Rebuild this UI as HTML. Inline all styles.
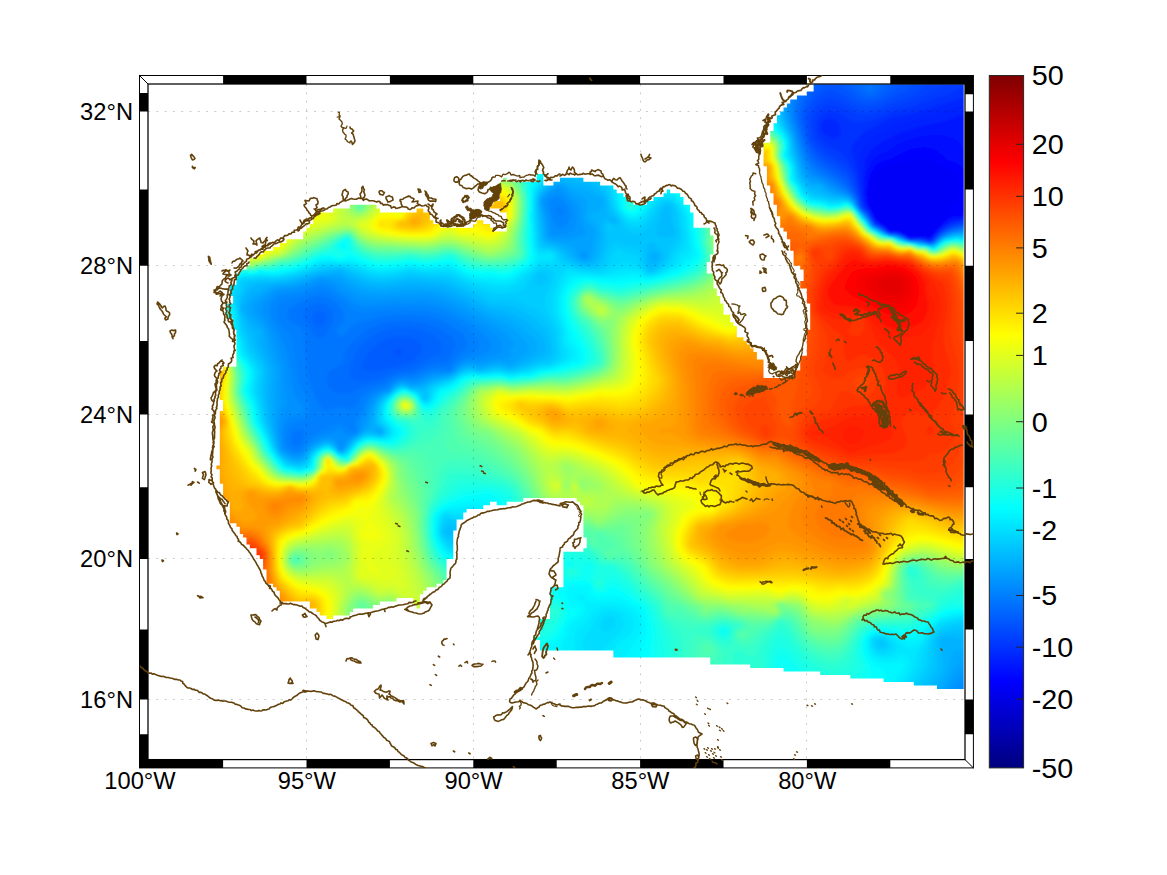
<!DOCTYPE html>
<html><head><meta charset="utf-8"><title>map</title><style>
html,body{margin:0;padding:0;background:#fff;}
body{width:1167px;height:875px;overflow:hidden;font-family:"Liberation Sans",sans-serif;}
svg{display:block;}
text{font-family:"Liberation Sans",sans-serif;fill:#000;}
</style></head><body>
<svg width="1167" height="875" viewBox="0 0 1167 875">
<rect width="1167" height="875" fill="#fff"/>

<defs><clipPath id="dm"><path d="M313.2 216.3L313.2 224.0L309.8 224.0L309.8 227.8L306.5 227.8L306.5 231.6L303.2 231.6L303.2 239.3L286.5 239.3L286.5 243.1L279.8 243.1L279.8 246.9L273.1 246.9L273.1 250.7L263.1 250.7L263.1 254.5L256.5 254.5L256.5 258.3L249.8 258.3L249.8 265.8L246.5 265.8L246.5 269.6L239.8 269.6L239.8 273.4L236.4 273.4L236.4 284.7L229.8 284.7L229.8 296.0L233.1 296.0L233.1 303.5L226.4 303.5L226.4 318.5L233.1 318.5L233.1 329.7L236.4 329.7L236.4 366.8L223.1 366.8L223.1 370.5L219.8 370.5L219.8 400.0L223.1 400.0L223.1 411.0L219.8 411.0L219.8 465.6L216.4 465.6L216.4 469.2L219.8 469.2L219.8 483.7L223.1 483.7L223.1 498.1L226.4 498.1L226.4 501.7L229.8 501.7L229.8 523.2L236.4 523.2L236.4 526.8L239.8 526.8L239.8 533.9L243.1 533.9L243.1 537.5L246.5 537.5L246.5 544.6L249.8 544.6L249.8 548.2L256.5 548.2L256.5 555.3L259.8 555.3L259.8 558.9L263.1 558.9L263.1 569.5L266.5 569.5L266.5 583.7L273.1 583.7L273.1 587.3L276.5 587.3L276.5 590.8L279.8 590.8L279.8 601.4L309.8 601.4L309.8 608.5L316.5 608.5L316.5 612.0L319.8 612.0L319.8 615.5L326.5 615.5L326.5 619.0L333.2 619.0L333.2 615.5L349.9 615.5L349.9 612.0L353.2 612.0L353.2 608.5L373.2 608.5L373.2 604.9L379.9 604.9L379.9 601.4L396.6 601.4L396.6 597.9L413.3 597.9L413.3 604.9L416.6 604.9L416.6 608.5L419.9 608.5L419.9 594.3L423.3 594.3L423.3 590.8L426.6 590.8L426.6 587.3L436.6 587.3L436.6 583.7L443.3 583.7L443.3 580.2L446.6 580.2L446.6 558.9L453.3 558.9L453.3 530.4L456.6 530.4L456.6 519.6L463.3 519.6L463.3 512.4L466.6 512.4L466.6 508.9L483.3 508.9L483.3 505.3L490.0 505.3L490.0 501.7L496.7 501.7L496.7 505.3L506.7 505.3L506.7 501.7L523.3 501.7L523.3 498.1L576.7 498.1L576.7 501.7L580.1 501.7L580.1 505.3L583.4 505.3L583.4 537.5L586.7 537.5L586.7 548.2L583.4 548.2L583.4 551.8L563.4 551.8L563.4 587.3L550.0 587.3L550.0 619.0L540.0 619.0L540.0 636.6L533.3 636.6L533.3 640.1L540.0 640.1L540.0 650.6L613.4 650.6L613.4 657.6L710.2 657.6L710.2 664.6L750.2 664.6L750.2 668.1L783.5 668.1L783.5 671.6L820.2 671.6L820.2 675.1L850.3 675.1L850.3 678.6L883.6 678.6L883.6 682.1L913.7 682.1L913.7 685.6L937.0 685.6L937.0 689.1L963.7 689.1L963.7 95.6L796.9 95.6L796.9 99.6L790.2 99.6L790.2 103.5L786.9 103.5L786.9 107.5L783.5 107.5L783.5 111.4L780.2 111.4L780.2 115.3L776.9 115.3L776.9 123.2L773.5 123.2L773.5 131.1L770.2 131.1L770.2 142.8L763.5 142.8L763.5 166.2L766.9 166.2L766.9 185.5L770.2 185.5L770.2 193.3L773.5 193.3L773.5 204.8L776.9 204.8L776.9 216.3L780.2 216.3L780.2 227.8L783.5 227.8L783.5 231.6L786.9 231.6L786.9 239.3L790.2 239.3L790.2 250.7L793.6 250.7L793.6 265.8L800.2 265.8L800.2 269.6L803.6 269.6L803.6 281.0L800.2 281.0L800.2 288.5L806.9 288.5L806.9 303.5L810.2 303.5L810.2 329.7L806.9 329.7L806.9 355.7L800.2 355.7L800.2 370.5L793.6 370.5L793.6 377.9L763.5 377.9L763.5 359.4L756.9 359.4L756.9 352.0L753.5 352.0L753.5 348.3L750.2 348.3L750.2 344.6L746.9 344.6L746.9 340.9L743.5 340.9L743.5 337.2L736.8 337.2L736.8 326.0L733.5 326.0L733.5 322.2L730.2 322.2L730.2 314.8L723.5 314.8L723.5 303.5L720.2 303.5L720.2 296.0L716.8 296.0L716.8 288.5L713.5 288.5L713.5 273.4L706.8 273.4L706.8 262.1L710.2 262.1L710.2 254.5L713.5 254.5L713.5 235.4L710.2 235.4L710.2 227.8L693.5 227.8L693.5 212.5L690.1 212.5L690.1 204.8L683.5 204.8L683.5 197.1L680.1 197.1L680.1 193.3L670.1 193.3L670.1 189.4L666.8 189.4L666.8 193.3L663.5 193.3L663.5 197.1L653.4 197.1L653.4 201.0L646.8 201.0L646.8 204.8L633.4 204.8L633.4 201.0L626.8 201.0L626.8 197.1L623.4 197.1L623.4 193.3L616.7 193.3L616.7 189.4L613.4 189.4L613.4 185.5L600.1 185.5L600.1 181.7L583.4 181.7L583.4 177.8L560.0 177.8L560.0 181.7L553.4 181.7L553.4 185.5L543.4 185.5L543.4 173.9L536.7 173.9L536.7 181.7L506.7 181.7L506.7 177.8L503.3 177.8L503.3 181.7L500.0 181.7L500.0 201.0L493.3 201.0L493.3 204.8L490.0 204.8L490.0 208.6L500.0 208.6L500.0 212.5L506.7 212.5L506.7 231.6L493.3 231.6L493.3 227.8L490.0 227.8L490.0 224.0L483.3 224.0L483.3 220.2L476.6 220.2L476.6 224.0L473.3 224.0L473.3 227.8L439.9 227.8L439.9 224.0L433.3 224.0L433.3 220.2L429.9 220.2L429.9 212.5L423.3 212.5L423.3 208.6L416.6 208.6L416.6 212.5L379.9 212.5L379.9 208.6L376.6 208.6L376.6 204.8L349.9 204.8L349.9 208.6L333.2 208.6L333.2 212.5L316.5 212.5L316.5 216.3ZM963.7 84.3L813.6 84.3L813.6 91.6L806.9 91.6L806.9 95.6L963.7 95.6Z"/></clipPath><filter id="bl" x="-2%" y="-2%" width="104%" height="104%"><feGaussianBlur stdDeviation="1.5"/></filter></defs>
<g clip-path="url(#dm)"><g filter="url(#bl)">
<rect x="204" y="71" width="773" height="631" fill="#0000f8"/>
<path fill="#0006ff" d="M211.6 464.1l-.1 6.1 3.3 3.7 0 10.3 3.3 4.2 .4 11.6 6.3 6.4 .4 18.7 2.2 2.5 4.3 .6 3.1 3.3 .4 4.3 6.3 6.4 .8 5.2 4.7 5 4.5 .8 .8 4.9 5.8 5.5 .2 7.4 3.2 3.3 .8 12.2 6.1 2.2 6.4 6.8 .2 7.4 2.5 2.9 27.3 .6 1.9 5.9 5 1.2 5 5.9 5 1.1 3.4 3.3 9.5 0 3.4-3.3 13.3-.2 6.7-6.8 16.2-.1 3.8-3.5 4.7-.8 2-2.7 12.8-.1 3.9-3.4 6.9 0 .8 4.8 5.6 5.4 8.4-.8 1.8-3.3 0-9.9 3.2-3.5 3.3-3.3 6.7-.2 3.3-3.4 4.2-.6 5.4-5.6 .6-18.6 4.5-.9 2.1-3.1 .1-24.8 3.1-3.3 .2-7.2 5.2-1.5 1.5-5.9 3.1-3.3 12.9-.1 3.8-3.5 5.2-1.3 2.9 1.2 11.4 0 3.9-3.5 13.3-.2 3.3-3.4 43.8 0 6.5 6.9 0 28 3.3 5.5-3.1 3.3-16.2 .1-3.6 2.9-.4 32.5-9.3 .1-3.5 2.5-.6 29.1-6 .1-2.8 1.8-1.2 15.7-4.4 .9-2.2 3.1 .5 6.9 2.5 2.2 3.6 .4 .2 7 2.5 3 70.7 .5 .9 4.8 4.1 2.2 91.8 0 .8 4.8 3.7 2.2 35.7 0 3.8 3.4 29.6 .1 4.3 3.5 32.4 0 3.8 3.4 26.2 .1 4.3 3.5 29.1 0 4.2 3.5 25.8 0 3.3 3.3 20 .2 4.3 3.4 29.5-.5 2.7-4.4-.6-607.2-4.4-2.6-151.1 .1-3.4 2.5-.6 4.7-4.5 .9-2.1 3.1-7 .4-3 3.6-5 1.1-14.3 16.9-.8 5.9-3.1 3.3-.3 4.5-3.1 3.3-.2 8.2-4 .6-2.5 2.9-.1 25.8 3.3 3.8 .1 15.6 3.2 3.7 .6 5.4 2.7 2.4 .1 7.8 3.3 3.7 .4 8.7 2.9 2.8 .2 8.3 6.5 7 .4 4.9 2.9 2.8 .2 8.1 3.2 3.3 .3 12.4 2.3 2.4 4.2 .6 3.2 3.5-3.3 5.7 0 9.5 2.2 3.1 4.4 .9 .1 11 3.2 3.7 0 16.8-3.3 4.2 0 21.5-5.8 2.2-.9 12.6-5.5 1.9-1.1 5.5-20.1 0-.8-16.3-5.8-2.2-.9-5.2-13.9-15.6-5.3-1.4-.3-8.1-6.3-6.6-.6-5.1-2.5-2.3-3.6-.3-.4-8.2-2.9-2.8-.3-4.2-3.1-3.3-.6-5.2-2.7-2.3-.4-12.3-2.3-2.5-4-.6 3-4.4 .4-4.8 3.3-4.2 0-20.1-3.3-4.2-.6-5.3-3.5-2.5-12.6-.1-.1-11.3-3.3-3.7-.8-5.8-5.8-2.2-.6-5-4.6-5.4-8.3-1.1-3.4-3.7-6.7 .2-6.3 7.3-7.1 .4-2.9 3.5-5 1.1-1.7 2.7-3.6 0-2.5-3.3-4.2-.5-5.4-6.9-4.6-.8-5.8-7.2-10.9-.6-3.9-3.7-12.7-.1-3.9-3.8-25.3 0-3.9 3.8-4.6 .8-2.1 3-.5-8.5-3.7-3-10.4 .8-2 2.7-.2 4.2-20.2 0-2.9-3.5-6.3-.3-7.1 7.3-.2 15.8-4.9 1.1-5.1 7.7 .1 4.8 1.7 2.9 8.3 1.1 2.5 3.3 4.1 .6 0 9.1-3.5 0-5-6.5-5-1.1-4.4-3.8-9.5 .5-5.9 7.1-23.6 0-1.7-2.7-5-1.1-3.2-3.6-1.4-6.5-5.4-1.4-4.3-3.8-8.7 .2-3.4 3.6-27 0-7.2-7.6-27.6-.1-3.2 1.1-1.7 2.7-12.3 .1-4.4 3.8-14.1 .6-5.4 5.9-.6 5.3-9.2 9.5-.8 5.5-13.6 .3-3 3.5-5 1.1-1.6 2.7-4.6 .8-2.1 3-7.1 .3-2.9 3.5-5 1.1-1.7 2.7-4.6 .8-2 2.7-.2 4.3-3.2 3.5-5 1.2-4.3 4.8-.9 9.1-4 .6-2.2 2.5 .3 15.8-4 3.9 0 16.5 2.2 3.7 4.4 .8 .2 7.7 3.1 3.2 0 27.4-10.2 .4-6.3 7.3-.1 31 3.3 5.8-3.3 4.2 0 50.4zM910 159.3l6-.8 6 0 6 .9 6 2.1 12.4 6.5 6.5 4 4 4 1.3 2 1.3 4 .6 4-.1 6-2 8.9-2 3-6 .9-.7 1.2 .7 1.6 .8 .4 1.6 2-.6 2-11.8 12.7-8 9.7-2 1.9-2 .7-10-.5-8 .5-2-.9-4-2.9-6-2.2-8-.7-12.7-10.3-5.3-10.4-3.1-7.6-.4-8 1.5-9.2 2.5-6.8 3.8-6 3.7-3.3 4-2.2z"/>
<path fill="#000eff" d="M211.6 464.1l-.1 6.1 3.3 3.7 0 10.3 3.3 4.2 .4 11.6 6.3 6.4 .4 18.7 2.2 2.5 4.3 .6 3.1 3.3 .4 4.3 6.3 6.4 .8 5.2 4.7 5 4.5 .8 .8 4.9 5.8 5.5 .2 7.4 3.2 3.3 .8 12.2 6.1 2.2 6.4 6.8 .2 7.4 2.5 2.9 27.3 .6 1.9 5.9 5 1.2 5 5.9 5 1.1 3.4 3.3 9.5 0 3.4-3.3 13.3-.2 6.7-6.8 16.2-.1 3.8-3.5 4.7-.8 2-2.7 12.8-.1 3.9-3.4 6.9 0 .8 4.8 5.6 5.4 8.4-.8 1.8-3.3 0-9.9 3.2-3.5 3.3-3.3 6.7-.2 3.3-3.4 4.2-.6 5.4-5.6 .6-18.6 4.5-.9 2.1-3.1 .1-24.8 3.1-3.3 .2-7.2 5.2-1.5 1.5-5.9 3.1-3.3 12.9-.1 3.8-3.5 5.2-1.3 2.9 1.2 11.4 0 3.9-3.5 13.3-.2 3.3-3.4 43.8 0 6.5 6.9 0 28 3.3 5.5-3.1 3.3-16.2 .1-3.6 2.9-.4 32.5-9.3 .1-3.5 2.5-.6 29.1-6 .1-2.8 1.8-1.2 15.7-4.4 .9-2.2 3.1 .5 6.9 2.5 2.2 3.6 .4 .2 7 2.5 3 70.7 .5 .9 4.8 4.1 2.2 91.8 0 .8 4.8 3.7 2.2 35.7 0 3.8 3.4 29.6 .1 4.3 3.5 32.4 0 3.8 3.4 26.2 .1 4.3 3.5 29.1 0 4.2 3.5 25.8 0 3.3 3.3 20 .2 4.3 3.4 29.5-.5 2.7-4.4-.6-607.2-4.4-2.6-151.1 .1-3.4 2.5-.6 4.7-4.5 .9-2.1 3.1-7 .4-3 3.6-5 1.1-14.3 16.9-.8 5.9-3.1 3.3-.3 4.5-3.1 3.3-.2 8.2-4 .6-2.5 2.9-.1 25.8 3.3 3.8 .1 15.6 3.2 3.7 .6 5.4 2.7 2.4 .1 7.8 3.3 3.7 .4 8.7 2.9 2.8 .2 8.3 6.5 7 .4 4.9 2.9 2.8 .2 8.1 3.2 3.3 .3 12.4 2.3 2.4 4.2 .6 3.2 3.5-3.3 5.7 0 9.5 2.2 3.1 4.4 .9 .1 11 3.2 3.7 0 16.8-3.3 4.2 0 21.5-5.8 2.2-.9 12.6-5.5 1.9-1.1 5.5-20.1 0-.8-16.3-5.8-2.2-.9-5.2-13.9-15.6-5.3-1.4-.3-8.1-6.3-6.6-.6-5.1-2.5-2.3-3.6-.3-.4-8.2-2.9-2.8-.3-4.2-3.1-3.3-.6-5.2-2.7-2.3-.4-12.3-2.3-2.5-4-.6 3-4.4 .4-4.8 3.3-4.2 0-20.1-3.3-4.2-.6-5.3-3.5-2.5-12.6-.1-.1-11.3-3.3-3.7-.8-5.8-5.8-2.2-.6-5-4.6-5.4-8.3-1.1-3.4-3.7-6.7 .2-6.3 7.3-7.1 .4-2.9 3.5-5 1.1-1.7 2.7-3.6 0-2.5-3.3-4.2-.5-5.4-6.9-4.6-.8-5.8-7.2-10.9-.6-3.9-3.7-12.7-.1-3.9-3.8-25.3 0-3.9 3.8-4.6 .8-2.1 3-.5-8.5-3.7-3-10.4 .8-2 2.7-.2 4.2-20.2 0-2.9-3.5-6.3-.3-7.1 7.3-.2 15.8-4.9 1.1-5.1 7.7 .1 4.8 1.7 2.9 8.3 1.1 2.5 3.3 4.1 .6 0 9.1-3.5 0-5-6.5-5-1.1-4.4-3.8-9.5 .5-5.9 7.1-23.6 0-1.7-2.7-5-1.1-3.2-3.6-1.4-6.5-5.4-1.4-4.3-3.8-8.7 .2-3.4 3.6-27 0-7.2-7.6-27.6-.1-3.2 1.1-1.7 2.7-12.3 .1-4.4 3.8-14.1 .6-5.4 5.9-.6 5.3-9.2 9.5-.8 5.5-13.6 .3-3 3.5-5 1.1-1.6 2.7-4.6 .8-2.1 3-7.1 .3-2.9 3.5-5 1.1-1.7 2.7-4.6 .8-2 2.7-.2 4.3-3.2 3.5-5 1.2-4.3 4.8-.9 9.1-4 .6-2.2 2.5 .3 15.8-4 3.9 0 16.5 2.2 3.7 4.4 .8 .2 7.7 3.1 3.2 0 27.4-10.2 .4-6.3 7.3-.1 31 3.3 5.8-3.3 4.2 0 50.4zM918 147.4l6-.3 6 .7 4 1.2 4 2.2 10 8.5 8 3.1 5.1 3.2 2.9 3.4 1.4 2.6 1.6 6 .3 6-.5 6-2.9 20-1.4 6-.5 .4-8-.3-4 1.6-4 2.9-4 3.7-10.3 11.7-1.7 1.5-2 .5-10-1-8 1-8-4.9-6-1.6-6-.5-6-4.9-5.9-4.1-1.8-2-8.2-16-1-4-.1-10 1.6-10 1.4-4.8 2-4.6 4-5.5 2-1.7 4-2.3 10-2.8 8-4.8 6-3 6-2z"/>
<path fill="#0017ff" d="M968.2 205l-2.1 7-2.1 4.1-2 1.5-8 .8-6 2.6-8 6.7-10 11-12-1.2-8 1.1-6-4-4-1.7-4-.8-6-.3-6-5.1-7.1-4.7-1.5-2-8.8-16-.9-4-.5-10 .7-10 1.4-8 2.7-7.8 2.6-4.2 5.4-4.8 10-4.5 10-6.8 10-4.5 10-2.7 12-1.7 10 .1 8 1.3 4.8 1.6 5.2 3.6 6 6.7 4.2 6-.1-72.4-4.4-2.6-151.1 .1-3.4 2.5-.6 4.7-4.5 .9-2.1 3.1-7 .4-3 3.6-5 1.1-14.3 16.9-.8 5.9-3.1 3.3-.3 4.5-3.1 3.3-.2 8.2-4 .6-2.5 2.9-.1 25.8 3.3 3.8 .1 15.6 3.2 3.7 .6 5.4 2.7 2.4 .1 7.8 3.3 3.7 .4 8.7 2.9 2.8 .2 8.3 6.5 7 .4 4.9 2.9 2.8 .2 8.1 3.2 3.3 .3 12.4 2.3 2.4 4.2 .6 3.2 3.5-3.3 5.7 0 9.5 2.2 3.1 4.4 .9 .1 11 3.2 3.7 0 16.8-3.3 4.2 0 21.5-5.8 2.2-.9 12.6-5.5 1.9-1.1 5.5-20.1 0-.8-16.3-5.8-2.2-.9-5.2-13.9-15.6-5.3-1.4-.3-8.1-6.3-6.6-.6-5.1-2.5-2.3-3.6-.3-.4-8.2-2.9-2.8-.3-4.2-3.1-3.3-.6-5.2-2.7-2.3-.4-12.3-2.3-2.5-4-.6 3-4.4 .4-4.8 3.3-4.2 0-20.1-3.3-4.2-.6-5.3-3.5-2.5-12.6-.1-.1-11.3-3.3-3.7-.8-5.8-5.8-2.2-.6-5-4.6-5.4-8.3-1.1-3.4-3.7-6.7 .2-6.3 7.3-7.1 .4-2.9 3.5-5 1.1-1.7 2.7-3.6 0-2.5-3.3-4.2-.5-5.4-6.9-4.6-.8-5.8-7.2-10.9-.6-3.9-3.7-12.7-.1-3.9-3.8-25.3 0-3.9 3.8-4.6 .8-2.1 3-.5-8.5-3.7-3-10.4 .8-2 2.7-.2 4.2-20.2 0-2.9-3.5-6.3-.3-7.1 7.3-.2 15.8-4.9 1.1-5.1 7.7 .1 4.8 1.7 2.9 8.3 1.1 2.5 3.3 4.1 .6 0 9.1-3.5 0-5-6.5-5-1.1-4.4-3.8-9.5 .5-5.9 7.1-23.6 0-1.7-2.7-5-1.1-3.2-3.6-1.4-6.5-5.4-1.4-4.3-3.8-8.7 .2-3.4 3.6-27 0-7.2-7.6-27.6-.1-3.2 1.1-1.7 2.7-12.3 .1-4.4 3.8-14.1 .6-5.4 5.9-.6 5.3-9.2 9.5-.8 5.5-13.6 .3-3 3.5-5 1.1-1.6 2.7-4.6 .8-2.1 3-7.1 .3-2.9 3.5-5 1.1-1.7 2.7-4.6 .8-2 2.7-.2 4.3-3.2 3.5-5 1.2-4.3 4.8-.9 9.1-4 .6-2.2 2.5 .3 15.8-4 3.9 0 16.5 2.2 3.7 4.4 .8 .2 7.7 3.1 3.2 0 27.4-10.2 .4-6.3 7.3-.1 31 3.3 5.8-3.3 4.2 0 50.4-3.2 3.2-.1 6.1 3.3 3.7 0 10.3 3.3 4.2 .4 11.6 6.3 6.4 .4 18.7 2.2 2.5 4.3 .6 3.1 3.3 .4 4.3 6.3 6.4 .8 5.2 4.7 5 4.5 .8 .8 4.9 5.8 5.5 .2 7.4 3.2 3.3 .8 12.2 6.1 2.2 6.4 6.8 .2 7.4 2.5 2.9 27.3 .6 1.9 5.9 5 1.2 5 5.9 5 1.1 3.4 3.3 9.5 0 3.4-3.3 13.3-.2 6.7-6.8 16.2-.1 3.8-3.5 4.7-.8 2-2.7 12.8-.1 3.9-3.4 6.9 0 .8 4.8 5.6 5.4 8.4-.8 1.8-3.3 0-9.9 3.2-3.5 3.3-3.3 6.7-.2 3.3-3.4 4.2-.6 5.4-5.6 .6-18.6 4.5-.9 2.1-3.1 .1-24.8 3.1-3.3 .2-7.2 5.2-1.5 1.5-5.9 3.1-3.3 12.9-.1 3.8-3.5 5.2-1.3 2.9 1.2 11.4 0 3.9-3.5 13.3-.2 3.3-3.4 43.8 0 6.5 6.9 0 28 3.3 5.5-3.1 3.3-16.2 .1-3.6 2.9-.4 32.5-9.3 .1-3.5 2.5-.6 29.1-6 .1-2.8 1.8-1.2 15.7-4.4 .9-2.2 3.1 .5 6.9 2.5 2.2 3.6 .4 .2 7 2.5 3 70.7 .5 .9 4.8 4.1 2.2 91.8 0 .8 4.8 3.7 2.2 35.7 0 3.8 3.4 29.6 .1 4.3 3.5 32.4 0 3.8 3.4 26.2 .1 4.3 3.5 29.1 0 4.2 3.5 25.8 0 3.3 3.3 20 .2 4.3 3.4 29.5-.5 2.7-4.4z"/>
<path fill="#0020ff" d="M968.2 212l-2.4 4-2.3 2-1.5 .7-10 2-4 1.9-4 2.8-6 5.5-8 8.9-10-1.7-6 .2-4 .9-6-4.1-4-1.7-4-.9-6-.1-6-5.1-8.1-5.3-4.4-8-6.2-10-1.3-8-.6-12 1.1-18 1.2-6 1.5-4 2.5-4 2.3-2.6 4-3.4 6-4.1 10-6 8.7-3.9 29.3-7.9 16-3.4 6-2.1 8-3.6 2-.5 2 .6 4.1 2.8 0-36-4.4-2.6-151.1 .1-3.4 2.5-.6 4.7-4.5 .9-2.1 3.1-7 .4-3 3.6-5 1.1-14.3 16.9-.8 5.9-3.1 3.3-.3 4.5-3.1 3.3-.2 8.2-4 .6-2.5 2.9-.1 25.8 3.3 3.8 .1 15.6 3.2 3.7 .6 5.4 2.7 2.4 .1 7.8 3.3 3.7 .4 8.7 2.9 2.8 .2 8.3 6.5 7 .4 4.9 2.9 2.8 .2 8.1 3.2 3.3 .3 12.4 2.3 2.4 4.2 .6 3.2 3.5-3.3 5.7 0 9.5 2.2 3.1 4.4 .9 .1 11 3.2 3.7 0 16.8-3.3 4.2 0 21.5-5.8 2.2-.9 12.6-5.5 1.9-1.1 5.5-20.1 0-.8-16.3-5.8-2.2-.9-5.2-13.9-15.6-5.3-1.4-.3-8.1-6.3-6.6-.6-5.1-2.5-2.3-3.6-.3-.4-8.2-2.9-2.8-.3-4.2-3.1-3.3-.6-5.2-2.7-2.3-.4-12.3-2.3-2.5-4-.6 3-4.4 .4-4.8 3.3-4.2 0-20.1-3.3-4.2-.6-5.3-3.5-2.5-12.6-.1-.1-11.3-3.3-3.7-.8-5.8-5.8-2.2-.6-5-4.6-5.4-8.3-1.1-3.4-3.7-6.7 .2-6.3 7.3-7.1 .4-2.9 3.5-5 1.1-1.7 2.7-3.6 0-2.5-3.3-4.2-.5-5.4-6.9-4.6-.8-5.8-7.2-10.9-.6-3.9-3.7-12.7-.1-3.9-3.8-25.3 0-3.9 3.8-4.6 .8-2.1 3-.5-8.5-3.7-3-10.4 .8-2 2.7-.2 4.2-20.2 0-2.9-3.5-6.3-.3-7.1 7.3-.2 15.8-4.9 1.1-5.1 7.7 .1 4.8 1.7 2.9 8.3 1.1 2.5 3.3 4.1 .6 0 9.1-3.5 0-5-6.5-5-1.1-4.4-3.8-9.5 .5-5.9 7.1-23.6 0-1.7-2.7-5-1.1-3.2-3.6-1.4-6.5-5.4-1.4-4.3-3.8-8.7 .2-3.4 3.6-27 0-7.2-7.6-27.6-.1-3.2 1.1-1.7 2.7-12.3 .1-4.4 3.8-14.1 .6-5.4 5.9-.6 5.3-9.2 9.5-.8 5.5-13.6 .3-3 3.5-5 1.1-1.6 2.7-4.6 .8-2.1 3-7.1 .3-2.9 3.5-5 1.1-1.7 2.7-4.6 .8-2 2.7-.2 4.3-3.2 3.5-5 1.2-4.3 4.8-.9 9.1-4 .6-2.2 2.5 .3 15.8-4 3.9 0 16.5 2.2 3.7 4.4 .8 .2 7.7 3.1 3.2 0 27.4-10.2 .4-6.3 7.3-.1 31 3.3 5.8-3.3 4.2 0 50.4-3.2 3.2-.1 6.1 3.3 3.7 0 10.3 3.3 4.2 .4 11.6 6.3 6.4 .4 18.7 2.2 2.5 4.3 .6 3.1 3.3 .4 4.3 6.3 6.4 .8 5.2 4.7 5 4.5 .8 .8 4.9 5.8 5.5 .2 7.4 3.2 3.3 .8 12.2 6.1 2.2 6.4 6.8 .2 7.4 2.5 2.9 27.3 .6 1.9 5.9 5 1.2 5 5.9 5 1.1 3.4 3.3 9.5 0 3.4-3.3 13.3-.2 6.7-6.8 16.2-.1 3.8-3.5 4.7-.8 2-2.7 12.8-.1 3.9-3.4 6.9 0 .8 4.8 5.6 5.4 8.4-.8 1.8-3.3 0-9.9 3.2-3.5 3.3-3.3 6.7-.2 3.3-3.4 4.2-.6 5.4-5.6 .6-18.6 4.5-.9 2.1-3.1 .1-24.8 3.1-3.3 .2-7.2 5.2-1.5 1.5-5.9 3.1-3.3 12.9-.1 3.8-3.5 5.2-1.3 2.9 1.2 11.4 0 3.9-3.5 13.3-.2 3.3-3.4 43.8 0 6.5 6.9 0 28 3.3 5.5-3.1 3.3-16.2 .1-3.6 2.9-.4 32.5-9.3 .1-3.5 2.5-.6 29.1-6 .1-2.8 1.8-1.2 15.7-4.4 .9-2.2 3.1 .5 6.9 2.5 2.2 3.6 .4 .2 7 2.5 3 70.7 .5 .9 4.8 4.1 2.2 91.8 0 .8 4.8 3.7 2.2 35.7 0 3.8 3.4 29.6 .1 4.3 3.5 32.4 0 3.8 3.4 26.2 .1 4.3 3.5 29.1 0 4.2 3.5 25.8 0 3.3 3.3 20 .2 4.3 3.4 29.5-.5 2.7-4.4z"/>
<path fill="#0028ff" d="M968.2 215.1l-4.2 3.9-2 .9-10 2.3-6 3-6 4.9-10 10.8-6-1.9-4-.5-6 .2-4 1.1-4-3.1-6-2.9-4-1-6 .3-6-5.2-8.9-5.9-4.3-8-5.9-8-.9-2-2.4-18-1.8-28 .4-4 1.1-4 2.3-4 3.4-4 7.5-6 17-10 5.7-2 26.8-6.4 34-10.5 6-.9 4.1 .2 0-24.5-4.4-2.6-151.1 .1-3.4 2.5-.6 4.7-4.5 .9-2.1 3.1-7 .4-3 3.6-5 1.1-14.3 16.9-.8 5.9-3.1 3.3-.3 4.5-3.1 3.3-.2 8.2-4 .6-2.5 2.9-.1 25.8 3.3 3.8 .1 15.6 3.2 3.7 .6 5.4 2.7 2.4 .1 7.8 3.3 3.7 .4 8.7 2.9 2.8 .2 8.3 6.5 7 .4 4.9 2.9 2.8 .2 8.1 3.2 3.3 .3 12.4 2.3 2.4 4.2 .6 3.2 3.5-3.3 5.7 0 9.5 2.2 3.1 4.4 .9 .1 11 3.2 3.7 0 16.8-3.3 4.2 0 21.5-5.8 2.2-.9 12.6-5.5 1.9-1.1 5.5-20.1 0-.8-16.3-5.8-2.2-.9-5.2-13.9-15.6-5.3-1.4-.3-8.1-6.3-6.6-.6-5.1-2.5-2.3-3.6-.3-.4-8.2-2.9-2.8-.3-4.2-3.1-3.3-.6-5.2-2.7-2.3-.4-12.3-2.3-2.5-4-.6 3-4.4 .4-4.8 3.3-4.2 0-20.1-3.3-4.2-.6-5.3-3.5-2.5-12.6-.1-.1-11.3-3.3-3.7-.8-5.8-5.8-2.2-.6-5-4.6-5.4-8.3-1.1-3.4-3.7-6.7 .2-6.3 7.3-7.1 .4-2.9 3.5-5 1.1-1.7 2.7-3.6 0-2.5-3.3-4.2-.5-5.4-6.9-4.6-.8-5.8-7.2-10.9-.6-3.9-3.7-12.7-.1-3.9-3.8-25.3 0-3.9 3.8-4.6 .8-2.1 3-.5-8.5-3.7-3-10.4 .8-2 2.7-.2 4.2-20.2 0-2.9-3.5-6.3-.3-7.1 7.3-.2 15.8-4.9 1.1-5.1 7.7 .1 4.8 1.7 2.9 8.3 1.1 2.5 3.3 4.1 .6 0 9.1-3.5 0-5-6.5-5-1.1-4.4-3.8-9.5 .5-5.9 7.1-23.6 0-1.7-2.7-5-1.1-3.2-3.6-1.4-6.5-5.4-1.4-4.3-3.8-8.7 .2-3.4 3.6-27 0-7.2-7.6-27.6-.1-3.2 1.1-1.7 2.7-12.3 .1-4.4 3.8-14.1 .6-5.4 5.9-.6 5.3-9.2 9.5-.8 5.5-13.6 .3-3 3.5-5 1.1-1.6 2.7-4.6 .8-2.1 3-7.1 .3-2.9 3.5-5 1.1-1.7 2.7-4.6 .8-2 2.7-.2 4.3-3.2 3.5-5 1.2-4.3 4.8-.9 9.1-4 .6-2.2 2.5 .3 15.8-4 3.9 0 16.5 2.2 3.7 4.4 .8 .2 7.7 3.1 3.2 0 27.4-10.2 .4-6.3 7.3-.1 31 3.3 5.8-3.3 4.2 0 50.4-3.2 3.2-.1 6.1 3.3 3.7 0 10.3 3.3 4.2 .4 11.6 6.3 6.4 .4 18.7 2.2 2.5 4.3 .6 3.1 3.3 .4 4.3 6.3 6.4 .8 5.2 4.7 5 4.5 .8 .8 4.9 5.8 5.5 .2 7.4 3.2 3.3 .8 12.2 6.1 2.2 6.4 6.8 .2 7.4 2.5 2.9 27.3 .6 1.9 5.9 5 1.2 5 5.9 5 1.1 3.4 3.3 9.5 0 3.4-3.3 13.3-.2 6.7-6.8 16.2-.1 3.8-3.5 4.7-.8 2-2.7 12.8-.1 3.9-3.4 6.9 0 .8 4.8 5.6 5.4 8.4-.8 1.8-3.3 0-9.9 3.2-3.5 3.3-3.3 6.7-.2 3.3-3.4 4.2-.6 5.4-5.6 .6-18.6 4.5-.9 2.1-3.1 .1-24.8 3.1-3.3 .2-7.2 5.2-1.5 1.5-5.9 3.1-3.3 12.9-.1 3.8-3.5 5.2-1.3 2.9 1.2 11.4 0 3.9-3.5 13.3-.2 3.3-3.4 43.8 0 6.5 6.9 0 28 3.3 5.5-3.1 3.3-16.2 .1-3.6 2.9-.4 32.5-9.3 .1-3.5 2.5-.6 29.1-6 .1-2.8 1.8-1.2 15.7-4.4 .9-2.2 3.1 .5 6.9 2.5 2.2 3.6 .4 .2 7 2.5 3 70.7 .5 .9 4.8 4.1 2.2 91.8 0 .8 4.8 3.7 2.2 35.7 0 3.8 3.4 29.6 .1 4.3 3.5 32.4 0 3.8 3.4 26.2 .1 4.3 3.5 29.1 0 4.2 3.5 25.8 0 3.3 3.3 20 .2 4.3 3.4 29.5-.5 2.7-4.4z"/>
<path fill="#0031ff" d="M968.2 217.1l-4.2 3.1-12 3.3-6 2.9-6 4.6-10 11-4-2-6-1.1-6 .1-4 1.1-4-3-6-2.9-6-1.1-4 .6-6-5.3-7.6-4.4-2.1-2-4.3-8-6.3-8-.7-2-2.9-16-2.3-16-5.6-18-.8-4 .5-4 1.1-2 8.8-10 6.2-4 14-7.2 8-5.2 14-2 10-2.3 46-14.8 8.1-2.1 0-14.5-4.4-2.6-151.1 .1-3.4 2.5-.6 4.7-4.5 .9-2.1 3.1-7 .4-3 3.6-5 1.1-14.3 16.9-.8 5.9-3.1 3.3-.3 4.5-3.1 3.3-.2 8.2-4 .6-2.5 2.9-.1 25.8 3.3 3.8 .1 15.6 3.2 3.7 .6 5.4 2.7 2.4 .1 7.8 3.3 3.7 .4 8.7 2.9 2.8 .2 8.3 6.5 7 .4 4.9 2.9 2.8 .2 8.1 3.2 3.3 .3 12.4 2.3 2.4 4.2 .6 3.2 3.5-3.3 5.7 0 9.5 2.2 3.1 4.4 .9 .1 11 3.2 3.7 0 16.8-3.3 4.2 0 21.5-5.8 2.2-.9 12.6-5.5 1.9-1.1 5.5-20.1 0-.8-16.3-5.8-2.2-.9-5.2-13.9-15.6-5.3-1.4-.3-8.1-6.3-6.6-.6-5.1-2.5-2.3-3.6-.3-.4-8.2-2.9-2.8-.3-4.2-3.1-3.3-.6-5.2-2.7-2.3-.4-12.3-2.3-2.5-4-.6 3-4.4 .4-4.8 3.3-4.2 0-20.1-3.3-4.2-.6-5.3-3.5-2.5-12.6-.1-.1-11.3-3.3-3.7-.8-5.8-5.8-2.2-.6-5-4.6-5.4-8.3-1.1-3.4-3.7-6.7 .2-6.3 7.3-7.1 .4-2.9 3.5-5 1.1-1.7 2.7-3.6 0-2.5-3.3-4.2-.5-5.4-6.9-4.6-.8-5.8-7.2-10.9-.6-3.9-3.7-12.7-.1-3.9-3.8-25.3 0-3.9 3.8-4.6 .8-2.1 3-.5-8.5-3.7-3-10.4 .8-2 2.7-.2 4.2-20.2 0-2.9-3.5-6.3-.3-7.1 7.3-.2 15.8-4.9 1.1-5.1 7.7 .1 4.8 1.7 2.9 8.3 1.1 2.5 3.3 4.1 .6 0 9.1-3.5 0-5-6.5-5-1.1-4.4-3.8-9.5 .5-5.9 7.1-23.6 0-1.7-2.7-5-1.1-3.2-3.6-1.4-6.5-5.4-1.4-4.3-3.8-8.7 .2-3.4 3.6-27 0-7.2-7.6-27.6-.1-3.2 1.1-1.7 2.7-12.3 .1-4.4 3.8-14.1 .6-5.4 5.9-.6 5.3-9.2 9.5-.8 5.5-13.6 .3-3 3.5-5 1.1-1.6 2.7-4.6 .8-2.1 3-7.1 .3-2.9 3.5-5 1.1-1.7 2.7-4.6 .8-2 2.7-.2 4.3-3.2 3.5-5 1.2-4.3 4.8-.9 9.1-4 .6-2.2 2.5 .3 15.8-4 3.9 0 16.5 2.2 3.7 4.4 .8 .2 7.7 3.1 3.2 0 27.4-10.2 .4-6.3 7.3-.1 31 3.3 5.8-3.3 4.2 0 50.4-3.2 3.2-.1 6.1 3.3 3.7 0 10.3 3.3 4.2 .4 11.6 6.3 6.4 .4 18.7 2.2 2.5 4.3 .6 3.1 3.3 .4 4.3 6.3 6.4 .8 5.2 4.7 5 4.5 .8 .8 4.9 5.8 5.5 .2 7.4 3.2 3.3 .8 12.2 6.1 2.2 6.4 6.8 .2 7.4 2.5 2.9 27.3 .6 1.9 5.9 5 1.2 5 5.9 5 1.1 3.4 3.3 9.5 0 3.4-3.3 13.3-.2 6.7-6.8 16.2-.1 3.8-3.5 4.7-.8 2-2.7 12.8-.1 3.9-3.4 6.9 0 .8 4.8 5.6 5.4 8.4-.8 1.8-3.3 0-9.9 3.2-3.5 3.3-3.3 6.7-.2 3.3-3.4 4.2-.6 5.4-5.6 .6-18.6 4.5-.9 2.1-3.1 .1-24.8 3.1-3.3 .2-7.2 5.2-1.5 1.5-5.9 3.1-3.3 12.9-.1 3.8-3.5 5.2-1.3 2.9 1.2 11.4 0 3.9-3.5 13.3-.2 3.3-3.4 43.8 0 6.5 6.9 0 28 3.3 5.5-3.1 3.3-16.2 .1-3.6 2.9-.4 32.5-9.3 .1-3.5 2.5-.6 29.1-6 .1-2.8 1.8-1.2 15.7-4.4 .9-2.2 3.1 .5 6.9 2.5 2.2 3.6 .4 .2 7 2.5 3 70.7 .5 .9 4.8 4.1 2.2 91.8 0 .8 4.8 3.7 2.2 35.7 0 3.8 3.4 29.6 .1 4.3 3.5 32.4 0 3.8 3.4 26.2 .1 4.3 3.5 29.1 0 4.2 3.5 25.8 0 3.3 3.3 20 .2 4.3 3.4 29.5-.5 2.7-4.4zM828 118.6l4 .3 2.5 1.1 2.7 2 2.7 4 .8 4-.7 4-2 3-1.9 1-4.1 .2-4-1.4-4-3-2-3.1-.8-4.7 .8-3 2-2.6 2-1.2z"/>
<path fill="#003aff" d="M968 218.9l-4 2.4-12 3.3-6 2.9-6 4.5-7.4 8-2.6 2.2-4-1.8-6-1.1-6 0-4 1-4-2.8-6-2.9-6-1.2-4.2 .6-5.8-5.1-4-2.6-4.8-2.3-1.2-1.2-4.7-8.8-6.8-8-6.9-32-3.6-8-4-5.9-6-6.5-4-3-10-5.8-6-4.9-2-2.5-1.8-3.4-1.1-4-.2-4 .5-4 1.8-4 2.8-3.3 4-2.3 4-.9 6 1 4 1.7 10 6.5 4 1.9 6 .5 6-.9 10-3.1 14-6.7 22-4.9 26-10 12-3.2 12-7 6.1-2.9 0-2.5-4.4-2.6-151.1 .1-3.4 2.5-.6 4.7-4.5 .9-2.1 3.1-7 .4-3 3.6-5 1.1-14.3 16.9-.8 5.9-3.1 3.3-.3 4.5-3.1 3.3-.2 8.2-4 .6-2.5 2.9-.1 25.8 3.3 3.8 .1 15.6 3.2 3.7 .6 5.4 2.7 2.4 .1 7.8 3.3 3.7 .4 8.7 2.9 2.8 .2 8.3 6.5 7 .4 4.9 2.9 2.8 .2 8.1 3.2 3.3 .3 12.4 2.3 2.4 4.2 .6 3.2 3.5-3.3 5.7 0 9.5 2.2 3.1 4.4 .9 .1 11 3.2 3.7 0 16.8-3.3 4.2 0 21.5-5.8 2.2-.9 12.6-5.5 1.9-1.1 5.5-20.1 0-.8-16.3-5.8-2.2-.9-5.2-13.9-15.6-5.3-1.4-.3-8.1-6.3-6.6-.6-5.1-2.5-2.3-3.6-.3-.4-8.2-2.9-2.8-.3-4.2-3.1-3.3-.6-5.2-2.7-2.3-.4-12.3-2.3-2.5-4-.6 3-4.4 .4-4.8 3.3-4.2 0-20.1-3.3-4.2-.6-5.3-3.5-2.5-12.6-.1-.1-11.3-3.3-3.7-.8-5.8-5.8-2.2-.6-5-4.6-5.4-8.3-1.1-3.4-3.7-6.7 .2-6.3 7.3-7.1 .4-2.9 3.5-5 1.1-1.7 2.7-3.6 0-2.5-3.3-4.2-.5-5.4-6.9-4.6-.8-5.8-7.2-10.9-.6-3.9-3.7-12.7-.1-3.9-3.8-25.3 0-3.9 3.8-4.6 .8-2.1 3-.5-8.5-3.7-3-10.4 .8-2 2.7-.2 4.2-20.2 0-2.9-3.5-6.3-.3-7.1 7.3-.2 15.8-4.9 1.1-5.1 7.7 .1 4.8 1.7 2.9 8.3 1.1 2.5 3.3 4.1 .6 0 9.1-3.5 0-5-6.5-5-1.1-4.4-3.8-9.5 .5-5.9 7.1-23.6 0-1.7-2.7-5-1.1-3.2-3.6-1.4-6.5-5.4-1.4-4.3-3.8-8.7 .2-3.4 3.6-27 0-7.2-7.6-27.6-.1-3.2 1.1-1.7 2.7-12.3 .1-4.4 3.8-14.1 .6-5.4 5.9-.6 5.3-9.2 9.5-.8 5.5-13.6 .3-3 3.5-5 1.1-1.6 2.7-4.6 .8-2.1 3-7.1 .3-2.9 3.5-5 1.1-1.7 2.7-4.6 .8-2 2.7-.2 4.3-3.2 3.5-5 1.2-4.3 4.8-.9 9.1-4 .6-2.2 2.5 .3 15.8-4 3.9 0 16.5 2.2 3.7 4.4 .8 .2 7.7 3.1 3.2 0 27.4-10.2 .4-6.3 7.3-.1 31 3.3 5.8-3.3 4.2 0 50.4-3.2 3.2-.1 6.1 3.3 3.7 0 10.3 3.3 4.2 .4 11.6 6.3 6.4 .4 18.7 2.2 2.5 4.3 .6 3.1 3.3 .4 4.3 6.3 6.4 .8 5.2 4.7 5 4.5 .8 .8 4.9 5.8 5.5 .2 7.4 3.2 3.3 .8 12.2 6.1 2.2 6.4 6.8 .2 7.4 2.5 2.9 27.3 .6 1.9 5.9 5 1.2 5 5.9 5 1.1 3.4 3.3 9.5 0 3.4-3.3 13.3-.2 6.7-6.8 16.2-.1 3.8-3.5 4.7-.8 2-2.7 12.8-.1 3.9-3.4 6.9 0 .8 4.8 5.6 5.4 8.4-.8 1.8-3.3 0-9.9 3.2-3.5 3.3-3.3 6.7-.2 3.3-3.4 4.2-.6 5.4-5.6 .6-18.6 4.5-.9 2.1-3.1 .1-24.8 3.1-3.3 .2-7.2 5.2-1.5 1.5-5.9 3.1-3.3 12.9-.1 3.8-3.5 5.2-1.3 2.9 1.2 11.4 0 3.9-3.5 13.3-.2 3.3-3.4 43.8 0 6.5 6.9 0 28 3.3 5.5-3.1 3.3-16.2 .1-3.6 2.9-.4 32.5-9.3 .1-3.5 2.5-.6 29.1-6 .1-2.8 1.8-1.2 15.7-4.4 .9-2.2 3.1 .5 6.9 2.5 2.2 3.6 .4 .2 7 2.5 3 70.7 .5 .9 4.8 4.1 2.2 91.8 0 .8 4.8 3.7 2.2 35.7 0 3.8 3.4 29.6 .1 4.3 3.5 32.4 0 3.8 3.4 26.2 .1 4.3 3.5 29.1 0 4.2 3.5 25.8 0 3.3 3.3 20 .2 4.3 3.4 29.5-.5 2.7-4.4z"/>
<path fill="#0042ff" d="M968 220.3l-4 2.1-12 3.3-6 2.8-6 4.3-6.7 7.2-2.1 2-1.2 .5-4-1.7-6-1.1-4-.2-6 .9-6-3.6-4-1.8-4-1.1-6.5 .1-7.5-5.9-8-4.1-2.9-6-2.5-4-2.6-3.2-3.1-2.8-1.3-2-2.2-10-5.7-20-1.7-3.9-4-5.3-6-5.8-16-11.3-6-5.5-4.5-6.2-1.3-4-.7-4-.1-8 .8-4 1.8-4 4-4.8 2-1.5 4-2.1 4-.9 6 .7 6 2.4 10 5.2 6 2.1 6 .6 6-.6 8-2.2 12-4.9 18-5.2 7.5-2.8 28.5-15 8.1-5.7-139.5 .1-3.4 2.5-.6 4.7-4.5 .9-2.1 3.1-7 .4-3 3.6-5 1.1-14.3 16.9-.8 5.9-3.1 3.3-.3 4.5-3.1 3.3-.2 8.2-4 .6-2.5 2.9-.1 25.8 3.3 3.8 .1 15.6 3.2 3.7 .6 5.4 2.7 2.4 .1 7.8 3.3 3.7 .4 8.7 2.9 2.8 .2 8.3 6.5 7 .4 4.9 2.9 2.8 .2 8.1 3.2 3.3 .3 12.4 2.3 2.4 4.2 .6 3.2 3.5-3.3 5.7 0 9.5 2.2 3.1 4.4 .9 .1 11 3.2 3.7 0 16.8-3.3 4.2 0 21.5-5.8 2.2-.9 12.6-5.5 1.9-1.1 5.5-20.1 0-.8-16.3-5.8-2.2-.9-5.2-13.9-15.6-5.3-1.4-.3-8.1-6.3-6.6-.6-5.1-2.5-2.3-3.6-.3-.4-8.2-2.9-2.8-.3-4.2-3.1-3.3-.6-5.2-2.7-2.3-.4-12.3-2.3-2.5-4-.6 3-4.4 .4-4.8 3.3-4.2 0-20.1-3.3-4.2-.6-5.3-3.5-2.5-12.6-.1-.1-11.3-3.3-3.7-.8-5.8-5.8-2.2-.6-5-4.6-5.4-8.3-1.1-3.4-3.7-6.7 .2-6.3 7.3-7.1 .4-2.9 3.5-5 1.1-1.7 2.7-3.6 0-2.5-3.3-4.2-.5-5.4-6.9-4.6-.8-5.8-7.2-10.9-.6-3.9-3.7-12.7-.1-3.9-3.8-25.3 0-3.9 3.8-4.6 .8-2.1 3-.5-8.5-3.7-3-10.4 .8-2 2.7-.2 4.2-20.2 0-2.9-3.5-6.3-.3-7.1 7.3-.2 15.8-4.9 1.1-5.1 7.7 .1 4.8 1.7 2.9 8.3 1.1 2.5 3.3 4.1 .6 0 9.1-3.5 0-5-6.5-5-1.1-4.4-3.8-9.5 .5-5.9 7.1-23.6 0-1.7-2.7-5-1.1-3.2-3.6-1.4-6.5-5.4-1.4-4.3-3.8-8.7 .2-3.4 3.6-27 0-7.2-7.6-27.6-.1-3.2 1.1-1.7 2.7-12.3 .1-4.4 3.8-14.1 .6-5.4 5.9-.6 5.3-9.2 9.5-.8 5.5-13.6 .3-3 3.5-5 1.1-1.6 2.7-4.6 .8-2.1 3-7.1 .3-2.9 3.5-5 1.1-1.7 2.7-4.6 .8-2 2.7-.2 4.3-3.2 3.5-5 1.2-4.3 4.8-.9 9.1-4 .6-2.2 2.5 .3 15.8-4 3.9 0 16.5 2.2 3.7 4.4 .8 .2 7.7 3.1 3.2 0 27.4-10.2 .4-6.3 7.3-.1 31 3.3 5.8-3.3 4.2 0 50.4-3.2 3.2-.1 6.1 3.3 3.7 0 10.3 3.3 4.2 .4 11.6 6.3 6.4 .4 18.7 2.2 2.5 4.3 .6 3.1 3.3 .4 4.3 6.3 6.4 .8 5.2 4.7 5 4.5 .8 .8 4.9 5.8 5.5 .2 7.4 3.2 3.3 .8 12.2 6.1 2.2 6.4 6.8 .2 7.4 2.5 2.9 27.3 .6 1.9 5.9 5 1.2 5 5.9 5 1.1 3.4 3.3 9.5 0 3.4-3.3 13.3-.2 6.7-6.8 16.2-.1 3.8-3.5 4.7-.8 2-2.7 12.8-.1 3.9-3.4 6.9 0 .8 4.8 5.6 5.4 8.4-.8 1.8-3.3 0-9.9 3.2-3.5 3.3-3.3 6.7-.2 3.3-3.4 4.2-.6 5.4-5.6 .6-18.6 4.5-.9 2.1-3.1 .1-24.8 3.1-3.3 .2-7.2 5.2-1.5 1.5-5.9 3.1-3.3 12.9-.1 3.8-3.5 5.2-1.3 2.9 1.2 11.4 0 3.9-3.5 13.3-.2 3.3-3.4 43.8 0 6.5 6.9 0 28 3.3 5.5-3.1 3.3-16.2 .1-3.6 2.9-.4 32.5-9.3 .1-3.5 2.5-.6 29.1-6 .1-2.8 1.8-1.2 15.7-4.4 .9-2.2 3.1 .5 6.9 2.5 2.2 3.6 .4 .2 7 2.5 3 70.7 .5 .9 4.8 4.1 2.2 91.8 0 .8 4.8 3.7 2.2 35.7 0 3.8 3.4 29.6 .1 4.3 3.5 32.4 0 3.8 3.4 26.2 .1 4.3 3.5 29.1 0 4.2 3.5 25.8 0 3.3 3.3 20 .2 4.3 3.4 29.5-.5 2.7-4.4z"/>
<path fill="#004bff" d="M968 221.6l-5.6 2.4-10.4 2.7-6 2.7-6 4.3-8.2 8.3-1.8 .7-6-2-4-.6-4-.2-6 .7-6-3.5-6-2.4-4-.6-4 .3-.9-.4-7.1-5.5-8-4.1-6-10.2-4-4.4-2.3-1.8-.9-2-2.8-11.1-4.2-10.9-2.4-8-1.4-2.3-8-7.4-14.6-10.3-5.4-4.4-6-6.6-3.4-5-.8-2-1.9-14 0-4 .7-4 1.5-4 3.9-5.9 4-3.9 4-2.6 6-2 4 .4 6 2.1 12 6.4 6 2.5 6 1.2 8-.4 8-2.3 32-12.3 4.8-3.2 15.1-12.7-119.3 .1-3.4 2.5-.6 4.7-4.5 .9-2.1 3.1-7 .4-3 3.6-5 1.1-14.3 16.9-.8 5.9-3.1 3.3-.3 4.5-3.1 3.3-.2 8.2-4 .6-2.5 2.9-.1 25.8 3.3 3.8 .1 15.6 3.2 3.7 .6 5.4 2.7 2.4 .1 7.8 3.3 3.7 .4 8.7 2.9 2.8 .2 8.3 6.5 7 .4 4.9 2.9 2.8 .2 8.1 3.2 3.3 .3 12.4 2.3 2.4 4.2 .6 3.2 3.5-3.3 5.7 0 9.5 2.2 3.1 4.4 .9 .1 11 3.2 3.7 0 16.8-3.3 4.2 0 21.5-5.8 2.2-.9 12.6-5.5 1.9-1.1 5.5-20.1 0-.8-16.3-5.8-2.2-.9-5.2-13.9-15.6-5.3-1.4-.3-8.1-6.3-6.6-.6-5.1-2.5-2.3-3.6-.3-.4-8.2-2.9-2.8-.3-4.2-3.1-3.3-.6-5.2-2.7-2.3-.4-12.3-2.3-2.5-4-.6 3-4.4 .4-4.8 3.3-4.2 0-20.1-3.3-4.2-.6-5.3-3.5-2.5-12.6-.1-.1-11.3-3.3-3.7-.8-5.8-5.8-2.2-.6-5-4.6-5.4-8.3-1.1-3.4-3.7-6.7 .2-6.3 7.3-7.1 .4-2.9 3.5-5 1.1-1.7 2.7-3.6 0-2.5-3.3-4.2-.5-5.4-6.9-4.6-.8-5.8-7.2-10.9-.6-3.9-3.7-12.7-.1-3.9-3.8-25.3 0-3.9 3.8-4.6 .8-2.1 3-.5-8.5-3.7-3-10.4 .8-2 2.7-.2 4.2-20.2 0-2.9-3.5-6.3-.3-7.1 7.3-.2 15.8-4.9 1.1-5.1 7.7 .1 4.8 1.7 2.9 8.3 1.1 2.5 3.3 4.1 .6 0 9.1-3.5 0-5-6.5-5-1.1-4.4-3.8-9.5 .5-5.9 7.1-23.6 0-1.7-2.7-5-1.1-3.2-3.6-1.4-6.5-5.4-1.4-4.3-3.8-8.7 .2-3.4 3.6-27 0-7.2-7.6-27.6-.1-3.2 1.1-1.7 2.7-12.3 .1-4.4 3.8-14.1 .6-5.4 5.9-.6 5.3-9.2 9.5-.8 5.5-13.6 .3-3 3.5-5 1.1-1.6 2.7-4.6 .8-2.1 3-7.1 .3-2.9 3.5-5 1.1-1.7 2.7-4.6 .8-2 2.7-.2 4.3-3.2 3.5-5 1.2-4.3 4.8-.9 9.1-4 .6-2.2 2.5 .3 15.8-4 3.9 0 16.5 2.2 3.7 4.4 .8 .2 7.7 3.1 3.2 0 27.4-10.2 .4-6.3 7.3-.1 31 3.3 5.8-3.3 4.2 0 50.4-3.2 3.2-.1 6.1 3.3 3.7 0 10.3 3.3 4.2 .4 11.6 6.3 6.4 .4 18.7 2.2 2.5 4.3 .6 3.1 3.3 .4 4.3 6.3 6.4 .8 5.2 4.7 5 4.5 .8 .8 4.9 5.8 5.5 .2 7.4 3.2 3.3 .8 12.2 6.1 2.2 6.4 6.8 .2 7.4 2.5 2.9 27.3 .6 1.9 5.9 5 1.2 5 5.9 5 1.1 3.4 3.3 9.5 0 3.4-3.3 13.3-.2 6.7-6.8 16.2-.1 3.8-3.5 4.7-.8 2-2.7 12.8-.1 3.9-3.4 6.9 0 .8 4.8 5.6 5.4 8.4-.8 1.8-3.3 0-9.9 3.2-3.5 3.3-3.3 6.7-.2 3.3-3.4 4.2-.6 5.4-5.6 .6-18.6 4.5-.9 2.1-3.1 .1-24.8 3.1-3.3 .2-7.2 5.2-1.5 1.5-5.9 3.1-3.3 12.9-.1 3.8-3.5 5.2-1.3 2.9 1.2 11.4 0 3.9-3.5 13.3-.2 3.3-3.4 43.8 0 6.5 6.9 0 28 3.3 5.5-3.1 3.3-16.2 .1-3.6 2.9-.4 32.5-9.3 .1-3.5 2.5-.6 29.1-6 .1-2.8 1.8-1.2 15.7-4.4 .9-2.2 3.1 .5 6.9 2.5 2.2 3.6 .4 .2 7 2.5 3 70.7 .5 .9 4.8 4.1 2.2 91.8 0 .8 4.8 3.7 2.2 35.7 0 3.8 3.4 29.6 .1 4.3 3.5 32.4 0 3.8 3.4 26.2 .1 4.3 3.5 29.1 0 4.2 3.5 25.8 0 3.3 3.3 20 .2 4.3 3.4 29.5-.5 2.7-4.4z"/>
<path fill="#0053ff" d="M968 222.8l-4 1.7-12 3.2-6 2.6-6 4.1-7.6 7.6-2.4 1-6-1.9-4-.6-4-.3-6 .5-8-4.2-4-1.5-4-.7-4 .3-1.2-.6-6.8-5.1-8-4.1-6.8-10.8-3.2-3.5-3.5-2.5-1.2-6-1.9-6-9.1-20-6.3-5.3-15.4-10.7-4.6-3.7-6-6.5-6.5-9.8-2.8-20 .2-4 1-4 2.1-4.7 4-6.1 4-4.2 6-4.4 6-2.2 4 .5 6 2.4 12 7.3 6 3.1 6 1.8 4 .3 4-.3 4-.9 6-2.2 25.4-12.4 2.7-2 7.5-8.7-105 .1-3.4 2.5-.6 4.7-4.5 .9-2.1 3.1-7 .4-3 3.6-5 1.1-14.3 16.9-.8 5.9-3.1 3.3-.3 4.5-3.1 3.3-.2 8.2-4 .6-2.5 2.9-.1 25.8 3.3 3.8 .1 15.6 3.2 3.7 .6 5.4 2.7 2.4 .1 7.8 3.3 3.7 .4 8.7 2.9 2.8 .2 8.3 6.5 7 .4 4.9 2.9 2.8 .2 8.1 3.2 3.3 .3 12.4 2.3 2.4 4.2 .6 3.2 3.5-3.3 5.7 0 9.5 2.2 3.1 4.4 .9 .1 11 3.2 3.7 0 16.8-3.3 4.2 0 21.5-5.8 2.2-.9 12.6-5.5 1.9-1.1 5.5-20.1 0-.8-16.3-5.8-2.2-.9-5.2-13.9-15.6-5.3-1.4-.3-8.1-6.3-6.6-.6-5.1-2.5-2.3-3.6-.3-.4-8.2-2.9-2.8-.3-4.2-3.1-3.3-.6-5.2-2.7-2.3-.4-12.3-2.3-2.5-4-.6 3-4.4 .4-4.8 3.3-4.2 0-20.1-3.3-4.2-.6-5.3-3.5-2.5-12.6-.1-.1-11.3-3.3-3.7-.8-5.8-5.8-2.2-.6-5-4.6-5.4-8.3-1.1-3.4-3.7-6.7 .2-6.3 7.3-7.1 .4-2.9 3.5-5 1.1-1.7 2.7-3.6 0-2.5-3.3-4.2-.5-5.4-6.9-4.6-.8-5.8-7.2-10.9-.6-3.9-3.7-12.7-.1-3.9-3.8-25.3 0-3.9 3.8-4.6 .8-2.1 3-.5-8.5-3.7-3-10.4 .8-2 2.7-.2 4.2-20.2 0-2.9-3.5-6.3-.3-7.1 7.3-.2 15.8-4.9 1.1-5.1 7.7 .1 4.8 1.7 2.9 8.3 1.1 2.5 3.3 4.1 .6 0 9.1-3.5 0-5-6.5-5-1.1-4.4-3.8-9.5 .5-5.9 7.1-23.6 0-1.7-2.7-5-1.1-3.2-3.6-1.4-6.5-5.4-1.4-4.3-3.8-8.7 .2-3.4 3.6-27 0-7.2-7.6-27.6-.1-3.2 1.1-1.7 2.7-12.3 .1-4.4 3.8-14.1 .6-5.4 5.9-.6 5.3-9.2 9.5-.8 5.5-13.6 .3-3 3.5-5 1.1-1.6 2.7-4.6 .8-2.1 3-7.1 .3-2.9 3.5-5 1.1-1.7 2.7-4.6 .8-2 2.7-.2 4.3-3.2 3.5-5 1.2-4.3 4.8-.9 9.1-4 .6-2.2 2.5 .3 15.8-4 3.9 0 16.5 2.2 3.7 4.4 .8 .2 7.7 3.1 3.2 0 27.4-10.2 .4-6.3 7.3-.1 31 3.3 5.8-3.3 4.2 0 50.4-3.2 3.2-.1 6.1 3.3 3.7 0 10.3 3.3 4.2 .4 11.6 6.3 6.4 .4 18.7 2.2 2.5 4.3 .6 3.1 3.3 .4 4.3 6.3 6.4 .8 5.2 4.7 5 4.5 .8 .8 4.9 5.8 5.5 .2 7.4 3.2 3.3 .8 12.2 6.1 2.2 6.4 6.8 .2 7.4 2.5 2.9 27.3 .6 1.9 5.9 5 1.2 5 5.9 5 1.1 3.4 3.3 9.5 0 3.4-3.3 13.3-.2 6.7-6.8 16.2-.1 3.8-3.5 4.7-.8 2-2.7 12.8-.1 3.9-3.4 6.9 0 .8 4.8 5.6 5.4 8.4-.8 1.8-3.3 0-9.9 3.2-3.5 3.3-3.3 6.7-.2 3.3-3.4 4.2-.6 5.4-5.6 .6-18.6 4.5-.9 2.1-3.1 .1-24.8 3.1-3.3 .2-7.2 5.2-1.5 1.5-5.9 3.1-3.3 12.9-.1 3.8-3.5 5.2-1.3 2.9 1.2 11.4 0 3.9-3.5 13.3-.2 3.3-3.4 43.8 0 6.5 6.9 0 28 3.3 5.5-3.1 3.3-16.2 .1-3.6 2.9-.4 32.5-9.3 .1-3.5 2.5-.6 29.1-6 .1-2.8 1.8-1.2 15.7-4.4 .9-2.2 3.1 .5 6.9 2.5 2.2 3.6 .4 .2 7 2.5 3 70.7 .5 .9 4.8 4.1 2.2 91.8 0 .8 4.8 3.7 2.2 35.7 0 3.8 3.4 29.6 .1 4.3 3.5 32.4 0 3.8 3.4 26.2 .1 4.3 3.5 29.1 0 4.2 3.5 25.8 0 3.3 3.3 20 .2 4.3 3.4 29.5-.5 2.7-4.4z"/>
<path fill="#005cff" d="M968 224l-5.7 2-10.3 2.5-6 2.6-6 4-7 6.9-3 1.2-6-1.8-4-.6-4-.3-6 .4-12-5.6-4-.7-4 .1-1.6-.7-6.4-4.6-8-4.2-1.2-1.2-3.3-6-2.9-4-2.6-2.8-4.2-3.2-1.2-6-2.6-6.9-10-16.8-6-5.2-14-9.4-6-4.9-6-7.1-5.7-9.7-1.2-4-3.3-18-.3-4 .5-3 3.5-9 4.5-7.5 4-4.6 6-4.9 6-2.4 4-.4 4 .5 4 1.5 4 2.3 10 7.5 6 3.6 6 1.9 6 0 4-.9 4-1.7 8.1-4.9 10.5-8 6.3-6.7-92.3 .1-3.4 2.5-.6 4.7-4.5 .9-2.1 3.1-7 .4-3 3.6-5 1.1-14.3 16.9-.8 5.9-3.1 3.3-.3 4.5-3.1 3.3-.2 8.2-4 .6-2.5 2.9-.1 25.8 3.3 3.8 .1 15.6 3.2 3.7 .6 5.4 2.7 2.4 .1 7.8 3.3 3.7 .4 8.7 2.9 2.8 .2 8.3 6.5 7 .4 4.9 2.9 2.8 .2 8.1 3.2 3.3 .3 12.4 2.3 2.4 4.2 .6 3.2 3.5-3.3 5.7 0 9.5 2.2 3.1 4.4 .9 .1 11 3.2 3.7 0 16.8-3.3 4.2 0 21.5-5.8 2.2-.9 12.6-5.5 1.9-1.1 5.5-20.1 0-.8-16.3-5.8-2.2-.9-5.2-13.9-15.6-5.3-1.4-.3-8.1-6.3-6.6-.6-5.1-2.5-2.3-3.6-.3-.4-8.2-2.9-2.8-.3-4.2-3.1-3.3-.6-5.2-2.7-2.3-.4-12.3-2.3-2.5-4-.6 3-4.4 .4-4.8 3.3-4.2 0-20.1-3.3-4.2-.6-5.3-3.5-2.5-12.6-.1-.1-11.3-3.3-3.7-.8-5.8-5.8-2.2-.6-5-4.6-5.4-8.3-1.1-3.4-3.7-6.7 .2-6.3 7.3-7.1 .4-2.9 3.5-5 1.1-1.7 2.7-3.6 0-2.5-3.3-4.2-.5-5.4-6.9-4.6-.8-5.8-7.2-10.9-.6-3.9-3.7-12.7-.1-3.9-3.8-25.3 0-3.9 3.8-4.6 .8-2.1 3-.5-8.5-3.7-3-10.4 .8-2 2.7-.2 4.2-20.2 0-2.9-3.5-6.3-.3-7.1 7.3-.2 15.8-4.9 1.1-5.1 7.7 .1 4.8 1.7 2.9 8.3 1.1 2.5 3.3 4.1 .6 0 9.1-3.5 0-5-6.5-5-1.1-4.4-3.8-9.5 .5-5.9 7.1-23.6 0-1.7-2.7-5-1.1-3.2-3.6-1.4-6.5-5.4-1.4-4.3-3.8-8.7 .2-3.4 3.6-27 0-7.2-7.6-27.6-.1-3.2 1.1-1.7 2.7-12.3 .1-4.4 3.8-14.1 .6-5.4 5.9-.6 5.3-9.2 9.5-.8 5.5-13.6 .3-3 3.5-5 1.1-1.6 2.7-4.6 .8-2.1 3-7.1 .3-2.9 3.5-5 1.1-1.7 2.7-4.6 .8-2 2.7-.2 4.3-3.2 3.5-5 1.2-4.3 4.8-.9 9.1-4 .6-2.2 2.5 .3 15.8-4 3.9 0 16.5 2.2 3.7 4.4 .8 .2 7.7 3.1 3.2 0 27.4-10.2 .4-6.3 7.3-.1 31 3.3 5.8-3.3 4.2 0 50.4-3.2 3.2-.1 6.1 3.3 3.7 0 10.3 3.3 4.2 .4 11.6 6.3 6.4 .4 18.7 2.2 2.5 4.3 .6 3.1 3.3 .4 4.3 6.3 6.4 .8 5.2 4.7 5 4.5 .8 .8 4.9 5.8 5.5 .2 7.4 3.2 3.3 .8 12.2 6.1 2.2 6.4 6.8 .2 7.4 2.5 2.9 27.3 .6 1.9 5.9 5 1.2 5 5.9 5 1.1 3.4 3.3 9.5 0 3.4-3.3 13.3-.2 6.7-6.8 16.2-.1 3.8-3.5 4.7-.8 2-2.7 12.8-.1 3.9-3.4 6.9 0 .8 4.8 5.6 5.4 8.4-.8 1.8-3.3 0-9.9 3.2-3.5 3.3-3.3 6.7-.2 3.3-3.4 4.2-.6 5.4-5.6 .6-18.6 4.5-.9 2.1-3.1 .1-24.8 3.1-3.3 .2-7.2 5.2-1.5 1.5-5.9 3.1-3.3 12.9-.1 3.8-3.5 5.2-1.3 2.9 1.2 11.4 0 3.9-3.5 13.3-.2 3.3-3.4 43.8 0 6.5 6.9 0 28 3.3 5.5-3.1 3.3-16.2 .1-3.6 2.9-.4 32.5-9.3 .1-3.5 2.5-.6 29.1-6 .1-2.8 1.8-1.2 15.7-4.4 .9-2.2 3.1 .5 6.9 2.5 2.2 3.6 .4 .2 7 2.5 3 70.7 .5 .9 4.8 4.1 2.2 91.8 0 .8 4.8 3.7 2.2 35.7 0 3.8 3.4 29.6 .1 4.3 3.5 32.4 0 3.8 3.4 26.2 .1 4.3 3.5 29.1 0 4.2 3.5 25.8 0 3.3 3.3 20 .2 4.3 3.4 29.5-.5 2.7-4.4zM398 348.5l2-.1 2.8 1.6 .4 2-1.1 2-2.1 1.1-2 .4-2-.2-2-.8-.7-.5-.1-2 1.7-2z"/>
<path fill="#0065ff" d="M842.8 79.4l5.2 3.6 12 11.5 4 2.3 6 1.2 6-1.5 4.2-2.5 6.5-6 6.4-8.7zM968 225l-4 1.5-12 2.9-4 1.5-6 3.4-8.4 7.7-3.6 1.5-6-1.7-6-.9-8 .1-12-5.4-4-.8-4 .1-10-6.3-6-3-1.6-1.6-3.4-6-3-3.9-6.6-6.1-2.2-8-1.8-4-3.4-5.5-6-8-6-5.8-16-10.7-6-5-6-7.8-5.6-11.2-6-26 1.3-6 3.7-10 4.6-8.2 6-7.2 4-3.3 3.3-1.9-10.7 0-3.4 2.5-.6 4.7-4.5 .9-2.1 3.1-7 .4-3 3.6-5 1.1-14.3 16.9-.8 5.9-3.1 3.3-.3 4.5-3.1 3.3-.2 8.2-4 .6-2.5 2.9-.1 25.8 3.3 3.8 .1 15.6 3.2 3.7 .6 5.4 2.7 2.4 .1 7.8 3.3 3.7 .4 8.7 2.9 2.8 .2 8.3 6.5 7 .4 4.9 2.9 2.8 .2 8.1 3.2 3.3 .3 12.4 2.3 2.4 4.2 .6 3.2 3.5-3.3 5.7 0 9.5 2.2 3.1 4.4 .9 .1 11 3.2 3.7 0 16.8-3.3 4.2 0 21.5-5.8 2.2-.9 12.6-5.5 1.9-1.1 5.5-20.1 0-.8-16.3-5.8-2.2-.9-5.2-13.9-15.6-5.3-1.4-.3-8.1-6.3-6.6-.6-5.1-2.5-2.3-3.6-.3-.4-8.2-2.9-2.8-.3-4.2-3.1-3.3-.6-5.2-2.7-2.3-.4-12.3-2.3-2.5-4-.6 3-4.4 .4-4.8 3.3-4.2 0-20.1-3.3-4.2-.6-5.3-3.5-2.5-12.6-.1-.1-11.3-3.3-3.7-.8-5.8-5.8-2.2-.6-5-4.6-5.4-8.3-1.1-3.4-3.7-6.7 .2-6.3 7.3-7.1 .4-2.9 3.5-5 1.1-1.7 2.7-3.6 0-2.5-3.3-4.2-.5-5.4-6.9-4.6-.8-5.8-7.2-10.9-.6-3.9-3.7-12.7-.1-3.9-3.8-25.3 0-3.9 3.8-4.6 .8-2.1 3-.5-8.5-3.7-3-10.4 .8-2 2.7-.2 4.2-20.2 0-2.9-3.5-6.3-.3-7.1 7.3-.2 15.8-4.9 1.1-5.1 7.7 .1 4.8 1.7 2.9 8.3 1.1 2.5 3.3 4.1 .6 0 9.1-3.5 0-5-6.5-5-1.1-4.4-3.8-9.5 .5-5.9 7.1-23.6 0-1.7-2.7-5-1.1-3.2-3.6-1.4-6.5-5.4-1.4-4.3-3.8-8.7 .2-3.4 3.6-27 0-7.2-7.6-27.6-.1-3.2 1.1-1.7 2.7-12.3 .1-4.4 3.8-14.1 .6-5.4 5.9-.6 5.3-9.2 9.5-.8 5.5-13.6 .3-3 3.5-5 1.1-1.6 2.7-4.6 .8-2.1 3-7.1 .3-2.9 3.5-5 1.1-1.7 2.7-4.6 .8-2 2.7-.2 4.3-3.2 3.5-5 1.2-4.3 4.8-.9 9.1-4 .6-2.2 2.5 .3 15.8-4 3.9 0 16.5 2.2 3.7 4.4 .8 .2 7.7 3.1 3.2 0 27.4-10.2 .4-6.3 7.3-.1 31 3.3 5.8-3.3 4.2 0 50.4-3.2 3.2-.1 6.1 3.3 3.7 0 10.3 3.3 4.2 .4 11.6 6.3 6.4 .4 18.7 2.2 2.5 4.3 .6 3.1 3.3 .4 4.3 6.3 6.4 .8 5.2 4.7 5 4.5 .8 .8 4.9 5.8 5.5 .2 7.4 3.2 3.3 .8 12.2 6.1 2.2 6.4 6.8 .2 7.4 2.5 2.9 27.3 .6 1.9 5.9 5 1.2 5 5.9 5 1.1 3.4 3.3 9.5 0 3.4-3.3 13.3-.2 6.7-6.8 16.2-.1 3.8-3.5 4.7-.8 2-2.7 12.8-.1 3.9-3.4 6.9 0 .8 4.8 5.6 5.4 8.4-.8 1.8-3.3 0-9.9 3.2-3.5 3.3-3.3 6.7-.2 3.3-3.4 4.2-.6 5.4-5.6 .6-18.6 4.5-.9 2.1-3.1 .1-24.8 3.1-3.3 .2-7.2 5.2-1.5 1.5-5.9 3.1-3.3 12.9-.1 3.8-3.5 5.2-1.3 2.9 1.2 11.4 0 3.9-3.5 13.3-.2 3.3-3.4 43.8 0 6.5 6.9 0 28 3.3 5.5-3.1 3.3-16.2 .1-3.6 2.9-.4 32.5-9.3 .1-3.5 2.5-.6 29.1-6 .1-2.8 1.8-1.2 15.7-4.4 .9-2.2 3.1 .5 6.9 2.5 2.2 3.6 .4 .2 7 2.5 3 70.7 .5 .9 4.8 4.1 2.2 91.8 0 .8 4.8 3.7 2.2 35.7 0 3.8 3.4 29.6 .1 4.3 3.5 32.4 0 3.8 3.4 26.2 .1 4.3 3.5 29.1 0 4.2 3.5 25.8 0 3.3 3.3 20 .2 4.3 3.4 29.5-.5 2.7-4.4zM400 335.9l6 .3 6 1.4 5.1 2.4 2.9 2.5 1.7 3.5 0 4-1.6 4-3.3 4-4.8 4-4 2.1-14 2.6-14 4-6 .9-4-.1-7-1.5-1-2 .7-4 1.3-4.1 3.2-5.9 5.3-6 7.5-5.9 6-3.1 6-2z"/>
<path fill="#006dff" d="M855.7 79.4l4.9 8.6 3.4 4 3.5 2 2.5 .4 4-1.2 3.8-3.2 2.5-4 2.7-6.6zM968 226.1l-16 4.1-6 2.3-6 4-6 5.7-2 1.1-2 .4-6-1.6-6-.9-8 0-12-5.2-4-.9-4 0-2.4-1.1-7.6-5-6-3.1-2-1.9-6-9.2-6.9-6.8-3.1-9.1-2-3.6-4-5.2-6-6.5-4-3.5-22-15.2-2.8-2.9-3-4-4.2-7.7-4-10.3-5.8-24 1.2-8 2.3-8 2.4-6 3.9-7.3-3.9 .8-2.1 3.1-7 .4-3 3.6-5 1.1-14.3 16.9-.8 5.9-3.1 3.3-.3 4.5-3.1 3.3-.2 8.2-4 .6-2.5 2.9-.1 25.8 3.3 3.8 .1 15.6 3.2 3.7 .6 5.4 2.7 2.4 .1 7.8 3.3 3.7 .4 8.7 2.9 2.8 .2 8.3 6.5 7 .4 4.9 2.9 2.8 .2 8.1 3.2 3.3 .3 12.4 2.3 2.4 4.2 .6 3.2 3.5-3.3 5.7 0 9.5 2.2 3.1 4.4 .9 .1 11 3.2 3.7 0 16.8-3.3 4.2 0 21.5-5.8 2.2-.9 12.6-5.5 1.9-1.1 5.5-20.1 0-.8-16.3-5.8-2.2-.9-5.2-13.9-15.6-5.3-1.4-.3-8.1-6.3-6.6-.6-5.1-2.5-2.3-3.6-.3-.4-8.2-2.9-2.8-.3-4.2-3.1-3.3-.6-5.2-2.7-2.3-.4-12.3-2.3-2.5-4-.6 3-4.4 .4-4.8 3.3-4.2 0-20.1-3.3-4.2-.6-5.3-3.5-2.5-12.6-.1-.1-11.3-3.3-3.7-.8-5.8-5.8-2.2-.6-5-4.6-5.4-8.3-1.1-3.4-3.7-6.7 .2-6.3 7.3-7.1 .4-2.9 3.5-5 1.1-1.7 2.7-3.6 0-2.5-3.3-4.2-.5-5.4-6.9-4.6-.8-5.8-7.2-10.9-.6-3.9-3.7-12.7-.1-3.9-3.8-25.3 0-3.9 3.8-4.6 .8-2.1 3-.5-8.5-3.7-3-10.4 .8-2 2.7-.2 4.2-20.2 0-2.9-3.5-6.3-.3-7.1 7.3-.2 15.8-4.9 1.1-5.1 7.7 .1 4.8 1.7 2.9 8.3 1.1 2.5 3.3 4.1 .6 0 9.1-3.5 0-5-6.5-5-1.1-4.4-3.8-9.5 .5-5.9 7.1-23.6 0-1.7-2.7-5-1.1-3.2-3.6-1.4-6.5-5.4-1.4-4.3-3.8-8.7 .2-3.4 3.6-27 0-7.2-7.6-27.6-.1-3.2 1.1-1.7 2.7-12.3 .1-4.4 3.8-14.1 .6-5.4 5.9-.6 5.3-9.2 9.5-.8 5.5-13.6 .3-3 3.5-5 1.1-1.6 2.7-4.6 .8-2.1 3-7.1 .3-2.9 3.5-5 1.1-1.7 2.7-4.6 .8-2 2.7-.2 4.3-3.2 3.5-5 1.2-4.3 4.8-.9 9.1-4 .6-2.2 2.5 .3 15.8-4 3.9 0 16.5 2.2 3.7 4.4 .8 .2 7.7 3.1 3.2 0 27.4-10.2 .4-6.3 7.3-.1 31 3.3 5.8-3.3 4.2 0 50.4-3.2 3.2-.1 6.1 3.3 3.7 0 10.3 3.3 4.2 .4 11.6 6.3 6.4 .4 18.7 2.2 2.5 4.3 .6 3.1 3.3 .4 4.3 6.3 6.4 .8 5.2 4.7 5 4.5 .8 .8 4.9 5.8 5.5 .2 7.4 3.2 3.3 .8 12.2 6.1 2.2 6.4 6.8 .2 7.4 2.5 2.9 27.3 .6 1.9 5.9 5 1.2 5 5.9 5 1.1 3.4 3.3 9.5 0 3.4-3.3 13.3-.2 6.7-6.8 16.2-.1 3.8-3.5 4.7-.8 2-2.7 12.8-.1 3.9-3.4 6.9 0 .8 4.8 5.6 5.4 8.4-.8 1.8-3.3 0-9.9 3.2-3.5 3.3-3.3 6.7-.2 3.3-3.4 4.2-.6 5.4-5.6 .6-18.6 4.5-.9 2.1-3.1 .1-24.8 3.1-3.3 .2-7.2 5.2-1.5 1.5-5.9 3.1-3.3 12.9-.1 3.8-3.5 5.2-1.3 2.9 1.2 11.4 0 3.9-3.5 13.3-.2 3.3-3.4 43.8 0 6.5 6.9 0 28 3.3 5.5-3.1 3.3-16.2 .1-3.6 2.9-.4 32.5-9.3 .1-3.5 2.5-.6 29.1-6 .1-2.8 1.8-1.2 15.7-4.4 .9-2.2 3.1 .5 6.9 2.5 2.2 3.6 .4 .2 7 2.5 3 70.7 .5 .9 4.8 4.1 2.2 91.8 0 .8 4.8 3.7 2.2 35.7 0 3.8 3.4 29.6 .1 4.3 3.5 32.4 0 3.8 3.4 26.2 .1 4.3 3.5 29.1 0 4.2 3.5 25.8 0 3.3 3.3 20 .2 4.3 3.4 29.5-.5 2.7-4.4zM321.2 312l2.8 1.6 1.7 2.4 .5 4-.6 2-1.6 2.4-2 1.5-2 .6-2-.3-2-1-2.7-3.2-.9-4 .4-2 1.1-2 2.1-1.6 2-.7zM400 327.7l8.8 .3 9.2 1.3 6 1.7 6.9 3 5.8 4 3.8 4 1.8 4 .2 2-.5 2.3-1 1.7-2.2 2-10.8 5.2-18 10.4-8 .5-6 1-4 1.4-12 5.5-10 2.2-6 .6-6-.2-4-1.1-2.2-1.5-1.4-2-.6-2 0-4 .8-4 4.2-12 2.2-4 3-3.6 9.8-8.4 8.2-5 10-3.6 6-1.2zM808.7 85.7l3.3-4.6 1.4-1.7-.8 0-3.4 2.5z"/>
<path fill="#0076ff" d="M868 84.7l-.5 3.3 .8 2 1.7 1 1.7-1 .7-2-.1-2-1.3-2-1-.8zM968 227.1l-16 3.8-6 2.3-6 3.9-6 5.5-2 1.1-2 .3-6-1.6-6-.9-8-.1-12-5.1-4-1-4-.1-2.8-1.2-7.2-4.6-6.4-3.4-2-2-5.6-8.5-7.3-7.5-2.1-6-1.9-4-4.7-6-6-5.6-6-4.8-20.6-13.6-5.4-5.9-4-7.2-4-9.6-7.5-27.3-.2-6 .9-6 1.9-8 2.4-7.4-6.5 .4-3 3.6-5 1.1-14.3 16.9-.8 5.9-3.1 3.3-.3 4.5-3.1 3.3-.2 8.2-4 .6-2.5 2.9-.1 25.8 3.3 3.8 .1 15.6 3.2 3.7 .6 5.4 2.7 2.4 .1 7.8 3.3 3.7 .4 8.7 2.9 2.8 .2 8.3 6.5 7 .4 4.9 2.9 2.8 .2 8.1 3.2 3.3 .3 12.4 2.3 2.4 4.2 .6 3.2 3.5-3.3 5.7 0 9.5 2.2 3.1 4.4 .9 .1 11 3.2 3.7 0 16.8-3.3 4.2 0 21.5-5.8 2.2-.9 12.6-5.5 1.9-1.1 5.5-20.1 0-.8-16.3-5.8-2.2-.9-5.2-13.9-15.6-5.3-1.4-.3-8.1-6.3-6.6-.6-5.1-2.5-2.3-3.6-.3-.4-8.2-2.9-2.8-.3-4.2-3.1-3.3-.6-5.2-2.7-2.3-.4-12.3-2.3-2.5-4-.6 3-4.4 .4-4.8 3.3-4.2 0-20.1-3.3-4.2-.6-5.3-3.5-2.5-12.6-.1-.1-11.3-3.3-3.7-.8-5.8-5.8-2.2-.6-5-4.6-5.4-8.3-1.1-3.4-3.7-6.7 .2-6.3 7.3-7.1 .4-2.9 3.5-5 1.1-1.7 2.7-3.6 0-2.5-3.3-4.2-.5-5.4-6.9-4.6-.8-5.8-7.2-10.9-.6-3.9-3.7-12.7-.1-3.9-3.8-25.3 0-3.9 3.8-4.6 .8-2.1 3-.5-8.5-3.7-3-10.4 .8-2 2.7-.2 4.2-20.2 0-2.9-3.5-6.3-.3-7.1 7.3-.2 15.8-4.9 1.1-5.1 7.7 .1 4.8 1.7 2.9 8.3 1.1 2.5 3.3 4.1 .6 0 9.1-3.5 0-5-6.5-5-1.1-4.4-3.8-9.5 .5-5.9 7.1-23.6 0-1.7-2.7-5-1.1-3.2-3.6-1.4-6.5-5.4-1.4-4.3-3.8-8.7 .2-3.4 3.6-27 0-7.2-7.6-27.6-.1-3.2 1.1-1.7 2.7-12.3 .1-4.4 3.8-14.1 .6-5.4 5.9-.6 5.3-9.2 9.5-.8 5.5-13.6 .3-3 3.5-5 1.1-1.6 2.7-4.6 .8-2.1 3-7.1 .3-2.9 3.5-5 1.1-1.7 2.7-4.6 .8-2 2.7-.2 4.3-3.2 3.5-5 1.2-4.3 4.8-.9 9.1-4 .6-2.2 2.5 .3 15.8-4 3.9 0 16.5 2.2 3.7 4.4 .8 .2 7.7 3.1 3.2 0 27.4-10.2 .4-6.3 7.3-.1 31 3.3 5.8-3.3 4.2 0 50.4-3.2 3.2-.1 6.1 3.3 3.7 0 10.3 3.3 4.2 .4 11.6 6.3 6.4 .4 18.7 2.2 2.5 4.3 .6 3.1 3.3 .4 4.3 6.3 6.4 .8 5.2 4.7 5 4.5 .8 .8 4.9 5.8 5.5 .2 7.4 3.2 3.3 .8 12.2 6.1 2.2 6.4 6.8 .2 7.4 2.5 2.9 27.3 .6 1.9 5.9 5 1.2 5 5.9 5 1.1 3.4 3.3 9.5 0 3.4-3.3 13.3-.2 6.7-6.8 16.2-.1 3.8-3.5 4.7-.8 2-2.7 12.8-.1 3.9-3.4 6.9 0 .8 4.8 5.6 5.4 8.4-.8 1.8-3.3 0-9.9 3.2-3.5 3.3-3.3 6.7-.2 3.3-3.4 4.2-.6 5.4-5.6 .6-18.6 4.5-.9 2.1-3.1 .1-24.8 3.1-3.3 .2-7.2 5.2-1.5 1.5-5.9 3.1-3.3 12.9-.1 3.8-3.5 5.2-1.3 2.9 1.2 11.4 0 3.9-3.5 13.3-.2 3.3-3.4 43.8 0 6.5 6.9 0 28 3.3 5.5-3.1 3.3-16.2 .1-3.6 2.9-.4 32.5-9.3 .1-3.5 2.5-.6 29.1-6 .1-2.8 1.8-1.2 15.7-4.4 .9-2.2 3.1 .5 6.9 2.5 2.2 3.6 .4 .2 7 2.5 3 70.7 .5 .9 4.8 4.1 2.2 91.8 0 .8 4.8 3.7 2.2 35.7 0 3.8 3.4 29.6 .1 4.3 3.5 32.4 0 3.8 3.4 26.2 .1 4.3 3.5 29.1 0 4.2 3.5 25.8 0 3.3 3.3 20 .2 4.3 3.4 29.5-.5 2.7-4.4zM318 303l6 .8 4.1 2.2 3.9 4 1 2 .9 4-1 6-4.9 10.2-2 3-2 2-2 .9-2 .2-4-1.5-4-4-7.1-10.8-2-4-.4-2 .6-4 3.2-4 5.7-3.5zM394 321.3l12-.4 14 1.1 9.3 2 8.7 3.4 4.8 2.6 5.6 4 3.6 3.1 2 2.4 1.3 2.5 .5 2 0 2-1.3 4-5 8-1.7 2-3 2-10.8 1.4-4 1-6 2.4-12 5.7-2 .5-8 .3-6 1.2-4 1.7-10 5.9-22 6.3-10 5-4 .9-6-.4-6-1.8-3.3-2.1-3.1-4-1.2-4 0-4 1.2-4 1.3-2 2.3-2 6.8-3.3 4-3.2 1.4-3.5 1.1-8 2.1-4 3.4-4 8-7.3 12.1-8.7 9.9-4 8-1.9z"/>
<path fill="#007fff" d="M968 228.1l-14 3.1-6 1.8-6 3.2-8 6.8-2 1-2 .2-6-1.5-6-.9-8-.3-12-5-4-.9-4-.2-3.2-1.4-13.7-8-1.8-2-5.3-7.8-7.6-8.2-3.4-8-5-6.5-6-4.9-14-9.8-14-8.6-2.5-2.2-3-4-3.2-6-4.1-10-8.6-30-.4-6 .5-6 1.3-8 1.7-7.2-2.7 .2-3 3.6-5 1.1-14.3 16.9-.8 5.9-3.1 3.3-.3 4.5-3.1 3.3-.2 8.2-4 .6-2.5 2.9-.1 25.8 3.3 3.8 .1 15.6 3.2 3.7 .6 5.4 2.7 2.4 .1 7.8 3.3 3.7 .4 8.7 2.9 2.8 .2 8.3 6.5 7 .4 4.9 2.9 2.8 .2 8.1 3.2 3.3 .3 12.4 2.3 2.4 4.2 .6 3.2 3.5-3.3 5.7 0 9.5 2.2 3.1 4.4 .9 .1 11 3.2 3.7 0 16.8-3.3 4.2 0 21.5-5.8 2.2-.9 12.6-5.5 1.9-1.1 5.5-20.1 0-.8-16.3-5.8-2.2-.9-5.2-13.9-15.6-5.3-1.4-.3-8.1-6.3-6.6-.6-5.1-2.5-2.3-3.6-.3-.4-8.2-2.9-2.8-.3-4.2-3.1-3.3-.6-5.2-2.7-2.3-.4-12.3-2.3-2.5-4-.6 3-4.4 .4-4.8 3.3-4.2 0-20.1-3.3-4.2-.6-5.3-3.5-2.5-12.6-.1-.1-11.3-3.3-3.7-.8-5.8-5.8-2.2-.6-5-4.6-5.4-8.3-1.1-3.4-3.7-6.7 .2-6.3 7.3-7.1 .4-2.9 3.5-5 1.1-1.7 2.7-3.6 0-2.5-3.3-4.2-.5-5.4-6.9-4.6-.8-5.8-7.2-10.9-.6-3.9-3.7-12.7-.1-3.9-3.8-25.3 0-3.9 3.8-4.6 .8-2.1 3-.5-8.5-3.7-3-10.4 .8-2 2.7-.2 4.2-20.2 0-2.9-3.5-6.3-.3-7.1 7.3-.2 15.8-4.9 1.1-5.1 7.7 .1 4.8 1.7 2.9 8.3 1.1 2.5 3.3 4.1 .6 0 9.1-3.5 0-5-6.5-5-1.1-4.4-3.8-9.5 .5-5.9 7.1-23.6 0-1.7-2.7-5-1.1-3.2-3.6-1.4-6.5-5.4-1.4-4.3-3.8-8.7 .2-3.4 3.6-27 0-7.2-7.6-27.6-.1-3.2 1.1-1.7 2.7-12.3 .1-4.4 3.8-14.1 .6-5.4 5.9-.6 5.3-9.2 9.5-.8 5.5-13.6 .3-3 3.5-5 1.1-1.6 2.7-4.6 .8-2.1 3-7.1 .3-2.9 3.5-5 1.1-1.7 2.7-4.6 .8-2 2.7-.2 4.3-3.2 3.5-5 1.2-4.3 4.8-.9 9.1-4 .6-2.2 2.5 .3 15.8-4 3.9 0 16.5 2.2 3.7 4.4 .8 .2 7.7 3.1 3.2 0 27.4-10.2 .4-6.3 7.3-.1 31 3.3 5.8-3.3 4.2 0 50.4-3.2 3.2-.1 6.1 3.3 3.7 0 10.3 3.3 4.2 .4 11.6 6.3 6.4 .4 18.7 2.2 2.5 4.3 .6 3.1 3.3 .4 4.3 6.3 6.4 .8 5.2 4.7 5 4.5 .8 .8 4.9 5.8 5.5 .2 7.4 3.2 3.3 .8 12.2 6.1 2.2 6.4 6.8 .2 7.4 2.5 2.9 27.3 .6 1.9 5.9 5 1.2 5 5.9 5 1.1 3.4 3.3 9.5 0 3.4-3.3 13.3-.2 6.7-6.8 16.2-.1 3.8-3.5 4.7-.8 2-2.7 12.8-.1 3.9-3.4 6.9 0 .8 4.8 5.6 5.4 8.4-.8 1.8-3.3 0-9.9 3.2-3.5 3.3-3.3 6.7-.2 3.3-3.4 4.2-.6 5.4-5.6 .6-18.6 4.5-.9 2.1-3.1 .1-24.8 3.1-3.3 .2-7.2 5.2-1.5 1.5-5.9 3.1-3.3 12.9-.1 3.8-3.5 5.2-1.3 2.9 1.2 11.4 0 3.9-3.5 13.3-.2 3.3-3.4 43.8 0 6.5 6.9 0 28 3.3 5.5-3.1 3.3-16.2 .1-3.6 2.9-.4 32.5-9.3 .1-3.5 2.5-.6 29.1-6 .1-2.8 1.8-1.2 15.7-4.4 .9-2.2 3.1 .5 6.9 2.5 2.2 3.6 .4 .2 7 2.5 3 70.7 .5 .9 4.8 4.1 2.2 91.8 0 .8 4.8 3.7 2.2 35.7 0 3.8 3.4 29.6 .1 4.3 3.5 32.4 0 3.8 3.4 26.2 .1 4.3 3.5 29.1 0 4.2 3.5 25.8 0 3.3 3.3 20 .2 4.3 3.4 29.5-.5 2.7-4.4zM320 295.9l6 1.3 9 4.8 3 2.5 3.7 5.5 2.3 6 .3 4-.7 2-5.9 6-1 2-.2 2 1.5 3.2 2 1 2 0 3.7-2.2 4.3-6 2-2 2-1.2 7.5-2.8 12.5-3.6 10-2.1 10-1.1 10-.2 16 .6 10 1.5 8 2.5 8 3.6 8.1 4.8 7.9 5.9 3.5 4.1 1.7 4-.4 4-2.8 4-8 7.6-6 7.7-2 1.8-10-.2-4 .4-6 1.6-14 6-4 .7-8 .2-6 1.4-4 2.1-6 4.7-14 5.5-8 4.5-3.7 4-4.7 8-1.6 1.8-2 1.1-2 .4-2-.2-6-2.3-2-.3-4 .7-8 3.2-2 .1-2-.7-2-2-2-3.1-6.7-12.7-3.8-10-2.7-12-2.9-36-1.1-4-2.8-3-6-3.6-4.2-3.4-1.8-2.8-.7-3.2 1.3-4 1.7-2 2.8-2 18.9-8.5 4-1.2zM300 429.8l2 .5 1.7 1.7 .6 2-.1 2-1.3 4-2.9 5-2 1.6-2 .1-2.1-.7-2.1-2-1.1-4 .6-4 .8-2 1.9-2.3 2-1.2z"/>
<path fill="#0087ff" d="M968 229.1l-14 2.8-6 1.8-6 3-8 6.7-2 .9-2 .2-6-1.5-8-1.2-6-.1-12-4.9-4-1-4-.2-3.7-1.6-13.7-8-6.6-9.2-8-8.8-4-8.5-4-4.6-24-16.2-10-5.4-4-3.2-2-2.5-4-7.7-3.8-9.9-9-30-.9-6-.1-6 1.8-15.9-2 2.5-5 1.1-14.3 16.9-.8 5.9-3.1 3.3-.3 4.5-3.1 3.3-.2 8.2-4 .6-2.5 2.9-.1 25.8 3.3 3.8 .1 15.6 3.2 3.7 .6 5.4 2.7 2.4 .1 7.8 3.3 3.7 .4 8.7 2.9 2.8 .2 8.3 6.5 7 .4 4.9 2.9 2.8 .2 8.1 3.2 3.3 .3 12.4 2.3 2.4 4.2 .6 3.2 3.5-3.3 5.7 0 9.5 2.2 3.1 4.4 .9 .1 11 3.2 3.7 0 16.8-3.3 4.2 0 21.5-5.8 2.2-.9 12.6-5.5 1.9-1.1 5.5-20.1 0-.8-16.3-5.8-2.2-.9-5.2-13.9-15.6-5.3-1.4-.3-8.1-6.3-6.6-.6-5.1-2.5-2.3-3.6-.3-.4-8.2-2.9-2.8-.3-4.2-3.1-3.3-.6-5.2-2.7-2.3-.4-12.3-2.3-2.5-4-.6 3-4.4 .4-4.8 3.3-4.2 0-20.1-3.3-4.2-.6-5.3-3.5-2.5-12.6-.1-.1-11.3-3.3-3.7-.8-5.8-5.8-2.2-.6-5-4.6-5.4-8.3-1.1-3.4-3.7-6.7 .2-6.3 7.3-7.1 .4-2.9 3.5-5 1.1-1.7 2.7-3.6 0-2.5-3.3-4.2-.5-5.4-6.9-4.6-.8-5.8-7.2-10.9-.6-3.9-3.7-12.7-.1-3.9-3.8-25.3 0-3.9 3.8-4.6 .8-2.1 3-.5-8.5-3.7-3-10.4 .8-2 2.7-.2 4.2-20.2 0-2.9-3.5-6.3-.3-7.1 7.3-.2 15.8-4.9 1.1-5.1 7.7 .1 4.8 1.7 2.9 8.3 1.1 2.5 3.3 4.1 .6 0 9.1-3.5 0-5-6.5-5-1.1-4.4-3.8-9.5 .5-5.9 7.1-23.6 0-1.7-2.7-5-1.1-3.2-3.6-1.4-6.5-5.4-1.4-4.3-3.8-8.7 .2-3.4 3.6-27 0-7.2-7.6-27.6-.1-3.2 1.1-1.7 2.7-12.3 .1-4.4 3.8-14.1 .6-5.4 5.9-.6 5.3-9.2 9.5-.8 5.5-13.6 .3-3 3.5-5 1.1-1.6 2.7-4.6 .8-2.1 3-7.1 .3-2.9 3.5-5 1.1-1.7 2.7-4.6 .8-2 2.7-.2 4.3-3.2 3.5-5 1.2-4.3 4.8-.9 9.1-4 .6-2.2 2.5 .3 15.8-4 3.9 0 16.5 2.2 3.7 4.4 .8 .2 7.7 3.1 3.2 0 27.4-10.2 .4-6.3 7.3-.1 31 3.3 5.8-3.3 4.2 0 50.4-3.2 3.2-.1 6.1 3.3 3.7 0 10.3 3.3 4.2 .4 11.6 6.3 6.4 .4 18.7 2.2 2.5 4.3 .6 3.1 3.3 .4 4.3 6.3 6.4 .8 5.2 4.7 5 4.5 .8 .8 4.9 5.8 5.5 .2 7.4 3.2 3.3 .8 12.2 6.1 2.2 6.4 6.8 .2 7.4 2.5 2.9 27.3 .6 1.9 5.9 5 1.2 5 5.9 5 1.1 3.4 3.3 9.5 0 3.4-3.3 13.3-.2 6.7-6.8 16.2-.1 3.8-3.5 4.7-.8 2-2.7 12.8-.1 3.9-3.4 6.9 0 .8 4.8 5.6 5.4 8.4-.8 1.8-3.3 0-9.9 3.2-3.5 3.3-3.3 6.7-.2 3.3-3.4 4.2-.6 5.4-5.6 .6-18.6 4.5-.9 2.1-3.1 .1-24.8 3.1-3.3 .2-7.2 5.2-1.5 1.5-5.9 3.1-3.3 12.9-.1 3.8-3.5 5.2-1.3 2.9 1.2 11.4 0 3.9-3.5 13.3-.2 3.3-3.4 43.8 0 6.5 6.9 0 28 3.3 5.5-3.1 3.3-16.2 .1-3.6 2.9-.4 32.5-9.3 .1-3.5 2.5-.6 29.1-6 .1-2.8 1.8-1.2 15.7-4.4 .9-2.2 3.1 .5 6.9 2.5 2.2 3.6 .4 .2 7 2.5 3 70.7 .5 .9 4.8 4.1 2.2 91.8 0 .8 4.8 3.7 2.2 35.7 0 3.8 3.4 29.6 .1 4.3 3.5 32.4 0 3.8 3.4 26.2 .1 4.3 3.5 29.1 0 4.2 3.5 25.8 0 3.3 3.3 20 .2 4.3 3.4 29.5-.5 2.7-4.4zM322 289.9l6 1.9 8 4.8 4 1.8 2.3 1.6 9.7 9.4 2 1.3 4 1.5 4 .6 4-.1 18-2.4 10-.7 26 .3 10 1 10 2.9 8 3.4 8 4.1 7.8 4.7 5.4 4 4.4 4 3.3 4 2.1 4 .1 4-.9 2-2.2 2.3-2.6 1.7-9.4 4.2-6 4.1-4 4.3-4 5.9-10-.7-6 .4-6 1.7-10 4.4-4 1.2-4 .4-8-.1-4 .8-4 1.8-8 6.8-10 3.7-5.1 3.1-2.3 2-3.2 4-2 4-2.8 8-3.7 4-2.5 4-.4 4 2 6.1 0 2-4-.8-3.2-1.3-4-4-2.8-1.8-2-.6-4 .2-16 7-6 3.5-6 6.3-8 10.2-2 .4-4-.5-2-.7-2.8-2-1.6-2-.9-2-.7-3.9 0-3.2 1.4-6.9 2.3-4 2.3-2 4-1.8 6-1.6 4.7-2.6 2.8-4 .6-2 .1-4-1.8-6-6.3-12-2.8-8-2.1-10-3-22-2.7-12-2.3-4-9.2-10.3-2-3.2-1.2-4.5 .1-6 1.1-3.1 1.8-2.9 2-2 2.2-1.3 4-1.4 12-2.1 14-6 4-1.1zM560 206.4l2 1.1 2 2.3 .4 2.2-.4 2.1-1.5 1.9-2.5 .7-2-1.3-.9-1.4-1.2-4 .1-2 2-1.9z"/>
<path fill="#0090ff" d="M968.2 230l-14.2 2.6-6 1.7-6 3-8 6.6-2 .8-2 0-6-1.4-8-1.2-6-.3-14-5.3-6-.8-4.1-1.7-13.8-8-6.1-8.6-8-9-4-7.8-4-4.5-4-2.8-12-6.5-10-7-10-4.8-3.6-3-2.4-3.3-2-3.9-4-10.6-5.2-18.2-5.4-16-1.2-10 .5-15.1-3.7 .8-14.3 16.9-.8 5.9-3.1 3.3-.3 4.5-3.1 3.3-.2 8.2-4 .6-2.5 2.9-.1 25.8 3.3 3.8 .1 15.6 3.2 3.7 .6 5.4 2.7 2.4 .1 7.8 3.3 3.7 .4 8.7 2.9 2.8 .2 8.3 6.5 7 .4 4.9 2.9 2.8 .2 8.1 3.2 3.3 .3 12.4 2.3 2.4 4.2 .6 3.2 3.5-3.3 5.7 0 9.5 2.2 3.1 4.4 .9 .1 11 3.2 3.7 0 16.8-3.3 4.2 0 21.5-5.8 2.2-.9 12.6-5.5 1.9-1.1 5.5-20.1 0-.8-16.3-5.8-2.2-.9-5.2-13.9-15.6-5.3-1.4-.3-8.1-6.3-6.6-.6-5.1-2.5-2.3-3.6-.3-.4-8.2-2.9-2.8-.3-4.2-3.1-3.3-.6-5.2-2.7-2.3-.4-12.3-2.3-2.5-4-.6 3-4.4 .4-4.8 3.3-4.2 0-20.1-3.3-4.2-.6-5.3-3.5-2.5-12.6-.1-.1-11.3-3.3-3.7-.8-5.8-5.8-2.2-.6-5-4.6-5.4-8.3-1.1-3.4-3.7-6.7 .2-6.3 7.3-7.1 .4-2.9 3.5-5 1.1-1.7 2.7-3.6 0-2.5-3.3-4.2-.5-5.4-6.9-4.6-.8-5.8-7.2-10.9-.6-3.9-3.7-12.7-.1-3.9-3.8-25.3 0-3.9 3.8-4.6 .8-2.1 3-.5-8.5-3.7-3-10.4 .8-2 2.7-.2 4.2-20.2 0-2.9-3.5-6.3-.3-7.1 7.3-.2 15.8-4.9 1.1-5.1 7.7 .1 4.8 1.7 2.9 8.3 1.1 2.5 3.3 4.1 .6 0 9.1-3.5 0-5-6.5-5-1.1-4.4-3.8-9.5 .5-5.9 7.1-23.6 0-1.7-2.7-5-1.1-3.2-3.6-1.4-6.5-5.4-1.4-4.3-3.8-8.7 .2-3.4 3.6-27 0-7.2-7.6-27.6-.1-3.2 1.1-1.7 2.7-12.3 .1-4.4 3.8-14.1 .6-5.4 5.9-.6 5.3-9.2 9.5-.8 5.5-13.6 .3-3 3.5-5 1.1-1.6 2.7-4.6 .8-2.1 3-7.1 .3-2.9 3.5-5 1.1-1.7 2.7-4.6 .8-2 2.7-.2 4.3-3.2 3.5-5 1.2-4.3 4.8-.9 9.1-4 .6-2.2 2.5 .3 15.8-4 3.9 0 16.5 2.2 3.7 4.4 .8 .2 7.7 3.1 3.2 0 27.4-10.2 .4-6.3 7.3-.1 31 3.3 5.8-3.3 4.2 0 50.4-3.2 3.2-.1 6.1 3.3 3.7 0 10.3 3.3 4.2 .4 11.6 6.3 6.4 .4 18.7 2.2 2.5 4.3 .6 3.1 3.3 .4 4.3 6.3 6.4 .8 5.2 4.7 5 4.5 .8 .8 4.9 5.8 5.5 .2 7.4 3.2 3.3 .8 12.2 6.1 2.2 6.4 6.8 .2 7.4 2.5 2.9 27.3 .6 1.9 5.9 5 1.2 5 5.9 5 1.1 3.4 3.3 9.5 0 3.4-3.3 13.3-.2 6.7-6.8 16.2-.1 3.8-3.5 4.7-.8 2-2.7 12.8-.1 3.9-3.4 6.9 0 .8 4.8 5.6 5.4 8.4-.8 1.8-3.3 0-9.9 3.2-3.5 3.3-3.3 6.7-.2 3.3-3.4 4.2-.6 5.4-5.6 .6-18.6 4.5-.9 2.1-3.1 .1-24.8 3.1-3.3 .2-7.2 5.2-1.5 1.5-5.9 3.1-3.3 12.9-.1 3.8-3.5 5.2-1.3 2.9 1.2 11.4 0 3.9-3.5 13.3-.2 3.3-3.4 43.8 0 6.5 6.9 0 28 3.3 5.5-3.1 3.3-16.2 .1-3.6 2.9-.4 32.5-9.3 .1-3.5 2.5-.6 29.1-6 .1-2.8 1.8-1.2 15.7-4.4 .9-2.2 3.1 .5 6.9 2.5 2.2 3.6 .4 .2 7 2.5 3 70.7 .5 .9 4.8 4.1 2.2 91.8 0 .8 4.8 3.7 2.2 35.7 0 3.8 3.4 29.6 .1 4.3 3.5 32.4 0 3.8 3.4 26.2 .1 4.3 3.5 29.1 0 4.2 3.5 25.8 0 3.3 3.3 20 .2 4.3 3.4 28-.5-2.6-3.5-.6-2 .7-1.8 2.4-.2 3.6 2 .7 .8zM318 285.2l4-.6 6 1.7 4 2.2 6 4.8 8 3.9 10 7.1 4 1.6 6 .4 28-1.9 16 .7 12-.5 10 1.1 8 2.2 10 4.1 8.2 4 10.3 6 8.6 6 6.9 6 5.2 6 1.7 4-.3 4-1.1 2-2 2-5.5 3.2-4 1.2-10 1.9-6 2.4-4 2.8-5.6 6.5-2.4 2.2-10-.2-6 .6-6 1.8-12 5.1-4 .6-10-.6-6 1.7-3.8 2.8-4.2 4.8-10 3.7-4 2.7-3 2.8-3.7 6-4 10-5.3 8 .3 8-.8 2-1.5 1.4-10 2-2-1.4-.7-2-1.6-2-1.7-.9-2 .3-6 3.4-10 2.4-6 3.1-6 4.4-8 9.1-2 1.3-4 .8-4-1-4.9-2.9-2-2-1.1-2.2-.9-5.8-.3-6 1.1-8 2.1-4.9 2-2.4 4-2.3 8-1.1 2-1.1 1.7-2.2 .3-2.4-1.2-3.6-6.1-8-2.8-6-1.9-8-2.6-20-2.9-12-5-14-10.3-20-1.6-6 .3-4 1.6-4 2.5-3.5 2.4-2.5 3.6-2.6 4-1.2 16-1 5.3-3.2zM556 196.5l2 .1 2 1 4.7 4.4 3.4 4 1.1 2 1.2 4 0 6-1.1 4-2.8 4-4.5 2.3-4 0-2-1.2-.7-1.1-3.3-8.4-3.8-13.6 0-2 1.5-2 2.7-2z"/>
<path fill="#0098ff" d="M968 231l-14 2.3-6 1.6-6 3-8 6.4-2 .7-2 0-14-2.7-6-.3-14-5.3-6-.8-4.7-1.9-13.3-7.7-6-8.3-8-9.1-4-7.3-4-4.5-4-2.5-14-6.5-10-7.2-10-4.1-2-1.6-2.6-3.2-2.1-4-3.3-8.9-2.9-9.1-3.6-14-5.8-16-1.5-10-.3-14.5-.9 .2-14.3 16.9-.8 5.9-3.1 3.3-.3 4.5-3.1 3.3-.2 8.2-4 .6-2.5 2.9-.1 25.8 3.3 3.8 .1 15.6 3.2 3.7 .6 5.4 2.7 2.4 .1 7.8 3.3 3.7 .4 8.7 2.9 2.8 .2 8.3 6.5 7 .4 4.9 2.9 2.8 .2 8.1 3.2 3.3 .3 12.4 2.3 2.4 4.2 .6 3.2 3.5-3.3 5.7 0 9.5 2.2 3.1 4.4 .9 .1 11 3.2 3.7 0 16.8-3.3 4.2 0 21.5-5.8 2.2-.9 12.6-5.5 1.9-1.1 5.5-20.1 0-.8-16.3-5.8-2.2-.9-5.2-13.9-15.6-5.3-1.4-.3-8.1-6.3-6.6-.6-5.1-2.5-2.3-3.6-.3-.4-8.2-2.9-2.8-.3-4.2-3.1-3.3-.6-5.2-2.7-2.3-.4-12.3-2.3-2.5-4-.6 3-4.4 .4-4.8 3.3-4.2 0-20.1-3.3-4.2-.6-5.3-3.5-2.5-12.6-.1-.1-11.3-3.3-3.7-.8-5.8-5.8-2.2-.6-5-4.6-5.4-8.3-1.1-3.4-3.7-6.7 .2-6.3 7.3-7.1 .4-2.9 3.5-5 1.1-1.7 2.7-3.6 0-2.5-3.3-4.2-.5-5.4-6.9-4.6-.8-5.8-7.2-10.9-.6-3.9-3.7-12.7-.1-3.9-3.8-25.3 0-3.9 3.8-4.6 .8-2.1 3-.5-8.5-3.7-3-10.4 .8-2 2.7-.2 4.2-20.2 0-2.9-3.5-6.3-.3-7.1 7.3-.2 15.8-4.9 1.1-5.1 7.7 .1 4.8 1.7 2.9 8.3 1.1 2.5 3.3 4.1 .6 0 9.1-3.5 0-5-6.5-5-1.1-4.4-3.8-9.5 .5-5.9 7.1-23.6 0-1.7-2.7-5-1.1-3.2-3.6-1.4-6.5-5.4-1.4-4.3-3.8-8.7 .2-3.4 3.6-27 0-7.2-7.6-27.6-.1-3.2 1.1-1.7 2.7-12.3 .1-4.4 3.8-14.1 .6-5.4 5.9-.6 5.3-9.2 9.5-.8 5.5-13.6 .3-3 3.5-5 1.1-1.6 2.7-4.6 .8-2.1 3-7.1 .3-2.9 3.5-5 1.1-1.7 2.7-4.6 .8-2 2.7-.2 4.3-3.2 3.5-5 1.2-4.3 4.8-.9 9.1-4 .6-2.2 2.5 .3 15.8-4 3.9 0 16.5 2.2 3.7 4.4 .8 .2 7.7 3.1 3.2 0 27.4-10.2 .4-6.3 7.3-.1 31 3.3 5.8-3.3 4.2 0 50.4-3.2 3.2-.1 6.1 3.3 3.7 0 10.3 3.3 4.2 .4 11.6 6.3 6.4 .4 18.7 2.2 2.5 4.3 .6 3.1 3.3 .4 4.3 6.3 6.4 .8 5.2 4.7 5 4.5 .8 .8 4.9 5.8 5.5 .2 7.4 3.2 3.3 .8 12.2 6.1 2.2 6.4 6.8 .2 7.4 2.5 2.9 27.3 .6 1.9 5.9 5 1.2 5 5.9 5 1.1 3.4 3.3 9.5 0 3.4-3.3 13.3-.2 6.7-6.8 16.2-.1 3.8-3.5 4.7-.8 2-2.7 12.8-.1 3.9-3.4 6.9 0 .8 4.8 5.6 5.4 8.4-.8 1.8-3.3 0-9.9 3.2-3.5 3.3-3.3 6.7-.2 3.3-3.4 4.2-.6 5.4-5.6 .6-18.6 4.5-.9 2.1-3.1 .1-24.8 3.1-3.3 .2-7.2 5.2-1.5 1.5-5.9 3.1-3.3 12.9-.1 3.8-3.5 5.2-1.3 2.9 1.2 11.4 0 3.9-3.5 13.3-.2 3.3-3.4 43.8 0 6.5 6.9 0 28 3.3 5.5-3.1 3.3-16.2 .1-3.6 2.9-.4 32.5-9.3 .1-3.5 2.5-.6 29.1-6 .1-2.8 1.8-1.2 15.7-4.4 .9-2.2 3.1 .5 6.9 2.5 2.2 3.6 .4 .2 7 2.5 3 70.7 .5 .9 4.8 4.1 2.2 91.8 0 .8 4.8 3.7 2.2 35.7 0 3.8 3.4 29.6 .1 4.3 3.5 32.4 0 3.8 3.4 26.2 .1 4.3 3.5 29.1 0 4.2 3.5 25.8 0 3.3 3.3 20 .2 4.3 3.4 17.9-.3 .8-5.7 2.8-5.6 4-3.3 4-1.5 2.7-.3zM320 280.2l8.6 1.8 5.1 2 2.9 2 3.6 4 7.8 2.9 12 7.4 10 .3 28-1.1 12 1 8-1 6-.1 10 1.3 8 2.5 14 6 10 5.3 15.3 9.5 13.7 10 4.1 4 2.2 4 .5 4-.8 4-1.1 2-2.4 2-13.5 5.6-4 .9-10 .3-6 1.5-6 3.7-5.9 6-2.1 1.2-16 1.6-6 1.9-8 3.8-5.1 1.5-2.9 .2-6-1-4-.2-2 .3-4 1.5-3.7 3.2-2.7 4-9.6 3.5-3.6 2.5-2.4 2.4-3.6 5.6-4.4 11.6-2 3.8-2 2.7-.8 1.9-.3 4-1.9 4-3 2.6-6 2.6-2 1.5-2.7 3.3-2.8 6-1.6 2-1.3 0-.8-4-1.8-4-3-3.4-4-1.4-4 0-6 2-6 3.3-4 3.1-7.8 8.4-2.2 1.3-4 .8-4-.9-5.8-3.2-2.5-2-1.5-2-.9-4-1.3-12 .1-6 .9-6 1.3-4 4-8 1.1-4 0-4-1.7-12-.5-16-.5-4-3.5-12-8.2-24-9.5-18-.8-4 .2-2 1.7-4 5-6 4.5-4 5.9-3.8 8 .1 6-.7 6-2.2 10-2.6zM559.5 190l11.3 12 3 4 1.8 6 .5 6-.1 6.4-1 3.6-1 1.6-4 3.2-3.2 1.2-4.8 .9-10 .1-1.1-1-1.5-12-1.9-8-4.2-12 .6-2 2.1-1.9 12-9.1z"/>
<path fill="#00a1ff" d="M968 231.9l-14 2-6 1.6-6 2.9-8 6.3-2 .6-2 0-14-2.7-6.7-.6-13.3-5-8-1.6-16-8.7-6-8.2-8-9.1-4-6.8-4-4.5-4-2.3-10.6-3.8-4.2-2-9.2-7.1-10-3.1-4-3.2-2-2.6-2.7-6-5.1-16-4-16-6.2-16-1.7-10-1-12.3-12.6 14.9-.8 5.9-3.1 3.3-.3 4.5-3.1 3.3-.2 8.2-4 .6-2.5 2.9-.1 25.8 3.3 3.8 .1 15.6 3.2 3.7 .6 5.4 2.7 2.4 .1 7.8 3.3 3.7 .4 8.7 2.9 2.8 .2 8.3 6.5 7 .4 4.9 2.9 2.8 .2 8.1 3.2 3.3 .3 12.4 2.3 2.4 4.2 .6 3.2 3.5-3.3 5.7 0 9.5 2.2 3.1 4.4 .9 .1 11 3.2 3.7 0 16.8-3.3 4.2 0 21.5-5.8 2.2-.9 12.6-5.5 1.9-1.1 5.5-20.1 0-.8-16.3-5.8-2.2-.9-5.2-13.9-15.6-5.3-1.4-.3-8.1-6.3-6.6-.6-5.1-2.5-2.3-3.6-.3-.4-8.2-2.9-2.8-.3-4.2-3.1-3.3-.6-5.2-2.7-2.3-.4-12.3-2.3-2.5-4-.6 3-4.4 .4-4.8 3.3-4.2 0-20.1-3.3-4.2-.6-5.3-3.5-2.5-12.6-.1-.1-11.3-3.3-3.7-.8-5.8-5.8-2.2-.6-5-4.6-5.4-8.3-1.1-3.4-3.7-6.7 .2-6.3 7.3-7.1 .4-2.9 3.5-5 1.1-1.7 2.7-3.6 0-2.5-3.3-4.2-.5-5.4-6.9-4.6-.8-5.8-7.2-10.9-.6-3.9-3.7-12.7-.1-3.9-3.8-25.3 0-3.9 3.8-4.6 .8-2.1 3-.5-8.5-3.7-3-10.4 .8-2 2.7-.2 4.2-20.2 0-2.9-3.5-6.3-.3-7.1 7.3-.2 15.8-4.9 1.1-5.1 7.7 .1 4.8 1.7 2.9 8.3 1.1 2.5 3.3 4.1 .6 0 9.1-3.5 0-5-6.5-5-1.1-4.4-3.8-9.5 .5-5.9 7.1-23.6 0-1.7-2.7-5-1.1-3.2-3.6-1.4-6.5-5.4-1.4-4.3-3.8-8.7 .2-3.4 3.6-27 0-7.2-7.6-27.6-.1-3.2 1.1-1.7 2.7-12.3 .1-4.4 3.8-14.1 .6-5.4 5.9-.6 5.3-9.2 9.5-.8 5.5-13.6 .3-3 3.5-5 1.1-1.6 2.7-4.6 .8-2.1 3-7.1 .3-2.9 3.5-5 1.1-1.7 2.7-4.6 .8-2 2.7-.2 4.3-3.2 3.5-5 1.2-4.3 4.8-.9 9.1-4 .6-2.2 2.5 .3 15.8-4 3.9 0 16.5 2.2 3.7 4.4 .8 .2 7.7 3.1 3.2 0 27.4-10.2 .4-6.3 7.3-.1 31 3.3 5.8-3.3 4.2 0 50.4-3.2 3.2-.1 6.1 3.3 3.7 0 10.3 3.3 4.2 .4 11.6 6.3 6.4 .4 18.7 2.2 2.5 4.3 .6 3.1 3.3 .4 4.3 6.3 6.4 .8 5.2 4.7 5 4.5 .8 .8 4.9 5.8 5.5 .2 7.4 3.2 3.3 .8 12.2 6.1 2.2 6.4 6.8 .2 7.4 2.5 2.9 27.3 .6 1.9 5.9 5 1.2 5 5.9 5 1.1 3.4 3.3 9.5 0 3.4-3.3 13.3-.2 6.7-6.8 16.2-.1 3.8-3.5 4.7-.8 2-2.7 12.8-.1 3.9-3.4 6.9 0 .8 4.8 5.6 5.4 8.4-.8 1.8-3.3 0-9.9 3.2-3.5 3.3-3.3 6.7-.2 3.3-3.4 4.2-.6 5.4-5.6 .6-18.6 4.5-.9 2.1-3.1 .1-24.8 3.1-3.3 .2-7.2 5.2-1.5 1.5-5.9 3.1-3.3 12.9-.1 3.8-3.5 5.2-1.3 2.9 1.2 11.4 0 3.9-3.5 13.3-.2 3.3-3.4 43.8 0 6.5 6.9 0 28 3.3 5.5-3.1 3.3-16.2 .1-3.6 2.9-.4 32.5-9.3 .1-3.5 2.5-.6 29.1-6 .1-2.8 1.8-1.2 15.7-4.4 .9-2.2 3.1 .5 6.9 2.5 2.2 3.6 .4 .2 7 2.5 3 70.7 .5 .9 4.8 4.1 2.2 91.8 0 .8 4.8 3.7 2.2 35.7 0 3.8 3.4 29.6 .1 4.3 3.5 32.4 0 3.8 3.4 26.2 .1 4.3 3.5 29.1 0 4.2 3.5 25.8 0 3.3 3.3 20 .2 4.3 3.4 11.3-.2 3.4-9.8 4.8-7.6 6-5.4 4-1.8 2.7-.6zM308 282.7l12-4.6 4 0 12 1.9 4 2 6 4 12 6.5 4 1.6 4 .9 12 .7 46-1.3 10 1.3 10 3.1 20.1 9.2 35 20 6.9 4.9 4.8 5.1 2.1 4 .4 2 0 2-1 2-2.4 2-.2 2 .9 2-.1 2-1.5 2-1 .5-12 1.2-14 3.9-2 .2-8-.8-6 .8-6 2.7-6.3 5.5-3.7 2.3-16 2.4-16 6.7-6 .8-8-1.9-4 .3-2 .6-4 2.7-4 5.1-8 3.2-4 2.8-2.8 3-2.3 4-6 18-3.1 6-5.1 6-9.4 6-6.8 10-2.5 .8-1.1-.8-2.9-5.9-2-2.4-2-1.3-2-.7-4-.3-4 1.1-8 4.1-4 3.2-6 6.8-4 2.8-4 .6-4-.8-4-1.9-4-2.8-3.1-2.5-.7-2-2.5-16-.7-10 .8-8 2.7-12-.8-14 .6-18-8.2-24-4.3-16-2-4-8.9-12-1.3-4 0-2 .6-2 2.8-4 9.1-8 6.3-4 5.6-2 8-.4 6-1zM558 186.2l2 .4 2.7 1.4 4.2 4 3.1 4.4 6 3.6 3.2 4 1.1 4 1.1 12 1.2 4 3.4 8-.7 2-3.1 2-8.2 2.7-6 .8-16-1-2-.6-1.9-1.9-1.9-16-1.7-8-3.1-10 .2-2 2.4-3.1 4-3.6 6.5-5.3zM380.4 432l-.4 .3-.7-.3 .7-.6zM584 251.1l2 .6 1.2 2.3-.1 2-1.1 1.6-2 .9-2-1.1-1.1-1.4-.5-2 .9-2z"/>
<path fill="#00aaff" d="M581.1 246l-1.1-1.4-1.9 1.4 1.9 1zM941.3 693.9l6.4-13.9 8.3-13.8 2-2.3 4-3 4-1.2 2.7-.3-.5-426.6-14.2 1.7-6 1.6-6 2.8-8 6.1-2 .6-2-.1-14-2.7-7.4-.8-12.6-4.8-6.8-1.2-5-2-12.2-6.9-6-8-8-9.1-5-8-3-3.1-4-2.1-10.1-2.8-5.4-2-3.3-2-5.2-5-1.6-1-8.4-1.3-4-2.7-2-2.2-2-3.3-2-5.1-5.3-17.4-3.8-16-5.9-14-2.3-10-1.5-11.7-10.5 12.3-.8 5.9-3.1 3.3-.3 4.5-3.1 3.3-.2 8.2-4 .6-2.5 2.9-.1 25.8 3.3 3.8 .1 15.6 3.2 3.7 .6 5.4 2.7 2.4 .1 7.8 3.3 3.7 .4 8.7 2.9 2.8 .2 8.3 6.5 7 .4 4.9 2.9 2.8 .2 8.1 3.2 3.3 .3 12.4 2.3 2.4 4.2 .6 3.2 3.5-3.3 5.7 0 9.5 2.2 3.1 4.4 .9 .1 11 3.2 3.7 0 16.8-3.3 4.2 0 21.5-5.8 2.2-.9 12.6-5.5 1.9-1.1 5.5-20.1 0-.8-16.3-5.8-2.2-.9-5.2-13.9-15.6-5.3-1.4-.3-8.1-6.3-6.6-.6-5.1-2.5-2.3-3.6-.3-.4-8.2-2.9-2.8-.3-4.2-3.1-3.3-.6-5.2-2.7-2.3-.4-12.3-2.3-2.5-4-.6 3-4.4 .4-4.8 3.3-4.2 0-20.1-3.3-4.2-.6-5.3-3.5-2.5-12.6-.1-.1-11.3-3.3-3.7-.8-5.8-5.8-2.2-.6-5-4.6-5.4-8.3-1.1-3.4-3.7-6.7 .2-6.3 7.3-7.1 .4-2.9 3.5-5 1.1-1.7 2.7-3.6 0-2.5-3.3-4.2-.5-5.4-6.9-4.6-.8-5.8-7.2-10.9-.6-3.9-3.7-12.7-.1-3.9-3.8-25.3 0-3.9 3.8-4.6 .8-2.1 3-.5-8.5-3.7-3-10.4 .8-2 2.7-.2 4.2-20.2 0-2.9-3.5-6.3-.3-7.1 7.3-.2 15.8-4.9 1.1-5.1 7.7 .1 4.8 1.7 2.9 8.3 1.1 2.5 3.3 4.1 .6 0 9.1-3.5 0-5-6.5-5-1.1-4.4-3.8-9.5 .5-5.9 7.1-23.6 0-1.7-2.7-5-1.1-3.2-3.6-1.4-6.5-5.4-1.4-4.3-3.8-8.7 .2-3.4 3.6-27 0-7.2-7.6-27.6-.1-3.2 1.1-1.7 2.7-12.3 .1-4.4 3.8-14.1 .6-5.4 5.9-.6 5.3-9.2 9.5-.8 5.5-13.6 .3-3 3.5-5 1.1-1.6 2.7-4.6 .8-2.1 3-7.1 .3-2.9 3.5-5 1.1-1.7 2.7-4.6 .8-2 2.7-.2 4.3-3.2 3.5-5 1.2-4.3 4.8-.9 9.1-4 .6-2.2 2.5 .3 15.8-4 3.9 0 16.5 2.2 3.7 4.4 .8 .2 7.7 3.1 3.2 0 27.4-10.2 .4-6.3 7.3-.1 31 3.3 5.8-3.3 4.2 0 50.4-3.2 3.2-.1 6.1 3.3 3.7 0 10.3 3.3 4.2 .4 11.6 6.3 6.4 .4 18.7 2.2 2.5 4.3 .6 3.1 3.3 .4 4.3 6.3 6.4 .8 5.2 4.7 5 4.5 .8 .8 4.9 5.8 5.5 .2 7.4 3.2 3.3 .8 12.2 6.1 2.2 6.4 6.8 .2 7.4 2.5 2.9 27.3 .6 1.9 5.9 5 1.2 5 5.9 5 1.1 3.4 3.3 9.5 0 3.4-3.3 13.3-.2 6.7-6.8 16.2-.1 3.8-3.5 4.7-.8 2-2.7 12.8-.1 3.9-3.4 6.9 0 .8 4.8 5.6 5.4 8.4-.8 1.8-3.3 0-9.9 3.2-3.5 3.3-3.3 6.7-.2 3.3-3.4 4.2-.6 5.4-5.6 .6-18.6 4.5-.9 2.1-3.1 .1-24.8 3.1-3.3 .2-7.2 5.2-1.5 1.5-5.9 3.1-3.3 12.9-.1 3.8-3.5 5.2-1.3 2.9 1.2 11.4 0 3.9-3.5 13.3-.2 3.3-3.4 43.8 0 6.5 6.9 0 28 3.3 5.5-3.1 3.3-16.2 .1-3.6 2.9-.4 32.5-9.3 .1-3.5 2.5-.6 29.1-6 .1-2.8 1.8-1.2 15.7-4.4 .9-2.2 3.1 .5 6.9 2.5 2.2 3.6 .4 .2 7 2.5 3 70.7 .5 .9 4.8 4.1 2.2 91.8 0 .8 4.8 3.7 2.2 35.7 0 3.8 3.4 29.6 .1 4.3 3.5 32.4 0 3.8 3.4 26.2 .1 4.3 3.5 29.1 0 4.2 3.5 25.8 0 3.3 3.3 20 .2 4.3 3.4zM322 275.9l14 .1 4 .8 10 6.2 8 4.2 6 2.3 6 1.3 14 .7 24-1.7 12-.1 14 1.4 10 2.7 18 8.1 22 12.4 20 9 8 4.7 7.1 6 7 8 1.8 4-.4 4-1 2-3.7 4-7.8 6-5 2.9-8-2.1-4-.3-6 .7-12 3.4-8-1.6-4 .1-6 2-9.3 6.9-2.7 1.3-16 3.2-14 6.4-8 1.1-8-2.6-2 0-4 1-4 2.8-4 4.8-5 2-3 1.7-4.6 4.3-2.4 4-1.4 4-2.3 8-1.5 10-1.9 2-7.6 6-8.9 6-1.9 2-5.6 8-1.9 1.1-2 .3-1.8-1.4-4-6-2.2-1.7-2-.9-4-.3-4 1.2-8 4-4 3.4-6 7.1-2 1.5-4 1.4-6-.7-6-3.2-6.7-5.8-3.6-18-1.8-12 .9-18-.3-14 1.1-14-.7-6-7.9-22-2.9-16-2.1-3.3-7-6.7-3-3.9-2.3-4.1-.9-4 1.4-4 3.1-4 2.6-2 6.1-3.4 4-3.3 4-2.4 8-2.6 12-1.3 6-1.3 10-2.8 12-4.3zM558 184.2l2 0 4 1.3 8 5.5 10.1 5 2.8 2 1.9 2 .9 2-.3 4-2.4 8 .3 4 2.7 4.6 6 6 1.4 3.4-.6 4-2.5 8-.8 10-2 4-3 2-2.5 .4-2-.5-2.9-1.9-3-4-1.8-6-2.9-2-9.4-3.3-12-2.6-2-1.2-2-2.9-1.7-14-4.1-20 .2-2 1.6-3.3 6-6.1 6-4.8zM380.3 430l1.1 2-1.4 1.2-2.4-1.2 0-2z"/>
<path fill="#00b2ff" d="M968 233.7l-14 1.4-8 2.2-4 2-6 5-2 1.1-2 .5-24.1-3.9-11.9-4.5-8-1.7-4.3-1.8-11.7-6.5-6-7.9-8.3-9.6-5.7-8.4-4-3.1-4-1.3-12-2.5-4-1.6-4.5-3.1-3.5-4.5-6 .7-4-1.5-2-1.5-2.9-3.2-3.3-6-6.5-22-2.9-14-2.3-6-3.2-6-2.1-6-3.5-17.5-8.6 10.1-.8 5.9-3.1 3.3-.3 4.5-3.1 3.3-.2 8.2-4 .6-2.5 2.9-.1 25.8 3.3 3.8 .1 15.6 3.2 3.7 .6 5.4 2.7 2.4 .1 7.8 3.3 3.7 .4 8.7 2.9 2.8 .2 8.3 6.5 7 .4 4.9 2.9 2.8 .2 8.1 3.2 3.3 .3 12.4 2.3 2.4 4.2 .6 3.2 3.5-3.3 5.7 0 9.5 2.2 3.1 4.4 .9 .1 11 3.2 3.7 0 16.8-3.3 4.2 0 21.5-5.8 2.2-.9 12.6-5.5 1.9-1.1 5.5-20.1 0-.8-16.3-5.8-2.2-.9-5.2-13.9-15.6-5.3-1.4-.3-8.1-6.3-6.6-.6-5.1-2.5-2.3-3.6-.3-.4-8.2-2.9-2.8-.3-4.2-3.1-3.3-.6-5.2-2.7-2.3-.4-12.3-2.3-2.5-4-.6 3-4.4 .4-4.8 3.3-4.2 0-20.1-3.3-4.2-.6-5.3-3.5-2.5-12.6-.1-.1-11.3-3.3-3.7-.8-5.8-5.8-2.2-.6-5-4.6-5.4-8.3-1.1-3.4-3.7-6.7 .2-6.3 7.3-7.1 .4-2.9 3.5-5 1.1-1.7 2.7-3.6 0-2.5-3.3-4.2-.5-5.4-6.9-4.6-.8-5.8-7.2-10.9-.6-3.9-3.7-12.7-.1-3.9-3.8-25.3 0-3.9 3.8-4.6 .8-2.1 3-.5-8.5-3.7-3-10.4 .8-2 2.7-.2 4.2-20.2 0-2.9-3.5-6.3-.3-7.1 7.3-.2 15.8-4.9 1.1-5.1 7.7 .1 4.8 1.7 2.9 8.3 1.1 2.5 3.3 4.1 .6 0 9.1-3.5 0-5-6.5-5-1.1-4.4-3.8-9.5 .5-5.9 7.1-23.6 0-1.7-2.7-5-1.1-3.2-3.6-1.4-6.5-5.4-1.4-4.3-3.8-8.7 .2-3.4 3.6-27 0-7.2-7.6-27.6-.1-3.2 1.1-1.7 2.7-12.3 .1-4.4 3.8-14.1 .6-5.4 5.9-.6 5.3-9.2 9.5-.8 5.5-13.6 .3-3 3.5-5 1.1-1.6 2.7-4.6 .8-2.1 3-7.1 .3-2.9 3.5-5 1.1-1.7 2.7-4.6 .8-2 2.7-.2 4.3-3.2 3.5-5 1.2-4.3 4.8-.9 9.1-4 .6-2.2 2.5 .3 15.8-4 3.9 0 16.5 2.2 3.7 4.4 .8 .2 7.7 3.1 3.2 0 27.4-10.2 .4-6.3 7.3-.1 31 3.3 5.8-3.3 4.2 0 50.4-3.2 3.2-.1 6.1 3.3 3.7 0 10.3 3.3 4.2 .4 11.6 6.3 6.4 .4 18.7 2.2 2.5 4.3 .6 3.1 3.3 .4 4.3 6.3 6.4 .8 5.2 4.7 5 4.5 .8 .8 4.9 5.8 5.5 .2 7.4 3.2 3.3 .8 12.2 6.1 2.2 6.4 6.8 .2 7.4 2.5 2.9 27.3 .6 1.9 5.9 5 1.2 5 5.9 5 1.1 3.4 3.3 9.5 0 3.4-3.3 13.3-.2 6.7-6.8 16.2-.1 3.8-3.5 4.7-.8 2-2.7 12.8-.1 3.9-3.4 6.9 0 .8 4.8 5.6 5.4 8.4-.8 1.8-3.3 0-9.9 3.2-3.5 3.3-3.3 6.7-.2 3.3-3.4 4.2-.6 5.4-5.6 .6-18.6 4.5-.9 2.1-3.1 .1-24.8 3.1-3.3 .2-7.2 5.2-1.5 1.5-5.9 3.1-3.3 12.9-.1 3.8-3.5 5.2-1.3 2.9 1.2 11.4 0 3.9-3.5 13.3-.2 3.3-3.4 43.8 0 6.5 6.9 0 28 3.3 5.5-3.1 3.3-16.2 .1-3.6 2.9-.4 32.5-9.3 .1-3.5 2.5-.6 29.1-6 .1-2.8 1.8-1.2 15.7-4.4 .9-2.2 3.1 .5 6.9 2.5 2.2 3.6 .4 .2 7 2.5 3 70.7 .5 .9 4.8 4.1 2.2 91.8 0 .8 4.8 3.7 2.2 35.7 0 3.8 3.4 29.6 .1 4.3 3.5 32.4 0 3.8 3.4 26.2 .1 4.3 3.5 29.1 0 4.2 3.5 25.8 0 3.3 3.3 20 .2 2.9 2.3 3.4-6.9 8.1-14 2.2-6 3.1-12 1.2-2 2.9-1.7 2-.3 6-.1 4.7 .4zM318 274.7l22-2.1 10 6.2 8 4.1 6 2.4 8 1.9 6 .6 8 0 22-2.4 6-.2 20 1.8 6 1 6 1.8 18 8.3 22 12.5 21.1 7.4 8.9 4.5 6 4.5 13.7 13 2 4 .4 2-.6 4-3.1 4-5.7 4-14.6 8-4.1 1.5-8-2.3-4-.4-6 .6-12 3.6-6-2.1-6-.2-6 1.9-8 5.7-4 2.1-16 3.8-4.3 1.8-7.7 4.4-10 1-2-.3-4-2.2-2-.4-4 .3-2 .7-4 3-4 4.2-6 3.1-2.8 2.2-3.2 4-1.9 4-2.6 10-.4 6 1.7 4 1.2 .9 4 1.4 2.1 1.7 .4 2-2.4 2-2.1-.4-4-2.8-2-.6-4 .4-2 .9-12.9 8.5-3.1 3.2-4.9 6.8-3.1 1.9-2 0-2-1.4-4-5.3-2-1.5-4-1.3-4 .4-10.3 5.2-3.7 3.5-6 7.3-2 1.5-2 .8-4 .3-5.6-1.4-6.4-4.1-4-3.6-1.7-2.3-6.4-26-.9-6-1-26 1.4-16-.3-6-2.2-8-6.7-16-1.1-6 .2-8-1.3-2.7-5.2-3.3-3.7-4-7.4-12 0-2 3.7-8 4.6-5.4 4-1.9 4-.5 4-4.2 2-.8 10-2.4 16-2.2 12-3.2zM562 181.9l4 1.3 4 2.4 18 5.2 14 7.6 1.6 1.6 .4 2.7-2 4.3-2 2.3-2 1.4-8 2.8-1.3 2.5 1.3 2.2 4 2.6 2 2.6 2.3 6.6 .5 6-2.3 14-1.8 6-3.2 4-3.5 1.8-2 .4-3.5-.2-4.5-2-2.5-2-7.3-8-2.5-2-5.7-2.9-12-3.7-2-1.5-2-3.9-1.6-14-3-18-.1-4 .6-2 2.1-3.7 2-2.3 8-7.1 4-2.3 4-.8zM656 255l.6 1-.6 1.7-2 .7-.6-.4-.8-2 1.4-1.5z"/>
<path fill="#00bbff" d="M968 234.6l-12 .9-8 1.7-4 1.4-8 6.1-2 1.1-2 .4-24.8-4.2-11.2-4.3-10-2.5-14-7.3-14.7-17.9-5.3-7.7-4-3-4-1.1-8-.8-6-1.3-5.1-2.1-6.9-3.8-4-.7-4-1.6-4-3.7-3.1-4.2-2.1-4-6.9-24-2.6-14-2.5-6-3.4-6-1.5-4-4.4-17.5-6.8 8.1-.8 5.9-3.1 3.3-.3 4.5-3.1 3.3-.2 8.2-4 .6-2.5 2.9-.1 25.8 3.3 3.8 .1 15.6 3.2 3.7 .6 5.4 2.7 2.4 .1 7.8 3.3 3.7 .4 8.7 2.9 2.8 .2 8.3 6.5 7 .4 4.9 2.9 2.8 .2 8.1 3.2 3.3 .3 12.4 2.3 2.4 4.2 .6 3.2 3.5-3.3 5.7 0 9.5 2.2 3.1 4.4 .9 .1 11 3.2 3.7 0 16.8-3.3 4.2 0 21.5-5.8 2.2-.9 12.6-5.5 1.9-1.1 5.5-20.1 0-.8-16.3-5.8-2.2-.9-5.2-13.9-15.6-5.3-1.4-.3-8.1-6.3-6.6-.6-5.1-2.5-2.3-3.6-.3-.4-8.2-2.9-2.8-.3-4.2-3.1-3.3-.6-5.2-2.7-2.3-.4-12.3-2.3-2.5-4-.6 3-4.4 .4-4.8 3.3-4.2 0-20.1-3.3-4.2-.6-5.3-3.5-2.5-12.6-.1-.1-11.3-3.3-3.7-.8-5.8-5.8-2.2-.6-5-4.6-5.4-8.3-1.1-3.4-3.7-6.7 .2-6.3 7.3-7.1 .4-2.9 3.5-5 1.1-1.7 2.7-3.6 0-2.5-3.3-4.2-.5-5.4-6.9-4.6-.8-5.8-7.2-10.9-.6-3.9-3.7-12.7-.1-3.9-3.8-25.3 0-3.9 3.8-4.6 .8-2.1 3-.5-8.5-3.7-3-10.4 .8-2 2.7-.2 4.2-20.2 0-2.9-3.5-6.3-.3-7.1 7.3-.2 15.8-4.9 1.1-5.1 7.7 .1 4.8 1.7 2.9 8.3 1.1 2.5 3.3 4.1 .6 0 9.1-3.5 0-5-6.5-5-1.1-4.4-3.8-9.5 .5-5.9 7.1-23.6 0-1.7-2.7-5-1.1-3.2-3.6-1.4-6.5-5.4-1.4-4.3-3.8-8.7 .2-3.4 3.6-27 0-7.2-7.6-27.6-.1-3.2 1.1-1.7 2.7-12.3 .1-4.4 3.8-14.1 .6-5.4 5.9-.6 5.3-9.2 9.5-.8 5.5-13.6 .3-3 3.5-5 1.1-1.6 2.7-4.6 .8-2.1 3-7.1 .3-2.9 3.5-5 1.1-1.7 2.7-4.6 .8-2 2.7-.2 4.3-3.2 3.5-5 1.2-4.3 4.8-.9 9.1-4 .6-2.2 2.5 .3 15.8-4 3.9 0 16.5 2.2 3.7 4.4 .8 .2 7.7 3.1 3.2 0 27.4-10.2 .4-6.3 7.3-.1 31 3.3 5.8-3.3 4.2 0 50.4-3.2 3.2-.1 6.1 3.3 3.7 0 10.3 3.3 4.2 .4 11.6 6.3 6.4 .4 18.7 2.2 2.5 4.3 .6 3.1 3.3 .4 4.3 6.3 6.4 .8 5.2 4.7 5 4.5 .8 .8 4.9 5.8 5.5 .2 7.4 3.2 3.3 .8 12.2 6.1 2.2 6.4 6.8 .2 7.4 2.5 2.9 27.3 .6 1.9 5.9 5 1.2 5 5.9 5 1.1 3.4 3.3 9.5 0 3.4-3.3 13.3-.2 6.7-6.8 16.2-.1 3.8-3.5 4.7-.8 2-2.7 12.8-.1 3.9-3.4 6.9 0 .8 4.8 5.6 5.4 8.4-.8 1.8-3.3 0-9.9 3.2-3.5 3.3-3.3 6.7-.2 3.3-3.4 4.2-.6 5.4-5.6 .6-18.6 4.5-.9 2.1-3.1 .1-24.8 3.1-3.3 .2-7.2 5.2-1.5 1.5-5.9 3.1-3.3 12.9-.1 3.8-3.5 5.2-1.3 2.9 1.2 11.4 0 3.9-3.5 13.3-.2 3.3-3.4 43.8 0 6.5 6.9 0 28 3.3 5.5-3.1 3.3-16.2 .1-3.6 2.9-.4 32.5-9.3 .1-3.5 2.5-.6 29.1-6 .1-2.8 1.8-1.2 15.7-4.4 .9-2.2 3.1 .5 6.9 2.5 2.2 3.6 .4 .2 7 2.5 3 70.7 .5 .9 4.8 4.1 2.2 91.8 0 .8 4.8 3.7 2.2 35.7 0 3.8 3.4 29.6 .1 4.3 3.5 32.4 0 3.8 3.4 26.2 .1 4.3 3.5 29.1 0 4.2 3.5 25.8 0 3.3 3.3 17.3 .1 3.7-6.5 8.3-12 1.6-4 .2-6-.5-6-3.6-16 .8-2 4-.8 8 .2 4 .7 12.6 3.9zM340 269.6l10 5.7 10 4.7 8 2.8 6 1.2 6 .6 8-.2 20-2.9 6-.2 26 2.8 6 1.3 4 1.5 18.5 9.1 19.5 11.2 22 5.5 7.5 3.3 6.7 4 13.8 11.3 4 4.6 2.1 4.1 1.6 6 0 4-.7 2-1.4 2-1.6 1.2-4.9 2.8-13.2 6-11.9 4.7-2 .3-8-1.9-6-.5-6 .9-10 3.1-6-2.2-6-.2-6 1.9-8 5.3-4 2.1-12 3.1-6 2.1-4 2.2-4 3-2 .8-12-.4-2-1.5-4-1.4-2 0-4 1.1-2 1.3-6 5.6-7.1 4.6-3.3 4-1.9 4-2.3 10-.1 6 .9 2 1.8 1.8 4 2.3 1.4 1.9 .2 2-1.3 2-2.3 .8-2-.2-4-1.7-4-.7-4 .8-4 2.1-8 5.4-3.4 3.5-4.6 6.2-2 1.7-2 .7-2-.2-2-1.2-4-4.8-2-1.6-4-1.3-4 .5-10 5-3.1 3-4.9 6.8-2 2-2 1.3-2 .6-4 .1-6-1.5-4-2.3-6-5.3-2-2.5-1.5-3.2-7.2-26-.7-4-2.4-26 .1-4 1.5-12 .1-4-.6-4-2.2-6-6.9-14-3.6-14-5.6-8-5.9-12-3.1-3.7 0-.9 3.5-9.4 4.5-7.6 2-2.6 2-1.7 4.5-2.1 3.5-1.3 32-4 8-2 20-6.2 14-1.5zM560 179.3l6 .3 6 1.9 13.7 2.5 5.3 2 5 3.2 6 4.9 2 2.1 2 3.5 .5 2.3 .2 10 1.3 3.8 2 1.3 4 .7 2.1 2.2 0 2-2.1 1.2-2.3-1.2-3.7-3.9-2 .2-2 1.2-1.9 2.5-.8 4 1.4 12-1.1 8-2.3 8-1.8 4-1.5 2.1-4 2.8-4 1.1-4 .1-6-1.8-6.6-4.3-7.4-7.2-3.8-2.8-4.2-2-10-3.3-2-1.8-1.3-2.9-4.4-34 .4-6 1.3-3.2 2-2.9 6-6 6-4.5zM654 250.3l2 .6 1.8 1.1 1.7 2 .6 2-.3 2-1.8 3-2 1.6-2 1-2 0-2-1.8-1.3-3.8-.1-2 1.6-4 1.8-1.4z"/>
<path fill="#00c4ff" d="M968 235.4l-14 .9-8 2-4 2-6 4.8-2 1.1-2 .3-25.4-4.5-12.6-4.7-6.7-1.3-4.8-2-10.5-5.8-2-1.9-4-5.7-9-10.6-5-7-2-1.8-2-1.1-4-1-8-.2-6-.9-17.9-6-2.1-1.1-2-1.6-4-4.8-3-4.5-1.9-4-2.2-10-3.9-12-2.1-14-2.3-6-5.4-10-5.2-17.7-5.3 6.3-.8 5.9-3.1 3.3-.3 4.5-3.1 3.3-.2 8.2-4 .6-2.5 2.9-.1 25.8 3.3 3.8 .1 15.6 3.2 3.7 .6 5.4 2.7 2.4 .1 7.8 3.3 3.7 .4 8.7 2.9 2.8 .2 8.3 6.5 7 .4 4.9 2.9 2.8 .2 8.1 3.2 3.3 .3 12.4 2.3 2.4 4.2 .6 3.2 3.5-3.3 5.7 0 9.5 2.2 3.1 4.4 .9 .1 11 3.2 3.7 0 16.8-3.3 4.2 0 21.5-5.8 2.2-.9 12.6-5.5 1.9-1.1 5.5-20.1 0-.8-16.3-5.8-2.2-.9-5.2-13.9-15.6-5.3-1.4-.3-8.1-6.3-6.6-.6-5.1-2.5-2.3-3.6-.3-.4-8.2-2.9-2.8-.3-4.2-3.1-3.3-.6-5.2-2.7-2.3-.4-12.3-2.3-2.5-4-.6 3-4.4 .4-4.8 3.3-4.2 0-20.1-3.3-4.2-.6-5.3-3.5-2.5-12.6-.1-.1-11.3-3.3-3.7-.8-5.8-5.8-2.2-.6-5-4.6-5.4-8.3-1.1-3.4-3.7-6.7 .2-6.3 7.3-7.1 .4-2.9 3.5-5 1.1-1.7 2.7-3.6 0-2.5-3.3-4.2-.5-5.4-6.9-4.6-.8-5.8-7.2-10.9-.6-3.9-3.7-12.7-.1-3.9-3.8-25.3 0-3.9 3.8-4.6 .8-2.1 3-.5-8.5-3.7-3-10.4 .8-2 2.7-.2 4.2-20.2 0-2.9-3.5-6.3-.3-7.1 7.3-.2 15.8-4.9 1.1-5.1 7.7 .1 4.8 1.7 2.9 8.3 1.1 2.5 3.3 4.1 .6 0 9.1-3.5 0-5-6.5-5-1.1-4.4-3.8-9.5 .5-5.9 7.1-23.6 0-1.7-2.7-5-1.1-3.2-3.6-1.4-6.5-5.4-1.4-4.3-3.8-8.7 .2-3.4 3.6-27 0-7.2-7.6-27.6-.1-3.2 1.1-1.7 2.7-12.3 .1-4.4 3.8-14.1 .6-5.4 5.9-.6 5.3-9.2 9.5-.8 5.5-13.6 .3-3 3.5-5 1.1-1.6 2.7-4.6 .8-2.1 3-7.1 .3-2.9 3.5-5 1.1-1.7 2.7-4.6 .8-2 2.7-.2 4.3-3.2 3.5-5 1.2-4.3 4.8-.9 9.1-4 .6-2.2 2.5 .3 15.8-4 3.9 0 16.5 2.2 3.7 4.4 .8 .2 7.7 3.1 3.2 0 27.4-10.2 .4-6.3 7.3-.1 31 3.3 5.8-3.3 4.2 0 50.4-3.2 3.2-.1 6.1 3.3 3.7 0 10.3 3.3 4.2 .4 11.6 6.3 6.4 .4 18.7 2.2 2.5 4.3 .6 3.1 3.3 .4 4.3 6.3 6.4 .8 5.2 4.7 5 4.5 .8 .8 4.9 5.8 5.5 .2 7.4 3.2 3.3 .8 12.2 6.1 2.2 6.4 6.8 .2 7.4 2.5 2.9 27.3 .6 1.9 5.9 5 1.2 5 5.9 5 1.1 3.4 3.3 9.5 0 3.4-3.3 13.3-.2 6.7-6.8 16.2-.1 3.8-3.5 4.7-.8 2-2.7 12.8-.1 3.9-3.4 6.9 0 .8 4.8 5.6 5.4 8.4-.8 1.8-3.3 0-9.9 3.2-3.5 3.3-3.3 6.7-.2 3.3-3.4 4.2-.6 5.4-5.6 .6-18.6 4.5-.9 2.1-3.1 .1-24.8 3.1-3.3 .2-7.2 5.2-1.5 1.5-5.9 3.1-3.3 12.9-.1 3.8-3.5 5.2-1.3 2.9 1.2 11.4 0 3.9-3.5 13.3-.2 3.3-3.4 43.8 0 6.5 6.9 0 28 3.3 5.5-3.1 3.3-16.2 .1-3.6 2.9-.4 32.5-9.3 .1-3.5 2.5-.6 29.1-6 .1-2.8 1.8-1.2 15.7-4.4 .9-2.2 3.1 .5 6.9 2.5 2.2 3.6 .4 .2 7 2.5 3 70.7 .5 .9 4.8 4.1 2.2 91.8 0 .8 4.8 3.7 2.2 35.7 0 3.8 3.4 29.6 .1 4.3 3.5 32.4 0 3.8 3.4 26.2 .1 4.3 3.5 29.1 0 4.2 3.5 25.8 0 3.3 3.3 10.7 .1 3.1-6.1 9.2-12.4 2.3-4 .1-6-1.6-18 .4-4 1.6-3.2 2-1.8 4-1.8 4-.9 6-.7 6 .3 8.6 3.1zM318 271.2l22-2.8 4.5 1.6 19.5 8.4 6 1.8 6 1.1 6 .4 8-.4 18-3.4 4-.2 14 1.8 16 1.2 8 2.1 26 12.8 12 7.6 4 1.2 14 1.2 8 1.9 8 3.7 12 6.8 4 3.2 4 4 3.8 4.8 2.1 4 1.9 6 1.4 8-.1 4-.7 2-2.4 3.2-2 1.3-20.9 7.5-13.1 4.1-4 0-6-1.5-4-.4-6 .4-12 3.1-8-2.4-6 .6-6 2.5-6 4.2-4 2.1-12 3.4-6 2.3-4 2.6-4 4.9-8-2.4-6-.5-4-2.3-2-.5-4 .4-2 .8-2 1.3-4 3.8-7.6 5.5-3.3 4-1.9 4-2.1 10 0 6 1 2 3.9 2.6 2 2 .8 1.4 .1 2-1.1 2-1.8 1.2-2 .5-10-2.1-6 1.6-6 3.5-4 3-8 9.6-2 1.4-2 .5-2-.2-1.8-1-4.2-4.6-4-2.5-2-.4-4 .4-6.6 3.1-3.4 2.3-3.4 3.7-4.6 6.9-2 1.7-3.2 1.4-2.8 .3-4-.5-4-1.1-2-.9-4-2.9-6.6-6.9-2.6-6-6.9-22-1.5-6-1.6-14-2-12 .1-4 1.9-12-.1-6-2-6-8.8-16-3.2-10-4.7-9.5-3.4-10.5-3.5-8 .9-8.2 1.1-3.8 3.3-6 1.6-4.2 2-2.4 2.9-1.4 9.1-2 16-.7 14-1.9 10-2.5zM560 176.7l4-.6 4 0 14 1.7 8 2.4 6 3.5 6 5.5 4 5.3 2.3 5.5 2 10 1 2 4.7 4.8 2.1 3.2 .4 2-.4 2-2.1 1.6-2-.3-4-2.3-2-.1-2 1.1-1 2 .2 4 2.3 8-.4 4-5.5 16-2.5 4-3.1 2.3-4 1.3-6 .5-4-.4-4-1.2-5.1-2.5-4.9-3.2-6.7-6.8-3.3-2.6-4-2.1-10-2.9-2.2-2.4-1.4-6-3-30-.1-6 .7-3.4 2-4.3 1.7-2.3 6.3-6.4 6-4.5zM625.1 242l-1.1 .4-.5-.4 .5-1.6zM650 242.3l2-.3 2 1 4 4.8 4 2.9 1 1.3 .7 4-1.2 4-2.5 3.3-6 4.7-4 2.3-2-3.6-1.8-4.7-.6-6 .2-6 .9-4 1.3-2.2zM665.7 206l4.3-.4 .5 .4 .7 4 .5 12 1 4 2.7 6-1.4 2.7-2 1.5-2 .9-4 .7-4-.6-3.8-1.2-1.4-2-.2-2 1.4-7.2 5.5-16.8zM425.6 398l-1.6 .8-.4-.8 .4-1.9zM448 528.5l2-.3 3.3 1.8 1 2-.5 2-1.8 1.1-2 0-2-.6-4-2.2 0-.7 2-1.9zM540 275.8l0 .4-.1-.2z"/>
<path fill="#00ccff" d="M610 229.8l2-.8 .3-1-.6-2-1.7-1.2-1.9 1.2 .1 2zM917.1 690.4l2.9-7.6 7.5-8.8 3.3-6 1.2-6 .9-18 .9-4 2.2-4.3 4-3.7 4-2.1 10-2.8 6-.6 8.6 2.9-.3-393.2-4.3 .5-10 .1-8 1.9-4 2.1-6 4.7-2 1.1-2 .3-6-1.5-6-.6-14-2.8-10.5-4-7.5-1.6-4-1.5-12-6.3-2-1.9-4-5.6-9.4-11.1-4.6-6.3-4-3-4-.7-8 .4-4.6-.4-9.4-2.9-8-1.9-4-1.8-4-3.4-7.7-12-3.1-14-3.6-10-.9-10-1.5-6-1.7-4-5.8-10-5.1-16-3.9 4.6-.8 5.9-3.1 3.3-.3 4.5-3.1 3.3-.2 8.2-4 .6-2.5 2.9-.1 25.8 3.3 3.8 .1 15.6 3.2 3.7 .6 5.4 2.7 2.4 .1 7.8 3.3 3.7 .4 8.7 2.9 2.8 .2 8.3 6.5 7 .4 4.9 2.9 2.8 .2 8.1 3.2 3.3 .3 12.4 2.3 2.4 4.2 .6 3.2 3.5-3.3 5.7 0 9.5 2.2 3.1 4.4 .9 .1 11 3.2 3.7 0 16.8-3.3 4.2 0 21.5-5.8 2.2-.9 12.6-5.5 1.9-1.1 5.5-20.1 0-.8-16.3-5.8-2.2-.9-5.2-13.9-15.6-5.3-1.4-.3-8.1-6.3-6.6-.6-5.1-2.5-2.3-3.6-.3-.4-8.2-2.9-2.8-.3-4.2-3.1-3.3-.6-5.2-2.7-2.3-.4-12.3-2.3-2.5-4-.6 3-4.4 .4-4.8 3.3-4.2 0-20.1-3.3-4.2-.6-5.3-3.5-2.5-12.6-.1-.1-11.3-3.3-3.7-.8-5.8-5.8-2.2-.6-5-4.6-5.4-8.3-1.1-3.4-3.7-6.7 .2-6.3 7.3-7.1 .4-2.9 3.5-5 1.1-1.7 2.7-3.6 0-2.5-3.3-4.2-.5-5.4-6.9-4.6-.8-5.8-7.2-10.9-.6-3.9-3.7-7.4-.1 6.4 4.9 6 7.5 3.3 6.9 2.3 10 1.5 4 6 8 4.6 10 2.3 2.2 6 2.8 4 .7 4-.6 4-2 2-1.5 4.7-5.6 8.8-16 1.4-2 2.4-2 2.7-1 4 .3 2 1.3 1.1 1.4 2.1 6 1.9 14 1.6 6-.7 4.7-2 3.7-6.3 7.6-2.7 10-2.2 4-2.8 2.9-3.9 3.1-6.1 3.8-2 .5-3.1-2.3-3.1-6-1.1-4-.2-6-.8-2-1.7-2.5-4-2.3-10-.7-2-.8-4-2.8-2-.8-2-.1-2 .9-2 2.1-4 6.2-1.3 2.8-1.8 6-2.9 4.6-2 1.7-2 .8-6.4 .9-7.6-.1-4-.7-4-1.4-10-4.7-2-1.6-6.2-7.5-2.6-2-3.2-1.5-11.6-2.5-1.3-8-2.1-22-.7-12 .3-6 1.4-4.7 3.4-5.3 6.6-6.6 5.6-4.4-3 .5-2.1 3-.5-8.5-3.7-3-10.4 .8-2 2.7-.2 4.2-20.2 0-2.9-3.5-6.3-.3-7.1 7.3-.2 15.8-4.9 1.1-5.1 7.7 .1 4.8 1.7 2.9 8.3 1.1 2.5 3.3 4.1 .6 0 9.1-3.5 0-5-6.5-5-1.1-4.4-3.8-9.5 .5-5.9 7.1-23.6 0-1.7-2.7-5-1.1-3.2-3.6-1.4-6.5-5.4-1.4-4.3-3.8-8.7 .2-3.4 3.6-27 0-7.2-7.6-27.6-.1-3.2 1.1-1.7 2.7-12.3 .1-4.4 3.8-14.1 .6-5.4 5.9-.6 5.3-9.2 9.5-.8 5.5-13.6 .3-3 3.5-5 1.1-1.6 2.7-4.6 .8-2.1 3-7.1 .3-2.9 3.5-5 1.1-1.7 2.7-4.6 .8-2 2.7-.2 4.3-3.2 3.5-5 1.2-4.3 4.8-.9 9.1-4 .6-2.2 2.5 .3 15.8-4 3.9 0 16.5 2.2 3.7 4.4 .8 .2 7.7 3.1 3.2 0 27.4-10.2 .4-6.3 7.3-.1 31 3.3 5.8-3.3 4.2 0 50.4-3.2 3.2-.1 6.1 3.3 3.7 0 10.3 3.3 4.2 .4 11.6 6.3 6.4 .4 18.7 2.2 2.5 4.3 .6 3.1 3.3 .4 4.3 6.3 6.4 .8 5.2 4.7 5 4.5 .8 .8 4.9 5.8 5.5 .2 7.4 3.2 3.3 .8 12.2 6.1 2.2 6.4 6.8 .2 7.4 2.5 2.9 27.3 .6 1.9 5.9 5 1.2 5 5.9 5 1.1 3.4 3.3 9.5 0 3.4-3.3 13.3-.2 6.7-6.8 16.2-.1 3.8-3.5 4.7-.8 2-2.7 12.8-.1 3.9-3.4 6.9 0 .8 4.8 5.6 5.4 8.4-.8 1.8-3.3 0-9.9 3.2-3.5 3.3-3.3 6.7-.2 3.3-3.4 4.2-.6 5.4-5.6 .6-18.6 4.5-.9 2.1-3.1 .1-19.1-4.3 1.1-2-.3-2-1-6-5.4-1.6-3.2 1.6-4.8 2-2.8 2-1.5 2-.3 5.1 1.4 3.8 2 2.6 2.4 .1-3.8 5.2-1.5 1.5-5.9 3.1-3.3 12.9-.1 3.8-3.5 5.2-1.3 2.9 1.2 11.4 0 3.9-3.5 13.3-.2 3.3-3.4 43.8 0 6.5 6.9 0 28 3.3 5.5-3.1 3.3-16.2 .1-3.6 2.9-.4 32.5-9.3 .1-3.5 2.5-.6 29.1-6 .1-2.8 1.8-1.2 15.7-4.4 .9-2.2 3.1 .5 6.9 2.5 2.2 3.6 .4 .2 7 2.5 3 70.7 .5 .9 4.8 4.1 2.2 91.8 0 .8 4.8 3.7 2.2 35.7 0 3.8 3.4 29.6 .1 4.3 3.5 32.4 0 3.8 3.4 26.2 .1 4.3 3.5 29.1 0 4.2 3.5 25.8 0 3.3 3.3zM320 269l18-1.7 4 .3 26 9.3 10 1.9 6 .2 8-.6 18-3.9 16 2.3 20 1 6 2 14 7.1 12 5.4 6.9 3.7 5.1 3.5 20 .4 8 1.6 10 5.6 6 2.2 4 2.1 4 3.8 6 8.2 4 6.6 1.2 4 2.2 16-.4 4-.8 2-3.2 4-3 1.7-8 1.4-14 4.7-14 3.6-4-.1-8-1.6-4-.2-16 3-8-2-4 .1-4 1.1-4 1.9-6 4.1-4 2.1-13.2 4.2-6.8 3.3-1.9 2.7-.7 8-1.6 2-2.1 0-1.2-2-1-4-1.5-1.6-2-1.2-2-.7-6-.8-4-2.3-2-.4-4 .4-4 2.2-10.2 8.4-3.4 4-1.9 4-1.6 8-.2 8 1.2 2 4.1 2.6 2.2 3.4 0 2-.8 2-1.4 1.2-2 1-2 .2-10-1.6-2 .1-4 1.3-4 2.1-5.1 3.7-8.5 10-2.4 1.5-2 .3-2-.3-2-1-4-4.2-4-2.5-2-.5-4 .5-6 2.8-4 2.8-2.3 2.6-5 8-2.7 2.3-4 1.2-2 .1-8-1.6-4-2-2-1.6-4-3.9-3.6-4.5-2.7-6-8.2-24-1.4-6-1.6-12-2.6-12 .1-4.7 2.3-13.3-.2-4-2.5-6-8.6-14-4-12-3.9-8-2-10-2.8-10-.5-6 .2-6 .6-2 3-4 1.6-8 2.9-2 13.9-2.2 14 0 10-1 14-3zM884 641.7l.9 2.3-1.2 2-1.7 .6-2-.5-1.8-2.1 .1-2 1.7-1.1 2-.2zM542.5 272l3.5 2 1.1 2 .1 2-.4 2-2.5 4-2.3 1.8-2 .7-2-.2-2-1.3-.6-1-.7-2 .2-4 1.8-4 1.3-1.1 2-1zM584 172.9l.6 .2-.9-.2zM556.7 175.2l3.3-1.4 3-.9-3.9 0z"/>
<path fill="#00d5ff" d="M968 237.1l-4 .4-8-.3-10 2-4 2-6 4.7-2 1.1-2 .2-6-1.6-6-.5-6-1.6-8.8-1.5-5.2-1.7-5.2-2.3-6.8-1.5-4-1.3-12-6.3-2-1.7-4-5.6-14-17.2-2-1.9-2-1.2-4-.6-6 .8-6 .1-10-2.9-8-1.6-4-1.6-4-3.1-1.9-2.4-7.3-12-2.1-12-4.4-12-.6-10-.8-4-2.5-6-6.1-10-5-14.4-2.6 3-.8 5.9-3.1 3.3-.3 4.5-3.1 3.3-.2 8.2-4 .6-2.5 2.9-.1 25.8 3.3 3.8 .1 15.6 3.2 3.7 .6 5.4 2.7 2.4 .1 7.8 3.3 3.7 .4 8.7 2.9 2.8 .2 8.3 6.5 7 .4 4.9 2.9 2.8 .2 8.1 3.2 3.3 .3 12.4 2.3 2.4 4.2 .6 3.2 3.5-3.3 5.7 0 9.5 2.2 3.1 4.4 .9 .1 11 3.2 3.7 0 16.8-3.3 4.2 0 21.5-5.8 2.2-.9 12.6-5.5 1.9-1.1 5.5-20.1 0-.8-16.3-5.8-2.2-.9-5.2-13.9-15.6-5.3-1.4-.3-8.1-6.3-6.6-.6-5.1-2.5-2.3-3.6-.3-.4-8.2-2.9-2.8-.3-4.2-3.1-3.3-.6-5.2-2.7-2.3-.4-12.3-2.3-2.5-4-.6 3-4.4 .4-4.8 3.3-4.2 0-20.1-3.3-4.2-.6-5.3-3.5-2.5-12.6-.1-.1-11.3-3.3-3.7-.8-5.8-5.8-2.2-.6-5-4.6-5.4-8.3-1.1-3.4-3.7-6.7 .2-6.3 7.3-7.1 .4-2.9 3.5-5 1.1-1.7 2.7-3.6 0-2.5-3.3-4.2-.5-5.4-6.9-4.6-.8-5.8-7.2-10.9-.6-1.9-1.8 3.8 5.3 2.9 6 1.9 6 2.1 10 1.7 4 8.6 11.9 2 2.2 4 2.5 4 .9 4-.2 4-1.6 2-1.3 4-4.3 10-15 3.4-3.1 2.6-1.2 4-.3 4 1.5 2.3 2 2.4 4 2.5 8 .8 10 1.7 6-.2 6-1.2 4-6.3 8.7-4.2 9.3-3.1 4-8 6-4.7 2.5-4 1-3.5-1.5-6-8-1.9-4-.6-4.4-12-2.5-4-2.1-2-2-2 .3-6.2 4.7-1.5 2 0 2-1 4-2.9 4-5.5 4-2.9 .3-16-.8-4-.9-8-2.8-6-1.3-2-.9-1.3-1.6-4-8-2.7-2.6-4-1.7-8-.8-2-1-1.5-1.9-.6-4-2.2-26-.3-16 1.1-6 1.7-4 3-4 7.2-7.2-.4-6.8-3.7-3-10.4 .8-2 2.7-.2 4.2-20.2 0-2.9-3.5-6.3-.3-7.1 7.3-.2 15.8-4.9 1.1-5.1 7.7 .1 4.8 1.7 2.9 8.3 1.1 2.5 3.3 4.1 .6 0 9.1-3.5 0-5-6.5-5-1.1-4.4-3.8-9.5 .5-5.9 7.1-23.6 0-1.7-2.7-5-1.1-3.2-3.6-1.4-6.5-5.4-1.4-4.3-3.8-8.7 .2-3.4 3.6-27 0-7.2-7.6-27.6-.1-3.2 1.1-1.7 2.7-12.3 .1-4.4 3.8-14.1 .6-5.4 5.9-.6 5.3-9.2 9.5-.8 5.5-13.6 .3-3 3.5-5 1.1-1.6 2.7-4.6 .8-2.1 3-7.1 .3-2.9 3.5-5 1.1-1.7 2.7-4.6 .8-2 2.7-.2 4.3-3.2 3.5-5 1.2-4.3 4.8-.9 9.1-4 .6-2.2 2.5 .3 15.8-4 3.9 0 16.5 2.2 3.7 4.4 .8 .2 7.7 3.1 3.2 0 27.4-10.2 .4-6.3 7.3-.1 31 3.3 5.8-3.3 4.2 0 50.4-3.2 3.2-.1 6.1 3.3 3.7 0 10.3 3.3 4.2 .4 11.6 6.3 6.4 .4 18.7 2.2 2.5 4.3 .6 3.1 3.3 .4 4.3 6.3 6.4 .8 5.2 4.7 5 4.5 .8 .8 4.9 5.8 5.5 .2 7.4 3.2 3.3 .8 12.2 6.1 2.2 6.4 6.8 .2 7.4 2.5 2.9 27.3 .6 1.9 5.9 5 1.2 5 5.9 5 1.1 3.4 3.3 9.5 0 3.4-3.3 13.3-.2 6.7-6.8 16.2-.1 3.8-3.5 4.7-.8 2-2.7 12.8-.1 3.9-3.4 6.9 0 .8 4.8 5.6 5.4 8.4-.8 1.8-3.3 0-9.9 3.2-3.5 3.3-3.3 6.7-.2 3.3-3.4 4.2-.6 5.4-5.6 .6-18.6 4.5-.9 2.1-3.1 0-14-4.2 .2-4-.8-6-7-2.5-4.3-.3-4 .8-3.4 2-5 2-3.5 2-.3 13.7 4.2 3.3 1.7 1.8-.6 1.5-5.9 3.1-3.3 12.9-.1 3.8-3.5 5.2-1.3 2.9 1.2 11.4 0 3.9-3.5 13.3-.2 3.3-3.4 43.8 0 6.5 6.9 0 28 3.3 5.5-3.1 3.3-16.2 .1-3.6 2.9-.4 32.5-9.3 .1-3.5 2.5-.6 29.1-6 .1-2.8 1.8-1.2 15.7-4.4 .9-2.2 3.1 .5 6.9 2.5 2.2 3.6 .4 .2 7 2.5 3 70.7 .5 .9 4.8 4.1 2.2 91.8 0 .8 4.8 3.7 2.2 35.7 0 3.8 3.4 29.6 .1 4.3 3.5 32.4 0 3.8 3.4 26.2 .1 4.3 3.5 29.1 0 4.2 3.5 25.8 0 3 3 4.1-8.5 7.2-9.6 2.2-4 1.1-4 1.7-12 1.7-8 2.2-6 2.5-4 5.4-5.1 4-2.3 15.2-4.6 1.5 0 7.9 3zM320 267.3l8-1 14 0 7.6 1.7 20.4 6.9 10 1.6 6 0 8-.9 16-4 16 2.7 22 .5 4 1.5 14 7.3 8 3.2 16 6 4 1 4 .3 12-.6 6-.9 4-1.1 2-1.1 2-1.9 7.5-12.5 4.5-4.8 2-1.3 4-1.2 4 .2 4.4 1.1 3.7 2 .2 2-2.3 8.2-7 15.8-.4 4 .8 4 3.1 8 8.4 16 .5 2-.1 8 2 12-.9 4-3 4-5.4 4.2-10 .9-12 4-14 3.1-4 .5-10-1.8-4-.2-16 2.5-8-1.7-4 .3-4 1-4 1.9-6 4.2-4 2.2-12 3.9-5.8 3-2.1 2-1.1 8-1.3 2-1.7 1-2 .1-1.3-1.1-2.7-5.8-2.7-2.2-3.3-1.2-4-.5-4-2.2-2-.4-4 .5-4 2.2-9 7.6-3.3 4-1.9 4-1.5 8 .2 8 4.8 4 1.6 2 .8 2 .1 2-.7 2-2.1 2-3 1.1-2 .1-10-1.4-6 1.3-4 2.1-4 2.8-8.6 10-3.4 2.2-4-.1-2-1.1-4-4-4-2.5-2-.4-4 .4-6 2.9-3.4 2.6-3.2 4-3.4 6.5-2 2-2 1.2-4 1-2 0-10-2.3-2-1-4-3.5-6.6-7.9-2.8-6-8.9-24-1.4-6-1.5-10-3-12-.6-4 2.5-16-.1-4-4-8-6.9-10-3.7-12-4.6-10-1.1-10-3.2-16-1-10 4-4 .9-8 2.5-2 17.5-2 14 .4 10-1.1 12-2.5zM878 638.9l4-.2 2 .6 2 1.4 1.2 1.3 .8 2-.1 2-1.2 2-2.7 1.5-2 .2-2-.4-2.3-1.3-1.7-2-1.3-4 .3-2z"/>
<path fill="#00ddff" d="M968 237.9l-4 .4-8-.6-10 2-4 2-4 3.2-4 2.5-2 .1-8-2-4-.1-6-1.7-9.5-1.7-4.5-1.4-5.9-2.6-10.1-2.6-12-6.2-2-1.5-4.1-5.7-13.9-17-2-1.9-2-1.2-4-.4-6 1.1-8 0-8-2.5-10-1.9-2-1-4.4-3.2-1.6-1.7-8.5-14.3-1.8-12-4.7-12 0-8-1-6-2.6-6-5.5-8-5.8-15-1.4 1.6-.8 5.9-3.1 3.3-.3 4.5-3.1 3.3-.2 8.2-4 .6-2.5 2.9-.1 25.8 3.3 3.8 .1 15.6 3.2 3.7 .6 5.4 2.7 2.4 .1 7.8 3.3 3.7 .4 8.7 2.9 2.8 .2 8.3 6.5 7 .4 4.9 2.9 2.8 .2 8.1 3.2 3.3 .3 12.4 2.3 2.4 4.2 .6 3.2 3.5-3.3 5.7 0 9.5 2.2 3.1 4.4 .9 .1 11 3.2 3.7 0 16.8-3.3 4.2 0 21.5-5.8 2.2-.9 12.6-5.5 1.9-1.1 5.5-20.1 0-.8-16.3-5.8-2.2-.9-5.2-13.9-15.6-5.3-1.4-.3-8.1-6.3-6.6-.6-5.1-2.5-2.3-3.6-.3-.4-8.2-2.9-2.8-.3-4.2-3.1-3.3-.6-5.2-2.7-2.3-.4-12.3-2.3-2.5-4-.6 3-4.4 .4-4.8 3.3-4.2 0-20.1-3.3-4.2-.6-5.3-3.5-2.5-12.6-.1-.1-11.3-3.3-3.7-.8-5.8-5.8-2.2-.6-5-4.6-5.4-8.3-1.1-3.4-3.7-6.7 .2-6.3 7.3-7.1 .4-2.9 3.5-5 1.1-1.7 2.7-3.6 0-2.5-3.3-4.2-.5-5.4-6.9-4.6-.8-5.8-7.2-6.6-.3 2.8 7.2 3.1 16 2.3 6 6.6 8.6 2 1.9 4 2.4 2 .5 4 .2 4-1.2 2-1.2 4-3.8 10-14.3 3.5-3.1 2.5-1.3 4-.7 4 .7 4 2.2 2.9 3.1 3.2 6 2.1 6 2.4 16 .2 8-.7 4-.9 2-5.7 6-1.3 2-2.6 6-3 4-5.2 4-6.8 4-4.6 2.1-4 .6-4-1.2-6-5.9-4-2.8-4-2-4-.7-4-.1-4 .7-4 1.9-8.2 5.4-4.5 2-3.3 .7-20-1.6-10-2.9-4 .5-2.1 1.3-1.6 2-4.4 8-4.6 12-1.4 8-.1 6 .5 4 2.5 8 5.2 12 .3 12 2.9 10-.4 4-1.2 2-4.6 4-7 4-10 .8-12 4-16 2.9-4-.1-10-1.8-16 2-2 .1-8-1.4-6 .8-6 2.5-6 4.4-4 2.1-10 3.4-4.6 2.3-2.3 2-1 2-1.6 6-1.1 2-1.4 1.2-2 .9-2-.3-2-1.6-3.5-6.2-2.5-1.7-6-1.6-4-2-2-.4-4 .6-4 2.3-9.8 8.8-2.5 4-1.3 4-.7 6 .5 6 1 2 4 4 2.2 4 .1 2-.6 2-1.7 2-3.2 1.6-2 .3-12-1.2-6 1.3-4 2.1-4 2.9-8 9.3-2 1.8-2 .8-4-.3-2-1-4-3.9-4-2.5-2-.4-4 .4-5.7 2.8-4.3 3.7-1.6 2.3-4.4 8.5-2 1.5-4 1.5-4 .3-8.7-1.8-3.3-1.3-4-3.5-6-6.9-3.6-6.3-11-28-2.4-14-3.4-12-.7-4 .3-4 1.9-10 .1-4-.3-2-1.7-4-2.3-4-7.2-10-2.9-12-3.6-8-2.3-20-2.4-8-1.6-8-.1-2 3.2-6 2.9-8 1.1-1 4-1.1 10-.5 6-1 12 .6 8-.4 16-3.3 26-8.1 6-.6 12 .3 10 1.3 20 6.4 10 1.6 6 0 6-.5 18-4.1 12 2.1 6 .6 18-.6 4 .3 14 7.7 10 3.9 20 5 10 .4 6-1 6-2.3 4-2.8 6.9-6.9 9.1-7.8 6-2.9 8-.5 2-.6 2-1.3 1.5-2.9-.3-4-1.1-2-2.1-1.9-2-.8-8-.1-2-.9-2.2-2.3-1.2-4-2.1-28 .2-18 1.2-6 1.9-4 10.4-11.6-.2-4.4-3.7-3-10.4 .8-2 2.7-.2 4.2-20.2 0-2.9-3.5-6.3-.3-7.1 7.3-.2 15.8-4.9 1.1-5.1 7.7 .1 4.8 1.7 2.9 8.3 1.1 2.5 3.3 4.1 .6 0 9.1-3.5 0-5-6.5-5-1.1-4.4-3.8-9.5 .5-5.9 7.1-23.6 0-1.7-2.7-5-1.1-3.2-3.6-1.4-6.5-5.4-1.4-4.3-3.8-8.7 .2-3.4 3.6-27 0-7.2-7.6-27.6-.1-3.2 1.1-1.7 2.7-12.3 .1-4.4 3.8-14.1 .6-5.4 5.9-.6 5.3-9.2 9.5-.8 5.5-13.6 .3-3 3.5-5 1.1-1.6 2.7-4.6 .8-2.1 3-7.1 .3-2.9 3.5-5 1.1-1.7 2.7-4.6 .8-2 2.7-.2 4.3-3.2 3.5-5 1.2-4.3 4.8-.9 9.1-4 .6-2.2 2.5 .3 15.8-4 3.9 0 16.5 2.2 3.7 4.4 .8 .2 7.7 3.1 3.2 0 27.4-10.2 .4-6.3 7.3-.1 31 3.3 5.8-3.3 4.2 0 50.4-3.2 3.2-.1 6.1 3.3 3.7 0 10.3 3.3 4.2 .4 11.6 6.3 6.4 .4 18.7 2.2 2.5 4.3 .6 3.1 3.3 .4 4.3 6.3 6.4 .8 5.2 4.7 5 4.5 .8 .8 4.9 5.8 5.5 .2 7.4 3.2 3.3 .8 12.2 6.1 2.2 6.4 6.8 .2 7.4 2.5 2.9 27.3 .6 1.9 5.9 5 1.2 5 5.9 5 1.1 3.4 3.3 9.5 0 3.4-3.3 13.3-.2 6.7-6.8 16.2-.1 3.8-3.5 4.7-.8 2-2.7 12.8-.1 3.9-3.4 6.9 0 .8 4.8 5.6 5.4 8.4-.8 1.8-3.3 0-9.9 3.2-3.5 3.3-3.3 6.7-.2 3.3-3.4 4.2-.6 5.4-5.6 .6-18.6 4.5-.9 2.1-3.1 0-10.4-6.2-.7-2-.8-2-1.5-6-8.1-1.9-4.4-.1-6 2-7.8 2.1-4.2 1.9-1.3 2 .1 6 2.2 9.6 1 4.2 1.1 .5-1.9 3.1-3.3 12.9-.1 3.8-3.5 5.2-1.3 2.9 1.2 11.4 0 3.9-3.5 13.3-.2 3.3-3.4 43.8 0 6.5 6.9 0 28 3.3 5.5-3.1 3.3-16.2 .1-3.6 2.9-.4 32.5-9.3 .1-3.5 2.5-.6 29.1-6 .1-2.8 1.8-1.2 15.7-4.4 .9-2.2 3.1 .5 6.9 2.5 2.2 3.6 .4 .2 7 2.5 3 70.7 .5 .9 4.8 4.1 2.2 91.8 0 .8 4.8 3.7 2.2 35.7 0 3.8 3.4 29.6 .1 4.3 3.5 32.4 0 3.8 3.4 26.2 .1 4.3 3.5 29.1 0 4.2 3.5 25.2 0 5.2-9.1 7-10 .7-2 2.1-12 2-6 4.1-10 4.6-6.6 4-3.9 4-3 7.3-2.5 10.7-2.7 8.6 2.2zM876 637.3l4-.5 4 .6 4.7 2.6 1.8 2 1 2 .4 2-.4 2-1.4 2-3 2-3.1 .7-4-.4-4-2.3-2.7-4-.8-4 .1-2 1.2-2zM608 616.5l2 0 2.9 1.5 1.3 2 .3 2-.5 3.1-1.6 2.9-2.4 1.9-4 1.2-2-.4-2.1-2.7-.4-2 .4-4 .9-2 1.8-2z"/>
<path fill="#00e6ff" d="M968 238.6l-4 .4-8-.8-10 1.9-2 .7-10 7-2 .1-8-2.2-4 0-5.6-1.7-10.7-2-3.7-1.1-6-2.7-10-2.5-12-6.2-2-1.4-4.4-6.1-3.8-4-9.8-12.4-4-3.1-4-.3-6 1.5-8 .2-8-2.7-8.9-1.2-3.1-1.2-6.2-4.8-9.6-16-.6-8-.8-4-1.5-4-3.1-6-.5-2 .4-8-1-6-2.8-6-5.8-8-5.6-13.7-1 6.2-3.1 3.3-.3 4.5-3.1 3.3-.2 8.2-4 .6-2.5 2.9-.1 25.8 3.3 3.8 .1 15.6 3.2 3.7 .6 5.4 2.7 2.4 .1 7.8 3.3 3.7 .4 8.7 2.9 2.8 .2 8.3 6.5 7 .4 4.9 2.9 2.8 .2 8.1 3.2 3.3 .3 12.4 2.3 2.4 4.2 .6 3.2 3.5-3.3 5.7 0 9.5 2.2 3.1 4.4 .9 .1 11 3.2 3.7 0 16.8-3.3 4.2 0 21.5-5.8 2.2-.9 12.6-5.5 1.9-1.1 5.5-20.1 0-.8-16.3-5.8-2.2-.9-5.2-13.9-15.6-5.3-1.4-.3-8.1-6.3-6.6-.6-5.1-2.5-2.3-3.6-.3-.4-8.2-2.9-2.8-.3-4.2-3.1-3.3-.6-5.2-2.7-2.3-.4-12.3-2.3-2.5-4-.6 3-4.4 .4-4.8 3.3-4.2 0-20.1-3.3-4.2-.6-5.3-3.5-2.5-12.6-.1-.1-11.3-3.3-3.7-.8-5.8-5.8-2.2-.6-5-4.6-5.4-8.3-1.1-3.4-3.7-6.7 .2-6.3 7.3-7.1 .4-2.9 3.5-5 1.1-1.7 2.7-3.6 0-2.5-3.3-4.2-.5-5.4-6.9-4.6-.8-5.8-7.2-2.3-.1 1.6 7 1.5 14 1.7 6 2.3 4 3.4 4 4 3.1 2 .9 2 .5 4 0 4-1.5 2-1.4 4.9-5.6 7.1-10.8 3.2-3.2 2.8-1.6 4-1 6 .8 4 2.1 4 3.9 4.6 7.8 2.8 8 2.3 18 .4 10-.6 2-1.5 2.5-2 1.5-4.1 2-2.2 6-2.7 4-5.5 4-7.4 4-8.1 3.4-4 .6-4-.8-2-1-4-3.8-2-.8-8-1.3-8 .8-14 4.3-6 1.2-22-1.4-4-.7-6-1.9-2 .9-2.2 2.5-2.5 4-4.7 10-2.1 8-.6 10 1.1 8 5.6 16 .3 12 4.7 10 0 4-1 2-1.9 2-6.9 4-5.8 2.6-12 1.7-10.5 3.7-9.5 1.2-8 1.6-2 .2-12-2.2-16 1.7-10-1.1-8 1.6-4 1.9-8 5.7-14 5.5-2.4 1.9-1.4 2-3.2 8-2 2-3 1.1-2-.4-2-1.5-2.9-5.2-3.1-2.9-6-2-4-1.9-2-.3-4 .7-4 2.3-7 6.1-3.1 4-2.4 6-.6 6 .5 4 .8 2 4.8 6 2.2 4 .3 2-.5 2-1.5 2-3.3 2-2.2 .6-4 .2-10-1.3-6 1.3-4 2-4 3.1-8 9.4-2 1.7-2 .6-4-.5-2-.9-4-3.8-4-2.5-2-.5-4 .5-4.5 2.1-4.8 4-2.6 4-2.3 6-1.6 2-4.2 1.9-4 1.1-14-3.1-4-3.4-4-4.4-4-5.4-2.6-4.7-4.6-12-7-16-2.4-14-3.9-12-.8-4 2.2-14-.4-6-2.7-6-2.7-4-5-6-.8-2-1.8-10-4.3-12-1.5-12 .2-6-3.1-8-1.4-6-.2-4 .8-2.7 4.3-9.3 1.2-2 2.1-2 4.4-1.6 8 0 8-1.5 10 .8 10-.4 16-3.4 24-8 4-.7 6-.2 20 1.3 6 1.5 14 4.6 10 1.7 6 0 6-.5 18-3.6 18 2.3 20-1.1 3.3 .8 12.7 7 10 3.8 22 3.8 8 .3 6-1.2 4-1.7 4-2.7 4-3.5 6-4.2 12-9.6 2-1.2 8-.4 2-1.5 .8-2.9-1-2-1.8-1.1-2 .2-4 1.6-2 0-2-1.1-2-2.1-1.9-3.5-1-4-1.8-28 .7-20.6 1.2-5.4 2.2-4 10.7-12.3-.1-1.7-3.7-3-10.4 .8-2 2.7-.2 4.2-20.2 0-2.9-3.5-6.3-.3-7.1 7.3-.2 15.8-4.9 1.1-5.1 7.7 .1 4.8 1.7 2.9 8.3 1.1 2.5 3.3 4.1 .6 0 9.1-3.5 0-5-6.5-5-1.1-4.4-3.8-9.5 .5-5.9 7.1-23.6 0-1.7-2.7-5-1.1-3.2-3.6-1.4-6.5-5.4-1.4-4.3-3.8-8.7 .2-3.4 3.6-27 0-7.2-7.6-27.6-.1-3.2 1.1-1.7 2.7-12.3 .1-4.4 3.8-14.1 .6-5.4 5.9-.6 5.3-9.2 9.5-.8 5.5-13.6 .3-3 3.5-5 1.1-1.6 2.7-4.6 .8-2.1 3-7.1 .3-2.9 3.5-5 1.1-1.7 2.7-4.6 .8-2 2.7-.2 4.3-3.2 3.5-5 1.2-4.3 4.8-.9 9.1-4 .6-2.2 2.5 .3 15.8-4 3.9 0 16.5 2.2 3.7 4.4 .8 .2 7.7 3.1 3.2 0 27.4-10.2 .4-6.3 7.3-.1 31 3.3 5.8-3.3 4.2 0 50.4-3.2 3.2-.1 6.1 3.3 3.7 0 10.3 3.3 4.2 .4 11.6 6.3 6.4 .4 18.7 2.2 2.5 4.3 .6 3.1 3.3 .4 4.3 6.3 6.4 .8 5.2 4.7 5 4.5 .8 .8 4.9 5.8 5.5 .2 7.4 3.2 3.3 .8 12.2 6.1 2.2 6.4 6.8 .2 7.4 2.5 2.9 27.3 .6 1.9 5.9 5 1.2 5 5.9 5 1.1 3.4 3.3 9.5 0 3.4-3.3 13.3-.2 6.7-6.8 16.2-.1 3.8-3.5 4.7-.8 2-2.7 12.8-.1 3.9-3.4 6.9 0 .8 4.8 5.6 5.4 8.4-.8 1.8-3.3 0-9.9 3.2-3.5 3.3-3.3 6.7-.2 3.3-3.4 4.2-.6 5.4-5.6 .6-18.6 4.5-.9 2.1-3.1 0-7.4-6.2-1.2-4-2.1-4-4.6-4.7-8.6-.9-6 1.2-8 1.1-4 1.1-2 2.2-2.2 2-.9 2-.2 2 .3 4 1.7 8-.9 8.8 .7 .6-.6 12.9-.1 3.8-3.5 5.2-1.3 2.9 1.2 11.4 0 3.9-3.5 13.3-.2 3.3-3.4 43.8 0 6.5 6.9 0 28 3.3 5.5-3.1 3.3-16.2 .1-3.6 2.9-.4 32.5-9.3 .1-3.5 2.5-.6 29.1-6 .1-2.8 1.8-1.2 15.7-4.4 .9-2.2 3.1 .5 6.9 2.5 2.2 3.6 .4 .2 7 2.5 3 70.7 .5 .9 4.8 4.1 2.2 91.8 0 .8 4.8 3.7 2.2 35.7 0 3.8 3.4 29.6 .1 4.3 3.5 32.4 0 3.8 3.4 26.2 .1 4.3 3.5 29.1 0 4.2 3.5 19.7 0 11.5-19.1 1.4-4 1.3-8 1.5-4 5.5-8.8 3.8-7.2 4.6-6 7.6-7.3 2-1 16-4.2 4-.1 6.6 1zM878 635.4l4 0 4 .8 3.8 1.8 4.8 4 2.5 4 0 2-.7 2-1.7 2-4.7 2.9-6 1-4-.6-2-.8-3.5-2.5-2.5-3.5-.9-2.5-.4-4 .3-2 1-2 2-1.6zM608 611.1l4 0 4 .9 3.3 2 2 2 1.4 2 1.4 4 .1 2-1.1 4-1.1 2.1-3.3 3.9-8.8 8-5.9 6.6-3.6 3.4-4.4 2.3-4 .4-2-.5-2-.9-2-1.6-2.2-3.7-.8-4 1.1-6 2.2-4 5.7-7 3.2-7 2.8-4 4-3.1z"/>
<path fill="#00efff" d="M550 256.2l0-.5-.4 .3zM896.7 687.1l9-13.1 2.9-6 .6-6-1.2-4.5-2-2.4-2-.4-4 .8-8 3-4 .9-6-.4-6-2.3-2-1.5-2.7-3.2-1.3-2.5-1-3.5 0-4 .4-2 .9-2 1.7-1.8 4-1.9 4-.5 4 .3 4 1 4 1.7 5.4 3.2 5.4 4 3.2 3.3 2 1.2 2 .2 4-1.4 6-3.9 7.8-11.4 5.7-6 6.5-5.8 8-2.7 8-1.8 6-.4 6.6 .4-.3-376.4-4.3 .5-8-1.1-10 1.8-2 .7-10 7.1-2-.1-6-1.9-6-.3-6-1.9-11.2-2.1-2.8-.8-6-2.8-12-3.2-12-6.6-4.8-6.6-3.8-4-2.7-4-6.7-7.9-4-3.1-4-.1-6 1.7-8 .4-8-2.7-10-1.3-2-.8-7.8-6.2-4-8-4.4-6-.7-2-.4-8-.8-4-1.5-4-3.6-6-.3-2 .8-8-1-6-3-6-5.3-6.5-5.6-12.7-.5 3.7-3.1 3.3-.3 4.5-3.1 3.3-.2 8.2-4 .6-2.5 2.9-.1 25.8 3.3 3.8 .1 15.6 3.2 3.7 .6 5.4 2.7 2.4 .1 7.8 3.3 3.7 .4 8.7 2.9 2.8 .2 8.3 6.5 7 .4 4.9 2.9 2.8 .2 8.1 3.2 3.3 .3 12.4 2.3 2.4 4.2 .6 3.2 3.5-3.3 5.7 0 9.5 2.2 3.1 4.4 .9 .1 11 3.2 3.7 0 16.8-3.3 4.2 0 21.5-5.8 2.2-.9 12.6-5.5 1.9-1.1 5.5-20.1 0-.8-16.3-5.8-2.2-.9-5.2-13.9-15.6-5.3-1.4-.3-8.1-6.3-6.6-.6-5.1-2.5-2.3-3.6-.3-.4-8.2-2.9-2.8-.3-4.2-3.1-3.3-.6-5.2-2.7-2.3-.4-12.3-2.3-2.5-4-.6 3-4.4 .4-4.8 3.3-4.2 0-20.1-3.3-4.2-.6-5.3-3.5-2.5-12.6-.1-.1-11.3-3.3-3.7-.8-5.8-5.8-2.2-.6-5-4.6-5.4-8.3-1.1-3.4-3.7-6.7 .2-6.3 7.3-7.1 .4-2.9 3.5-5 1.1-1.7 2.7-3.6 0-2.5-3.3-4.2-.5-5.4-6.9-4.6-.8-3.6-4.5 .2 16.2 1 6 1.8 4 3 3.8 2 1.8 4 2 4 .5 2-.3 4-1.9 2.2-1.9 3.2-4 7.3-12 3.3-3.1 4-1.9 4-.5 6 1.2 6 3.6 4.3 4.7 4.6 8 3.1 8 3.5 28 0 4-.3 2-1.2 2.3-6 5-6 6.5-3.6 2.2-12.9 6-5.5 2.1-4 1-6-.3-2.5-.8-5.5-2.9-4-.5-6 .3-17.4 3.1-6.6 .7-18-1.4-14-.1-2 .8-2 1.9-2.9 4.1-3.8 8-1.6 6-.8 10 1.1 8 5.2 16 .4 4-.6 6 .4 2 5.1 6 2.1 4 .5 2-.2 2-1 2-2.1 2-3.8 2.4-14 5.6-12 1.7-10 3.6-2 .4-8 .5-10 1.9-8-1.9-4-.4-16 1.5-10-1-8 1.7-3.9 2-4.1 3.4-4 2.6-12 4.6-2 1.3-1.8 2.1-3.6 8-2.6 2.8-2 1.1-2 .3-2-.5-2-1.6-4-6.3-4-2.9-8-3.1-2-.3-4 .8-4 2.3-7.8 7.4-2.4 4-1.3 4-.3 6 .8 4 1 2 4.9 6 2.5 4 .3 2-.4 2-1.3 2-2 1.7-2 1-4 .8-4 0-10-1.2-6 1.3-6 3.4-3.2 3-6.8 8.2-2 1.6-2 .5-4-.7-2-.9-4-3.8-4-2.4-2-.5-4 .4-4 2-4.4 3.6-2.7 4-2.9 8-3.5 2-4.5 1.5-2 .5-2-.3-12-2.7-4-3.2-6-7-5.6-8.8-3.9-10-8.2-18-2.4-14-5.1-14-.3-2 2.5-14-.5-6-1.6-4-2.4-4-6.8-8-1.3-10-4.1-12-.9-4-1.2-10-.1-6-3-8-1.1-4.6-.4-3.4 .5-4 1.9-4.7 4-7.3 1.8-2 2.2-1.4 4-1.5 10 0 6-1.5 10 1 10-.5 16-3.6 12-3.8 12-4.5 8-.8 12 1.2 8-.3 4 .4 20 6.2 10 1.3 10-.5 18-3.3 18 2 20-1.4 4 1 14 7.5 10 3.2 13.7 1.3 10.3 1.6 6-.3 4-1.1 4-1.8 6-4.9 6-3.3 4-2.8 5.3-5.4 2.1-4-.6-4-2.3-6-.9-6-.5-16-1-10 1-22 .7-4 1.8-4 7-8 4.6-6.6-2.9-2.4-10.4 .8-2 2.7-.2 4.2-20.2 0-2.9-3.5-6.3-.3-7.1 7.3-.2 15.8-4.9 1.1-5.1 7.7 .1 4.8 1.7 2.9 8.3 1.1 2.5 3.3 4.1 .6 0 9.1-3.5 0-5-6.5-5-1.1-4.4-3.8-9.5 .5-5.9 7.1-23.6 0-1.7-2.7-5-1.1-3.2-3.6-1.4-6.5-5.4-1.4-4.3-3.8-8.7 .2-3.4 3.6-27 0-7.2-7.6-27.6-.1-3.2 1.1-1.7 2.7-12.3 .1-4.4 3.8-14.1 .6-5.4 5.9-.6 5.3-9.2 9.5-.8 5.5-13.6 .3-3 3.5-5 1.1-1.6 2.7-4.6 .8-2.1 3-7.1 .3-2.9 3.5-5 1.1-1.7 2.7-4.6 .8-2 2.7-.2 4.3-3.2 3.5-5 1.2-4.3 4.8-.9 9.1-4 .6-2.2 2.5 .3 15.8-4 3.9 0 16.5 2.2 3.7 4.4 .8 .2 7.7 3.1 3.2 0 27.4-10.2 .4-6.3 7.3-.1 31 3.3 5.8-3.3 4.2 0 50.4-3.2 3.2-.1 6.1 3.3 3.7 0 10.3 3.3 4.2 .4 11.6 6.3 6.4 .4 18.7 2.2 2.5 4.3 .6 3.1 3.3 .4 4.3 6.3 6.4 .8 5.2 4.7 5 4.5 .8 .8 4.9 5.8 5.5 .2 7.4 3.2 3.3 .8 12.2 6.1 2.2 6.4 6.8 .2 7.4 2.5 2.9 27.3 .6 1.9 5.9 5 1.2 5 5.9 5 1.1 3.4 3.3 9.5 0 3.4-3.3 13.3-.2 6.7-6.8 16.2-.1 3.8-3.5 4.7-.8 2-2.7 12.8-.1 3.9-3.4 6.9 0 .8 4.8 5.6 5.4 8.4-.8 1.8-3.3 0-9.9 3.2-3.5 3.3-3.3 6.7-.2 3.3-3.4 4.2-.6 5.4-5.6 .6-18.6 4.5-.9 2.1-3.1 0-4.5-4.2-1-4-1.6-4-2.9-4-5.4-4-8.2-.8-6.3 .8-8.1 1.7-5.9 2.3-2.8 2-1.4 4-1.2 6 .5 10-1.4 6-.3 8 1 4 1.5 2.5 1.7 3.6-3.3 5.2-1.3 2.9 1.2 11.4 0 3.9-3.5 13.3-.2 3.3-3.4 43.8 0 6.5 6.9 0 28 3.3 5.5-3.1 3.3-16.2 .1-3.6 2.9-.4 32.5-9.3 .1-3.5 2.5-.6 29.1-6 .1-2.8 1.8-1.2 15.7-4.4 .9-2.2 3.1 .5 6.9 2.5 2.2 3.6 .4 .2 7 2.5 3 37 .3-.5-3.4 .1-14 .6-4 1.5-4 1.7-2 7.9-6.6 6-8.8 2.7-2.6 3.3-1.7 4-1.2 6-.9 6-.2 6 1.4 8 4.8 2.1 1.8 2.7 4 1.6 6-.6 4-1.8 3.7-2 2.9-3.3 3.4-8.6 6-1.7 2-4.4 10.8-2.2 3.9 3.6 1.9 91.8 0 .8 4.8 3.7 2.2 35.7 0 3.8 3.4 29.6 .1 4.3 3.5 32.4 0 3.8 3.4 26.2 .1 4.3 3.5 29.1 0 4.2 3.5z"/>
<path fill="#00f7ff" d="M968 240.1l-4 .4-4-.9-4-.4-10 1.7-2 .7-10 7.3-8-2.4-6-.3-6-1.9-12.1-2.3-7.9-3.4-12-3.1-12-6.5-5.2-7-3.9-4-4.2-6-4.7-5.4-4-3.1-4 .1-4 1.6-10 .9-8-2.9-4-.7-6-.3-2-.7-8-6.3-4.7-9.2-4.8-6-.5-2-.1-8-.8-4-1.6-4-4-6-.2-2 1.2-8-1-6-3.2-6-5.3-6-4.9-10.8-.2 1.3-3.1 3.3-.3 4.5-3.1 3.3-.2 8.2-4 .6-2.5 2.9-.1 25.8 3.3 3.8 .1 15.6 3.2 3.7 .6 5.4 2.7 2.4 .1 7.8 3.3 3.7 .4 8.7 2.9 2.8 .2 8.3 6.5 7 .4 4.9 2.9 2.8 .2 8.1 3.2 3.3 .3 12.4 2.3 2.4 4.2 .6 3.2 3.5-3.3 5.7 0 9.5 2.2 3.1 4.4 .9 .1 11 3.2 3.7 0 16.8-3.3 4.2 0 21.5-5.8 2.2-.9 12.6-5.5 1.9-1.1 5.5-20.1 0-.8-16.3-5.8-2.2-.9-5.2-13.9-15.6-5.3-1.4-.3-8.1-6.3-6.6-.6-5.1-2.5-2.3-3.6-.3-.4-8.2-2.9-2.8-.3-4.2-3.1-3.3-.6-5.2-2.7-2.3-.4-12.3-2.3-2.5-4-.6 3-4.4 .4-4.8 3.3-4.2 0-20.1-3.3-4.2-.6-5.3-3.5-2.5-12.6-.1-.1-11.3-3.3-3.7-.8-5.8-5.8-2.2-.6-5-4.6-5.4-8.3-1.1-3.4-3.7-6.7 .2-3.9 4.5 5 .3 4 1.3 4 2.2 4 3.3 5.8 7.6 6.1 12 3.3 26 2.3 12-.8 2-14.7 12.1-19.7 7.9-6.3 2-4 .5-4-.2-8-1.9-4-.3-16 2.2-10 .5-6-.1-12-1.6-6-.1-6 .6-4 .9-4 2.5-4 5.4-3.3 7.6-1 6-.1 8 1 6 5.3 16 1.6 10 4.8 6 3.2 6 .7 4-.2 2-1.4 2-9 4-11.3 4-6.3 1.5-10 1.4-10 3.8-10 .5-10 1.9-8-2.1-4-.4-8 1-8 .4-8-.9-8 1.4-4.3 1.5-5.7 4.8-4 2.6-4 1.9-8 2.8-1.8 1.9-2.9 6-2.6 4-2.7 2.3-2 .9-2 .1-2-.6-2-1.5-4.7-7.2-3.3-2.5-8-3.2-2-.2-4 .8-4 2.3-7 6.8-2.3 4-1.2 4-.1 6 1.1 4 2.7 4 5.4 6 1.9 4-.5 2-1.3 2-2.2 2-2.5 1.4-4 1-4 0-12-1.4-6 1.3-6.2 3.7-9.8 11.1-2 1.5-4 0-4-1.4-4-3.7-4-2.5-2-.5-4 .5-5.4 3-3.8 4-1.9 4-1.7 6-1.2 1.5-10 3.4-14.3-2.9-1.7-.9-6-6.6-4-5.1-3.5-5.4-5-12-8.7-18-2.3-14-2.1-6-3.6-8-.3-2 2.6-12 .2-4-.6-4-1.6-4-2.4-4-6.7-8-.6-8-5-16-1.4-8-.9-10-3.6-12-.3-6 .9-4 2.8-6 2.5-4 3.6-3.4 6-2.7 10 .3 6-1.9 10 1.2 10-.6 16-3.6 12-3.9 12-4.9 6-.8 4 .1 10 1.7 8-1.1 4 .3 18 5.9 6 1.2 6 .5 10-.5 16-2.8 4 0 16 1.8 6-.3 14-1.6 4.3 1.1 13.7 7.3 4 1.6 6 1.5 6 .6 8-.1 8 1.7 4 .3 4-.4 4-1.1 4-1.9 6-4.7 4-1.7 4-2.5 4.5-4.6 1.9-4 0-4-2-10-.5-20-.9-8 .8-8 .4-16 .7-4 1.1-2.3 2-2.9 6.2-6.8 3.3-6-1.2-1-10.4 .8-2 2.7-.2 4.2-20.2 0-2.9-3.5-6.3-.3-7.1 7.3-.2 15.8-4.9 1.1-5.1 7.7 .1 4.8 1.7 2.9 8.3 1.1 2.5 3.3 4.1 .6 0 9.1-3.5 0-5-6.5-5-1.1-4.4-3.8-9.5 .5-5.9 7.1-23.6 0-1.7-2.7-5-1.1-3.2-3.6-1.4-6.5-5.4-1.4-4.3-3.8-8.7 .2-3.4 3.6-27 0-7.2-7.6-27.6-.1-3.2 1.1-1.7 2.7-12.3 .1-4.4 3.8-14.1 .6-5.4 5.9-.6 5.3-9.2 9.5-.8 5.5-13.6 .3-3 3.5-5 1.1-1.6 2.7-4.6 .8-2.1 3-7.1 .3-2.9 3.5-5 1.1-1.7 2.7-4.6 .8-2 2.7-.2 4.3-3.2 3.5-5 1.2-4.3 4.8-.9 9.1-4 .6-2.2 2.5 .3 15.8-4 3.9 0 16.5 2.2 3.7 4.4 .8 .2 7.7 3.1 3.2 0 27.4-10.2 .4-6.3 7.3-.1 31 3.3 5.8-3.3 4.2 0 50.4-3.2 3.2-.1 6.1 3.3 3.7 0 10.3 3.3 4.2 .4 11.6 6.3 6.4 .4 18.7 2.2 2.5 4.3 .6 3.1 3.3 .4 4.3 6.3 6.4 .8 5.2 4.7 5 4.5 .8 .8 4.9 5.8 5.5 .2 7.4 3.2 3.3 .8 12.2 6.1 2.2 6.4 6.8 .2 7.4 2.5 2.9 27.3 .6 1.9 5.9 5 1.2 5 5.9 5 1.1 3.4 3.3 9.5 0 3.4-3.3 13.3-.2 6.7-6.8 16.2-.1 3.8-3.5 4.7-.8 2-2.7 12.8-.1 3.9-3.4 6.9 0 .8 4.8 5.6 5.4 8.4-.8 1.8-3.3 0-9.9 3.2-3.5 3.3-3.3 6.7-.2 3.3-3.4 4.2-.6 5.4-5.6 .6-18.6 4.5-.9 2.1-3.1 0-1.8-8.2-2.9-4.5-3.2-3.1-4-2.4-4-3.4-8-.6-6.4 1.1-11.6 .6-2 1.4-2 2.9-2.9 2-1.3 4-1.4 24-3.9 6 .1 6 1 4 1.9 2.6 2.1 2.7-.6 2.9 1.2 11.4 0 3.9-3.5 13.3-.2 3.3-3.4 43.8 0 6.5 6.9 0 28 3.3 5.5-3.1 3.3-16.2 .1-3.6 2.9-.4 32.5-9.3 .1-3.5 2.5-.6 29.1-6 .1-2.8 1.8-1.2 15.7-4.4 .9-2.2 3.1 .5 6.9 2.5 2.2 3.6 .4 .2 7 2.5 3 23 .1-.4-3.2 .6-4 2.2-6 3.6-6 1.2-4 1-6 1-2 10.1-5.7 2.2-2.3 2.2-4 .9-4-.5-4-.8-1-5.8-3-1.4-2 .1-2 1.1-1.5 2-.8 2 .2 2 1.3 3.3 4.8 2.7 1.4 8 .8 16-1.1 4 .4 6 2.1 8.2 4.4 3.2 2 1.8 2 2.6 6 1.7 6 .1 2-.8 4-2.1 6-2.7 5-8.2 11-3.4 10.6 80.8 0 .8 4.8 3.7 2.2 35.7 0 3.8 3.4 29.6 .1 4.3 3.5 32.4 0 3.8 3.4 26.2 .1 4.3 3.5 29.1 0 4.2 3.5 5.7 0 5.2-5.1 8-12 1.6-4-.3-2-1.3-1.7-2-.8-2 .1-6 2.1-6 .2-8-2.6-4-2.3-4.4-5-2.3-6 0-6 1.4-4 1.5-2 2.9-2 2.9-1.1 4-.5 4 .2 6.4 1.4 17.6 7 6 .1 4-1.5 10.6-11.6 8.8-8 2.6-1.7 6-2.4 6-1.6 6-.8 10.6-.4zM621.4 188l-1.3 12 .3 4 1.2 4 2.4 3.7 2 1.9 2 1.2 4 1.1 4-.5 2.7-1.4 2.3-2 3-4 6-12 3.1-3.6-1.6 .1-2.9 3.5-5 1.1-1.7 2.7-3.6 0-2.5-3.3-4.2-.5-5.4-6.9z"/>
<path fill="#01fffe" d="M968 240.8l-4 .4-4-1.1-4-.4-10 1.7-2.1 .6-9.9 7.4-8-2.7-6-.3-6-1.9-13.2-2.5-6.8-3.2-12-3-12-6.4-5.5-7.4-4-4-4.1-6-4.4-4.9-4-3.2-4 .3-4 1.9-6 .3-4 .7-6-2.4-4-1.1-10-.8-4-3.7-4.7-3.1-4.9-10-5.1-6 .1-8-1.1-6-2.3-5-3.9-5 1.6-8 0-4-1-4-2.7-5.1-5-4.9-1-1.6-4.5-9.5-2.7 2.9-.3 4.5-3.1 3.3-.2 8.2-4 .6-2.5 2.9-.1 25.8 3.3 3.8 .1 15.6 3.2 3.7 .6 5.4 2.7 2.4 .1 7.8 3.3 3.7 .4 8.7 2.9 2.8 .2 8.3 6.5 7 .4 4.9 2.9 2.8 .2 8.1 3.2 3.3 .3 12.4 2.3 2.4 4.2 .6 3.2 3.5-3.3 5.7 0 9.5 2.2 3.1 4.4 .9 .1 11 3.2 3.7 0 16.8-3.3 4.2 0 21.5-5.8 2.2-.9 12.6-5.5 1.9-1.1 5.5-20.1 0-.8-16.3-5.8-2.2-.9-5.2-13.9-15.6-5.3-1.4-.3-8.1-6.3-6.6-.6-5.1-2.5-2.3-3.6-.3-.4-8.2-2.9-2.8-.3-4.2-3.1-3.3-.6-5.2-2.7-2.3-.4-12.3-2.3-2.5-4-.6 3-4.4 .4-4.8 3.3-4.2 0-20.1-3.3-4.2-.6-5.3-3.5-2.5-12.6-.1-.1-11.3-3.3-3.7-.8-5.8-5.8-2.2-.6-5-4.6-5.4-8.3-1.1-3.4-3.7-6.7 .2-1 1.1 4.1 1.2 4 2 4 2.7 4 3.8 5.9 8.4 6.1 11.5 3.5 28.5 1.6 6 1.9 4-.2 2-4.8 4.8-14 10.1-26 8.3-6 .7-14-.9-14 2.3-4 .2-12-.6-12-2.1-6-.2-8.3 1.4-3.7 1.7-2 1.5-4 4.8-2.9 6-1.3 6 0 8 1.7 8 7.2 20 6.2 10 2.6 6 .7 4-.2 2-2 4.5-8 2-16 4.9-16 2.6-4 1.3-6 2.8-8-.2-12 2.2-6-1.8-6-.8-8 .9-8 .3-8-.9-8 1.7-4 1.5-6 5.3-4 2.6-11.6 5.1-5.9 10-2.5 2.6-4 1.9-2 0-2-.6-2-1.6-4-6.4-2-2.4-2-1.3-8-3.4-2-.2-4 .9-4 2.4-6.1 6.1-2.3 4-1.4 6 .3 4 1.5 4.1 3 3.9 6.2 6 3 4-2.6 4-2.1 2-3.5 2.3-4 1.1-6-.2-12-1.5-6 1.3-6 3.5-10 11.5-2 1.4-4-.3-4-1.3-4-3.8-4-2.5-2-.4-4 .4-4.5 2.5-4 4-1.9 4-2.1 8-11.5 3.8-16-3.5-4-4.3-6.5-8-3.9-6-5.2-12-9-18-.8-8-1.4-6-2.2-6-4.1-8-.3-2 2.9-12 .2-4-.6-4-2.8-6-2.8-4-3.5-3.7-.9-2.3-1.1-8-5-16-2.9-18-3.2-12-.2-6 .9-4 2.6-6 2.7-4 4.3-4 6.8-3.2 4 .7 6-.1 6-2.3 10 1.4 10-1 16-3.5 12-4 12-5.2 8-.8 4 .4 8 1.9 2.5-.3 5.5-1.8 4 .2 18 6.4 6 1.2 6 .6 10-.5 16-2.6 4 0 12 1.5 6 .1 18-2.3 4 1 16 8.3 8 2.3 6 .4 8-.8 6 1.7 6 .8 4-.4 4-1.1 16-9 4.1-4 2.1-4 .4-4-1.3-8-.4-22-.9-8 1-8 .1-18 .9-3.8 1.1-2.2 2.9-3.7 4.4-4.3 2.9-6.9-9.4 .7-2 2.7-.2 4.2-20.2 0-2.9-3.5-6.3-.3-7.1 7.3-.2 15.8-4.9 1.1-5.1 7.7 .1 4.8 1.7 2.9 8.3 1.1 2.5 3.3 4.1 .6 0 9.1-3.5 0-5-6.5-5-1.1-4.4-3.8-9.5 .5-5.9 7.1-23.6 0-1.7-2.7-5-1.1-3.2-3.6-1.4-6.5-5.4-1.4-4.3-3.8-8.7 .2-3.4 3.6-27 0-7.2-7.6-27.6-.1-3.2 1.1-1.7 2.7-12.3 .1-4.4 3.8-14.1 .6-5.4 5.9-.6 5.3-9.2 9.5-.8 5.5-13.6 .3-3 3.5-5 1.1-1.6 2.7-4.6 .8-2.1 3-7.1 .3-2.9 3.5-5 1.1-1.7 2.7-4.6 .8-2 2.7-.2 4.3-3.2 3.5-5 1.2-4.3 4.8-.9 9.1-4 .6-2.2 2.5 .3 15.8-4 3.9 0 16.5 2.2 3.7 4.4 .8 .2 7.7 3.1 3.2 0 27.4-10.2 .4-6.3 7.3-.1 31 3.3 5.8-3.3 4.2 0 50.4-3.2 3.2-.1 6.1 3.3 3.7 0 10.3 3.3 4.2 .4 11.6 6.3 6.4 .4 18.7 2.2 2.5 4.3 .6 3.1 3.3 .4 4.3 6.3 6.4 .8 5.2 4.7 5 4.5 .8 .8 4.9 5.8 5.5 .2 7.4 3.2 3.3 .8 12.2 6.1 2.2 6.4 6.8 .2 7.4 2.5 2.9 27.3 .6 1.9 5.9 5 1.2 5 5.9 5 1.1 3.4 3.3 9.5 0 3.4-3.3 13.3-.2 6.7-6.8 16.2-.1 3.8-3.5 4.7-.8 2-2.7 12.8-.1 3.9-3.4 6.9 0 .8 4.8 5.6 5.4 8.4-.8 1.8-3.3 0-9.9 3.2-3.5 3.3-3.3 6.7-.2 3.3-3.4 4.2-.6 5.4-5.6 .6-18.6 4.5-.9 1.6-2.5-9.7-4.2-4-3.2-4.5-7.1-4.2-10-.4-8 1-12 4.1-5.4 4-2.9 4-1.7 16-4.5 6-1.3 8-.8 8 .2 4 1.1 4.5 3.3 1.8 2 2.5 4.2 8.8 0 3.9-3.5 13.3-.2 3.3-3.4 43.8 0 6.5 6.9 0 28 3.3 5.5-3.1 3.3-16.2 .1-3.6 2.9-.4 32.5-9.3 .1-3.5 2.5-.6 29.1-6 .1-2.8 1.8-1.2 15.7-4.4 .9-2.2 3.1 .5 6.9 2.5 2.2 3.6 .4 .2 7 2.5 3 12.2 .1-.7-7.2 .8-1.6 6-4.4 4-4.6 2.2-3.4 4.1-10 1.7-2.5 4-4 5.2-3.5 1.7-2 .4-2-1.3-2.7-2-1.1-4 .4-2-.1-.2-.5-.5-4-2.7-8-.2-2 1.3-4 2.3-2.4 6 .7 10-.7 4 .4-.5 2 1.1 4 1.4 2 4 2.7 6 .8 12-1.9 4 .4 6 2.5 9.5 5.5 4.6 2 2.6 2 3.1 8 1.7 6 .7 8-1.6 10-6.8 22.6 67.4 0 .8 4.8 3.7 2.2 35.7 0 3.8 3.4 29.6 .1 4.3 3.5 32.4 0 3.8 3.4 26.2 .1 4.3 3.5 29.1 0 .5 .4 4.7-4 1.6-2 .4-2-.5-2-1.3-2-4.3-4.5-4-2.3-4-3.3-3.1-3.9-2.2-4-1.5-6 .4-6 1.4-4 3-3.6 2-1.3 4-1.5 8-.5 6 1 16 4.5 4 .4 4-.5 4-1.9 16.8-14.6 7.2-4.6 6-2.4 4-.9 16.6-1.6zM625 188.9l-2.4 7.1-.7 4 .1 4 1.2 4 2.8 3.7 2 1.3 4 1 4-.8 2-1.3 3.4-3.9 1.9-4 2.4-7.4-2.1 .5-1.7 2.7-3.6 0-2.5-3.3-4.2-.5-5.4-6.9z"/>
<path fill="#0afff5" d="M628 191.6l-2 3-2 4.9-.4 2.5 .3 4 2.1 3.7 2 1.6 2 .8 4-.2 3.2-1.9 1.7-2 1.8-4 .8-4.2-3.2 0-2.5-3.3-4.2-.5zM542.8 655.1l.6-5.1 1.5-4 3.1-3.5 6-4.6 3.6-3.9 9-16 1.6-4 0-2-.7-2-3.3-8-2.2-3.1-3.6-2.9-.4-4 1.1-4 2.9-3 4-1.8 10-1.1 8-1.6 2 .2 4 2.6 1.7 2.7 1.6 4 2.7 2.6 4 1.1 4-.6 4-2.5 2-2.6 2-.7 2 .6 8 4 11.2 8.1 6.8 4 2.5 2 2.6 4 2.5 6 2.4 8 1 6-.1 10-2.8 22.6 57.1 0 .8 4.8 3.7 2.2 35.7 0 3.8 3.4 29.6 .1 4.3 3.5 32.4 0 3.8 3.4 26.2 .1 4.3 3.5 16.8 0 4.3-5.6 1-4-.5-4-6.7-14-1.2-4-.4-4 .8-6 1.4-4 2.7-3.6 2-1.7 6-2.4 6-.7 8 .8 14 2.9 4 .3 4-.3 6-2.4 18-13.8 8-4.8 4-1.6 4-1 8-.3 8.6-1.7-.3-366.3-4.3 .5-4-1.3-4-.4-10 1.6-2 .7-10 7.4-8-3-6-.3-6-1.9-14-2.7-6-3-12-2.9-8-4.5-4-1.7-5.9-7.9-4.1-4-.9-2-3.1-4-4-4.4-4-3.1-4 .3-4 1.8-6 .4-4 1.1-6-2.6-4-1.1-10.1-.4-4-4-6-4-1.1-4-1.9-4-2.9-4.1-3.9-3.9 .6-8-1.1-6-3.1-6-4-4 1.7-4 .9-4-.1-4-1-4-2-3.8-1.7-2.2-4.6-4-5.1-10.2-1.8 2-.3 4.5-3.1 3.3-.2 8.2-4 .6-2.5 2.9-.1 25.8 3.3 3.8 .1 15.6 3.2 3.7 .6 5.4 2.7 2.4 .1 7.8 3.3 3.7 .4 8.7 2.9 2.8 .2 8.3 6.5 7 .4 4.9 2.9 2.8 .2 8.1 3.2 3.3 .3 12.4 2.3 2.4 4.2 .6 3.2 3.5-3.3 5.7 0 9.5 2.2 3.1 4.4 .9 .1 11 3.2 3.7 0 16.8-3.3 4.2 0 21.5-5.8 2.2-.9 12.6-5.5 1.9-1.1 5.5-20.1 0-.8-16.3-5.8-2.2-.9-5.2-13.9-15.6-5.3-1.4-.3-8.1-6.3-6.6-.6-5.1-2.5-2.3-3.6-.3-.4-8.2-2.9-2.8-.3-4.2-3.1-3.3-.6-5.2-2.7-2.3-.4-12.3-2.3-2.5-4-.6 3-4.4 .4-4.8 3.3-4.2 0-20.1-3.3-4.2-.6-5.3-3.5-2.5-12.6-.1-.1-11.3-3.3-3.7-.8-5.8-5.8-2.2-.6-5-4.6-5.4-8.1-1.1 4.8 4.4 4 4.9 4 6.5 4.9 9.9 1.1 4 3.2 26 1 4 2.5 6 0 2-.7 1.5-2 2.6-4 3.8-12.3 8.1-27.7 8.4-6 .8-14 .3-12 2.5-4 .3-14-1.5-12-2.5-6-.2-6 1.3-6 3.3-4 4.2-2.8 5.1-1.5 6 0 6 .8 6 1.9 6 6 14 6.1 10 3 6 1.4 4 .4 4-.3 2-1.9 4-2 2-22.1 6-19 3.1-10 3.8-8-.2-12 2.1-6-1.7-6-.9-8 1-8 .2-8-.6-5.8 1.2-5.6 2-6.6 5.9-14 7.8-5.7 8.3-2.3 2.6-4 2.8-2 .5-4-.8-2-1.5-4.6-7.6-3.4-3.2-8-3.5-2-.1-4 .9-4 2.4-5.4 5.5-2.2 4-1.2 6 .4 4 2.4 4.9 4 4.2 6.1 4.9 1.5 2 .5 2-.5 2-1.2 2-2.4 2.4-4 2.7-4 1.4-6-.2-12-1.9-4 .2-4 1.1-6 3.6-10 11.6-2 1.4-4-.6-4-1.5-4-3.7-4-2.5-2-.4-4 .5-3.6 1.9-4.2 4-2 4-1.5 8-.7 .8-12 3.5-8-1.8-8-1-2-2.1-8-9.5-5.4-7.9-5.1-12-8.5-16-.8-2-.8-8-1.4-6-2.4-6-4.3-8-.3-2 1.9-6 1.2-6 .1-4-.6-4-2.7-6-5.9-8-.8-2-1.9-10-5.1-16-2.5-14-2.7-10-.8-5.1-3.7 3.6 0 16.5 2.2 3.7 4.4 .8 .2 7.7 3.1 3.2 0 27.4-10.2 .4-6.3 7.3-.1 31 3.3 5.8-3.3 4.2 0 50.4-3.2 3.2-.1 6.1 3.3 3.7 0 10.3 3.3 4.2 .4 11.6 6.3 6.4 .4 18.7 2.2 2.5 4.3 .6 3.1 3.3 .4 4.3 6.3 6.4 .8 5.2 4.7 5 4.5 .8 .8 4.9 5.8 5.5 .2 7.4 3.2 3.3 .8 12.2 6.1 2.2 6.4 6.8 .2 7.4 2.5 2.9 27.3 .6 1.9 5.9 5 1.2 5 5.9 5 1.1 3.4 3.3 9.5 0 3.4-3.3 13.3-.2 6.7-6.8 16.2-.1 3.8-3.5 4.7-.8 2-2.7 12.8-.1 3.9-3.4 6.9 0 .8 4.8 5.6 5.4 8.4-.8 1.8-3.3 0-9.9 3.2-3.5 3.3-3.3 6.7-.2 3.3-3.4 4.2-.6 5.4-5.6 .6-18.6 4.5-.9 .3-.4-6.4-3-6-3.7-6-9.9-3.9-10-.3-10 .9-10 1.3-2.8 2-2.7 4-3.8 6-3.2 18-6.7 10-1.7 14-1 6 3.5 3 2.4 2.9 4 2.6 6.2 3.1 0 3.9-3.5 13.3-.2 3.3-3.4 43.8 0 6.5 6.9 0 28 3.3 5.5-3.1 3.3-16.2 .1-3.6 2.9-.4 32.5-9.3 .1-3.5 2.5-.6 29.1-6 .1-2.8 1.8-1.2 15.7-4.4 .9-2.2 3.1 .5 6.9 2.5 2.2 3.6 .4 .2 7 2.5 3zM724.6 632l-.6 .4-.7-.4 .7-2.2zM788 671.3l-.9-1.3 .9-.5 .7 .5zM670 184.8l2 1.2 2.5 1.8-2.9-3.2zM225.4 293l1.3-5 1.9-4 4.5-6 4.9-3.6 5.6-2.4 4.4 .7 6 0 4-1.4 2-1.3 6 1.4 8-.2 6-1.6 8-.9 8-1.8 12-4.2 12-5.4 8-1 4 .1 8 2.8 3.4-1.2 2.6-2.2 2-1 4 1.1 16 6.6 10 2.1 12 .1 20-2.8 14 1.7 6 0 6-.6 12-2.3 4 1 10 5.7 6 2.8 8 2.3 6 .4 8-1.2 6 1.9 6 .8 4-.4 4-1 14-7.5 4-3.5 2.3-4 .7-4-.9-6-.2-24-.6-8 1-10-.4-18 .5-2 2-4 1.6-2.1 4.1-3.9 2.4-6.7-6.6 .5-2 2.7-.2 4.2-20.2 0-2.9-3.5-6.3-.3-7.1 7.3-.2 15.8-4.9 1.1-5.1 7.7 .1 4.8 1.7 2.9 8.3 1.1 2.5 3.3 4.1 .6 0 9.1-3.5 0-5-6.5-5-1.1-4.4-3.8-9.5 .5-5.9 7.1-23.6 0-1.7-2.7-5-1.1-3.2-3.6-1.4-6.5-5.4-1.4-4.3-3.8-8.7 .2-3.4 3.6-27 0-7.2-7.6-27.6-.1-3.2 1.1-1.7 2.7-12.3 .1-4.4 3.8-14.1 .6-5.4 5.9-.6 5.3-9.2 9.5-.8 5.5-13.6 .3-3 3.5-5 1.1-1.6 2.7-4.6 .8-2.1 3-7.1 .3-2.9 3.5-5 1.1-1.7 2.7-4.6 .8-2 2.7-.2 4.3-3.2 3.5-5 1.2-4.3 4.8-.9 9.1-4 .6-2.2 2.5zM346.5 244l-.5 3.5-2 1.5-2-.5-2-2-.4-2.5 .4-.4 6-1.6z"/>
<path fill="#12ffed" d="M628 197l-2 3-.9 4 .3 2 .9 2 1.7 1.7 2 .9 2 0 2-.6 2.3-2 1.2-2 .8-4-.2-2.4-2.3-3.1-4.2-.5-.7-1zM536.4 653.5l2.6-7.5 2.9-4 2.3-2 7.8-5.1 2.7-2.9 7.3-12 2.5-6-.3-4-1.4-4-2.8-3.8-4.9-4.2-3-4-2.7-6-.9-5.2-2.9 2.1-.6 29.1-6 .1-2.8 1.8-1.2 15.7-4.4 .9-2.2 3.1 .5 6.9 2.5 2.2 3.6 .4 .2 7zM558.4 576.6l7.6 2.3 4 .5 4-.2 3.6-1.2 3-2 1.7-2 .7-2 .4-6 .6-.9 2-1.5 2-.4 2 .3 2.6 2.5 .4 2-.3 2-1.9 4-.4 4 3 8 2.6 3.5 2 1 2 .2 2-.5 3.2-2.2 2.8-4.1 2-1.7 2-.5 2 .2 4 1.7 6 4.2 11.3 10.2 8.5 6 3.4 4 2.2 4 5.7 16 1.6 12 0 22.6 48.5 0 .8 4.8 3.7 2.2 35.7 0 3.8 3.4 26.4 .1-.2-9.1 .4-4 2.2-3.7 2-1.4 2-.4 2 .3 2 .9 4 3.3 13.8 17.6 11.7 0 3.8 3.4 26.2 .1 4.3 3.5 3.9 0 4.3-2.8 4-3.9 2.6-4.9 .4-2 0-4-3.3-10-.7-4 0-4 .6-4 2-6 2.4-3.6 2.7-2.4 5.3-2.5 8-1.2 8 .4 14 2.1 4 0 4-.5 4-1.4 4-2.2 18-13 8-4.8 6-1.8 8 .3 8.6-2.9-.3-362.5-4.3 .4-4-1.3-4-.5-10 1.6-2 .8-10 7.2-8-3.1-6-.3-6-2-14-2.6-6-3-12-2.9-8-4.4-4-1.7-6-7.9-4-4-4.3-6.3-3.7-4-4-2.9-4 .3-4 1.7-10 1.4-10-3.4-10-.6-.8-.5-3.2-3.1-6.5-4.9-3.4-8-2.8-4-3.6-4 .3-8-1.1-6-3.3-6-3.8-4 1.7-4 .9-4-.1-4-1-4-3.3-5.3-5-4.7-5.2-9.3-1 1.1-.3 4.5-3.1 3.3-.2 8.2-4 .6-2.5 2.9-.1 25.8 3.3 3.8 .1 15.6 3.2 3.7 .6 5.4 2.7 2.4 .1 7.8 3.3 3.7 .4 8.7 2.9 2.8 .2 8.3 6.5 7 .4 4.9 2.9 2.8 .2 8.1 3.2 3.3 .3 12.4 2.3 2.4 4.2 .6 3.2 3.5-3.3 5.7 0 9.5 2.2 3.1 4.4 .9 .1 11 3.2 3.7 0 16.8-3.3 4.2 0 21.5-5.8 2.2-.9 12.6-5.5 1.9-1.1 5.5-20.1 0-.8-16.3-5.8-2.2-.9-5.2-13.9-15.6-5.3-1.4-.3-8.1-6.3-6.6-.6-5.1-2.5-2.3-3.6-.3-.4-8.2-2.9-2.8-.3-4.2-3.1-3.3-.6-5.2-2.7-2.3-.4-12.3-2.3-2.5-4-.6 3-4.4 .4-4.8 3.3-4.2 0-20.1-3.3-4.2-.6-5.3-3.5-2.5-12.6-.1-.1-11.3-3.3-3.7-.8-5.8-5.8-2.2-.6-5-4.6-5.4-4.1-.6 4.8 5.7 3.6 5.5 4.4 8.2 2.5 5.8 3.3 20 1 10 3.1 10 0 2-1.8 4-2.1 2.9-4 3.7-12 6.9-28 8.1-20 2.1-14 3.3-16-2.3-10-2.7-6-.6-4 .5-4 1.4-6 4.2-3.8 4.5-1.9 4-1.1 6 .5 6 1.1 6 1.6 4 5.6 11.3 8 13.4 3.8 9.3 .5 4-.4 2-2.3 4-2 2-3.6 2-2 .6-18 4.4-18 2.6-12 4.1-8-.2-12 2-8-2.1-4-.4-8 .9-16-.1-4 .8-6 2.2-8 6.7-10.9 6.5-3.1 2.8-3.8 5.2-4.2 4.6-4 2.5-2 .4-4-1-2-1.5-5.2-9-2.8-2.6-8-3.6-2-.1-4 1-4 2.5-4.7 4.8-2.1 4-1.1 6 .6 4 2 4 3.3 3.5 8 5.5 1.9 3 .3 2-1.3 4-4 4-4.9 2.8-4 1.1-18-2.8-4 .1-4 1.1-6 3.7-10 11.9-2 1.1-4-.8-4-1.6-4-3.6-4-2.5-2-.4-4 .4-2.8 1.5-4.3 4-2.1 4-1.1 8-1.7 1.9-12 2.9-8-1.7-8-.8-2.4-2.3-7.6-9-6.3-9-5.2-12-8.6-16-1.5-10-1.6-6-2.4-6-4.5-8-.2-2 2-6 1.1-6 .1-4-.7-4-2.6-6-5.5-8-.7-2-2.3-10-5.3-16-6-27.7-2.3 2.2 0 16.5 2.2 3.7 4.4 .8 .2 7.7 3.1 3.2 0 27.4-10.2 .4-6.3 7.3-.1 31 3.3 5.8-3.3 4.2 0 50.4-3.2 3.2-.1 6.1 3.3 3.7 0 10.3 3.3 4.2 .4 11.6 6.3 6.4 .4 18.7 2.2 2.5 4.3 .6 3.1 3.3 .4 4.3 6.3 6.4 .8 5.2 4.7 5 4.5 .8 .8 4.9 5.8 5.5 .2 7.4 3.2 3.3 .8 12.2 6.1 2.2 6.4 6.8 .2 7.4 2.5 2.9 27.3 .6 1.9 5.9 5 1.2 5 5.9 5 1.1 3.4 3.3 9.5 0 3.4-3.3 13.3-.2 6.7-6.8 16.2-.1 3.8-3.5 4.7-.8 2-2.7 12.8-.1 3.9-3.4 6.9 0 .8 4.8 5.6 5.4 8.4-.8 1.8-3.3 0-9.9 3.2-3.5 3.3-3.3 6.7-.2 3.3-3.4 4.2-.6 5.4-5.6 .6-18.6 1.7-.3-7.3-4.3-3.8-3.3-4.2-6.9-3.1-7.1-1.9-6-.3-6 .3-10 1.2-6 3.9-6 3.9-3.6 4-2.6 16-8 6-1.8 6-.9 10-.6 6 .3 4.6 1.2 4.6 2 3.4 2 1.9 2 2 4 2.3 7.1 2.7-2.4 13.3-.2 3.3-3.4 43.8 0 6.5 6.9 0 28 3.3 5.5-3.1 3.3-16.2 .1-3.6 2.9zM724 628.3l2.5 1.7 .2 2-.7 1.2-2 1.2-2-.6-1.3-1.8 .3-2 1-1zM571.6 562l1 2-.9 2-1.7 1-3.8-1-1.1-2 1.5-2 1.4-.6 2-.1zM225.3 287.7l3-5.7 1.5-2-2.4 .3-2.2 2.5zM231.6 277.9l5.3-3.9 7.1-2.6 4 .6 6 0 6-2.5 6 1.1 6-.1 4-.8 4-1.7 6-.1 6-1 14-4.6 14-6.2 4-.9 6-.9 4-.1 2 .7 .8 1.1 3.4 2 2.2-2-.3-2-4.1-4-.2-4 .6-2 1.6-1.6 4-2 2.9-2.4 1.1-.4 .5 .4 1 10 1.7 4 4.8 3.5 6 3 6 2.3 6 1.6 6 .8 8 .1 22-2.8 12 1.5 8 .2 8-1 10-2.5 2 0 16 8.9 4 1.6 6 1.6 6 .5 8-1.1 8 2.1 4 .3 4-.4 4-1.1 14-7.3 3.6-3.8 1.7-4 .2-4-1-14 .4-14-.3-8 .8-8 .2-6-1.2-14 1.6-5 2-3.6 4-5.4 1.6-4.5-3.7 .3-2 2.7-.2 4.2-20.2 0-2.9-3.5-6.3-.3-7.1 7.3-.2 15.8-4.9 1.1-5.1 7.7 .1 4.8 1.7 2.9 8.3 1.1 2.5 3.3 4.1 .6 0 9.1-3.5 0-5-6.5-5-1.1-4.4-3.8-9.5 .5-5.9 7.1-23.6 0-1.7-2.7-5-1.1-3.2-3.6-1.4-6.5-5.4-1.4-4.3-3.8-8.7 .2-3.4 3.6-27 0-7.2-7.6-27.6-.1-3.2 1.1-1.7 2.7-12.3 .1-4.4 3.8-14.1 .6-5.4 5.9-.6 5.3-9.2 9.5-.8 5.5-13.6 .3-3 3.5-5 1.1-1.6 2.7-4.6 .8-2.1 3-7.1 .3-2.9 3.5-5 1.1-1.7 2.7-4.6 .8-2 2.7-.2 4.3-3.2 3.5-5 1.2-4.3 4.8z"/>
<path fill="#1bffe4" d="M627.4 202l-.7 2 .1 2 1.2 2 2 1.1 2-.1 1.7-1 1.4-2 .5-2-.3-2-1.3-2.1-2-.9-2 .4zM532.3 644.8l3.4-4.8 4.3-3.6 10.1-4.4 9.7-14 1.8-4 0-4-2-4-3.6-3.2-10.6-6.4-.4 17.6-6 .1-2.8 1.8-1.2 15.7-4.4 .9-2.2 3.1 .5 6.9 2.5 2.2zM451.6 564.9l-9.6-7-4-5.8-2.8-6.1-2.7-8-.7-4-.2-8 .5-8 1.9-6.5 2-3.4 4-4.6 4-3.3 6-3.3 6-4.6 4-2.3 8-2.3 12-.8 10 .7 9.5 2.4 5.5 2 3.3 2 3.8 12.7 12.7-.2 3.3-3.4 43.8 0 6.5 6.9 0 28 3.3 5.5-3.1 3.3-16.2 .1-3.6 2.9-.1 7.3 7.3-1.2 4.8 .1 15.2 3.1 4 1.4 4.5 3.5 2.8 4 .9 2 .1 2-3.8 6-.6 2 .3 4 1.8 3.1 2 1 2 0 2-1 2.3-3.1 2.5-8 1.2-1.8 2-.4 6 3.1 10 7.5 4 3.6 9 10 5 3.2 3.3 2.8 3.2 4 2.3 4 6 14 1.3 4 2.2 10 2.1 22.6 40.8 0 .8 4.8 3.7 2.2 35.7 0 3.8 3.4 20.5 .1 1.8-13.1 1.8-6 2.7-4.5 2-2.2 2-1.3 2-.2 4 2.1 4 3.5 10 11.7 8 7.7 8 6.1 6 3.1 21.9 .1 8.1-3.8 6-5.2 2-2.9 .8-2.2-.1-2-1.4-4-.8-4-.1-4 .7-6 1.8-6 1.9-4 1.5-2 3.7-3.2 6-2.7 6-1 8-.1 16 1.5 8-.9 4-1.5 6-3.3 24-16.8 4-1.6 4-.7 6 1.1 4-3.2 4.6-1.1-.3-357.9-4.3 .2-4-1.2-4-.6-8 1.1-4 1.4-10 7-8-3.2-6-.3-8-2.4-12-2.1-8-3.8-10-2.1-12-6.2-6-7.7-4-4.1-4.6-6.6-3.4-3.6-4-2.7-2-.2-6 2.2-10 1.2-8-2.6-4-.8-8-.6-1.5-.9-9.5-8-3.6-8-6.1-8 .1-8-1.2-6-1.9-4-4.8-6 2.3-8-.5-6-1.3-3.1-1.8-2.9-6-6-5.2-8.5-.5 4.8-3.1 3.3-.2 8.2-4 .6-2.5 2.9-.1 25.8 3.3 3.8 .1 15.6 3.2 3.7 .6 5.4 2.7 2.4 .1 7.8 3.3 3.7 .4 8.7 2.9 2.8 .2 8.3 6.5 7 .4 4.9 2.9 2.8 .2 8.1 3.2 3.3 .3 12.4 2.3 2.4 4.2 .6 3.2 3.5-3.3 5.7 0 9.5 2.2 3.1 4.4 .9 .1 11 3.2 3.7 0 16.8-3.3 4.2 0 21.5-5.8 2.2-.9 12.6-5.5 1.9-1.1 5.5-20.1 0-.8-16.3-5.8-2.2-.9-5.2-13.9-15.6-5.3-1.4-.3-8.1-6.3-6.6-.6-5.1-2.5-2.3-3.6-.3-.4-8.2-2.9-2.8-.3-4.2-3.1-3.3-.6-5.2-2.7-2.3-.4-12.3-2.3-2.5-4-.6 3-4.4 .4-4.8 3.3-4.2 0-20.1-3.3-4.2-.6-5.3-3.5-2.5-12.6-.1-.1-11.3-3.3-3.7-.8-5.8-4.6-1.7 4.3 8.6 2.5 7.1 2.9 18 .7 10 2.8 10 0 2-1.2 4-2.4 4-3.3 3.5-7.6 4.5-8.4 3.7-24 6.6-24 3.8-12 3.6-8-2.1-10-1.4-10-3.3-6 0-4 1.2-3.2 1.9-4.8 4-3.1 4-1.6 4-.5 4 .8 8 1 4 5.4 10.9 10 16.2 2.4 4.9 2.2 6 .6 4-.3 2-.9 2-3.9 4-4.1 2.6-4 1.3-16.7 4.1-19.3 2.5-12 3.8-8 0-12 1.9-6-1.7-6-.8-8 .8-16 .2-4 .9-6 2.7-6 5.4-12 8-10 11-4 3.4-2 .9-2 .3-2-.3-4-2.6-5.9-10.4-4.1-3.2-6-2.4-2-.2-4 1-4 2.6-4 4.2-1.2 2-1.4 4-.5 4 .8 4 2.4 4 3.9 3.5 8 4.3 1.6 2.2 .8 2-.2 4-2.2 3.9-2.1 2.1-5.9 3.6-6 1.7-18-3.6-4 .1-4 1.1-6 3.8-6.4 7.3-3.6 5-2 .8-8-2.8-4-3.6-4-2.5-2-.4-4 .5-4.4 3-2.1 2-1.2 2-1.4 4-.9 8.2-4 .5-10 2.5-16-2.4-3.4-2.8-4.6-5.3-9.3-12.7-4.1-10-9.5-18-1.8-10-1.6-6-2.5-6-4.1-8-.1-2 2.4-10 .3-4-.3-4-2-6-6-10-2.8-10-3.2-9 0 24.8-10.2 .4-6.3 7.3-.1 31 3.3 5.8-3.3 4.2 0 50.4-3.2 3.2-.1 6.1 3.3 3.7 0 10.3 3.3 4.2 .4 11.6 6.3 6.4 .4 18.7 2.2 2.5 4.3 .6 3.1 3.3 .4 4.3 6.3 6.4 .8 5.2 4.7 5 4.5 .8 .8 4.9 5.8 5.5 .2 7.4 3.2 3.3 .8 12.2 6.1 2.2 6.4 6.8 .2 7.4 2.5 2.9 27.3 .6 1.9 5.9 5 1.2 5 5.9 5 1.1 3.4 3.3 9.5 0 3.4-3.3 13.3-.2 6.7-6.8 16.2-.1 3.8-3.5 4.7-.8 2-2.7 12.8-.1 3.9-3.4 6.9 0 .8 4.8 5.6 5.4 8.4-.8 1.8-3.3 0-9.9 3.2-3.5 3.3-3.3 6.7-.2 3.3-3.4 4.2-.6 5.4-5.6zM727 628l1.2 2 .1 2-.7 2-1.6 1.8-2 .7-2-.3-2-1.4-1.4-2.8 .2-2 1.5-2 1.7-.9 2-.3zM682.4 189.3l3.6 4.9 2.2 3.5-.3-2.9-4.6-5.4zM229.9 332.8l-.9-2.8-.8-2.9 .1 4.1zM227.3 323.3l-4.2-17.3-.7-4.3-.9 .8 0 16.5 2.2 3.7zM225.2 284.5l1.4-2.5 1.3-1.8-2.7 2.6zM231.8 276.3l4.2-2.8 6-2.2 2-.4 4 .6 6-.1 6-2.3 6 .7 6-.2 8-2.4 8-.6 8-1.9 10-3.6 12-5.5 14-4.2 2-1.5 3.1-5.9 1.9-2 6.5-4 2.5-.8 1.2 .8 .7 2 1.8 8 2.7 4 3.6 2.6 6 3.1 10 3.2 6 .8 8 .1 22-2.8 12 1.7 8 .2 8-1.1 12-3.3 14 8.5 10 3.8 8 1 8-.7 10 1.8 4-.1 6-1.4 10-4.6 4-2.7 2-2.2 1.8-3.9 .4-4-.8-16 .6-10-.1-10 .9-14-.6-8-1.3-6 1.1-4.1 3.3-7.2-19.8 0-2.9-3.5-6.3-.3-7.1 7.3-.2 15.8-4.9 1.1-5.1 7.7 .1 4.8 1.7 2.9 8.3 1.1 2.5 3.3 4.1 .6 0 9.1-3.5 0-5-6.5-5-1.1-4.4-3.8-9.5 .5-5.9 7.1-23.6 0-1.7-2.7-5-1.1-3.2-3.6-1.4-6.5-5.4-1.4-4.3-3.8-8.7 .2-3.4 3.6-27 0-7.2-7.6-27.6-.1-3.2 1.1-1.7 2.7-12.3 .1-4.4 3.8-14.1 .6-5.4 5.9-.6 5.3-9.2 9.5-.8 5.5-13.6 .3-3 3.5-5 1.1-1.6 2.7-4.6 .8-2.1 3-7.1 .3-2.9 3.5-5 1.1-1.7 2.7-4.6 .8-2 2.7-.2 4.3-3.2 3.5-5 1.2-4.3 4.8zM531.7 175.9l1.9-3.9 .8-2.3-.5 .1-2 2.7zM566.9 570l-1 2 .4 2 1.7 1.7 2 .8 2 .2 2.6-.7 2.5-2 .8-2-.1-2-1.4-2-2.4-.7-2 .4z"/>
<path fill="#24ffdb" d="M632 206.9l.9-.9-.1-2-.8-1.1-2-.3-1.3 1.4-.5 2 1.8 1.7zM528.7 635.3l1.3-1.6 1.7-1.4-1.1 .2zM535.1 630l10.9-3.9 2-1.2 8-7.1 2-2.3 1.3-3.5-.2-2-1.1-2-2-1.7-2-.9-8.8-1.7-.2 10.3-6 .1-2.8 1.8zM451.5 567.2l-7.5-5.5-4-4-2.5-3.7-3.5-7.8-2.1-6.2-1.1-6-.3-8 .5-8 .7-4 1.5-4 4.8-7.1 4-4.2 5.9-4.7 6.1-5.9 4-2.5 4-1.4 4-.7 12-.3 14 1.7 12 3.2 6 2.5 1.3 1.4 4.3 14.6 9.2-.1 3.3-3.4 43.8 0 6.5 6.9 0 28 3.3 5.5-3.1 3.3-16.2 .1-3.6 2.9-.1 1.3 13.3 .6 10 1.8 4 1.4 4 2.4 10 8.2 2 1 4 .2 4-1.3 1.2 .6 4.8 5.2 14 12.3 11.1 12.5 7.7 6 3.7 4 2.6 4 3.2 8 4.5 8 3.5 8 2.1 8 3.2 20.6 33.6 0 .8 4.8 3.7 2.2 35.7 0 3.8 3.4 15 .1 2.1-5.1 1.5-12 2.2-6.9 2.7-5.1 2.9-4 2.4-2 2-.8 2 0 2 .9 2 1.7 17.6 20.2 6.4 5.3 8 5.3 6.3 3.4 5.7 1.8 6-.4 4.9-1.4 7.1-3.4 5-4.6 1.5-4 1.1-10 2.6-10 1.6-4 2.2-3.6 4.6-4.4 5.4-2.6 8-1.6 8-.3 16 .8 8-1.2 8-3.6 12-7.5 5.1-4 6.9-6.4 4-2.3 12-5.7 8.6 .4-.3-352.8-4.3 0-8-1.7-8 1-4 1.5-8.2 6-1.8 .8-8-3.3-2-.4-4 .1-8-2.5-12-2-8-3.9-10-2-12-6.2-6-7.5-4-4.2-4.9-6.9-3.1-3.2-4-2.6-4 .2-4 1.7-10 1.2-10-2.8-10-1.2-2-1.2-8-6.4-1.5-1.7-3.8-8-5.8-8 0-8-1.3-6-2-4-4.4-6 2-8-.6-6-2.6-5.1-6.6-6.9-4.7-7-.2 3.3-3.1 3.3-.2 8.2-4 .6-2.5 2.9-.1 25.8 3.3 3.8 .1 15.6 3.2 3.7 .6 5.4 2.7 2.4 .1 7.8 3.3 3.7 .4 8.7 2.9 2.8 .2 8.3 6.5 7 .4 4.9 2.9 2.8 .2 8.1 3.2 3.3 .3 12.4 2.3 2.4 4.2 .6 3.2 3.5-3.3 5.7 0 9.5 2.2 3.1 4.4 .9 .1 11 3.2 3.7 0 16.8-3.3 4.2 0 21.5-5.8 2.2-.9 12.6-5.5 1.9-1.1 5.5-20.1 0-.8-16.3-5.8-2.2-.9-5.2-13.9-15.6-5.3-1.4-.3-8.1-6.3-6.6-.6-5.1-2.5-2.3-3.6-.3-.4-8.2-2.9-2.8-.3-4.2-3.1-3.3-.6-5.2-2.7-2.3-.4-12.3-2.3-2.5-4-.6 3-4.4 .4-4.8 3.3-4.2 0-20.1-3.3-4.2-.6-5.3-3.5-2.5-12-.1 2.1 13.2 .2 8 2.5 10-.2 4-1.7 4.6-3.7 5.4-2.6 2-3.6 2-10.1 4.4-20.2 5.6-7.8 1.9-22 4-12 3.6-10-2.6-8-.9-8-3.4-6-.7-4 .8-2 1-8 6.5-2.4 3.8-1.2 4-.1 4 1.2 8 3.7 8 8.1 12 4.7 8 4 8.7 2 7.3 0 2-.6 2-1.7 2-5.8 4-5.9 2.7-14 3.5-8 1.4-14 1.4-14 3.9-8 .1-12 1.7-8-2-4-.3-8 .8-14 .3-4 .6-6 2.4-6.2 5.5-11.1 8-14.7 14.9-4 2.5-2 .1-2-.5-4-3.2-2-2.7-3-7.1-3.9-4-7.1-3.1-2-.1-4 1-4 2.6-3.3 3.6-2 4-.9 6 .9 4 3.3 4.5 4 2.8 7.4 2.7 2 2 1.1 2 .5 2-.2 4-2.1 4-1.8 2-2.9 2.2-4 2.2-4 1.3-4 .7-16-3.9-6-.1-4 1.1-6 3.9-5.8 6.6-4.2 6-2 .3-8-2.9-6-5.1-2-1-2-.4-4 .6-3.7 2.5-3.5 4-1.4 4-.9 8-.5 .5-14 3.1-16-2.3-2.2-1.3-3.9-4-6.4-8-5.7-8-4.1-10-9.4-18-1.9-10-1.8-6-6.3-14-.1-2 2.4-12-.4-6-1.9-6-5.6-10-5.3-15.8 0 21.6-10.2 .4-6.3 7.3-.1 31 3.3 5.8-3.3 4.2 0 50.4-3.2 3.2-.1 6.1 3.3 3.7 0 10.3 3.3 4.2 .4 11.6 6.3 6.4 .4 18.7 2.2 2.5 4.3 .6 3.1 3.3 .4 4.3 6.3 6.4 .8 5.2 4.7 5 4.5 .8 .8 4.9 5.8 5.5 .2 7.4 3.2 3.3 .8 12.2 6.1 2.2 6.4 6.8 .2 7.4 2.5 2.9 27.3 .6 1.9 5.9 5 1.2 5 5.9 5 1.1 3.4 3.3 9.5 0 3.4-3.3 13.3-.2 6.7-6.8 16.2-.1 3.8-3.5 4.7-.8 2-2.7 12.8-.1 3.9-3.4 6.9 0 .8 4.8 5.6 5.4 8.4-.8 1.8-3.3 0-9.9 3.2-3.5 3.3-3.3 6.7-.2 3.3-3.4 4.2-.6 5.4-5.6zM726.9 626l2.4 2 .7 2 0 2-1.4 4-2.6 2.5-2 .4-2-.3-2-.9-2-1.8-1.3-1.9-.5-2 .3-2 1.1-2 2.4-1.9 2-.7 2-.1zM909.9 568l.4 0-.3 .4zM692 201.2l4.8 10.8 1.6 6.7 0-7.2-3.3-3.7-.8-5.8zM225.7 323l-3.7-14.7-.5-2.2 0 12.9 2.2 3.7zM232 274.8l5.3-2.8 4.7-1.3 2-.2 8 .6 2-.3 6-2.1 8 .5 4-.4 8-2.4 8-.8 8-2 8-2.8 14-6.5 12-4.3 2.7-2 5.3-6.3 6.1-3.7 3.9-1.3 1.8 1.3 2.7 8 1.5 2.8 2 2.4 2 1.6 6 3.3 4 1.7 6 1.6 6 .8 8 .1 10-.9 12-1.8 12 1.9 8 .1 8-1.2 12-3.3 14 8.3 6 2.6 6 1.7 6 .7 8-.3 10 1.3 6-.5 4-1 6-2.5 6-3.3 2.3-2.1 2.2-4 .5-4-.8-16 1.8-34-.6-8-1.7-6 3.3-11.3-17.5 0-2.9-3.5-6.3-.3-7.1 7.3-.2 15.8-4.9 1.1-5.1 7.7 .1 4.8 1.7 2.9 8.3 1.1 2.5 3.3 4.1 .6 0 9.1-3.5 0-5-6.5-5-1.1-4.4-3.8-9.5 .5-5.9 7.1-23.6 0-1.7-2.7-5-1.1-3.2-3.6-1.4-6.5-5.4-1.4-4.3-3.8-8.7 .2-3.4 3.6-27 0-7.2-7.6-27.6-.1-3.2 1.1-1.7 2.7-12.3 .1-4.4 3.8-14.1 .6-5.4 5.9-.6 5.3-9.2 9.5-.8 5.5-13.6 .3-3 3.5-5 1.1-1.6 2.7-4.6 .8-2.1 3-7.1 .3-2.9 3.5-5 1.1-1.7 2.7-4.6 .8-2 2.7-.2 4.3-3.2 3.5-5 1.2-4.3 4.8zM570 573.3l2 .8 2-1.2 .6-.9-.6-2-2-.8-1.8 .8-1 2zM595.7 584l2 2 1.2 0 1.1-.4 1.3-1.6 .2-2-1.5-2.3-2-.1-2 2z"/>
<path fill="#2cffd3" d="M630 205.3l-.4 .7 .4 .4 .6-.4zM451.4 569.5l-7.4-5.8-4-3.9-2.9-3.8-2.1-4-3-8-1.6-6-.9-8 0-8 .6-6 1-4 2.9-6.6 16-20.8 4-3.8 4-1.4 4-.5 14 .2 20 3.5 8 2.5 6 2.8 2.4 2.1 2.3 4 4 12.6 6.1-.1 3.3-3.4 43.8 0 6.5 6.9 0 28 3.3 5.5-3.1 3.3-15.2 .1 12.6 1.5 10 2.3 12 10.1 4 2.7 4 .8 4-.2 4.4 1.9 7.8 6 5.8 5.4 13.1 14.6 11.3 10 5.1 6 2 6 1.8 4 8.5 12 3.2 6 1.7 6 2.2 14 1.8 6.6 26.5 0 .8 4.8 3.7 2.2 35.7 0 3.8 3.4 4.8 .1 2-.6 4-1.9 2-2.3 .6-2.3-.2-6 .6-4 3-10 2.3-4 3-4 4.7-4.7 4-3 2-.5 2 .9 2 1.9 14 17.8 4 4.2 6 4.9 12 6.7 6 2.6 4 .5 4-.5 7-2.8 3-2.1 2-2 2.3-3.9 5-14 3.6-8 2.9-4 4.2-3.3 6-2.6 6-1.3 8-.7 18 .1 6-.9 4-1.3 6-2.9 12-7.2 4.5-3.9 5.5-7.4 4-2.8 14-6.5 4-.3 4.6 .9-.3-348.2-4.3 0-8-1.8-8 1-4 1.5-7.7 5.6-2.3 1.1-8-3.4-2-.4-4 .1-8-2.5-12-2-8-3.9-10-2-12-6.2-10-11.6-5.2-7.2-2.8-2.9-4-2.4-2-.2-6 2-10 1.2-10-2.6-10-1.4-2-1-8-6.4-1.9-2.3-4-8-5.5-8-.3-8-1.3-6-2-4-3-3.8-1.1-2.2 1.7-8-.6-6-2-4.1-7.4-7.9-4-5.4-.1 1.7-3.1 3.3-.2 8.2-4 .6-2.5 2.9-.1 25.8 3.3 3.8 .1 15.6 3.2 3.7 .6 5.4 2.7 2.4 .1 7.8 3.3 3.7 .4 8.7 2.9 2.8 .2 8.3 6.5 7 .4 4.9 2.9 2.8 .2 8.1 3.2 3.3 .3 12.4 2.3 2.4 4.2 .6 3.2 3.5-3.3 5.7 0 9.5 2.2 3.1 4.4 .9 .1 11 3.2 3.7 0 16.8-3.3 4.2 0 21.5-5.8 2.2-.9 12.6-5.5 1.9-1.1 5.5-20.1 0-.8-16.3-5.8-2.2-.9-5.2-13.9-15.6-5.3-1.4-.3-8.1-6.3-6.6-.6-5.1-2.5-2.3-3.6-.3-.4-8.2-2.9-2.8-.3-4.2-3.1-3.3-.6-5.2-2.7-2.3-.4-12.3-2.3-2.5-4-.6 3-4.4 .4-4.8 3.3-4.2 0-20.1-3.3-4.2-.6-5.3-3.5-2.5-10.6-.1 2.2 13.2-.2 8 2.4 10-.1 4-2 6-2.8 4.8-4.4 3.2-8.6 4-7 2.4-22 5.8-26 5.4-10 3-4-.1-8-2.1-10-1.3-6-3.3-6-.8-4 1-2 1.2-7.7 6.8-2.1 4-.7 4 1.5 10 3 6.3 8.8 11.7 7.2 13.1 2.8 6.9 1.7 6 .4 4-1.2 2-10.8 6-6.9 2.5-16 3.7-20 2.1-12 3.2-8 .2-12 1.5-8-1.8-6-.3-6 .7-14 .6-4 .7-6.1 2.9-5.9 5.3-8.5 6.7-13.5 13.1-4 4.8-2 1.8-2 1.1-2 .1-2-1-2-1.7-4-5.5-1.6-4.7-2-4-2.4-2.8-4-2.4-4-1.4-2-.1-4 1-4 2.8-2.7 2.9-2 4-.7 6 1.4 4.5 2 2.7 2 1.7 4 1.9 6 .8 4.5 4.4 1.1 2 .5 4-1.1 4-3 4-4 3.2-4 2.1-4 1.3-4 .7-2 0-14-3.8-4-.7-4 .2-4 1.1-4 2.3-4 3.8-4.9 5.8-2.6 4-.5 1.5-6-1.9-4-1.9-6-5-2-.9-2-.5-4 .6-3.1 2.1-3.5 4-1.4 4-1.2 8-.8 .8-14 3.3-16-2.3-3-1.8-3.9-4-12.3-16-4-10-8.8-16.8-3.7-15.2-6.3-14.7-.5-3.3 2-12-.4-6-1.9-6-5.3-10-4.5-12.9 0 18.7-10.2 .4-6.3 7.3-.1 31 3.3 5.8-3.3 4.2 0 50.4-3.2 3.2-.1 6.1 3.3 3.7 0 10.3 3.3 4.2 .4 11.6 6.3 6.4 .4 18.7 2.2 2.5 4.3 .6 3.1 3.3 .4 4.3 6.3 6.4 .8 5.2 4.7 5 4.5 .8 .8 4.9 5.8 5.5 .2 7.4 3.2 3.3 .8 12.2 6.1 2.2 6.4 6.8 .2 7.4 2.5 2.9 27.3 .6 1.9 5.9 5 1.2 5 5.9 5 1.1 3.4 3.3 9.5 0 3.4-3.3 13.3-.2 6.7-6.8 16.2-.1 3.8-3.5 4.7-.8 2-2.7 12.8-.1 3.9-3.4 6.9 0 .8 4.8 5.6 5.4 8.4-.8 1.8-3.3 0-9.9 3.2-3.5 3.3-3.3 6.7-.2 3.3-3.4 4.2-.6 5.4-5.6zM726 624l4.2 2 1.4 2 .1 4-1.7 5.8-1.5 2.2-2.5 1.7-2 .1-4-1.4-3.1-2.4-1.8-2-1.7-4 .3-2 1-2 2.1-2 3.2-1.7 2-.5zM914 570l0 2.6-2 .7-2-1.4-.8-1.9-.2-2 1-.9 2 .6zM694.2 202l.1 .4 0-.4zM697.8 210.9l.4 1.1 .2 .6 0-1.1zM224.1 322.7l-.7-2.7-1.9-7.1 0 6.1 2.2 3.7zM232 273.6l6-2.6 4-.9 10 .5 8-2.3 8 .1 4-.4 8-2.4 8-.9 8-2.1 7.2-2.6 12.8-6.1 12-4.7 4-2.8 4.2-4.4 2.7-2 7.1-3.5 2-.3 2.5 1.8 3.5 8.1 2 3 2 1.9 8 4.5 8 2.5 8 .9 8-.1 10-.9 10-1.7 12 2.1 8 .1 8-1.2 12-3.3 16 9 10 3.4 6 .8 8 0 10 .9 6-.6 4-1 8-3.3 4-2.5 2.3-2.6 1.4-4-.6-18 1.2-12 1-22-.8-8-1.6-6 2-11.3-15.4 0-2.9-3.5-6.3-.3-7.1 7.3-.2 15.8-4.9 1.1-5.1 7.7 .1 4.8 1.7 2.9 8.3 1.1 2.5 3.3 4.1 .6 0 9.1-3.5 0-5-6.5-5-1.1-4.4-3.8-9.5 .5-5.9 7.1-23.6 0-1.7-2.7-5-1.1-3.2-3.6-1.4-6.5-5.4-1.4-4.3-3.8-8.7 .2-3.4 3.6-27 0-7.2-7.6-27.6-.1-3.2 1.1-1.7 2.7-12.3 .1-4.4 3.8-14.1 .6-5.4 5.9-.6 5.3-9.2 9.5-.8 5.5-13.6 .3-3 3.5-5 1.1-1.6 2.7-4.6 .8-2.1 3-7.1 .3-2.9 3.5-5 1.1-1.7 2.7-4.6 .8-2 2.7-.2 4.3-3.2 3.5-5 1.2-4.3 4.8zM598 583.3l-.4 .7 .4 .4 .6-.4zM549.6 612l1.4 2 3 .1 2-1 .7-1.1-.2-2-.5-.5-2-.3-2.7 .8z"/>
<path fill="#35ffca" d="M232.1 272.4l5.9-2.2 4-.7 10 .5 8-2.1 10-.4 10-2.7 8-1.1 6-1.4 8-2.9 14-6.8 10-4 4-2.4 8-6.6 7.5-3.6 2.5-.3 2 1 1.2 1.3 4.1 8 3.5 4 7.2 4.1 8 2.5 8 .9 8-.1 10-.7 10-1.6 10 1.9 8 .4 8-1 10-2.7 4-.6 2.8 .9 9.2 5.4 6 2.9 10 3.1 22 1.3 4-.4 6-1.3 6-2.3 4.9-2.7 2-2 1.7-4-.6-18 1.4-12 1.2-20-.5-8-1.9-8 .8-11.3-13.5 0-2.9-3.5-6.3-.3-7.1 7.3-.2 15.8-4.9 1.1-5.1 7.7 .1 4.8 1.7 2.9 8.3 1.1 2.5 3.3 4.1 .6 0 9.1-3.5 0-5-6.5-5-1.1-4.4-3.8-9.5 .5-5.9 7.1-23.6 0-1.7-2.7-5-1.1-3.2-3.6-1.4-6.5-5.4-1.4-4.3-3.8-8.7 .2-3.4 3.6-27 0-7.2-7.6-27.6-.1-3.2 1.1-1.7 2.7-12.3 .1-4.4 3.8-14.1 .6-5.4 5.9-.6 5.3-9.2 9.5-.8 5.5-13.6 .3-3 3.5-5 1.1-1.6 2.7-4.6 .8-2.1 3-7.1 .3-2.9 3.5-5 1.1-1.7 2.7-4.6 .8-2 2.7-.2 4.3-3.2 3.5-5 1.2-4.3 4.8zM221.5 318.7l0 .3 .1 .2zM701.9 222.8l2.2 13.2-.7 4 .2 4 2.3 10 .1 4-.9 4-2.8 6-2.3 3.1-2 1.4-10 4.6-8 2.7-48 11.4-10 2.7-4-.1-10-2.5-8-.7-6-3.6-4-.9-4 .4-2 .7-8.2 6.8-2.3 4-.8 4 .6 6 1.1 4 3.6 6.6 8.1 9.4 3.9 6.5 3.7 7.5 3.2 8 2.2 8 .7 4-1.8 1.5-16 7-18 4.5-18 1.4-16 3.6-8 .4-10 1.3-2 0-8-1.7-4-.3-20 1.3-6 1.1-4 1.9-2.7 2-13.5 12-7.9 8-3.9 3.3-2 2.7-5.7 10-2.3 2.2-2.1-.2-2.7-2-5.2-11.8-2.9-8.2-2.9-4-4.2-2.7-4-1.3-2-.2-4 1.1-4.3 3.1-3 4-1.5 6 .6 4 2.2 3.8 2.5 2.2 3.5 1.6 6.7 .4 8 6 1.1 2 .2 2-.5 4-2 4-1.7 2-5.4 4-3.7 2-4.7 1.6-4 .6-4 0-12-3.6-6-1.2-4 .1-4 1.2-4 2.3-4 3.8-4.3 5.2-3.7 6.1-6-2.1-4-1.9-6-5-2-.9-2-.5-4 .6-2.6 1.7-3.5 4-1.4 4-1.4 8-1.1 1.1-3 .9-11 2.5-16.7-2.5-3.2-2-3.9-4-12.2-15.9-3.1-8.1-9.3-18-4.3-16-5.8-14-.7-4 1.6-10 .2-4-.5-4-1.9-6-5-10-3.8-10.2 0 16-10.2 .4-6.3 7.3-.1 31 3.3 5.8-3.3 4.2 0 50.4-3.2 3.2-.1 6.1 3.3 3.7 0 10.3 3.3 4.2 .4 11.6 6.3 6.4 .4 18.7 2.2 2.5 4.3 .6 3.1 3.3 .4 4.3 6.3 6.4 .8 5.2 4.7 5 4.5 .8 .8 4.9 5.8 5.5 .2 7.4 3.2 3.3 .8 12.2 6.1 2.2 6.4 6.8 .2 7.4 2.5 2.9 27.3 .6 1.9 5.9 5 1.2 5 5.9 5 1.1 3.4 3.3 9.5 0 3.4-3.3 13.3-.2 6.7-6.8 16.2-.1 3.8-3.5 4.7-.8 2-2.7 12.8-.1 3.9-3.4 6.9 0 .8 4.8 5.6 5.4 8.4-.8 1.8-3.3 0-9.9 3.2-3.5 3.3-3.3 6.7-.2 3.3-3.4 4.2-.6 5.4-5.6 .4-10.5-7.4-6.2-6-6.2-2.5-3.6-3.4-8-1.8-6-1.2-6-.7-8 .2-8 1.2-8 2.1-6 9.4-16 7.1-14 1.6-1.4 2-.7 6-.7 6 .2 16 2.2 10 2.9 10 2.2 8 3.4 4 2.6 3 3.3 3 6 3.7 10.5 3.1 0 3.3-3.4 43.8 0 6.5 6.9 0 28 3.3 5.5-2 2.1 8.3 2.1 4 4.6 10 8.8 4 1.4 6 .6 3 .9 7 3.9 4 3.2 16.8 18.9 11.1 10 5.8 6 2.3 8 2 3.5 4 4.3 7 6.2 3.6 4 2.2 4 .6 2 1.3 14 1.4 6 1.8 4.6 19.3 0 .8 4.8 3.7 2.2 17.9 0 3.2-3.6 2-4 1-8 .7-2 3.5-1.8 2.1-.2 5.9 4.8 2 1 2 .4 2-.2 2-.9 3-3.1 7.3-12 3.5-4 8.5-8 3.1-4 .6-1.8 2 .7 4 3.3 14.6 19.8 5.4 5.6 4 3.2 6 3.4 12 4.6 6 .3 4-1 4-1.9 4.5-4.2 3.5-5.6 4.8-10.4 3.3-6 3.4-4 2.7-2 5.8-2.7 8-1.8 8-.7 18-.6 4-.7 5.2-1.5 16.8-8.8 4-3.2 2.1-4 .6-6 2.2-2 21.1-8.9 2-.5 2 .2 4.6 1.5-.3-344-4.3-.2-8-1.8-8 1-4 1.6-7.1 5.1-2.9 1.4-8-3.5-2-.5-4 .2-8-2.6-12-1.9-8-3.9-10-1.9-12-6.3-1.3-1-4.7-6.1-4-4.3-5.5-7.6-2.5-2.5-4-2.4-2-.2-6 2-10 1.2-10-2.4-10-1.5-2-1-8-6.3-2-2.3-4.5-8.6-4.3-6-1-2-.5-8-1.3-6-5.8-10 1.5-8-.7-6-1.4-2.9-2-2.8-4.5-4.3-4.9-6-3.2 3.6-.2 8.2-4 .6-2.5 2.9-.1 25.8 3.3 3.8 .1 15.6 3.2 3.7 .6 5.4 2.7 2.4 .1 7.8 3.3 3.7 .4 8.7 2.9 2.8 .2 8.3 6.5 7 .4 4.9 2.9 2.8 .2 8.1 3.2 3.3 .3 12.4 2.3 2.4 4.2 .6 3.2 3.5-3.3 5.7 0 9.5 2.2 3.1 4.4 .9 .1 11 3.2 3.7 0 16.8-3.3 4.2 0 21.5-5.8 2.2-.9 12.6-5.5 1.9-1.1 5.5-20.1 0-.8-16.3-5.8-2.2-.9-5.2-13.9-15.6-5.3-1.4-.3-8.1-6.3-6.6-.6-5.1-2.5-2.3-3.6-.3-.4-8.2-2.9-2.8-.3-4.2-3.1-3.3-.6-5.2-2.7-2.3-.4-12.3-2.3-2.5-4-.6 3-4.4 .4-4.8 3.3-4.2 0-20.1-3.3-4.2-.6-5.3-3.5-2.5zM720 622.6l6-.2 4.7 1.6 3 2 .6 2-3.3 16-1 2.2-2 .8-4-1.2-6-4-6.3-5.8-1.4-2-.7-2 .3-2 1.2-2 2.1-2 3.2-2zM912 566.4l3.1 1.6 1.9 2 1.1 2 .6 4-.5 2-2.2 1.8-2-.5-2-1.3-2-2.2-1.9-3.8-.4-2 .4-2 1.9-1.7zM930.9 598l-1.3 0 .4-1.1z"/>
<path fill="#3dffc2" d="M396.3 398l-3 4-.8 2-.6 4 .8 4 2.7 4 2.6 1.8 2 .8 2 .4 4-.2 8 3.1 2 .1 2-.6 1.3-1.4 .7-1.6 .1-4.4-2.7-10-1.4-2.9-2-2.6-4-2.7-4-1.4-2-.1-4 1.1zM451.3 574.6l-11.3-10.6-6.1-8-3.6-10-1.9-8-1-10 .1-8 1-8 1.5-5.7 6-12.3 5.5-16 1.9-4 2.6-3.2 4-2.4 4-1 4-.3 8 .7 12 2.6 6 2 6 2.8 6 1.1 4 1.2 8 3.8 6 4.3 3.6 4.4 2.9 6 4 10.5 3.6-3.4 43.8 0 6.5 6.9 0 28 3 5 6.6 2.4 2 .3 2 3.7 9 8.6 2.7 2 2.3 .9 8 1 4 1 4 1.8 5.1 3.3 17.3 20 15.6 14.8 2.1 3.2 2.3 8 1.6 2.2 2 1.7 18 9.3 6 1.7 2-.2 6-3.1 4 1.3 2-.2 10.4-4.7 5.6-1.3 6 .6 8 2.4 4 0 1 2.3-5 3.9-1.5 4.1-.2 4 .3 2 1.4 3.1 2 1.7 4 1.4 6 .8 4-1.3 4-3.1 8.5-8.6 9.5-7.1 4.2-4.9 1.8-1.5 2 .1 3.4 1.4 4.5 4 6.6 10 5.5 7.2 4 4.2 4 3.3 6 3.5 8 3 6 1.1 6-.6 6-2.8 4-3.8 11.3-19.1 2.7-2.9 4-2.8 6-2.3 8-1.8 24-1.8 8-1.5 6-2.5 8-4.7 6-2.6 2-1.5 1.2-1.6 .4-2-.9-2-.7-.7-4-1.6-6-4.3-6-1.6-1.9-1.8-1-6-5.1-9.5-1.3-4.5 .4-4 2-2 2.9-.6 2.5 .6 3.4 2 2 2 3 6 2.4 10 1.8 2 2.9 1.2 8 .8 8-1 8-2.6 8-4.2 6.6 3-.3-340.4-4.3-.3-8-1.8-6 .5-4 1.1-2 1-6.6 4.7-3.4 1.7-8-3.6-2-.5-4 .2-8-2.6-12-1.9-8-4-8-1.3-4-1.3-11.6-6.7-8.4-10.1-5.8-7.9-4.2-3.6-2-.9-2-.1-6 1.8-10 1.3-18-3.5-4-1.3-8-6.3-2-2.1-5.1-9.3-4.2-6-.9-2-1.3-12-1.5-4-3.9-6-.8-2 1.3-8-.8-6-2.8-4.8-9.9-10.4-2.7 2.8-.2 8.2-4 .6-2.5 2.9-.1 25.8 3.3 3.8 .1 15.6 3.2 3.7 .6 5.4 2.7 2.4 .1 7.8 3.3 3.7 .4 8.7 2.9 2.8 .2 8.3 6.5 7 .4 4.9 2.9 2.8 .2 8.1 3.2 3.3 .3 12.4 2.3 2.4 4.2 .6 3.2 3.5-3.3 5.7 0 9.5 2.2 3.1 4.4 .9 .1 11 3.2 3.7 0 16.8-3.3 4.2 0 21.5-5.8 2.2-.9 12.6-5.5 1.9-1.1 5.5-20.1 0-.8-16.3-5.8-2.2-.9-5.2-13.9-15.6-5.3-1.4-.3-8.1-6.3-6.6-.6-5.1-2.5-2.3-3.6-.3-.4-8.2-2.9-2.8-.3-4.2-3.1-3.3-.6-5.2-2.7-2.3-.4-12.3-2.3-2.5-4-.6 3-4.4 .4-4.8 3.3-4.2 0-20.1-3.3-4.2-.6-5.3-3.5-2.5-7.9-.1 1.8 13.2-.5 4 .1 4 2.4 10 .1 4-1.1 5.3-2.1 4.7-2.8 4-3.1 2.1-8.6 3.9-7.4 2.5-60 14.7-4-.1-10-2.5-8-1-6-3.5-4-1-4 .4-2 .9-6.8 5.6-1.5 2-1.5 4-.3 4 1.1 6 1.7 4 2.7 4 6.2 6 2.4 3.1 7 12.9 3.2 8 2.4 8 .7 6-1.3 2.4-18 7.2-18 4.6-16 .8-18 3.6-18 1.6-14-1.9-20 1.5-6 1.4-6 3.7-11.7 11.1-8.3 9-5.4 5-3.1 10-1.5 3.2-2 2.7-4 2.8-8 2.7-2.9 4.6-1.9 2-6 4-9.2 4.2-4 .9-4 .2-6-.7-14-4.4-4-.3-4 .6-4 1.7-4 3.1-6 7-4 6-6-1.8-4-2-6-5-2-1-4-.3-4 1.8-3.6 4-1.5 4-1.5 8-1.4 1.4-8.8 2.6-3.2 .7-4 .1-12-1.7-4-1.1-2.8-2-3.9-4-11.3-14.8-3.9-9.2-9.3-18-4.4-16-5.7-14-.6-4 1.5-10-.5-8-1.8-6-4.8-10-3.1-7.7 0 13.5-10.2 .4-6.3 7.3-.1 31 3.3 5.8-3.3 4.2 0 50.4-3.2 3.2-.1 6.1 3.3 3.7 0 10.3 3.3 4.2 .4 11.6 6.3 6.4 .4 18.7 2.2 2.5 4.3 .6 3.1 3.3 .4 4.3 6.3 6.4 .8 5.2 4.7 5 4.5 .8 .8 4.9 5.8 5.5 .2 7.4 3.2 3.3 .8 12.2 6.1 2.2 6.4 6.8 .2 7.4 2.5 2.9 27.3 .6 1.9 5.9 5 1.2 5 5.9 5 1.1 3.4 3.3 9.5 0 3.4-3.3 13.3-.2 6.7-6.8 16.2-.1 3.8-3.5 4.7-.8 2-2.7 12.8-.1 3.9-3.4 6.9 0 .8 4.8 5.6 5.4 8.4-.8 1.8-3.3 0-9.9 6.5-6.8 6.7-.2 3.3-3.4 4.2-.6 5.4-5.6zM232.2 271.3l5.8-1.9 4-.4 8 .6 4-.3 6-1.9 8-.3 4-.6 8-2.5 8-1.1 6-1.6 8-3 12-6 12-5.2 13.3-9.1 4.7-2.1 4-.7 2 .8 1.9 2 4.1 7.3 4 4.2 8 4.1 8 2 6 .6 10-.1 8-.6 10-1.4 10 1.8 8 .3 8-.9 10-2.6 4-.4 4 1.3 14 7.3 10 3.2 6 .7 14 .6 6-.4 6-1.4 6-2.3 4-2 2-1.9 1.5-3.4-.7-18 1.8-12 1.3-20-.6-8-1.9-8-.2-11.3-11.7 0-2.9-3.5-6.3-.3-7.1 7.3-.2 15.8-4.9 1.1-5.1 7.7 .1 4.8 1.7 2.9 8.3 1.1 2.5 3.3 4.1 .6 0 9.1-3.5 0-5-6.5-5-1.1-4.4-3.8-9.5 .5-5.9 7.1-23.6 0-1.7-2.7-5-1.1-3.2-3.6-1.4-6.5-5.4-1.4-4.3-3.8-8.7 .2-3.4 3.6-27 0-7.2-7.6-27.6-.1-3.2 1.1-1.7 2.7-12.3 .1-4.4 3.8-14.1 .6-5.4 5.9-.6 5.3-9.2 9.5-.8 5.5-13.6 .3-3 3.5-5 1.1-1.6 2.7-4.6 .8-2.1 3-7.1 .3-2.9 3.5-5 1.1-1.7 2.7-4.6 .8-2 2.7-.2 4.3-3.2 3.5-5 1.2-4.3 4.8zM692 639.1l-2.2 6.9-.2 6 1.3 6 2.3 4.6 12 0 .8 4.8 3.5 2.1 2.5-.5 4-1.8 3.8-3.2 2.4-4 .6-2 .1-4-1.4-4-1.3-2-5.5-6-6.7-4.8-6-2.6-4-.2-2 .5-2 1.4z"/>
<path fill="#46ffb9" d="M397 398l-3.1 4-1.2 4 .1 4 .7 2 2.5 3.4 4 2.3 6 .2 6 1.8 2 .1 2-.6 1.4-1.2 1.1-2 .3-2-.4-4-1.5-6-2.9-4.9-4-2.9-4-1.3-4 .2-2 .8zM451.2 577.5l-13.2-13.6-5.4-7.9-2.9-8-2-8-1.3-10-.1-8 1.7-14.5 1.9-5.5 2.8-6 4-20 1.3-4.7 1.5-3.3 2.5-3.4 4-2.5 4-1.1 6-.4 10 1 12 3.3 22 9.2 8 4.3 6 4.2 4.8 5.4 3.3 6 4.4 10.7 1.6-1.6 43.8 0 6.5 6.9 0 28 .6 1 5 2.1 6 3.9 2 2.5 6 4 5.7 6.5 2.3 1.4 2 .6 8 .1 4 .8 4 1.6 5.5 3.5 16.4 20 10.9 10 5.2 5.8 2.5 4.2 1.2 6 2.3 2.8 4 1.3 6 .9 10 4 6 1.4 12 1 4-.9 8-2.7 4-.6 4 .2 8 2 6 1 2.5 1.6 .6 2-1.2 2-3.9 2.3-1.4 1.7-.7 4 .4 2 1.7 2.7 2 1.3 2 .6 4 0 4-1.7 8.1-6.9 13.9-8.1 7-5.9 1-.5 4 0 4 1.6 3.5 2.9 11.1 16 5.4 5.4 4 2.9 6 3.1 6 2 6 .8 6-.6 4-1.7 4-3 3.8-4.9 8.2-13.1 2.6-2.9 3.4-2.4 6-2.4 8-2 24-2.4 8-1.5 4-1.4 3.7-1.9 8.3-5.8 6-1.2 1.1-1 .2-2-1.3-1.2-6-.7-8-3-6-.1-1.2-1 .4-8-.2-4-3-10.4-.5-3.6 .7-4 1.8-2.3 2-1 4 0 3.6 1.3 3.2 2 4.7 6 4.5 10 10 1.6 8-.2 4-1 6-2.6 4-1.3 6.6 2.1-.3-337.3-4.3-.4-8-1.8-6 .4-4 1.2-8.1 5.3-3.9 2-8-3.7-2-.5-4 .2-8-2.6-12-1.9-8-4-8-1.3-4-1.2-11.9-7-8.3-10-4.1-6-5.7-5.3-4-.9-6 1.8-10 1.3-18-3.4-4.3-1.5-9.7-8-5.7-10-4-6-.9-2-.7-8-1.4-6-4.6-8-.8-2 1.2-8-.3-4-.6-2-2.3-4-10.4-10.5-2.1 2.1-.2 8.2-4 .6-2.5 2.9-.1 25.8 3.3 3.8 .1 15.6 3.2 3.7 .6 5.4 2.7 2.4 .1 7.8 3.3 3.7 .4 8.7 2.9 2.8 .2 8.3 6.5 7 .4 4.9 2.9 2.8 .2 8.1 3.2 3.3 .3 12.4 2.3 2.4 4.2 .6 3.2 3.5-3.3 5.7 0 9.5 2.2 3.1 4.4 .9 .1 11 3.2 3.7 0 16.8-3.3 4.2 0 21.5-5.8 2.2-.9 12.6-5.5 1.9-1.1 5.5-20.1 0-.8-16.3-5.8-2.2-.9-5.2-13.9-15.6-5.3-1.4-.3-8.1-6.3-6.6-.6-5.1-2.5-2.3-3.6-.3-.4-8.2-2.9-2.8-.3-4.2-3.1-3.3-.6-5.2-2.7-2.3-.4-12.3-2.3-2.5-4-.6 3-4.4 .4-4.8 3.3-4.2 0-20.1-3.3-4.2-.6-5.3-3.5-2.5-6.6-.1 1.4 11.2-.6 8 2.7 12 0 6-1.6 6-2.1 4-2.3 2.9-4 2.8-8 3.5-8 2.6-32 7.4-26 7.1-6 .1-10-2.6-8-1.3-6-3.4-4-1-4 .4-2 .9-5.5 4.6-1.6 2-1.7 4-.2 4 .6 4 1.4 4 3 4.6 2 2.2 6 4.8 1.7 2.4 6.3 11.5 4 10.1 2 7.2 .7 5.2-.2 2-.8 2-1.7 1.7-18 7.1-18 4.5-16 .5-16 3.1-18 1.7-4 .1-8-1.5-6-.2-18 1.6-5.4 1.4-4.6 2.7-7.5 7.3-7.5 8-7.9 10-1.8 4-1.8 10-1.3 4-2.1 4-2.1 2.6-4 3.3-4 2.1-8 2.8-10 2.4-6 2.4-6 1-6-.3-4-.9-14-4.6-6-.2-6 2.2-4 3.1-5.3 6.1-4.7 6.4-2.6-.4-5.4-2-4-2.5-4-3.6-2-1-4-.4-4 2-3.2 3.5-1.4 4-1 6-.7 2-1.7 1.7-8 2.6-6 1-14-1.7-4.9-1.6-2.7-2-3.9-4-10.5-13.7-4.6-10.3-9.3-18-4.6-16-4.9-12-1.1-4 0-4 1.3-10-1.1-8-2-6-6.3-13.5 0 11.3-10.2 .4-6.3 7.3-.1 31 3.3 5.8-3.3 4.2 0 50.4-3.2 3.2-.1 6.1 3.3 3.7 0 10.3 3.3 4.2 .4 11.6 6.3 6.4 .4 18.7 2.2 2.5 4.3 .6 3.1 3.3 .4 4.3 6.3 6.4 .8 5.2 4.7 5 4.5 .8 .8 4.9 5.8 5.5 .2 7.4 3.2 3.3 .8 12.2 6.1 2.2 6.4 6.8 .2 7.4 2.5 2.9 27.3 .6 1.9 5.9 5 1.2 5 5.9 5 1.1 3.4 3.3 9.5 0 3.4-3.3 13.3-.2 6.7-6.8 16.2-.1 3.8-3.5 4.7-.8 2-2.7 12.8-.1 3.9-3.4 6.9 0 .8 4.8 5.6 5.4 8.4-.8 1.8-3.3 0-9.9 6.5-6.8 6.7-.2 3.3-3.4 4.2-.6 5.4-5.6zM232.9 270l5.1-1.3 4-.3 10 .8 8-2.2 10-.9 10-2.9 12-2.2 8.5-3 11.5-6 12-5.3 13.7-8.7 8.3-3.3 2 0 2.8 1.3 1.8 2 5.3 8 4.1 3.4 6 2.9 8 2 6 .6 12-.1 16-1.5 10 1.6 8 .3 8-1 10-2.4 4-.3 4 1.1 16 7.8 10 2.8 6 .7 12 .3 6-.5 6-1.5 6-2.2 4-2.1 1.8-1.9 .6-2-.8-18 2.2-12 1.4-20-.3-6-2.2-10-1.3-11.3-9.9 0-2.9-3.5-6.3-.3-7.1 7.3-.2 15.8-4.9 1.1-5.1 7.7 .1 4.8 1.7 2.9 8.3 1.1 2.5 3.3 4.1 .6 0 9.1-3.5 0-5-6.5-5-1.1-4.4-3.8-9.5 .5-5.9 7.1-23.6 0-1.7-2.7-5-1.1-3.2-3.6-1.4-6.5-5.4-1.4-4.3-3.8-8.7 .2-3.4 3.6-27 0-7.2-7.6-27.6-.1-3.2 1.1-1.7 2.7-12.3 .1-4.4 3.8-14.1 .6-5.4 5.9-.6 5.3-9.2 9.5-.8 5.5-13.6 .3-3 3.5-5 1.1-1.6 2.7-4.6 .8-2.1 3-7.1 .3-2.9 3.5-5 1.1-1.7 2.7-4.6 .8-2 2.7-.2 4.3-3.2 3.5-5 1.2zM698 644.8l-1.4 3.2-.3 4 1.5 6 2.2 3.1 4 1.3 4 0 4-1.4 3.3-3 1.8-4-.1-4-1.7-4-3.3-3.4-4-1.7-4-.1-3.2 1.2z"/>
<path fill="#4fffb0" d="M705.8 222.9l1.1 11.1-.6 8 2.8 12 .3 4-.5 4-1.9 6-2.5 4-2.5 2.6-4 2.6-6.3 2.8-7.7 2.6-34 7.7-26 7.3-6 .1-10-2.8-8-1.6-6-3.2-4-1.2-4 .5-2 .9-6 5.7-1.1 2-.9 4 .3 4 1.7 5.2 4 5.7 8 5.9 7.4 13.2 3.9 10 2.1 8 .6 6-1 4-1.7 2-3.3 2-14 5.3-18 4.8-8 .6-10-.1-16 2.9-20 1.8-12-1.7-4 0-18 1.7-6 2.1-6 4.6-7.2 8-6.2 8-3.5 6-1.8 6-.1 6 .5 8-2 12 .1 4 .8 2 2.8 2 8.6 1.1 6 1.3 8 2.4 8 3.1 20 10.3 6 3.6 8 5.8 6 6.4 3.6 6 4.7 11.1 43.6 0 6.5 6.9 0 25.5 3.6 1 4 2.3 2 2.3 1.4 2.9 2.6 2.3 6 1.3 2 1.1 2 2.7 2.3 4.6 2.1 2 1.6 .7 2 .1 6-1.1 4 .2 4 1.4 6 3.7 2.9 3 7.7 10 6.8 8 10.6 9.8 5.6 6.2 3.9 6 .8 4-.3 2.2 10-2 2 .5 6 4.3 5.8 3 4.2 1.5 8 1.6 4-.2 10-2.8 4-.5 6 .7 12 2.8 2.2 .9 2.4 2 1 2 0 2-1.6 1.4-4 1.4-1.7 1.2-1 2 .7 3.1 2 1.9 2 .5 2-.2 2.6-1.3 5.4-6 2-1 16-6.1 10-6.3 4-.6 2 .2 4 1.6 2.9 2.2 3.1 3.8 4.9 8.2 3 4 4.1 4.1 4 2.9 6 3.1 6 1.8 6 .8 6-.8 4-1.6 4-3.1 10.4-15.2 3.6-3.9 2-1.3 6-2.4 8-2.1 22-2.8 10-1.9 6-2.1 4.7-3.5 1.3-2 .4-2-.7-2-2.2-2-6.1-2-2.2-2-.5-2-.2-10-2.2-14 .9-4 2.8-3.2 2-.9 4-.2 7 2.3 4.5 4 6.5 7.8 2 1.7 4 1.8 6 1.1 6 .1 8-2.8 4-.7 6.6 1.4-.3-334.6-4.3-.5-8-1.8-6 .4-4 1.2-10 6.3-2 .8-.7-.2-7.3-3.5-2-.5-4 .2-8-2.7-12-1.8-8-4-8-1.2-4-1.3-10-5.5-2.2-1.7-8.3-10-4.1-6-3.4-3.5-2-1.5-4-.8-8 2.2-8 .9-18-3.3-4-1.4-6-4.4-4.5-4.2-9.5-15.7-.9-2.3-1.7-12-1.6-4-3.6-6-.6-2 1-8-.3-4-.7-2-1.6-2.9-2-2.4-9.1-8.6-1.5 1.5-.2 8.2-4 .6-2.5 2.9-.1 25.8 3.3 3.8 .1 15.6 3.2 3.7 .6 5.4 2.7 2.4 .1 7.8 3.3 3.7 .4 8.7 2.9 2.8 .2 8.3 6.5 7 .4 4.9 2.9 2.8 .2 8.1 3.2 3.3 .3 12.4 2.3 2.4 4.2 .6 3.2 3.5-3.3 5.7 0 9.5 2.2 3.1 4.4 .9 .1 11 3.2 3.7 0 16.8-3.3 4.2 0 21.5-5.8 2.2-.9 12.6-5.5 1.9-1.1 5.5-20.1 0-.8-16.3-5.8-2.2-.9-5.2-13.9-15.6-5.3-1.4-.3-8.1-6.3-6.6-.6-5.1-2.5-2.3-3.6-.3-.4-8.2-2.9-2.8-.3-4.2-3.1-3.3-.6-5.2-2.7-2.3-.4-12.3-2.3-2.5-4-.6 3-4.4 .4-4.8 3.3-4.2 0-20.1-3.3-4.2-.6-5.3-3.5-2.5zM397.7 398l-3.2 4-1.2 4 .3 4 .7 2 1.7 2.3 2.1 1.7 3.9 1.3 4 .1 6 1.1 2-.4 2-1.2 1.6-2.9 .1-4-1.2-6-2.5-4.3-4-3-4-1.3-4 .2zM451.1 580.6l-13.1-14.5-4.6-6.1-3.4-7.4-3-10.6-1.8-14 .1-8 1.4-14 1.3-4.8 2.4-5.2 .9-20-.5-14-1.2-4-1.4-2-2.5-2-3.7-1.8-8.7-2.2-3.3-.4-4 1.8-3.6 .6-6.4-.1-8-1.6-14-5-6-.2-4 1.2-4 2.4-5.2 5.3-5.9 8-.9 .6-3.9-.6-4.1-1.6-4-2.6-4-3.5-2-1.1-4-.3-4 2-2.7 3.1-1.4 4-1.2 6-.8 2-1.9 2-8 2.7-6 1-14-1.6-4-1.1-4-2.6-2.6-2.4-11.4-14.5-2-3.5-3.4-8-8.6-16.4-4.7-15.6-5.3-13.6-1.2-4.4 1.2-14-1.2-8-1.9-6-5.5-11.5 0 9.3-10.2 .4-6.3 7.3-.1 31 3.3 5.8-3.3 4.2 0 50.4-3.2 3.2-.1 6.1 3.3 3.7 0 10.3 3.3 4.2 .4 11.6 6.3 6.4 .4 18.7 2.2 2.5 4.3 .6 3.1 3.3 .4 4.3 6.3 6.4 .8 5.2 4.7 5 4.5 .8 .8 4.9 5.8 5.5 .2 7.4 3.2 3.3 .8 12.2 6.1 2.2 6.4 6.8 .2 7.4 2.5 2.9 27.3 .6 1.9 5.9 5 1.2 5 5.9 5 1.1 3.4 3.3 9.5 0 3.4-3.3 13.3-.2 6.7-6.8 16.2-.1 3.8-3.5 4.7-.8 2-2.7 12.8-.1 3.9-3.4 6.9 0 .8 4.8 5.6 5.4 8.4-.8 1.8-3.3 0-9.9 6.5-6.8 6.7-.2 3.3-3.4 4.2-.6 5.4-5.6zM294.3 560l1.7-1 1 1-1 .8zM234 268.7l8-.8 6 .9 4 0 8-2.2 10-1.1 10-3.1 8-1.2 4-1.2 8-2.9 12-6.4 12-5.4 14-8.2 8-2.9 2 0 2 .7 1.6 1.1 6.4 8.7 4 3.4 6 2.9 8 2.1 6 .5 14-.1 14-1 10 1.4 8 .2 6-.6 12-2.6 4-.3 4.9 1.4 17.1 7.8 10 2.6 8 .7 8 0 6-.7 6-1.6 6-2.2 4-2 1.3-2.6-.9-18 2.6-12 1.6-20-.7-8-4.2-19.3-8.2 0-2.9-3.5-6.3-.3-7.1 7.3-.2 15.8-4.9 1.1-5.1 7.7 .1 4.8 1.7 2.9 8.3 1.1 2.5 3.3 4.1 .6 0 9.1-3.5 0-5-6.5-5-1.1-4.4-3.8-9.5 .5-5.9 7.1-23.6 0-1.7-2.7-5-1.1-3.2-3.6-1.4-6.5-5.4-1.4-4.3-3.8-8.7 .2-3.4 3.6-27 0-7.2-7.6-27.6-.1-3.2 1.1-1.7 2.7-12.3 .1-4.4 3.8-14.1 .6-5.4 5.9-.6 5.3-9.2 9.5-.8 5.5-13.6 .3-3 3.5-5 1.1-1.6 2.7-4.6 .8-2.1 3-7.1 .3-2.9 3.5-5 1.1-1.7 2.7-4.6 .8-2 2.7-.2 4.3-3.2 3.5-5 1.2zM704 646.2l-.9 1.8-.2 2 .4 2 1.7 2 3 1 2-.5 2-1.5 1.3-3 0-2-1.3-2.6-2-1.3-2-.2-2 .7z"/>
<path fill="#57ffa8" d="M707.1 222.9l.8 11.1-.8 8 3.1 12 .3 4-.3 4-1.8 6-2.2 4-2.2 2.6-4 3-6 2.9-8 2.8-36 8.1-26 7.6-4 .3-4-.7-16-4.5-6-3.1-4-1.2-4 .4-2 1-5 4.8-1.1 2-.9 4 .3 4 1.3 4 1.4 2.5 2.9 3.5 3.1 2.4 4 2.2 1.2 1.4 7.4 12 3.4 8.5 2.1 7.5 1.2 8-.4 4-.7 2-2.2 2.8-4 2.4-12 4.5-20 5.5-18 .2-16 2.7-18 1.7-4 0-10-1.6-4 0-16 1.6-6 1.6-4.2 2.6-5.8 6-6.2 8-4.7 8-1.5 6 0 4 3.6 16 1.6 4 1.2 1.9 4 3.6 24 11.4 18 11.7 12 9.5 4 4.3 3.8 5.6 3.2 6 3.8 9.1 41.1 0 6.5 6.9 0 22.3 7.6 1.5 3.9 2.2 1.6 2-.4 6 .9 .8 2.9-.8 1.1-2-1.2-4 .7-2 2.1-2 2.4-.9 1.9 .9 4.1 4.1 5.3 3.9 1.5 2 .4 2-1.2 2.4-4 1.4-2 2.1-.3 2.1 .6 2 1.7 1.3 2 0 2.8-1.3 1.2-1.1 4-1.2 4 .9 6 3.4 6 5.4 8 10.7 8 9 9.8 8.9 8.2 9.6 4 3.3 2 .6 6 .2 6 5 4 2.6 8 4.3 4 1.3 6 .1 12-2.8 6 .3 16 4 3.1 1.5 4.9 3.5 2 .5 4 0 10-1.7 6-2.1 6-3.4 4-1.7 4-.6 2 .2 4 1.8 4 3.5 8 12.8 4 4.3 4 2.9 6 3 6 1.7 6 .6 6-.6 4-1.5 3.7-3.2 8.5-12 3.8-4.5 2-1.7 4.7-1.8 9.3-2.5 22-3.3 9.4-2.2 6.6-2 3.1-2 1.5-2 .4-2-.9-2-2.1-1.6-5.1-2.4-1.5-2-.8-4-.1-8-1.3-14 1.1-4 1.3-2 2.4-2.1 2-.8 4-.4 4 .8 4 1.4 4.1 3.1 7.9 7.3 4 2.3 4 1.4 4 .7 4 0 8-1.8 4-.5 6.6 1.1-.3-332.2-12.3-2.5-4 .1-6 1.6-10.7 6.5-1.3 .4-1.5-.4-6.5-3.4-2-.4-4 .2-8-2.7-10-1.3-4-1.3-6-3.3-8-1.1-4-1.2-10-5.6-2.5-1.9-8.2-10-4.2-6-3.1-3.3-2-1.3-2-.7-2-.1-8 2.2-8 .9-18-3.3-4-1.3-4.5-3.1-5.5-4.8-10-16.1-1.3-3.1-1.8-12-1.5-4-3.5-6-.6-2 .8-8-.4-4-.6-2-3.1-4.5-9.7-8.8-.9 .9-.2 8.2-4 .6-2.5 2.9-.1 25.8 3.3 3.8 .1 15.6 3.2 3.7 .6 5.4 2.7 2.4 .1 7.8 3.3 3.7 .4 8.7 2.9 2.8 .2 8.3 6.5 7 .4 4.9 2.9 2.8 .2 8.1 3.2 3.3 .3 12.4 2.3 2.4 4.2 .6 3.2 3.5-3.3 5.7 0 9.5 2.2 3.1 4.4 .9 .1 11 3.2 3.7 0 16.8-3.3 4.2 0 21.5-5.8 2.2-.9 12.6-5.5 1.9-1.1 5.5-20.1 0-.8-16.3-5.8-2.2-.9-5.2-13.9-15.6-5.3-1.4-.3-8.1-6.3-6.6-.6-5.1-2.5-2.3-3.6-.3-.4-8.2-2.9-2.8-.3-4.2-3.1-3.3-.6-5.2-2.7-2.3-.4-12.3-2.3-2.5-4-.6 3-4.4 .4-4.8 3.3-4.2 0-20.1-3.3-4.2-.6-5.3-3.5-2.5zM398.4 398l-3.4 4-1.1 4 .4 4 1.7 3.2 2 1.8 4 1.6 10 .7 2.9-1.3 1.5-2 .6-4-1-6-2.3-4-3.7-2.8-4-1.3-4 .2zM450.3 583.3l-17.1-21.3-3.2-6-3.3-10-2.1-14-.6-8 .9-18 2.4-12-.5-8-1.3-10-2.1-8-2.9-6-2.5-3-3.8-3-4.2-1.6-8-.3-6-.9-8-2.1-13.5-5.1-2.5-.5-4 .1-4 1.2-4 2.5-4.7 4.7-6.1 8-1.2 .8-6-1.1-4-2-6-5.1-2-1-4-.4-4 2.2-2.2 2.6-1 2-1.1 6-1.5 4-2.2 2.3-2 1-6 1.9-6 1-14-1.6-4-1-2.9-1.6-4.5-4-10.6-13.4-14.6-28.6-5-16-5.9-16-.5-4 1.2-10-.4-6-1.9-8-5.5-11.8 0 7.6-10.2 .4-6.3 7.3-.1 31 3.3 5.8-3.3 4.2 0 50.4-3.2 3.2-.1 6.1 3.3 3.7 0 10.3 3.3 4.2 .4 11.6 6.3 6.4 .4 18.7 2.2 2.5 4.3 .6 3.1 3.3 .4 4.3 6.3 6.4 .8 5.2 4.7 5 4.5 .8 .8 4.9 5.8 5.5 .2 7.4 3.2 3.3 .8 12.2 6.1 2.2 6.4 6.8 .2 7.4 2.5 2.9 27.3 .6 1.9 5.9 5 1.2 5 5.9 5 1.1 3.4 3.3 9.5 0 3.4-3.3 13.3-.2 6.7-6.8 16.2-.1 3.8-3.5 4.7-.8 2-2.7 12.8-.1 3.9-3.4 6.9 0 .8 4.8 5.6 5.4 8.4-.8 1.8-3.3 0-9.9 6.5-6.8 6.7-.2 3.3-3.4 4.2-.6zM298 558.2l.7 1.8-2 2-2.7-.4-2.2-1.6 2.2-2.1 2-.5zM235 267.6l7-.3 6 1.1 4 0 8-2.2 10-1.4 10-3.2 10-1.8 10-3.8 10-5.5 16-7.5 10-5.8 6-2.5 4-1.1 4 .7 2 1.3 6 7.7 4 3.5 6 3 8 2.1 6 .5 14 0 14-.7 16 1.5 8-.8 12-2.5 4-.1 6 1.7 16 7 10 2.8 6 .7 8 .1 6-.7 6.1-1.4 9.9-3.8 2.1-2.2-.7-18 3.1-14 1.4-18-.7-8-4.1-16-1.1-3.3-6.5 0-2.9-3.5-6.3-.3-7.1 7.3-.2 15.8-4.9 1.1-5.1 7.7 .1 4.8 1.7 2.9 8.3 1.1 2.5 3.3 4.1 .6 0 9.1-3.5 0-5-6.5-5-1.1-4.4-3.8-9.5 .5-5.9 7.1-23.6 0-1.7-2.7-5-1.1-3.2-3.6-1.4-6.5-5.4-1.4-4.3-3.8-8.7 .2-3.4 3.6-27 0-7.2-7.6-27.6-.1-3.2 1.1-1.7 2.7-12.3 .1-4.4 3.8-14.1 .6-5.4 5.9-.6 5.3-9.2 9.5-.8 5.5-13.6 .3-3 3.5-5 1.1-1.6 2.7-4.6 .8-2.1 3-7.1 .3-2.9 3.5-5 1.1-1.7 2.7-4.6 .8-2 2.7-.2 4.3-3.2 3.5-5 1.2zM360 208l0 0 0 0zM743.1 636l.8-2-1.9-1.6-2-.1-1.4 1.7 1.4 2.5 2 .1zM710 647.8l0 .4 .1-.2z"/>
<path fill="#60ff9f" d="M708.4 222.9l.6 9.1-1 10 3.3 12 .4 4-.2 4-1.5 5.7-2.2 4.3-3.4 4-4.4 3.1-6.1 2.9-7.9 2.6-34 7.4-28 8.4-4 .3-4-.7-16-5.1-6-3-4-1.3-4 .4-2 1.1-4 3.9-1.2 2-.8 4 .4 4 1.5 4 2.1 3.3 2 2.1 6.9 4.6 6.3 8 3.6 6 2.9 8 2.4 10 .4 8-1 4-1.2 2-2.3 2.2-4 2.3-12 4.3-20 5.4-18 0-16 2.4-18 1.7-4 0-10-1.6-4 .1-16 1.7-4 1-4 2.2-2.8 2.3-5.1 6-5.4 8-2.1 4-1.2 4-.3 4 .7 4 3.3 10 1.8 4 2.9 4 2 2 6.1 4 16.1 8.3 20 15.2 10 9.1 4 4.8 4 6.2 2.4 4.4 4.8 11.1 38.7 0 6.5 6.9 0 19.2 9.6 .2 6 2.2 8 .2 12 5.2 3.1 3 4.4 8 12.5 11.4 12.7 16.6 5.3 5.5 10 9.1 6.2 7.4 3.8 3 10 3.4 17.5 11.6 4.5 1.5 4-.2 10-2.6 6 0 18 4.5 10 3.7 4 .2 12-1.1 4-1.1 12-5.8 2-.4 4 .5 4 2.2 4 3.6 7.9 13 2.1 2.2 4 3 6 2.9 6 1.5 8 .5 6-.9 2-.8 2-1.9 11.2-14.5 2.8-3.1 1.6-.9 16.4-4.2 20-3.3 14-4.3 2-.8 1.8-1.4 .8-2-.8-2-5.8-2.4-1.5-1.6-1-2-.8-4 .1-10-.6-12 1.1-4 1.3-2 3.4-2.9 2-.8 4-.5 4 .5 4 1.2 4.3 2.5 9.7 7.4 4 2 4 1.2 6 .6 12-1.3 6.6 .8-.3-329.9-12.3-2.6-4 0-6 1.7-9.9 6.1-2.1 .6-2-.5-6-3.3-2-.5-4 .2-8-2.7-12-1.6-8.1-4.2-7.9-1.1-4-1.1-10.2-5.8-2.6-2-8.2-10-5-7-4-3.3-2-.7-2 0-10 2.5-8 .5-16-3.1-6-2.5-6-4.7-3.5-3.7-8.5-14.1-1.7-3.9-1.9-12-1.5-4-3.4-6-.5-2 .7-8-.5-4-.7-2-2.8-4-10-8.7-.5 8.5-4 .6-2.5 2.9-.1 25.8 3.3 3.8 .1 15.6 3.2 3.7 .6 5.4 2.7 2.4 .1 7.8 3.3 3.7 .4 8.7 2.9 2.8 .2 8.3 6.5 7 .4 4.9 2.9 2.8 .2 8.1 3.2 3.3 .3 12.4 2.3 2.4 4.2 .6 3.2 3.5-3.3 5.7 0 9.5 2.2 3.1 4.4 .9 .1 11 3.2 3.7 0 16.8-3.3 4.2 0 21.5-5.8 2.2-.9 12.6-5.5 1.9-1.1 5.5-20.1 0-.8-16.3-5.8-2.2-.9-5.2-13.9-15.6-5.3-1.4-.3-8.1-6.3-6.6-.6-5.1-2.5-2.3-3.6-.3-.4-8.2-2.9-2.8-.3-4.2-3.1-3.3-.6-5.2-2.7-2.3-.4-12.3-2.3-2.5-4-.6 3-4.4 .4-4.8 3.3-4.2 0-20.1-3.3-4.2-.6-5.3-3.5-2.5zM396 401.4l-1.2 2.6-.3 4 1.5 4 2 2.1 4 1.8 8 .7 2.7-.6 2.5-2 1.2-4-.9-6-2.4-4-2.5-2-4.6-1.7-4 .3-4 2.3zM448.7 585l-16.7-22.3-2.5-4.7-2.9-8-1.8-8-1.9-16 .4-10-.2-10 .6-10-.4-6-1.8-8-3.4-10-2.7-6-3.4-4.6-4.9-3.4-19.1-6-12-5-4-.9-4 0-4 1.2-4 2.5-4.2 4.2-6.4 8-1.4 .9-6.4-.9-3.6-1.9-6-5.1-4-1.5-2 .1-2 .8-2 1.5-1.8 2.1-1 2-1.1 6-1.5 4-2.6 2.6-2 1-6 2-6 1-14-1.5-6-1.9-6.3-5.2-9.7-12.3-2.3-3.7-3.6-8-6.1-10.9-3.4-7.1-10.7-32-.6-4 1.1-10-.4-6-2.5-10-4.1-8.3 0 6.1-10.2 .4-6.3 7.3-.1 31 3.3 5.8-3.3 4.2 0 50.4-3.2 3.2-.1 6.1 3.3 3.7 0 10.3 3.3 4.2 .4 11.6 6.3 6.4 .4 18.7 2.2 2.5 4.3 .6 3.1 3.3 .4 4.3 6.3 6.4 .8 5.2 4.7 5 4.5 .8 .8 4.9 5.8 5.5 .2 7.4 3.2 3.3 .8 12.2 6.1 2.2 6.4 6.8 .2 7.4 2.5 2.9 27.3 .6 1.9 5.9 5 1.2 5 5.9 5 1.1 3.4 3.3 9.5 0 3.4-3.3 13.3-.2 6.7-6.8 16.2-.1 3.8-3.5 4.7-.8 2-2.7 12.8-.1 3.9-3.4 6.9 0 .8 4.8 5.6 5.4 8.4-.8 1.8-3.3 0-9.9 6.5-6.8 6.7-.2 3.3-3.4 4.2-.6zM300 557.9l.5 2.1-1 2-1.5 .9-2 .4-2-.5-2-1.3-.7-1.5 1-2 1.7-1.3 2-.6 2 .3zM362 606l0 0 0 0zM236 266.6l4-.1 8 1.5 4 0 8-2.3 10-1.5 10-3.4 8-1.3 10-3.8 12-6.5 14-6.4 12-6.5 10-3.2 4 .6 2 1.2 6 7.2 6 4.7 6 2.5 6 1.4 6 .5 16 .2 12-.5 16 1.3 8-.8 12-2.4 4-.1 6 1.6 18 7.5 8 2.2 10 1 6-.4 6-1.1 10-3.4 4-2.6 .5-3.7 .1-14 2.8-12 1.6-14 .2-8-1.1-8-3.6-12-2.4-5.3-4.6 0-2.9-3.5-6.3-.3-7.1 7.3-.2 15.8-4.9 1.1-5.1 7.7 .1 4.8 1.7 2.9 8.3 1.1 2.5 3.3 4.1 .6 0 9.1-3.5 0-5-6.5-5-1.1-4.4-3.8-9.5 .5-5.9 7.1-23.6 0-1.7-2.7-5-1.1-3.2-3.6-1.4-6.5-5.4-1.4-4.3-3.8-8.7 .2-3.4 3.6-27 0-7.2-7.6-27.6-.1-3.2 1.1-1.7 2.7-12.3 .1-4.4 3.8-14.1 .6-5.4 5.9-.6 5.3-9.2 9.5-.8 5.5-13.6 .3-3 3.5-5 1.1-1.6 2.7-4.6 .8-2.1 3-7.1 .3-2.9 3.5-5 1.1-1.7 2.7-4.6 .8-2 2.7-.2 4.3-3.2 3.5-5 1.2zM358.9 208l1.1-1.6 1 1.6-1 .8zM740.5 634l-.7 0 .2 .4z"/>
<path fill="#69ff96" d="M709.6 222.9l.5 9.1-1.3 10 3.6 12 .5 4-.4 6-2 6-2.4 4-3.9 4-4.2 2.7-6 2.7-6 2-36 7.6-26 8.4-4 .8-2 .1-4-.8-16-5.8-6-3-4-1.3-4 .4-2 1.1-3.2 3.1-1.1 2-.8 4 .5 4 1.7 4 3.1 4 8.2 6 7.1 8 2.6 4 1.9 4.7 3.3 13.3 .6 8-1.2 6-2.7 4-4 2.7-8.3 3.3-11.7 3.7-14 3.5-8 .1-8-.5-16 2.2-20 1.9-4-.1-10-1.5-4 .1-16 1.8-4 1.2-5.2 3.6-3.5 4-5.3 8-3.6 8-.3 4 .8 4 4 10 2.3 4 2.8 3.2 4 3.1 12 6.2 6 3.7 18 15 8 7.6 6 6.8 4 5.9 4.7 8.5 4.9 11.1 36.3 0 6.5 6.9 0 16.5 5.6 0 6-.8 2.4 2.3 3.6 1.6 20 2.2 2 .6 2 1.3 2 2.5 5.6 11.8 8.4 9.4 10 14.4 6 6.3 11.2 9.9 6.9 8 2.6 2 9.3 4.2 8 5 5.9 2.8 4 4 2.1 1.3 2 .6 4-.3 10-2.6 4-.1 6 1.1 10 3.1 14 3.4 14 .2 8-1.7 6.1-3 3.9-2.7 2-.7 2 0 4.4 1.4 5.6 4.2 3.1 3.8 5.6 10 1.8 2 3.5 2.7 4 1.8 6 1.8 6 .7 6-.2 4-.8 2-1.3 12.9-14.7 3.1-3 16-4.1 20-3.6 6-2.2 8-4.7 4 .1 .4-.5-.4-.8-4 .3-2-1.9-2-3.7-1.2-5.9 .5-10-.3-10 .5-4 2.5-4.5 4-3.3 2-.8 4-.5 4 .3 3.5 .8 4.5 2 12 7.8 4 1.7 4 1 4 .4 12-.5 6.6 .6-.3-327.7-12.3-2.7-4-.1-5.2 1.5-10.2 6-2.6 .8-2-.5-6-3.3-2-.5-4 .2-8-2.7-12-1.6-8.6-4.4-7.4-.9-4-1.1-10.6-6-2.5-2-8.2-10-4.7-6.6-4-3.4-2-.6-2-.1-10 2.6-8 .5-16-3.1-6-2.4-6-4.7-4-4.2-9.4-16-1.1-4-1.6-10-1.5-4-3.2-6-.6-2 .5-10-1.1-4-4-4.9-8.6-7-.2 7.7-4 .6-2.5 2.9-.1 25.8 3.3 3.8 .1 15.6 3.2 3.7 .6 5.4 2.7 2.4 .1 7.8 3.3 3.7 .4 8.7 2.9 2.8 .2 8.3 6.5 7 .4 4.9 2.9 2.8 .2 8.1 3.2 3.3 .3 12.4 2.3 2.4 4.2 .6 3.2 3.5-3.3 5.7 0 9.5 2.2 3.1 4.4 .9 .1 11 3.2 3.7 0 16.8-3.3 4.2 0 21.5-5.8 2.2-.9 12.6-5.5 1.9-1.1 5.5-20.1 0-.8-16.3-5.8-2.2-.9-5.2-13.9-15.6-5.3-1.4-.3-8.1-6.3-6.6-.6-5.1-2.5-2.3-3.6-.3-.4-8.2-2.9-2.8-.3-4.2-3.1-3.3-.6-5.2-2.7-2.3-.4-12.3-2.3-2.5-4-.6 3-4.4 .4-4.8 3.3-4.2 0-20.1-3.3-4.2-.6-5.3-3.5-2.5zM396.1 402l-1.1 4 .7 4 2.3 3.2 2 1.4 4 1 6 .2 2-.4 2-1.3 1.3-2.1 .6-4-.8-4-2.6-4-2.5-1.9-4-1.4-4 .4-4 2.4zM447 586.7l-15.8-22.7-3-6-2.2-6-2-8-2.1-16-.2-6 .5-6-2.4-24-2.3-8-6.7-16-2.4-4-1.7-2-5.9-4-24.8-10.4-4-1.1-4 .1-4 1.2-4 2.5-3.6 3.7-6.7 8-1.7 1.1-4-.1-4-1.3-4-2.7-4-3.7-2-1.1-2-.4-2 .2-2 .7-2 1.6-2.3 3.7-1.2 6-1.6 4-2.9 3-6 2.5-6 1.4-4 .1-12-1.4-6-1.9-2.8-1.7-4.3-4-9.5-12-12.8-24-2.6-5.7-10.8-32.3-.5-4 1-10-.1-4-2.1-10-3.5-7.8-.6-1 0 4.6-10.2 .4-6.3 7.3-.1 31 3.3 5.8-3.3 4.2 0 50.4-3.2 3.2-.1 6.1 3.3 3.7 0 10.3 3.3 4.2 .4 11.6 6.3 6.4 .4 18.7 2.2 2.5 4.3 .6 3.1 3.3 .4 4.3 6.3 6.4 .8 5.2 4.7 5 4.5 .8 .8 4.9 5.8 5.5 .2 7.4 3.2 3.3 .8 12.2 6.1 2.2 6.4 6.8 .2 7.4 2.5 2.9 27.3 .6 1.9 5.9 5 1.2 5 5.9 5 1.1 3.4 3.3 9.5 0 3.4-3.3 13.3-.2 6.7-6.8 16.2-.1 3.8-3.5 4.7-.8 2-2.7 12.8-.1 3.9-3.4 6.9 0 .8 4.8 5.6 5.4 8.4-.8 1.8-3.3 0-9.9 6.5-6.8 6.7-.2 3.3-3.4 4.2-.6zM300 555.6l2.3 2.4 .2 2-.8 2-1.7 1.4-2 .9-2 .1-2-.5-2-1.4-1.3-2.5 1.3-3 2-1.5 2-.6 2 0zM365.4 606l.2 2-1.3 2-2.3 .2-2-1.5-.8-2.7 1-2 1.8-.8 2.2 .8zM236.6 265.8l5.4 .4 6 1.4 4 0 8-2.3 10-1.8 10-3.5 4-.3 4-1 10-4.1 10-5.7 14-6.4 12-6.2 8-2.8 4-1 4 .6 2 1.1 6 6.8 6 4.6 6 2.5 6 1.5 6 .5 16 .3 12-.3 16 1.1 8-.8 12-2.3 4 0 6 1.4 18 7.2 10 2.8 6 .7 4-.1 10-1.7 7.1-2.4 3.6-2 1.7-2 .6-2 .7-14 3.2-14 1.4-12 .2-8-1.1-8-3.4-10.5-2-4.1-1.9-2.7-2.6 0-2.9-3.5-6.3-.3-7.1 7.3-.2 15.8-4.9 1.1-5.1 7.7 .1 4.8 1.7 2.9 8.3 1.1 2.5 3.3 4.1 .6 0 9.1-3.5 0-5-6.5-5-1.1-4.4-3.8-9.5 .5-5.9 7.1-23.6 0-1.7-2.7-5-1.1-3.2-3.6-1.4-6.5-5.4-1.4-4.3-3.8-8.7 .2-3.4 3.6-27 0-7.2-7.6-27.6-.1-3.2 1.1-1.7 2.7-12.3 .1-4.4 3.8-14.1 .6-5.4 5.9-.6 5.3-9.2 9.5-.8 5.5-13.6 .3-3 3.5-5 1.1-1.6 2.7-4.6 .8-2.1 3-7.1 .3-2.9 3.5-5 1.1-1.7 2.7-4.6 .8-2 2.7-.2 4.3-3.2 3.5zM361.9 208l-1.9 1.5-2.2-1.5 .1-2 2.1-1.3 1.7 1.3z"/>
<path fill="#71ff8e" d="M710.9 222.9l.2 11.1-1.5 8 4 12 .6 6-.8 6 1.4-2 .4-4.8 3.3-4.2 0-20.1-3.3-4.2-.6-5.3zM712.6 268.5l-2.7 5.5-3.9 4.3-5.6 3.7-6.4 2.8-8 2.4-34 6.8-26 8.9-4 1-2 0-4-.9-26-10.9-4 .4-2 1.1-2.3 2.4-1.7 4 0 4 1.2 4 2.7 4 2 2 6.1 4.4 10.1 9.6 1.9 2.9 1.8 5.1 2.6 12 .9 8-.6 6-1.7 4-1.5 2-3.5 2.8-8 3.5-14 4.5-14 3.3-8 0-8-.6-14 1.9-22 2.1-4-.1-8-1.4-4-.2-18 2.2-4 1.3-3.7 2.7-4.9 6-4.3 8-2.2 6 0 4 1.2 4 4.9 10 3 3.5 4 3.2 11.1 5.3 4.9 3.4 18 15.3 6 5.8 8 9.1 4 5.7 12 23.8 33.9 0 6.5 6.9 0 14 11.6 .4 4 2.6 4 1.3 12-.2 4-.7 6-1.9 1.5 .5 2.5 1.7 2 2.3 2 4 3.5 12 6.5 9 6.5 11 3.5 4.7 6 5.9 11 9.4 9 9.3 16 9.6 4 1.8 5.3 1.3 1.4 4 1.3 1.5 2 1 2 0 10-2.9 4-.5 8 1.5 12 3.9 14 2.1 14 .5 4-.5 4-1.3 5.3-3.3 2.7-3.4 2-.4 2 .3 6 2.1 4 3.1 3.8 4.3 6.2 10.6 2 2.3 2 1.4 4 1.6 6 1.4 6 .6 6-.4 4-1.4 2-1.4 12.8-12.7 3.2-2.4 16-4 18-3.3 4-1.4 4.3-2.9 1.4-2 .5-2-1.3-10 1-10 .1-10 .5-4 2.1-4 1.4-1.7 4-2.9 6-1.5 4 .2 4 .8 6 2.6 10 6 8 2.8 6 .7 10-.1 6.6 .4-.3-325.4-12.3-2.9-4-.1-4.4 1.1-10.4 6-3.2 .9-2-.3-6-3.4-2-.6-4 .3-8.7-2.9-11.3-1.4-9.1-4.6-6.9-.6-4-1.1-11-6.3-2.4-2-8.2-10-4.1-6-2.3-2.4-2-1.3-4-.6-10 2.6-8 .5-16-3-6-2.5-6-4.5-4-4.2-8.8-14.6-1.6-4-2.1-12-4.7-10-.5-2 .5-8-.8-4.6-1.9-3.4-1.9-2-8.8-6.9-.2 6.7-4 .6-2.5 2.9-.1 25.8 3.3 3.8 .1 15.6 3.2 3.7 .6 5.4 2.7 2.4 .1 7.8 3.3 3.7 .4 8.7 2.9 2.8 .2 8.3 6.5 7 .4 4.9 2.9 2.8 .2 8.1 3.2 3.3 .3 12.4 2.3 2.4 4.2 .6 3.2 3.5-3.3 5.7 0 9.5 2.2 3.1 4.4 .9 .1 11 3.2 3.7 0 16.8-3.3 4.2 0 21.5-5.8 2.2-.9 12.6-5.5 1.9-1.1 5.5-20.1 0-.8-16.3-5.8-2.2-.9-5.2-13.9-15.6-5.3-1.4-.3-8.1-6.3-6.6-.6-5.1-2.5-2.3-3.6-.3-.4-8.2-2.9-2.8-.3-4.2-3.1-3.3-.6-5.2-2.7-2.3-.4-12.3-2.3-2.5zM400 398.5l-3.3 3.5-1.2 4 .9 4 1.6 2.3 4 2.3 6 .6 4-.7 2-1.7 1.2-2.8 0-4-1.2-3.4-2-2.6-4-2.3-4-.6zM445.1 588l-7.2-12-7.9-11.3-2.4-4.7-2.2-6-2.7-10-.6-8-1.7-10 .6-10-3.8-20-2.4-8-5.4-12-2.7-8-2.4-4-1.7-2-5.5-4-21.1-9.9-4-1.1-4 .1-4 1.2-4 2.6-10.1 11.1-1.9 1.2-4 .1-4-1.1-4-2.8-4-3.7-2-1.2-4-.2-2 .8-2.9 2.9-1 2-1.2 6-1.7 4-3.2 3.3-6 2.6-6 1.4-4 .1-12.2-1.4-6.5-2-3.3-2.2-4-3.8-9.3-12-14.8-28-11.4-34-.5-4 1-10-.1-4-2.1-10-2.8-6.5-.6-1 0 3.3-10.2 .4-6.3 7.3-.1 31 3.3 5.8-3.3 4.2 0 50.4-3.2 3.2-.1 6.1 3.3 3.7 0 10.3 3.3 4.2 .4 11.6 6.3 6.4 .4 18.7 2.2 2.5 4.3 .6 3.1 3.3 .4 4.3 6.3 6.4 .8 5.2 4.7 5 4.5 .8 .8 4.9 5.8 5.5 .2 7.4 3.2 3.3 .8 12.2 6.1 2.2 6.4 6.8 .2 7.4 2.5 2.9 27.3 .6 1.9 5.9 5 1.2 5 5.9 5 1.1 3.4 3.3 9.5 0 3.4-3.3 13.3-.2 6.7-6.8 2.4 0-2.9-3.5-.5-2 .1-2 .9-2.1 2-1.8 2-.5 2 .4 2 1.4 2.2 2.6 1.5 4-.2 2-.9 1.4 5.6 0 3.8-3.5 4.7-.8 2-2.7 12.8-.1 3.9-3.4 6.9 0 .8 4.8 5.6 5.4 8.4-.8 1.8-3.3 0-9.9 6.5-6.8 6.7-.2 3.3-3.4zM300.3 554l3.1 2 1.1 2 .1 2-.7 2-1.9 2-4 1.4-4-.6-2-1.2-1.2-1.6-.7-2 .4-2 1.5-2.2 2-1.4 2-.6zM239.3 265.2l8.7 2 4 0 6-1.9 12-2.4 6-1.9 4-1.8 2 .1 4-.8 10-4.1 12-6.8 24.6-11.6 13.4-4.1 4 .5 2 1.1 8 8.3 4 2.7 6 2.5 6 1.4 22 1 12-.1 16 1 8-.8 10-2 6-.3 6 1.4 18 6.9 10 2.9 8 .8 10-1.6 5.2-1.6 4.4-2 2.5-2 1.1-2 .9-4 .6-10 3.3-13.1 1.3-8.9 .5-12-1.1-8-2.7-8-2-4.2-2-2.9-6-5.7-5.7-.3-7.1 7.3-.2 15.8-4.9 1.1-5.1 7.7 .1 4.8 1.7 2.9 8.3 1.1 2.5 3.3 4.1 .6 0 9.1-3.5 0-5-6.5-5-1.1-4.4-3.8-9.5 .5-5.9 7.1-23.6 0-1.7-2.7-5-1.1-3.2-3.6-1.4-6.5-5.4-1.4-4.3-3.8-8.7 .2-3.4 3.6-27 0-7.2-7.6-27.6-.1-3.2 1.1-1.7 2.7-12.3 .1-4.4 3.8-14.1 .6-5.4 5.9-.6 5.3-9.2 9.5-.8 5.5-13.6 .3-3 3.5-5 1.1-1.6 2.7-4.6 .8-2.1 3-7.1 .3-2.9 3.5-5 1.1-1.7 2.7-4.6 .8-2 2.7-.2 4.3-3.2 3.5zM362.2 204l.9 2-.2 2-.9 1.2-2 1-2-.6-1.4-1.6-.2-2 1-2 .6-.6 2-.5z"/>
<path fill="#7aff85" d="M712.3 224l-.1 10-1.7 8 3.9 10 1 6.8 3.1-3.8 0-20.1-3.3-4.2-.6-5.3zM714 269l-2.3 5-3.7 4.5-4.7 3.5-7.3 3.5-10 3.1-20 3.4-14 3-14 4.6-16 6.1-2 .2-4-1.1-8-4.2-10-3.9-6-3.2-4-.8-3.4 1.3-2.1 2-1.6 4 .1 4 1.4 4 3.6 4.6 12 9.6 5.4 3.8 1.8 2 1.7 4 3.1 16 .6 8-.7 6-1.5 4-1.3 2-2 2-2.9 2-6.2 2.7-16 5.1-14 3.2-8 0-8-.7-13.4 1.7-22.6 2.1-16-1.7-16 2-4 .9-4.2 2.7-3.5 4-3.5 6-2.4 6-.8 4 .2 4 1.2 4 3 5.8 4 5 4 3 12 5.1 26 23.1 8 9.5 4.7 6.5 3.3 6.1 7.3 15.9 3.2 5.1 31.4 0 6.5 6.9 0 11.6 11.6 1.3 6 3.5 2 .6 4-.1 5.2-.9 12.8-4 4.3 0 5.1 2 2 2 1.1 2 3 14 1.4 4 9.2 18 2.5 4 7.4 7.2 11 8.8 7 7.7 2.7 2.3 15.3 9.9 4 1.4 4.1 .7 1.6 2 .9 4 1.4 1.1 10-2.8 6-.9 10 2.4 10 3.6 26 2.3 6-.2 4-1 2-1 1.9-1.5 1.4-2 .3-2-.8-2-.8-.5-.7-1.5 .7-1.2 3 1.2 1 1.1 10 3.3 4 2.8 5.8 6.8 6 10 2.2 2.1 4 1.2 6 1 6 .5 4-.2 4-1 4-2.1 13.2-11.5 2.8-1.6 14-3.7 20-4 2-.8 3-1.9 1.5-2 .7-2-.3-10 1.8-10 .7-14 2.2-4 1.6-2 4.8-3.5 6-1.5 6 .2 6 1.8 14 7.3 6 2 6 .8 16.6 .6-.3-323.3-12.3-3.1-4-.1-4 1-10.2 5.8-3.8 1.1-2-.3-6-3.4-2-.6-4 .3-10-3.2-10-1-9.7-4.9-6.3-.4-4-1-11.4-6.6-2.3-2-6.6-8-5.7-8-2-2.1-2-1.3-4-.5-10 2.6-8 .5-16-3-6-2.4-6-4.4-4-4.2-9.2-15.2-1.6-4-2.2-12-4.6-10-.4-2 .4-8-.6-4-1.8-3.3-2-2.2-8.6-6.4-.2 5.7-4 .6-2.5 2.9-.1 25.8 3.3 3.8 .1 15.6 3.2 3.7 .6 5.4 2.7 2.4 .1 7.8 3.3 3.7 .4 8.7 2.9 2.8 .2 8.3 6.5 7 .4 4.9 2.9 2.8 .2 8.1 3.2 3.3 .3 12.4 2.3 2.4 4.2 .6 3.2 3.5-3.3 5.7 0 9.5 2.2 3.1 4.4 .9 .1 11 3.2 3.7 0 16.8-3.3 4.2 0 21.5-5.8 2.2-.9 12.6-5.5 1.9-1.1 5.5-20.1 0-.8-16.3-5.8-2.2-.9-5.2-13.9-15.6-5.3-1.4-.3-8.1-6.3-6.6-.6-5.1-2.5-2.3-3.6-.3-.4-8.2-2.9-2.8-.3-4.2-3.1-3.3-.6-5.2-2.7-2.3-.4-12.3-2.3-2.5zM398.8 400l-1.6 2-1.1 4 .9 4 1.6 2 3.4 2 6 .6 4-1 1.7-1.6 .9-2 .2-4-1.6-4-1.9-2-3.3-1.9-4-.5-2 .4zM442.7 588.5l-6.8-12.5-6.9-10-3.6-8-2.6-8-1.3-6-.4-8-2-10 0-6 .6-4-4.4-16-3.5-10-5.8-14-2.5-8-2.2-4-1.7-2-5.1-4-18.5-9.3-4-1.2-4 0-4 1.3-4 2.6-9.8 10.6-2.2 1.4-4 .2-4-1-4-2.9-4-3.7-2-1.2-2-.4-2 .2-2 .9-2.5 2.5-1.1 2-1 6-1.9 4-1.5 1.9-4 2.9-6 2.2-4 .7-6 0-12-1.5-5.8-2.2-2.9-2-3.3-3.1-10-12.8-6-11.8-6-10.3-2.8-6-11.2-33.3-.6-4.7 .9-10-.1-4-2-10-2.2-5.2-.6-1 0 2-10.2 .4-6.3 7.3-.1 31 3.3 5.8-3.3 4.2 0 50.4-3.2 3.2-.1 6.1 3.3 3.7 0 10.3 3.3 4.2 .4 11.6 6.3 6.4 .4 18.7 2.2 2.5 4.3 .6 3.1 3.3 .4 4.3 6.3 6.4 .8 5.2 4.7 5 4.5 .8 .8 4.9 5.8 5.5 .2 7.4 3.2 3.3 .8 12.2 6.1 2.2 6.4 6.8 .2 7.4 2.5 2.9 27.3 .6 1.9 5.9 5 1.2 5 5.9 5 1.1 3.4 3.3 9.5 0 3.4-3.3 13.3-.2 5.8-5.9-2.3-4.4 .1-4 .8-2 2.3-2.6 2-1 2-.3 4 1.2 3.4 2.7 3.6 4 2.6 4.1 2.4-2.2 4.7-.8 2-2.7 12.8-.1 3.9-3.4 6.9 0 .8 4.8 5.6 5.4 8.4-.8 1.8-3.3 0-9.9 6.5-6.8 6.7-.2 3.3-3.4zM300 552.5l4 1.4 2.2 2.1 .7 2 .1 2-.7 2-1.6 2-3.6 2-3.1 .5-4-.7-2-1.2-2-2.6-.5-2 .5-2.6 2-2.7 2-1.4 2-.7zM241.1 264.7l6.9 2.1 2 .3 2-.3 6-1.9 13-2.9 7-2.4 2-1.2 2 .3 4-.9 8.6-3.8 13.4-7.7 22.4-10.3 5.6-2.1 10-2.6 4 .5 2 1 8 8 4 2.6 6 2.5 6 1.4 6 .6 8-.4 8 .9 12 .1 14 .9 8-.5 12-2.4 6-.2 6 1.3 20 7.3 10 2.9 6 .4 8-1.4 6-1.8 4-1.9 2-1.5 2.3-3.6 1.5-12 3.6-14 1.3-8 .4-12-1.1-8-2.9-8-3.1-5.1-4-3.4-4-2.2-1.9-2.3-1.8-.1-7.1 7.3-.2 15.8-4.9 1.1-5.1 7.7 .1 4.8 1.7 2.9 8.3 1.1 2.5 3.3 4.1 .6 0 9.1-3.5 0-5-6.5-5-1.1-4.4-3.8-9.5 .5-5.9 7.1-23.6 0-1.7-2.7-5-1.1-3.2-3.6-1.4-6.5-5.4-1.4-4.3-3.8-8.7 .2-3.4 3.6-27 0-7.2-7.6-27.6-.1-3.2 1.1-1.7 2.7-12.3 .1-4.4 3.8-14.1 .6-5.4 5.9-.6 5.3-9.2 9.5-.8 5.5-13.6 .3-3 3.5-5 1.1-1.6 2.7-4.6 .8-2.1 3-7.1 .3-2.9 3.5-5 1.1-1.7 2.7-4.6 .8-2 2.7-.2 4.3zM362.5 202l1.5 2.1 .3 1.9-.4 2-1.4 2-2.5 1-3.1-1-1.5-2-.4-2 1-3 2-1.8 2-.3z"/>
<path fill="#82ff7d" d="M713.6 224.7l-.2 9.3-1.8 8 3.5 8 1.6 7.3 1.8-2.3 0-20.1-3.3-4.2-.6-5.3zM715.8 269l-3.6 7-3.6 4-4.6 3.3-8 3.7-10 2.9-20 3.1-14 3-14 4.8-18 7.4-4-1.4-7.6-4.8-10.4-4.4-6-3.3-4-.9-2.2 .6-2.5 2-1.6 4 .2 4 2.1 4.7 4 4.2 10 7.8 4 2.1 4 1.5 2 2.1 3.5 21.6 .5 8-.3 4-1 4-2.7 4.8-4 3.4-8 3.6-14 4.5-14 3.2-8 .4-10-.8-36 3.6-16-1.8-16 2.2-3.6 .9-3.2 2-3.4 4-3.2 6-2 6-.5 4 .4 4 1.4 4 2.1 3.8 4 4.8 4 3 4 1.8 8 2.2 6 6.6 16 13.3 4 4 8 10.3 5.5 8.2 8.8 20 4.8 7.1 28.8 0 6.5 6.9 0 9.3 11.6 1.9 6 3.8 2 .7 6-1 14-5.8 6-1.4 4-.2 4 .5 5.4 2.2 1.3 2 .3 2 .2 12 1.4 8 2.1 6 7 16 10.3 9.4 9 6.6 6.9 8 4.6 4 11.5 8 4 1.7 4 1.1 2 1.1 2 2.9 2 1.4 14-2.6 12 3.3 8 3.4 8 .1 24 2.1 4-.8 2.8-1.7 1.2-2 0-2-1.7-4 1.2-2 2 0 6.5 2.7 6 1.7 4 2.3 10.7 13.3 3.3 6 14 1.6 6 0 4-1 4-1.9 11.1-8.7 4.9-2.7 14-3.9 18-3.8 4.1-1.6 1.9-2 .8-2-.4-8 3.1-12 .8-14 3.8-6 2.1-2 3.8-2.4 6-1.5 4-.1 4 .4 5.2 1.6 12.8 6.3 6 2 8 1.2 14.6 .6-.3-321.2-12.3-3.2-4-.2-4 1.1-9.5 5.4-4.5 1.3-2-.3-5.2-3-2.8-1-4 .2-10-3.2-10-.9-10-5-6-.3-4-.9-11.8-6.9-2.2-2-6.6-8-5.7-8-3.7-3.2-4-.4-10 2.7-8 .6-14-2.5-4-1.1-4-1.8-6-4.4-4-4-2.7-3.9-6.9-12-1.6-4-2.3-12-4.4-10-.5-2 .4-8-.7-4-1.3-2.5-2-2.3-8.7-6.2-.1 4.8-4 .6-2.5 2.9-.1 25.8 3.3 3.8 .1 15.6 3.2 3.7 .6 5.4 2.7 2.4 .1 7.8 3.3 3.7 .4 8.7 2.9 2.8 .2 8.3 6.5 7 .4 4.9 2.9 2.8 .2 8.1 3.2 3.3 .3 12.4 2.3 2.4 4.2 .6 3.2 3.5-3.3 5.7 0 9.5 2.2 3.1 4.4 .9 .1 11 3.2 3.7 0 16.8-3.3 4.2 0 21.5-5.8 2.2-.9 12.6-5.5 1.9-1.1 5.5-20.1 0-.8-16.3-5.8-2.2-.9-5.2-13.9-15.6-5.3-1.4-.3-8.1-6.3-6.6-.6-5.1-2.5-2.3-3.6-.3-.4-8.2-2.9-2.8-.3-4.2-3.1-3.3-.6-5.2-2.7-2.3-.4-12.3zM396.9 404l0 4 .8 2 1.8 2 2.5 1.4 4 .7 4-.4 2-.9 2-2.8 .4-2-.6-4-1.8-2.8-4-2.7-4-.5-2 .5-2.6 1.5-1.7 2zM440.6 589.6l-5.8-11.6-7.5-12-2.6-6-4.3-14-.5-6 .1-4-1.3-4-1-6-.1-10-.5-2-3.1-9.6-11.1-28.4-2-8-2-4-1.6-2-4.9-4-16.4-8.7-4-1.3-4 0-4 1.3-2 1.1-4 3.5-7.4 8.1-2.6 1.6-2 .3-4-.2-2-.7-2-1.2-6.5-5.8-3.5-1.3-2 .2-2 1-2.1 2.1-1.6 4-.5 4-2 4-1.5 2-4.3 3.1-6 2.3-6 .9-4.9-.3-11.1-1.4-6-2.1-6-4.7-10-12.5-6-11.7-6.9-11.6-2.7-6-10.8-32-.8-6 .9-10-.1-4-2-10-1.7-4-.5-.9 0 .7-10.2 .4-6.3 7.3-.1 31 3.3 5.8-3.3 4.2 0 50.4-3.2 3.2-.1 6.1 3.3 3.7 0 10.3 3.3 4.2 .4 11.6 6.3 6.4 .4 18.7 2.2 2.5 4.3 .6 3.1 3.3 .4 4.3 6.3 6.4 .8 5.2 4.7 5 4.5 .8 .8 4.9 5.8 5.5 .2 7.4 3.2 3.3 .8 12.2 6.1 2.2 6.4 6.8 .2 7.4 2.5 2.9 27.3 .6 1.9 5.9 5 1.2 5 5.9 5 1.1 3.4 3.3 9.5 0 3.4-3.3 13.3-.2 3.9-4-1.5-2.3-1.3-4 .4-4 1.2-2.6 2-2.6 2-1.4 2-.7 2-.2 4 1.1 10 6.9 5.6 2.8 1.1-.2 2-2.7 12.8-.1 3.9-3.4 6.9 0 .8 4.8 5.6 5.4 8.4-.8 1.8-3.3 0-9.9 6.5-6.8 6.7-.2zM302 551.3l4 1.5 1.9 1.2 1.5 2 .5 4-.7 2-3.2 3.2-4 1.9-4 .5-2-.2-4-1.9-2-2.1-1.1-3.4 1.1-4.1 2-2.3 2-1.3 4-1.2zM242 264.3l8 2.5 8-2.4 12-2.7 8-2.6 2-1.3 2 .4 2-.5 8.6-3.7 15.4-9 22-9.9 6-2 10-2.5 4 .5 2 .9 2.5 2 5.5 5.8 4 2.5 6 2.5 6 1.4 6 .6 8-.4 8 1.1 26 1 8-.6 12-2.3 6-.2 6 1.2 30 10.2 6 .5 6-1.2 6.6-2.1 4.2-2 3.2-2.8 1.4-3.2 1.4-10 3.9-14 1.3-8 .5-12-1.2-8-2.2-6-3.1-5.3-4-3.5-2-.8-4-.5-1.8-1.9-.7-2.2-6.3 6.4-.2 15.8-4.9 1.1-5.1 7.7 .1 4.8 1.7 2.9 8.3 1.1 2.5 3.3 4.1 .6 0 9.1-3.5 0-5-6.5-5-1.1-4.4-3.8-9.5 .5-5.9 7.1-23.6 0-1.7-2.7-5-1.1-3.2-3.6-1.4-6.5-5.4-1.4-4.3-3.8-8.7 .2-3.4 3.6-27 0-7.2-7.6-14.6-.1 1.9 2.2 .7 4-.5 2-1.3 2-1.7 1.2-2 .6-2-.2-2-1.1-1.9-2.5-.4-2 .1-2 .7-2 2.1-2.2-6.7 0-3.2 1.1-1.7 2.7-12.3 .1-4.4 3.8-14.1 .6-5.4 5.9-.6 5.3-9.2 9.5-.8 5.5-13.6 .3-3 3.5-5 1.1-1.6 2.7-4.6 .8-2.1 3-7.1 .3-2.9 3.5-5 1.1-1.7 2.7-4.6 .8-2 2.7-.2 4.3z"/>
<path fill="#8bff74" d="M715 229.1l-1.7 12.9 3.2 8 1.3 5.8 .7-.8 0-20.1-3.3-4.2zM716.8 270l-4.1 8-4 4-4.7 3-8 3.5-8 2.3-24 3.5-12 2.7-14.1 5-17.9 8.4-2-.2-2-.9-8-6.2-10-4.5-6-3.4-4-1.1-2 .5-2 1.6-1.1 1.8-.4 2 .1 2 1.1 4 2.3 3.5 10 8.3 4 2.5 4 1.1 2-.1 4-1.4 1.7 2.1-.4 10 1.8 18 .1 8-1.2 6.3-1.8 3.7-1.5 2-4.7 3.6-8 3.3-14 4.4-14 3.1-8 .4-10-.9-36 3.4-16-1.8-18 2.7-3.4 1.8-3.4 4-2.1 4-2.1 6-.6 4 .2 4 1.2 4 2.1 4 3.2 4 4.9 3.7 4 1.8 6 1.4 1.5 1.1 6.5 6.6 14.6 11.4 4.4 4 7 9.3 6 8.9 2 3.8 7.3 18 2.7 4.6 3.9 4.5 26 0 6.5 6.9 0 7 11.6 2.4 8 5 2.7-.4 17.3-8.8 6-2 6-.7 10 .8 10-.5 1 1.2-.5 2-4.3 6-1.7 4-.8 4-.3 6 .6 6 1.5 6 2.9 8 3.6 8 5.6 6 12.4 10 9.3 10 7.1 6 7.6 5.3 7.1 2.7 4.9 3 4 .4 10-1.2 14 3.9 6 3.2 6-.6 4 .1 24 2.6 2-.4 1.7-1 1.4-2-.1-2-1.5-4 1-2 1.5-.7 2 .2 14 3.7 2 1 10 12 6 5.7 2 .8 10 1.8 4 .3 4-.4 6-2.1 12-8.3 4-1.9 12-3.5 20-4.7 2-.6 1.8-1.3 .8-2-.1-2-1.8-6 3.3-5.4 1.8-4.6 .8-4 .9-12 2.1-4 2.4-3 2-1.9 4-2.3 6-1.6 8 0 6 1.7 12 5.5 8 2.6 8 1.1 12.6 .5-.3-319.2-12.3-3.3-4-.3-4 1.2-8.9 5-5.1 1.5-2-.2-5.6-3.3-2.4-.9-4 .3-10-3.2-10-.9-10-5.1-6-.2-4-.9-12.1-7.1-2.3-2-6.5-8-5.6-8-3.5-2.9-4-.4-10 2.9-8 .5-6-.7-8-1.7-8-2.9-6-4.3-4-4-3.2-4.5-5.8-10-2.6-6-3-14-3.7-8-.5-4 .4-6-.8-4-2.8-4.1-8.7-6-.1 3.9-4 .6-2.5 2.9-.1 25.8 3.3 3.8 .1 15.6 3.2 3.7 .6 5.4 2.7 2.4 .1 7.8 3.3 3.7 .4 8.7 2.9 2.8 .2 8.3 6.5 7 .4 4.9 2.9 2.8 .2 8.1 3.2 3.3 .3 12.4 2.3 2.4 4.2 .6 3.2 3.5-3.3 5.7 0 9.5 2.2 3.1 4.4 .9 .1 11 3.2 3.7 0 16.8-3.3 4.2 0 21.5-5.8 2.2-.9 12.6-5.5 1.9-1.1 5.5-20.1 0-.8-16.3-5.8-2.2-.9-5.2-13.9-15.6-5.3-1.4-.3-8.1-6.3-6.6-.6-5.1-2.5-2.3-3.6-.3-.4-8.2-2.9-2.8-.3-4.2-3.1-3.3-.6-5.2-2.7-2.3-.4-12.3zM566.1 486l-.2 0 .1-.1zM398 402.5l-.9 3.5 .4 2 1 2 1.5 1.6 2 1.2 4 .7 4-.4 2-1.2 1.4-1.9 .5-2-.5-4-1.4-2.3-2-1.7-2-1-4-.6-2 .5-2 1.1zM438.7 591.4l-5.2-11.4-8-14-2.3-6-4.2-14-.6-10-1.9-8-.8-10-.8-4-2.9-8-5.4-12-6.4-18-1.3-8-2-4-1.6-2-4.7-4-14.6-8.2-4-1.3-4-.1-2 .5-4 2-3.6 3.1-7.5 8-2.9 1.7-2 .5-4-.1-2-.6-2-1.2-7-6.3-3-1-2 .2-2 1.1-2 2.2-1.4 3.5-.4 4-2 4-1.6 2-4.6 3.5-6 2.4-4 .7-4 .1-12-1.3-6-1.4-4-2-6-5.4-8.3-10.6-2.4-4-3.8-8-6.2-10-3.7-8-10.6-32-.8-6 .8-10-.1-4-1.9-10-1.7-4-10.1 .2-6.3 7.3-.1 31 3.3 5.8-3.3 4.2 0 50.4-3.2 3.2-.1 6.1 3.3 3.7 0 10.3 3.3 4.2 .4 11.6 6.3 6.4 .4 18.7 2.2 2.5 4.3 .6 3.1 3.3 .4 4.3 6.3 6.4 .8 5.2 4.7 5 4.5 .8 .8 4.9 5.8 5.5 .2 7.4 3.2 3.3 .8 12.2 6.1 2.2 6.4 6.8 .2 7.4 2.5 2.9 27.3 .6 1.9 5.9 5 1.2 5 5.9 5 1.1 3.4 3.3 9.5 0 3.4-3.3 13.3-.2 2.1-2.2-3-6.1-.3-4 2.6-6 3.3-3.5 2-1.1 2-.5 4 .3 4 1.7 8 4.8 4 1.2 4-.2 6-3.3 .8 .6 .3 4.4 6.4-.1 3.9-3.4 6.9 0 .8 4.8 5.6 5.4 8.4-.8 1.8-3.3 0-9.9 6.5-6.8 6.7-.2zM303.3 550l4.7 1.3 5.6 2.7 2.8 2 .5 2-5.6 6-2.8 2-4.4 2-6.1 .7-4-1-2-1.2-2.4-2.5-1.3-4 .2-2 1.5-3.5 2-2.1 4-2 4-.6zM332 553l.8 1-.3 2-2.5 1.9-2 .2-2-.5-2.4-1.6 1-2 3.3-2 2.1-.2zM242.4 263.8l7.6 2.6 8-2.5 10-2.3 12-4 2 .1 2-.6 6.7-3.1 12.8-8 8.5-4.2 20-8.4 14-3.4 4 .4 2 .9 2 1.3 6 6.4 4 2.3 6 2.4 6 1.4 6 .6 8-.3 8 1.2 26 1.1 8-.7 12-2.4 6-.2 6 1.2 30 10.1 4 .7 4-.5 6.5-1.9 5.5-2.2 4-2.7 2-3 1.8-10.1 4.1-14 1.2-6 .8-10-.7-10-1.2-4-2.9-6-3.1-3.9-2-1.4-4-1.1-4 .7-2.2-4.8-4.6 4.7-.2 15.8-4.9 1.1-5.1 7.7 .1 4.8 1.7 2.9 8.3 1.1 2.5 3.3 4.1 .6 0 9.1-3.5 0-5-6.5-5-1.1-4.4-3.8-9.5 .5-5.9 7.1-23.6 0-1.7-2.7-5-1.1-3.2-3.6-1.4-6.5-5.4-1.4-4.3-3.8-8.7 .2-3.4 3.6-27 0-7.2-7.6-11.8 0 1.2 4.1-.8 4-2.1 2.8-2 1.3-2 .5-3.4-.6-2.6-2-1.2-2-.6-2 .4-4 1.1-2.2-3.8 0-3.2 1.1-1.7 2.7-12.3 .1-4.4 3.8-14.1 .6-5.4 5.9-.6 5.3-9.2 9.5-.8 5.5-13.6 .3-3 3.5-5 1.1-1.6 2.7-4.6 .8-2.1 3-7.1 .3-2.9 3.5-5 1.1-1.7 2.7-4.6 .8-2 2.7-.2 4.3z"/>
<path fill="#94ff6b" d="M716.2 232l-.9 10 3.2 10 0-17.1zM718 271.4l-2 4.6-4 5.3-4 3.2-6 3.1-8 3.2-4 1-26 3.5-12 2.7-14 5.1-16 8.6-4 1.2-2-.3-2-1.6-4.2-5-3.8-2.8-10-4.5-6-3.5-2-.5-2 .5-2.3 2.8-.3 2 .6 3.9 2 3.9 4.4 4.2 5.6 4.5 4 2.4 4 .8 6-1.7 2-.1 1.9 2.1 .3 2-.9 12 1.4 18-.1 6-1.8 8-2.8 4.5-4.3 3.5-9.7 4-14 4.3-14 3-8 .3-10-.7-12 1.1-8 .2-16 1.7-4-.2-8-1.5-4-.1-18 2.9-2.1 1-3.3 4-2 4-1.3 4-.7 4 .1 4 .9 4 1.9 4 3 4 3.5 3 4 2.3 8 3.2 10 8.3 15.4 11.2 1.9 2 9.7 14 3.6 6 6.9 18 2.5 5.2 3.6 4.8 3.5 3.1 22.8 0 6.5 6.9 0 4.7 11.6 2.7 4 2 4 3.4 2.6-.8 17.4-10.8 8-2.5 4-.5 8 1.4 10 .6 2 .6 1.6 1.2 1.1 2 0 2-4.9 12-.7 4-.1 6 .8 6 1.6 6 2.6 7.1 2.3 4.9 3 4 3.9 4 10.8 9 8.4 9 8.8 8 6.8 4.9 10 3.9 4 .6 8-.5 4 .4 14 3.7 2 1 2 2.2 4-1.3 6 .1 12 1.4 12 2.1 2.5-.5 1.7-2-.2-2-1.4-4 .9-2 2.5-1.2 2 .1 16.2 3.1 1.8 1.3 8 10.5 4 3.4 2 1.1 6 1.3 6 2 4 .5 4-.2 6-1.7 9.5-6.2 6.5-3.1 31.5-8.9 2.5-1.2 .4-.8-.4-1.2-1.6-2.8-3.1-4-1.3-.8-.5-1.2 .5-.7 4-.2 2-.8 2.5-2.3 1.5-2.5 1.2-3.5 1.2-12 1.1-4 2.5-4 2-2.2 2.2-1.8 3.8-2.1 6-1.7 8-.1 6 1.3 14 5.9 6 1.9 8 1.3 12.6 .5-.3-317-12.3-3.6-4-.3-4 1.3-8.2 4.6-5.8 1.7-4-1.1-4-2.6-2-.7-4 .3-2-.3-8-3-6-.1-4-.7-10-5.1-6-.1-4-.9-12.5-7.4-2.2-2-7.3-9-4.8-7-3.2-2.7-4-.2-10 2.9-8 .5-12-1.9-6-1.6-4-1.8-6-4.2-4-3.9-3.7-5.1-4.3-7.4-3.3-6.6-3.1-14-4.2-10-.6-4 .3-6-.7-4-2.4-3.4-2-1.7-6.7-4.1-.1 3-4 .6-2.5 2.9-.1 25.8 3.3 3.8 .1 15.6 3.2 3.7 .6 5.4 2.7 2.4 .1 7.8 3.3 3.7 .4 8.7 2.9 2.8 .2 8.3 6.5 7 .4 4.9 2.9 2.8 .2 8.1 3.2 3.3 .3 12.4 2.3 2.4 4.2 .6 3.2 3.5-3.3 5.7 0 9.5 2.2 3.1 4.4 .9 .1 11 3.2 3.7 0 16.8-3.3 4.2 0 21.5-5.8 2.2-.9 12.6-5.5 1.9-1.1 5.5-20.1 0-.8-16.3-5.8-2.2-.9-5.2-13.9-15.6-5.3-1.4-.3-8.1-6.3-6.6-.6-5.1-2.5-2.3-3.6-.3-.4-8.2-2.9-2.8-.3-4.2-3.1-3.3-.6-5.2-2.7-2.3zM566 487.1l-.8-1.1 .8-1.3 1.1 1.3zM583.3 486l-1.3 .6-2 .1-.4-.7 .4-1.2 2-1 .5 .2zM398 403.6l-.4 2.4 .4 2 1.2 2 2.6 2 2.2 .8 4 .1 2-.5 2-1.4 1.5-3 0-2-1.5-3.6-2-1.9-2-1.1-4-.5-2 .5-2 1.2zM436.3 592l-4.2-10-7.4-14-2.5-6-4.7-16-.9-10-4-22-9.1-20-2.7-10-3.1-8 0-4-.6-4-1.9-4-1.6-2-4.6-4-13-7.6-4-1.5-4 0-3.5 1.1-2.5 1.4-3.1 2.6-7.6 8-3.3 1.9-2 .5-4 .1-2-.6-2-1.1-7.6-6.8-2.4-.7-2 .2-2 1.2-2 2.5-1 2.8-.5 4-2 4-1.5 2-5 3.9-6 2.4-6 .8-14-1.2-6-1.3-4-1.9-5.6-4.7-9.5-12-6.1-12-6.3-10-3.7-8-8.8-25.7-1.7-6.3-.7-6 .7-14-1.3-8-1.4-4-1-2.1-9.4 .3-6.3 7.3-.1 31 3.3 5.8-3.3 4.2 0 50.4-3.2 3.2-.1 6.1 3.3 3.7 0 10.3 3.3 4.2 .4 11.6 6.3 6.4 .4 18.7 2.2 2.5 4.3 .6 3.1 3.3 .4 4.3 6.3 6.4 .8 5.2 4.7 5 4.5 .8 .8 4.9 5.8 5.5 .2 7.4 3.2 3.3 .8 12.2 6.1 2.2 6.4 6.8 .2 7.4 2.5 2.9 27.3 .6 1.9 5.9 5 1.2 5 5.9 5 1.1 3.4 3.3 9.5 0 3.4-3.3 13.3-.2 .5-.5-3.6-7.8-.5-2 .2-2 1.7-4 2.4-4 2-2.2 4-2.3 2-.4 4 .5 4 1.6 8 4.5 4 .9 2 0 8-2.3 2.4 1.7 1.5 4.3 3.6 0 3.9-3.4 6.9 0 .8 4.8 5.6 5.4 8.4-.8 1.8-3.3 0-9.9 6.5-6.8zM302 548.5l14 1.9 4-.1 8-1.4 4 .4 2 .8 2.3 1.9 1.1 2 .2 2-.7 2-.9 1-4 2.4-12 1.8-11.3 4.8-4.7 1.5-4 .4-4-.6-4-1.8-3.2-3.5-1.1-4 .3-2.8 1.5-3.2 2.5-2.7 4-2.1zM242.9 263.2l7.1 2.9 30-8.8 2-.1 6.9-3.2 13.1-8.6 8-4 20-8.3 16-3.9 4 .5 2 .8 2.3 1.5 5.7 6.1 4 2.2 6 2.3 6 1.5 6 .6 8-.1 10 1.2 24 1 8-.7 12-2.4 6-.3 6 1.2 32 10.5 4 .1 12-4.1 4-2.4 2.6-2.7 2.1-10 4.5-14 1.2-6 .8-10-.7-10-2.2-6-2.1-4-2.2-2.6-2-1.5-4-1.2-4 .2-1.5-.9-1.9-3.3-3.4 3.5-.2 15.8-4.9 1.1-5.1 7.7 .1 4.8 1.7 2.9 8.3 1.1 2.5 3.3 4.1 .6 0 9.1-3.5 0-5-6.5-5-1.1-4.4-3.8-9.5 .5-5.9 7.1-23.6 0-1.7-2.7-5-1.1-3.2-3.6-1.4-6.5-5.4-1.4-4.3-3.8-8.7 .2-3.4 3.6-27 0-7.2-7.6-9.7 0 .5 4.1-1 4-1.2 2-2.1 2-4 1.5-4-.7-3.5-2.8-1.8-4 .1-4 .7-2.2-1.6 0-3.2 1.1-1.7 2.7-12.3 .1-4.4 3.8-14.1 .6-5.4 5.9-.6 5.3-9.2 9.5-.8 5.5-13.6 .3-3 3.5-5 1.1-1.6 2.7-4.6 .8-2.1 3-7.1 .3-2.9 3.5-5 1.1-1.7 2.7-4.6 .8-2 2.7-.2 4.3z"/>
<path fill="#9cff63" d="M584.6 302l1.4 3.5 2 2.5 8 7.2 4 2.4 4 .6 2-.5 3.4-1.7 1.9-2 .2-2-.6-2-3-4-3.9-2.7-8-3.4-6-4-2-.5-2.2 .6-1.4 2zM717.5 233.7l-.4 8.3 1.4 4.9 0-12zM718.2 275.4l-2.7 4.6-3.5 3.7-4 2.8-4 2.1-10 3.8-4 .9-26 3-6 1-6 1.7-16 6.3-8.1 4.7-9 6-1.5 2-.5 2-1.5 10-.3 8 1.1 16-1.2 10-1.5 4-1.5 2.4-2 2.1-4 2.8-18 6.4-20 4.5-8 .3-10-.7-12 .9-8 0-16 1.8-4-.2-8-1.6-4-.1-10 2.2-8 1-2.7 2.2-1.3 2-1.8 4-1.1 4-.5 4 .3 4 2.1 6 2.8 4 4.2 3.8 12 6.2 20 14.1 7.2 5.9 13.2 20 2.5 6 3.7 12 2.7 6 3 4 5.7 4.4 1.3 .7 18.6 0 6.5 6.9 0 2.3 11.6 2.8 8 3.5 2-.1 6-3 10-7.6 4-1.5 4-.8 6-.6 8 1.8 10 1.4 4.1 1.8 1.7 2 .8 2 .1 2-4 12-.5 4 0 6 .8 6 1.6 6 3.9 10 2.6 4 3.5 4 11.4 10.1 13.4 13.9 6.7 6 2.9 2 3 1.3 8 2.1 12 .3 12 2.8 4 .6 4-.1 4 1.6 20 2.4 10 2.6 2 0 1.5-1.6-2-6 1-2 1.5-1.1 2-.6 2-.1 13.9 1.8 4.1 1.1 6.5 8.9 3.5 3.5 2 1.4 4 1.4 4 .3 8 2.7 4 .3 4-.4 4-1 6.8-4.2 7.2-3.5 10-3.4 14-3.9 3.3-1.2 3.4-2 1-2-.2-2-2.5-6 1-1.5 6-2.1 2.3-2.4 1.1-2 1.2-4 .9-10 1.1-4 2.4-4 3-3.2 6-3.8 8-2 8 .1 6 1.6 12 4.9 8 2.4 8 1.2 10.6 .2-.3-314.9-12.3-3.7-4-.3-4 1.3-8 4.4-6 1.7-4-1-4-2.7-2-.8-6 .1-8-3.1-6 0-4-.6-2-.7-8-4.6-6 0-4-.8-4-2-8.9-5.7-9.1-10.6-5.1-7.4-2.9-2.4-2-.4-2 .2-10 3-8 .5-6-.5-6-1.3-6-1.7-4-1.7-5.4-3.7-4.6-4.3-2.9-3.7-5.1-8.6-3.7-7.4-3.1-14-4.2-10-.5-4 .2-6-.8-4-1.9-2.7-2-1.8-6.7-3.9-.1 2.2-4 .6-2.5 2.9-.1 25.8 3.3 3.8 .1 15.6 3.2 3.7 .6 5.4 2.7 2.4 .1 7.8 3.3 3.7 .4 8.7 2.9 2.8 .2 8.3 6.5 7 .4 4.9 2.9 2.8 .2 8.1 3.2 3.3 .3 12.4 2.3 2.4 4.2 .6 3.2 3.5-3.3 5.7 0 9.5 2.2 3.1 4.4 .9 .1 11 3.2 3.7 0 16.8-3.3 4.2 0 21.5-5.8 2.2-.9 12.6-5.5 1.9-1.1 5.5-20.1 0-.8-16.3-5.8-2.2-.9-5.2-13.9-15.6-5.3-1.4-.3-8.1-6.3-6.6-.6-5.1-2.5-2.3-3.6-.3-.4-8.2-2.9-2.8-.3-4.2-3.1-3.3-.6-5.2-2.7-2.3zM565.5 466l.5-.3 .7 .3-.7 1.2zM587.6 482l1 2-.6 2-2 1.6-2 .8-2 0-2-.9-.8-1.5 .8-3.2 2-2.3 2-.4 2 .6zM568.2 486l-2.2 2.1-1.6-2.1 1.6-2.8 1.6 .8zM398.3 404l-.2 2 .5 2 1.3 2 2.1 1.5 2 .7 4 .2 2-.6 2-1.6 1-2.2 .1-2-1.1-2.9-2-2.1-2-1.2-4-.5-2 .5-2.7 2.2zM349.6 620.3l-3.6-9.2-.1-3.1 2.8-6 2.6-4 2.7-2.6 2.6-1.4 3.4-.7 4 .7 14 6.5 4 .2 6-1.5 2-.1 2.2 .9 1.9 2 2.1 4.3 1.3 0 3.9-3.4 6.9 0 .8 4.8 5.6 5.4 8.4-.8 1.8-3.3 0-9.9 6.5-6.8 2.4-.1-4.1-10.2-7.8-16-5.2-16-1.2-6-.8-8-3.3-18-2-6-7.4-14-1.5-4-1.8-10-2.9-8 .2-6-1.2-4-2.7-4-4.6-4-11.5-7-4-1.6-2-.3-4 .7-4 2.1-10.4 10.1-3.6 2.1-2 .6-4 .2-2-.5-2-1.2-6-5.9-2-1.3-2-.4-2 .3-2.9 2.1-1.2 2-1 6-2 4-1.6 2-5.3 4.3-6 2.5-6 .8-14-1.2-6-1.2-4-1.8-6-4.9-8.5-10.5-2.6-4-3.7-8-8.6-14-3.3-8-9.3-28.2-1-7.8 .7-14-1.9-10-1.9-4.1-8.7 .3-6.3 7.3-.1 31 3.3 5.8-3.3 4.2 0 50.4-3.2 3.2-.1 6.1 3.3 3.7 0 10.3 3.3 4.2 .4 11.6 6.3 6.4 .4 18.7 2.2 2.5 4.3 .6 3.1 3.3 .4 4.3 6.3 6.4 .8 5.2 4.7 5 4.5 .8 .8 4.9 5.8 5.5 .2 7.4 3.2 3.3 .8 12.2 6.1 2.2 6.4 6.8 .2 7.4 2.5 2.9 27.3 .6 1.9 5.9 5 1.2 5 5.9 5 1.1 3.4 3.3 9.5 0 3.4-3.3zM304 547.1l12 .4 12-1.1 6 .5 3 1.1 3 2.4 2.3 3.6 .6 2-.1 2-1.2 2-2.3 2-5.3 2.4-14 2.1-16 4.4-6-.1-4-1.2-4-2.8-2-2.9-1-3.9 1-4.9 2-3.2 4-3 4-1.3zM243.4 262.7l6.6 2.9 24-7.1 8-1.8 8.5-4.7 11.4-8 8.1-3.9 20-8.1 6-1.5 4-.2 2-1 4-.8 4 .4 4 1.9 6 6.5 2 1 8 3.2 6 1.5 6 .7 8 .1 10 1.1 24 1 8-.6 12-2.6 6-.3 8 1.8 30 9.9 2 .4 2-.3 12-4.9 4.6-3.3 .9-2 2.8-10 4.1-12 1.3-6 .8-10-.6-10-1.9-5-2-3.8-2-2.5-2-1.7-4-1.3-4-.1-2.7-1.6-1.7-2.3-2.4 2.5-.2 15.8-4.9 1.1-5.1 7.7 .1 4.8 1.7 2.9 8.3 1.1 2.5 3.3 4.1 .6 0 9.1-3.5 0-5-6.5-5-1.1-4.4-3.8-9.5 .5-5.9 7.1-23.6 0-1.7-2.7-5-1.1-3.2-3.6-1.4-6.5-5.4-1.4-4.3-3.8-8.7 .2-3.4 3.6-27 0-7.2-7.6-7.8 0 .2 2.1-.6 4-2 4-3.3 3-4 1.3-3.7-.3-2.3-1-3.1-3-1.7-4-.3-2 .4-4-2.6 .9-1.7 2.7-12.3 .1-4.4 3.8-14.1 .6-5.4 5.9-.6 5.3-9.2 9.5-.8 5.5-13.6 .3-3 3.5-5 1.1-1.6 2.7-4.6 .8-2.1 3-7.1 .3-2.9 3.5-5 1.1-1.7 2.7-4.6 .8-2 2.7-.2 4.3z"/>
<path fill="#a5ff5a" d="M586 302.7l2 3 6 6.3 5.3 4 2.7 .9 2-.1 2.2-.8 2.4-2 .7-2-.3-2-1.1-2-1.8-2-4.1-2.4-6-2.2-8-5.4-2 .8-.9 1.2 .1 2zM718.3 279l-2.3 3.4-3.9 3.6-4.1 2.7-4 1.9-12 3.9-28 2.7-10 2.1-16.8 6.7-9.7 6-5.1 4-2.9 4-2.2 10-.5 10 .8 14-1.1 10-1.3 4-1.2 2.2-2 2.5-4 3-4 1.8-16 5.2-20 4.4-6 .3-12-.7-12 .7-8-.1-10 1.5-6 .3-4-.2-10-1.8-20 3.7-1.4 1.2-2.1 4-1.3 4-.6 4 .5 6 2.5 6 3 4 3.4 2.9 10 5.3 18.4 11.8 5.6 4.1 4.3 3.9 10.3 14 4.8 8 1.5 4 3 12 2.4 6 3.7 5.1 4 2.8 4 1.7 5.8 1.5 10.1 0 6.1 6.5 6 1.9 14 2.8 4-.6 4-1.7 2-1.2 2-2.2 .5-2.6 5.5-2.6 4-.7 10 0 16 3.1 4 1.1 4 2.4 1.9 2.7 .7 4-3.3 12-.4 4 .2 6 1.9 10 3.7 10 3.7 6 3.4 4 11 10 17.3 18 2.3 2 3.6 2.1 8 1.6 12 .8 12 2.6 8 .1 6 1.5 20 2.7 4 .8 2 .8 1 1 3 .9 .9-.9-.9-1.9-1.8-2.1 0-2 1-2 2.8-1.8 6-.5 12 1 4.5 1.3 7.5 9.7 4 3.2 4 1.4 4 .4 8 2.2 4 .3 4-.2 4-.9 7.5-4.1 8.5-3.5 21-6.5 5-2.7 1.1-1.3 .5-2-1.1-6 1.5-2.3 6-2.8 2-2.5 1.1-2.4 2-14 1.7-4 2.8-4 2-2 2.4-1.8 4-2.1 8-2.2 8-.1 6 1.4 14 5.4 6 1.7 8 1.4 10.6 .2-.3-312.8-12.3-3.9-4-.4-3.7 1.2-8.3 4.6-6 1.5-4-.9-6-3.6-6 .1-8-3.1-6 0-4-.6-4-1.7-6-3.7-6 .2-6-1.6-11.3-7.2-8.7-10.2-5.4-7.8-2.6-2.1-2-.4-2 .3-10 3-8 .6-6-.6-6-1.2-6-1.7-4-1.7-6-4.1-4-3.8-3.3-4.3-4.7-7.7-4.1-8.3-3.1-14-4.2-10-.5-4 .2-6-.9-4-1.4-2.1-2-1.7-6.8-3.8 0 1.4-4 .6-2.5 2.9-.1 25.8 3.3 3.8 .1 15.6 3.2 3.7 .6 5.4 2.7 2.4 .1 7.8 3.3 3.7 .4 8.7 2.9 2.8 .2 8.3 6.5 7 .4 4.9 2.9 2.8 .2 8.1 3.2 3.3 .3 12.4 2.3 2.4 4.2 .6 3.2 3.5-3.3 5.7 0 9.5 2.2 3.1 4.4 .9 .1 11 3.2 3.7 0 16.8-3.3 4.2 0 21.5-5.8 2.2-.9 12.6-5.5 1.9-1.1 5.5-20.1 0-.8-16.3-5.8-2.2-.9-5.2-13.9-15.6-5.3-1.4-.3-8.1-6.3-6.6-.6-5.1-2.5-2.3-3.6-.3-.4-8.2-2.9-2.8-.3-4.2-3.1-3.3-.6-5.2-2.7-2.3zM570 465.9l1.6 2.1 1.6 4-.4 2-.8 .7-2 1.3-2 .2-4.7-6.2-.5-2 .3-2 .9-1 2-1 2 .5zM586 476.4l3.5 1.6 6.5 5 4 2.1 .6 .9-.6 1.3-2 .8-12 2.4-4-.5-2-1.4-1.2-2.6 0-8 1.6-2 1.6-.3zM569.3 484l-.1 2-.7 2-.5 .8-2 .8-1.8-1.6-.6-2 .4-2.5 2-3.2 1.5-.3 .5-.6zM399.8 402l-1 2-.2 2 1.4 3.2 2 1.7 2 .8 4 .1 2-.7 2-1.9 .7-3.2-.5-2-2.2-2.6-2-1.1-4-.6-2 .6zM347.4 620.4l-2.8-8.4-.1-4 1.5-4.2 4-7.2 2.4-2.6 3.6-1.9 4-.5 4 .7 4 1.5 10 5.2 4 .2 6-1.4 4 .7 2.2 1.5 1.8 2 2.2 3.7 3.2-2.8 6.9 0 .8 4.8 5.6 5.4 8.4-.8 1.8-3.3 0-9.9 6.3-6.7-4.8-12.4-6.6-14-4.4-14-1.4-6-1.5-12-4.1-18-2.4-5.4-6.4-10.6-1.7-4-1.1-12-2-8 0-6-1.3-4-2.8-4-2-2-5.5-4-9.2-5.5-4-.9-2 .2-6 2.6-10 9.6-6 2.9-4 .3-2-.3-2-1.2-5.6-5.7-2.4-1.7-2-.5-2 .4-2.5 1.8-1.2 2-1.1 6-.8 2-2.8 4-5.6 4.8-6 2.5-6 .7-14-1.2-6-1.1-4.2-1.7-5.8-4.5-9.4-11.5-2.6-4.2-3.5-7.8-5.4-8-3.3-6-3.3-8-9.1-28-1-8 .8-14-1.9-10-2-4.1-8.1 .3-6.3 7.3-.1 31 3.3 5.8-3.3 4.2 0 50.4-3.2 3.2-.1 6.1 3.3 3.7 0 10.3 3.3 4.2 .4 11.6 6.3 6.4 .4 18.7 2.2 2.5 4.3 .6 3.1 3.3 .4 4.3 6.3 6.4 .8 5.2 4.7 5 4.5 .8 .8 4.9 5.8 5.5 .2 7.4 3.2 3.3 .8 12.2 6.1 2.2 6.4 6.8 .2 7.4 2.5 2.9 27.3 .6 1.9 5.9 5 1.2 5 5.9 5 1.1 3.4 3.3 9.5 0 3.4-3.3zM334 544l4 .9 4 2.4 2 2.6 4.2 8.1-4.2 5-4 3-4 1.3-14 1.4-14 2.9-6 .7-6-.9-4-1.9-2-1.6-2.7-3.9-.9-4 .1-2 1.2-4 2.3-3.4 4-2.9 4-1.3 4-.6 14-.5 12-1.3zM244 262.2l6 2.9 24-7.3 8-1.6 6.9-4.2 11.1-8.3 8-4.1 22-8.7 6-1.4 4-.3 4-1.5 2-.1 4 .5 4 1.8 2.4 2.1 3.6 4.5 8 3.3 8 2.1 24 2.2 24 1 8-.7 12-2.7 6-.3 6 1.1 12 3.5 22 7.4 9-3.4 4.1-2 2.9-2 2-2.6 8.7-25.4 1.1-10-.6-12-3.2-7.2-2-2.9-2-1.8-2-1.1-7-1-3-2-1.2-1.4-1.6 1.6-.2 15.8-4.9 1.1-5.1 7.7 .1 4.8 1.7 2.9 8.3 1.1 2.5 3.3 4.1 .6 0 9.1-3.5 0-5-6.5-5-1.1-4.4-3.8-9.5 .5-5.9 7.1-23.6 0-1.7-2.7-5-1.1-3.2-3.6-1.4-6.5-5.4-1.4-4.3-3.8-8.7 .2-3.4 3.6-27 0-7.2-7.6-5.9 0-.9 6.1-2.7 4.6-4 3.4-2 .8-4 .5-2-.2-2.6-1.1-2.6-2-1.6-2-1.7-4-.2-5.3-.6 .2-1.7 2.7-12.3 .1-4.4 3.8-14.1 .6-5.4 5.9-.6 5.3-9.2 9.5-.8 5.5-13.6 .3-3 3.5-5 1.1-1.6 2.7-4.6 .8-2.1 3-7.1 .3-2.9 3.5-5 1.1-1.7 2.7-4.6 .8-2 2.7-.2 4.3z"/>
<path fill="#aeff51" d="M586.3 300l5.7 6.9 3.7 5.1 2.3 2 4 1.7 2-.2 2.5-1.5 1-2-.2-2-1.1-2-2.2-2.1-4-1.8-6-1.6-2-1.4-2.3-3.1-1.7-1-2.2 1zM718.5 282.5l-5.8 5.5-4.7 3.1-4 1.8-8 2.6-4 .7-26 1.8-10 1.7-16.5 6.3-12.2 8-4.1 4-1.3 2-1.5 4-1 4-1 12 .7 16-1.5 10-2.8 6-1.8 2-3 2.2-4 1.9-16 5.1-14 3.4-8 1.4-6 .3-12-.6-12 .5-8-.3-8 1.3-8 .5-4-.2-10-1.9-3.4 .4-8.6 2.5-7.7 1.5-2.9 6-1 6 .4 4 2.1 6 2.6 4 4.3 4 28.2 16.2 6 4.6 5.2 5.2 10.7 14 3.9 6 1.6 4 2 12 1.9 6 2.7 4.5 4 3.1 4 1.3 10 1.1 14.9 8 3.1 1.1 4 .6 10 .3 8-1.5 2-.8 2-5.5 2-2.2 4-1.1 12 1.2 18 3.8 6 1.8 3.4 2.3 1.7 2 1 2 .6 4-3.2 12 .4 10 2.1 10 3.7 10 2.3 4 4 5.1 11.7 10.9 16.7 18 3.6 3 20 2.2 12 2.5 8 0 20 3.2 8 .4 2-.2 2-1.3 1.6-1.8 4.4-2.4 8-.7 10 .6 4 1.1 2 1.3 6.3 8.1 3.7 3.2 4 1.3 12 2.2 8 0 4-1 22-8.7 14-4.2 4-2 2.1-2.8 .4-2-.5-4 .8-2 1.2-1.1 5.4-2.9 1.7-2 .9-2 2.3-14 1.7-4.3 4.4-5.7 3.6-2.8 4-2.1 8-2.2 8-.3 6.7 1.4 13.3 4.9 8 2.3 8 1.2 8.6 0-.3-310.8-10.7-3.6-5.6-.9-2.9 .9-9.1 4.9-6 1.5-4-1-6-3.6-6 .1-8-3.2-6 .1-4-.5-4-1.7-6-3.8-6 .2-6-1.5-11.7-7.5-8.3-9.8-5.6-8.2-2.4-1.9-2-.3-2 .3-10 3.1-10 .5-10-1.6-10-3.4-6-4.1-4-3.7-3.8-4.9-4.2-6.9-4.5-9.1-3.7-16-3.6-8-.5-4 .2-6-1-4-2.9-3.2-6.8-3.5 0 .5-4 .6-2.5 2.9-.1 25.8 3.3 3.8 .1 15.6 3.2 3.7 .6 5.4 2.7 2.4 .1 7.8 3.3 3.7 .4 8.7 2.9 2.8 .2 8.3 6.5 7 .4 4.9 2.9 2.8 .2 8.1 3.2 3.3 .3 12.4 2.3 2.4 4.2 .6 3.2 3.5-3.3 5.7 0 9.5 2.2 3.1 4.4 .9 .1 11 3.2 3.7 0 16.8-3.3 4.2 0 21.5-5.8 2.2-.9 12.6-5.5 1.9-1.1 5.5-20.1 0-.8-16.3-5.8-2.2-.9-5.2-13.9-15.6-5.3-1.4-.3-8.1-6.3-6.6-.6-5.1-2.5-2.3-3.6-.3-.4-8.2-2.9-2.8-.3-4.2-3.1-3.3-.6-5.2-2.7-2.3zM568 462.5l3.5 1.5 8.5 6 12 5.5 8 5.2 3.2 3.3 1 2 .2 4-1 2-1.4 1.2-4 .6-14-1-2-.7-2-1.8-2.8-8.3-1.2-1.6-2-.4-2 1-.7 1-1.5 6-1.8 3.3-2 .6-2-1.7-1.2-4.2 .5-8-3.3-8-.2-2 .5-2 1.7-2.1 2-1.2 2-.4zM399.1 406l.7 2 1.9 2 2.3 1.1 2 .3 2-.1 2.6-1.3 1.5-2 .2-2-.6-2-1.7-2.1-2-1.2-4-.5-2 .6-1.6 1.2-1.2 2zM345.3 620.4l-1.8-6.4-.5-4 1-5.1 4-8.7 2-3.1 2-1.8 4-1.4 4-.1 6 1.4 12 6.3 4 .3 6-1.3 4 .5 4.2 3 3.6 4.3 1.6-1.4 6.9 0 .8 4.8 5.6 5.4 8.4-.8 1.8-3.3 0-9.9 4.2-4.5-6.7-18.6-4.7-10-4.4-14-2.9-18-3.8-16-2.6-6-7.8-12-1.7-4 .7-12-1.3-8-.3-6-1.4-4-2.8-4-2-2-11.4-7.9-4-1.8-4-.1-6 2.6-9.5 9.2-4.5 2.5-4 1-4-.1-2-1.2-6-6.2-2-1.4-2-.5-2 .4-2.1 1.5-1.3 2-1.8 8-2.8 4-6 5.2-6 2.5-6 .7-16-1.3-4.9-1.1-4.5-2-5-4-9.9-12-2.4-4-3.3-7.7-5.9-8.3-3.2-6-5.9-16-6.3-20-.8-8 .7-14-1.2-8-2.8-6.1-7.4 .3-6.3 7.3-.1 31 3.3 5.8-3.3 4.2 0 50.4-3.2 3.2-.1 6.1 3.3 3.7 0 10.3 3.3 4.2 .4 11.6 6.3 6.4 .4 18.7 2.2 2.5 4.3 .6 3.1 3.3 .4 4.3 6.3 6.4 .8 5.2 4.7 5 4.5 .8 .8 4.9 5.8 5.5 .2 7.4 3.2 3.3 .8 12.2 6.1 2.2 6.4 6.8 .2 7.4 2.5 2.9 27.3 .6 1.9 5.9 5 1.2 5 5.9 5 1.1 3.4 3.3 9.5 0 3.4-3.3zM334 541.4l6 .7 4 2.1 2 3 3.3 8.8 .3 2-1.6 4.3-4 5.4-2 1.6-4 1.1-12 .3-20 2.7-4 .1-4-.5-4-1.4-4-2.6-2.4-3-1.5-4 .2-6 1.6-4 1.5-2 4.6-3.4 4-1.4 4-.7zM244.4 261.6l5.6 3 24-7.4 7.4-1.2 8.7-6 9.9-7.7 6-3.2 22-8.7 16-3.8 6 .4 2 .6 4 2.9 5 5.5 9 3.3 8 1.9 24 2.1 22 .9 8-.7 12-2.9 6-.3 4 .6 16 4.5 20 6.4 8-3.1 5.1-2.7 2.9-2.7 1.8-3.3 7-18 1.6-6 .8-10-.6-10-2.8-6-3.8-4.9-4-1.7-6-1-4-3-.8 .8-.2 15.8-4.9 1.1-5.1 7.7 .1 4.8 1.7 2.9 8.3 1.1 2.5 3.3 4.1 .6 0 9.1-3.5 0-5-6.5-5-1.1-4.4-3.8-9.5 .5-5.9 7.1-23.6 0-1.7-2.7-5-1.1-3.2-3.6-1.4-6.5-5.4-1.4-4.3-3.8-8.7 .2-3.4 3.6-27 0-7.2-7.6-3.9 0-1.5 6.1-2.3 4-1.6 2-4.2 3-6 1.3-4-.5-2-1-3.1-2.8-2.6-4-1-4.8-.3 .4-12.3 .1-4.4 3.8-14.1 .6-5.4 5.9-.6 5.3-9.2 9.5-.8 5.5-13.6 .3-3 3.5-5 1.1-1.6 2.7-4.6 .8-2.1 3-7.1 .3-2.9 3.5-5 1.1-1.7 2.7-4.6 .8-2 2.7-.2 4.3zM775.4 612l.6 .2 .2-.2-.2-.4z"/>
<path fill="#b6ff49" d="M588 298l-.1 0 .1 .2zM597.5 312l2.9 2 1.6 .5 2-.3 1.9-2.2-.1-2-1.3-2-2.5-1.8-4-.8-2 .5-.8 2.1 .8 2zM719.6 284.7l-3.6 3.9-8 5.3-8 2.9-8 1.1-28 1.2-8 1.6-16 6.4-7.6 4.9-4.4 3.4-2.5 2.6-2.5 4-2.1 8-.9 10 .6 16-1.8 12-1.8 4-1.5 2-2.3 2-3.2 1.9-22 6.9-20 4.1-6 .3-12-.6-12 .3-8-.4-8 1.3-8 .6-6-.6-8-1.7-4 .7-14 4.6-2 2.4-1.3 4.2-.4 4 .5 4 2.4 6 2.9 4 4.5 4 27.4 14.6 4 3.2 6.2 6.2 15.1 18 2.8 4 1.1 4 0 8 .8 6.1 2.5 5.9 1.5 2.1 2 1.1 4 1.2 2 0 2-.5 2.1-1.9 .4-2-1-12-1.5-3.5-3-4.5-.8-2-.1-2 .6-2 1.6-2 2.6-2 3.1-1.2 4-.1 4.1 1.3 9.9 5.5 12 5.7 6 3.8 5.5 5 5.2 8 3.3 3 10 3.6 26 6.4 6.1 3 3.6 4 1.2 4-.2 4-2.9 8 .1 6 1 8 1.4 6 1.7 6 2.5 6 5.3 8 12.9 12 17.3 19.6 18 1.9 12 2.7 12 .2 18 2.4 8-.1 2-.5 4.4-2.2 3.6-1 10-1.1 8 .4 4 1.1 2 1.3 8 9.3 2 1.6 4 1.2 12 1.8 8-.2 16-4.9 10-3.9 14-4.3 4-2.4 1.5-2.9-.1-4 .5-2 2.1-2 4-2.1 2-1.9 1-2 2.5-14 2.5-5.9 2-2.7 3.5-3.4 2.5-1.9 4-1.9 8-2.4 8-.5 8 1.6 14 5 8 2.2 6 .9 8.6-.2-.3-308.6-12-4.2-4.3-.6-2.1 .6-9.9 5.2-6 1.4-2-.1-2-.8-6-3.8-4 .4-2-.2-8-3.2-6 .1-4-.5-4-1.7-6-3.9-6 .4-6-1.5-8-5.5-4-2.2-8-9.4-5.9-8.7-2.1-1.7-2-.2-2 .4-10 3.1-10 .6-10-1.6-10-3.5-4.9-3.1-5.1-4.4-4.3-5.6-3.7-6-4.9-10-3.7-16-3.5-8-.6-4 .2-6-1-4-2.5-2.6-7.3-3.5-3.5 .5-2.5 2.9-.1 25.8 3.3 3.8 .1 15.6 3.2 3.7 .6 5.4 2.7 2.4 .1 7.8 3.3 3.7 .4 8.7 2.9 2.8 .2 8.3 6.5 7 .4 4.9 2.9 2.8 .2 8.1 3.2 3.3 .3 12.4 2.3 2.4 4.2 .6 3.2 3.5-3.3 5.7 0 9.5 2.2 3.1 4.4 .9 .1 11 3.2 3.7 0 16.8-3.3 4.2 0 21.5-5.8 2.2-.9 12.6-5.5 1.9-1.1 5.5-20.1 0-.8-16.3-5.8-2.2-.9-5.2-13.9-15.6-5.3-1.4-.3-8.1-6.3-6.6-.6-5.1-2.5-2.3-3.6-.3-.4-8.2-2.9-2.8-.3-4.2-3.1-3.3-.6-5.2zM399.6 406l.9 2 1.5 1.6 2 .9 2 .4 2-.2 2-.8 1.5-1.9 .5-2-.8-2-1.2-1.5-2-1.3-2-.6-2 0-3 1.4-1.3 2zM343.4 620.4l-1.7-8.4 .5-6 5.8-14.6 2-2.7 2-1 6 0 8 1.7 4 1.8 7.7 4.8 2.3 .6 8-1.6 4 .5 4.2 2.5 5.1 4.9 7 0 .8 4.8 5.6 5.4 8.4-.8 1.8-3.3 0-9.9 2-2.2-.2-.9-6.6-20-4.9-10-3.7-12-1.4-6-1.8-14-3-12-3-8-8.3-12.1-3.1-5.9 2.2-6 .6-6-.9-12-1.8-6-2.8-4-4.5-4-8.8-6-2.9-1.3-2-.3-2 .2-4 1.5-2.9 1.9-5.7 6-2.4 2-5 2.7-4 1.2-4 0-4-2.8-4-4.7-2-1.5-2-.5-2 .4-1.7 1.2-1.3 2-1.8 8-2.9 4-6.3 5.7-6 2.5-6 .7-16-1.4-6-1.2-4-1.9-5.4-4.4-9.8-12-2.3-4-2.5-6.4-5.5-7.6-3.6-6-6.1-16-5.3-16-1.5-6-.8-8 .8-14-1.1-8-2.9-6-6.8 .2-6.3 7.3-.1 31 3.3 5.8-3.3 4.2 0 50.4-3.2 3.2-.1 6.1 3.3 3.7 0 10.3 3.3 4.2 .4 11.6 6.3 6.4 .4 18.7 2.2 2.5 4.3 .6 3.1 3.3 .4 4.3 6.3 6.4 .8 5.2 4.7 5 4.5 .8 .8 4.9 5.8 5.5 .2 7.4 3.2 3.3 .8 12.2 6.1 2.2 6.4 6.8 .2 7.4 2.5 2.9 27.3 .6 1.9 5.9 5 1.2 5 5.9 5 1.1 3.4 3.3 9.5 0 3.4-3.3zM332 538.9l6-.2 4 .7 5 2.6 1 2.2 2.9 11.8 0 4-4.9 11.9-2 2.7-2 .2-10-1.8-4-.2-22 2-4 0-4-.7-4-1.5-4-2.5-2-2.1-2-3.8-.6-2.2 .2-6 2.4-5.7 4-3.8 4-1.9 4-1zM244.8 260.9l5.2 3.1 4-1.6 10-2.4 10-3.5 6.4-.5 17.6-13.8 8-4.6 22-8.4 16-4.1 8 1.2 4 3 6 5.8 8 3.1 8 2 24 2.3 22 .9 8-.8 12-3.1 6-.4 6 1.3 30 8.1 6 .2 2-.4 6-2.3 2.9-2 1.9-2 2.3-4 6.1-14 2.1-6 .9-6 .3-8-.6-8-3-6-3.1-4-3.8-1.9-6-.9-4.8-3-.2 15.8-4.9 1.1-5.1 7.7 .1 4.8 1.7 2.9 8.3 1.1 2.5 3.3 4.1 .6 0 9.1-3.5 0-5-6.5-5-1.1-4.4-3.8-9.5 .5-5.9 7.1-23.6 0-1.7-2.7-5-1.1-3.2-3.6-1.4-6.5-5.4-1.4-4.3-3.8-8.7 .2-3.4 3.6-27 0-7.2-7.6-1.9 0-1.1 4.1-1.9 4-4.6 5.5-2 1.5-4 1.7-6 .8-4-.8-5.4-4.7-2.3-4-1-4.4-10.6 .1-4.4 3.8-14.1 .6-5.4 5.9-.6 5.3-9.2 9.5-.8 5.5-13.6 .3-3 3.5-5 1.1-1.6 2.7-4.6 .8-2.1 3-7.1 .3-2.9 3.5-5 1.1-1.7 2.7-4.6 .8-2 2.7zM571.3 486l-.7 8 1.4 2.9 7.7 7.1 4.3 2.5 4 .5 4.3-1 3.7-2 1-2-.8-2-2.2-2-2-1.1-4-1.2-6-.6-2-1.2-1-1.9-1.1-6-1.9-3.5-2-.3-2 1.7z"/>
<path fill="#bfff40" d="M599.5 312l2.5 1.2 2-.6 .5-.6-.3-2-2.2-2.3-2-.7-2 .8-.1 2.2zM721.3 286.6l-5.3 5.7-5.4 3.7-4.4 2-4.2 1.1-6 .6-16-.2-14 .5-6 .6-4 1-15.2 6.4-10.8 7.7-2.5 2.3-2.5 4-2.3 8-1.1 10 .6 16-1.5 12-2.8 6-1.9 2.2-2.6 1.8-5.4 2.3-18 5.1-22 4.5-6 .2-32-.9-8 1.3-8 .6-6-.6-8-1.9-2 .3-13.4 5.1-2.5 2-1.5 4-.4 4 .6 4 1.5 4 2.5 4 5.2 4.9 26 13.1 3.1 2 8.1 8 12.8 14.2 6 4.9 4 1.4 2-.5 8-3.9 4-1.1 4 0 4.2 1 21.3 10 6.5 3.7 6 4.8 8.9 9.5 5.7 4 5.4 2.4 8 2.8 18 4.6 4 1.7 3.5 2.5 2.9 4 1 4-.8 6-2.9 6 2.3 16 2.1 8 2.2 6 2.1 4 3.6 4.9 11.7 11.1 14.3 16.3 2 2.1 2 1.2 18 2.8 10 2.6 12-.1 22 1.6 4-.1 8-1.8 12-1.7 8 .2 4 1.2 2.8 1.7 9.2 10.2 14 2.2 8 .1 18-4.2 10-4.1 14-4.5 2.8-1.7 1.7-2 .6-2-.4-2 .4-2 .9-1.3 6-3.9 2.1-2.8 2.5-14 2.5-6 5.1-6 3.8-2.9 4-1.9 10-2.9 8-.2 6 1.4 16 5.4 8 2.1 6 .6 6.6-.4-.3-306.4-10.3-3.8-6-1.3-12 5.9-6 1.3-2-.2-2-.7-6-3.9-4 .5-2-.3-8-3.3-6 .2-4-.4-4-1.7-6-4-6 .4-4-.6-2-.8-8-5.6-4-2.1-8-9.3-6.2-9.1-1.8-1.4-4 .3-10 3.2-10 .6-6-.7-6-1.5-6-2-4-2-6-4.4-4-4.2-5.4-7.9-5.1-10-2-6-2.5-12-3.6-8-.5-4 .2-6-.2-2-.9-2-2-1.9-2-1.2-6.9-2.8-1.9 .3-2.5 2.9-.1 25.8 3.3 3.8 .1 15.6 3.2 3.7 .6 5.4 2.7 2.4 .1 7.8 3.3 3.7 .4 8.7 2.9 2.8 .2 8.3 6.5 7 .4 4.9 2.9 2.8 .2 8.1 3.2 3.3 .3 12.4 2.3 2.4 4.2 .6 3.2 3.5-3.3 5.7 0 9.5 2.2 3.1 4.4 .9 .1 11 3.2 3.7 0 16.8-3.3 4.2 0 21.5-5.8 2.2-.9 12.6-5.5 1.9-1.1 5.5-20.1 0-.8-16.3-5.8-2.2-.9-5.2-13.9-15.6-5.3-1.4-.3-8.1-6.3-6.6-.6-5.1-2.5-2.3-3.6-.3-.4-8.2-2.9-2.8-.3-4.2-3.1-3.3zM402 408.8l2 1.2 2 .4 2-.2 2-1 1-1.2 .6-2-.8-2-2.2-2-2.6-1-2 0-2 .7-1.9 2.3 .1 2zM341.6 620.5l-1.1-6.5 0-6 4.5-16 .4-4-.1-2-.8-2-4.5-4.5-4-2.5-4-1.5-4-.4-22 1.1-4-.2-6-1.5-6-3.3-2-2-2-3.2-1.2-4-.2-4 .8-4 1.8-4 2.8-3.3 2-1.4 4-1.8 4-1.1 32-6 8-.5 4 .9 4 2.7 1.7 2.5 2.3 10.4 .5 7.6-2.5 10-.4 4 1 6 .6 2 .8 .8 1.6 1.2 2.4 .9 10 2.7 4 1.6 7 4.8 3 1.4 8-2 2 0 4 1.3 7.2 5.3 3.1 2.9 4 0 .8 4.8 2.5 2.3 2.4 1.1 4 .2 2-.7 2-1.6 1.9-3 .7-4-.6-4.6-6.3-19.4-5.2-12-3.2-10-1.6-8-1.6-14-3.4-12-2.1-6-8.4-12-2.9-6-.4-2 2.9-8 .6-6-.6-10-1.9-6-2.9-4-4.4-4-8.6-6-4-1.2-4 .9-4 2.1-8.5 8.2-5.5 2.9-4 1.3-2 .2-2.7-.4-3.3-2.3-4-4.9-2-1.6-2-.6-2 .5-1.3 .9-1.4 2-1.7 8-2.9 4-6.7 6.1-6 2.6-6 .6-16-1.3-6-1.1-4-1.7-4-2.9-2-2-10.1-12.3-2.2-4-2.2-6-6-8-3.5-6-6-16-5.3-16-1.4-6-.7-8 .9-14-1.1-8-3.1-6-6.1 .2-6.3 7.3-.1 31 3.3 5.8-3.3 4.2 0 50.4-3.2 3.2-.1 6.1 3.3 3.7 0 10.3 3.3 4.2 .4 11.6 6.3 6.4 .4 18.7 2.2 2.5 4.3 .6 3.1 3.3 .4 4.3 6.3 6.4 .8 5.2 4.7 5 4.5 .8 .8 4.9 5.8 5.5 .2 7.4 3.2 3.3 .8 12.2 6.1 2.2 6.4 6.8 .2 7.4 2.5 2.9 27.3 .6 1.9 5.9 5 1.2 5 5.9 5 1.1 3.4 3.3 9.5 0 3.4-3.3zM244.8 260l5.2 2.9 12-2.8 12-4.3 6-.5 18-14.6 6-3.6 20-7.9 18-5.6 4-.7 4 .4 2 1 10.4 9.7 9.6 3.6 8 1.9 22 2.1 22 .9 6.7-.5 13.3-3.7 6-.4 34 8.6 4 .4 6-.4 6-2.5 4-3.6 2-3.2 7.1-15.2 1.5-4 1-6 .2-8-.8-8-3-6.1-3.4-3.9-2.6-1.1-6-.9-4.8-2.5-.2 14.5-4.9 1.1-5.1 7.7 .1 4.8 1.7 2.9 8.3 1.1 2.5 3.3 4.1 .6 0 9.1-3.5 0-5-6.5-5-1.1-4.4-3.8-9.5 .5-5.9 7.1-23.6 0-1.7-2.7-5-1.1-3.2-3.6-1.4-6.5-5.4-1.4-4.3-3.8-8.7 .2-3.4 3.6-27 0-6.9-7.4-1.4 3.9-2.3 4-3.1 4-3 2.8-4 2.3-10 2.2-2 0-2-1-1.6-2.3-2.9-2-2.6-4-1.7-6.3-8.5 0-4.4 3.8-14.1 .6-5.4 5.9-.6 5.3-9.2 9.5-.8 5.5-13.6 .3-3 3.5-5 1.1-1.6 2.7-4.6 .8-2.1 3-7.1 .3-2.9 3.5-5 1.1-1.7 2.7-4.6 .8-2 2.7zM547.8 482l.8 6 1.4 2.7 2 2.1 2 .9 2 .3 2-.3 2-1.6 1.2-4.1-.6-6-2.6-4.2-2-1.7-2-1.3-2-.7-2 .5-1.7 3.4zM573.8 492l2.2 .1 1.1-2.1 .3-4-1.4-2.2-2-.1-1.7 2.3-.2 2 .4 2zM586 504.6l2-.1 1-.5 1.7-2-.6-2-2.1-1.4-2-.2-3 1.6-.1 2 1.7 2z"/>
<path fill="#c7ff38" d="M721.8 291l-3.8 4.6-4 3.1-4 1.8-6 1.4-4 .2-22-1.4-14 .4-6 .9-16 6.8-10.2 7.2-3.8 3.9-1.2 2.1-2.4 8-1.1 10 .6 18-.8 8-.9 4-3.1 6-2 2-3.1 1.7-6 2.1-8 1.7-12 3.5-20 3.9-30-.4-8-.6-8 1.3-8 .6-6-.6-8-2-2 .3-9.9 4.5-3.2 2-1.6 2-.7 2-.4 4 .7 4 1.6 4 2.7 4 4.8 4.2 8 4.2 20 9.4 20 20.8 6 4.3 2 .7 4 .3 10-2.4 4-.4 4 .5 6 1.9 19 8.5 5 2.7 7.2 5.3 10.8 10.2 5.1 3.8 3.4 2 9.8 4 17.7 4.5 6.8 3.5 3.8 4 1.4 4-.1 6-2.7 8-.2 4 1.7 12 2.6 10 1.6 4 2.2 4 3.1 4 11.8 11.2 14 16.1 2 1.5 2.6 1.2 15.4 3 10 2.8 10-.5 20 .1 8 .8 12-.5 10-2.1 6 .3 4 1.1 2 1.2 10 9.4 2 1.1 10 1.6 8 .3 12-2.8 6-.3 2-.5 8-3.6 14-4.6 4-1.8 2-1.6 .6-1.4-.5-2 .2-2 1.3-2 6.1-4 1.4-2 2.7-14 2.3-6 4.8-6 3.1-2.7 4-2.4 12-3.9 8-.3 8 1.9 22 6.9 6 .7 6.6-.6-.3-304.2-10.3-4-6-1.4-12 5.9-6 1.2-2-.1-2-.7-6-3.9-4 .4-2-.3-8-3.3-6 .3-4-.5-4-1.6-6-4.2-6 .6-6-1.4-8-5.7-4-2-8-9.2-6.5-9.5-1.5-1.2-4 .5-10 3.2-10 .6-4-.3-6-1.2-8-2.6-4-2-6-4.4-4.4-4.6-5.5-8-5-10-2.1-6-2.4-12-3.6-8-.5-4 .2-6-.7-3.1-2-2.3-2-1.1-8.8-3.1-2.5 2.9-.1 25.8 3.3 3.8 .1 15.6 3.2 3.7 .6 5.4 2.7 2.4 .1 7.8 3.3 3.7 .4 8.7 2.9 2.8 .2 8.3 6.5 7 .4 4.9 2.9 2.8 .2 8.1 3.2 3.3 .3 12.4 2.3 2.4 4.2 .6 3.2 3.5-3.3 5.7 0 9.5 2.2 3.1 4.4 .9 .1 11 3.2 3.7 0 16.8-3.3 4.2 0 21.5-5.8 2.2-.9 12.6-5.5 1.9-1.1 5.5-20.1 0-.8-16.3-5.8-2.2-.9-5.2-13.9-15.6-5.3-1.4-.3-8.1-6.3-6.6-.6-5.1-2.5-2.3-3.6-.3-.4-8.2-2.9-2.8-.3-4.2zM400.7 406l1.3 2.1 2 1.3 2 .4 2-.2 2-1.1 1.2-2.5-1.2-2.4-2-1.5-2-.6-2 0-2 .7-1.4 1.8zM339.8 620.5l-.8-6.5 .1-6 .7-4 2.7-8 .1-2-1-6-2.4-4-4.3-4-4.9-2.8-26 .3-6-1.1-6-2.7-4.4-3.7-1.6-2.4-1.5-3.6-.5-6 1.3-6 2.1-4 1.9-2 2.7-2 4-1.7 38-8.7 6-.7 4 .5 2 .9 3.6 3.7 1.2 2 1.5 4 1.4 8 .4 8-1.7 10-.2 4 .8 4 .9 2 1.9 2 4.2 1.9 10 3.1 5.1 3 4.9 4.2 4-1.8 4-.9 2 0 4 1.1 6 4.3 5.3 3.1 6.1 6 2.6 1.7 2 .5 2-.2 2-1.4 1.4-2.6 0-4-3.8-10-3.5-12-4.7-12-2.6-8-1.7-8-1.1-14-.9-4-5-14-7.7-12-2.5-6-.4-4 2.8-8 1-6-.2-8-1.4-6-2.2-4-3.6-4-9.9-7.4-4-1.3-3.6 .7-4.4 2.3-5.5 5.7-2.5 2-6 3.1-4 1.5-4 .1-1.7-.7-2.3-1.8-5.2-6.2-2.8-1.1-2 .5-2.4 2.6-.9 6-1.9 4-6.8 7.2-4 2.5-4 1.5-6 .6-18-1.5-6-1.5-4-2-4-3.4-11-13.4-2.2-4-1.9-6-6.5-8-3.3-6-5.2-14-7-22-.9-10 .9-16-.9-5.7-3.4-6.3-5.4 .2-6.3 7.3-.1 31 3.3 5.8-3.3 4.2 0 50.4-3.2 3.2-.1 6.1 3.3 3.7 0 10.3 3.3 4.2 .4 11.6 6.3 6.4 .4 18.7 2.2 2.5 4.3 .6 3.1 3.3 .4 4.3 6.3 6.4 .8 5.2 4.7 5 4.5 .8 .8 4.9 5.8 5.5 .2 7.4 3.2 3.3 .8 12.2 6.1 2.2 6.4 6.8 .2 7.4 2.5 2.9 27.3 .6 1.9 5.9 5 1.2 5 5.9 5 1.1 3.4 3.3 9.5 0 3.4-3.3zM244.9 259l5.1 2.7 2-.2 10-1.9 12-4.6 6-.9 5.5-4.1 10.5-9.4 6-4 8-3.7 14-5.2 10-3 5.5-2.7 2.4-2 .9-2-3-10-.9-4.3-6.2 0-4.4 3.8-14.1 .6-5.4 5.9-.6 5.3-9.2 9.5-.8 5.5-13.6 .3-3 3.5-5 1.1-1.6 2.7-4.6 .8-2.1 3-7.1 .3-2.9 3.5-5 1.1-1.7 2.7-4.6 .8-2 2.7zM379.4 202l-3.6 6-5.8 6.5-4 2.8-8.6 2.7-2.9 2 0 2 1.2 2 6.3 6.1 3.4 1.9 6.6 2.5 10 2.2 22 2.2 16 .7 8-.1 6-1.1 10-3.3 6-.5 34 8.3 4 .4 6-.6 6-2.7 2.2-2 2.9-4 8-16 1.3-4 .6-6 0-8-.8-6-4.2-7.5-2-2-2-.9-6-.8-4.8-2-.2 13.2-4.9 1.1-5.1 7.7 .1 4.8 1.7 2.9 8.3 1.1 2.5 3.3 4.1 .6 0 9.1-3.5 0-5-6.5-5-1.1-4.4-3.8-9.5 .5-5.9 7.1-23.6 0-1.7-2.7-5-1.1-3.2-3.6-1.4-6.5-5.4-1.4-4.3-3.8-8.7 .2-3.4 3.6-27 0zM550.8 488l1.3 2 1.9 1.3 2 .5 2-.5 1.2-1.3 .8-1.1 .5-2.9-.5-2.6-2-2.8-2-1.2-2-.4-2 .6-1.5 2.4-.4 2zM576.8 488l.1-2-.9-1.4-2 .5-.7 .9 0 2 .7 1.3 2 .3z"/>
<path fill="#d0ff2f" d="M724 294l-4 6.2-2 2-4 1.8-12 1.1-12-2.1-8-.9-22 .3-4.8 1.6-12.7 6-8.4 6-4.3 4-1.8 3.5-1.4 4.5-1.5 10 .6 18-.9 12-1.1 4-1.7 3.7-2 2.8-2 1.6-6 2.3-12 2.4-12 3.3-20 3.7-6 .2-32-1.2-10 1.3-8 .4-6-1-6-1.8-1.5 .3-7.8 4-3 2-2 2-1 2-.5 4 1.4 6 2.3 4 1.8 2 4.3 3.5 6 3.2 20.8 9.3 19.2 19.2 6 4.5 2 .8 4 .5 10-1.4 6-.1 4 .7 6 2 22 9.6 8.6 6.2 15.4 13.4 7.4 4.6 6.6 2.7 18 4.4 4 1.7 5 3.2 3.3 4 1 4-.4 6-2.7 10-.2 6 1.2 8 2.5 10 1.6 4 4 6 12.7 12 12 14.2 4 3.1 4 1.5 12 2.7 10 3.1 10-.8 14-.1 6-.6 20 2.1 8-2.4 6-.4 4 .6 4 1.8 10 8.5 2 1.2 4 1.2 8 .9 6-.1 12-3.7 6 1.4 2-.5 8-4 16-5.4 4-2.2-1-2.1 .3-2 1.1-2 1.6-1.5 4.5-2.5 1.7-2 2.7-14 1.3-4 1.8-3.5 2-2.7 4-4 6-4 12-4.1 8-.4 8 1.7 24 7.4 4 .3 6.6-.7-.3-302-10.3-4.2-6-1.4-11.2 5.6-6.8 1.3-2-.1-2-.6-6-4-6 .2-8-3.5-6 .4-4-.4-4-1.6-6-4.3-6 .6-6-1.2-4-2.5-4-3.4-4-1.9-2-1.7-6-7.3-6.8-10-1.2-1-4 .6-6 2.4-4 1-10 .6-4-.3-6-1.2-8-2.6-4-2-6-4.3-4.9-5.2-5.5-8-4.9-10-2.1-6-2.4-12-3.6-8-.6-12.2-2-2.6-2-1-9.5-3-1.8 2.1-.1 25.8 3.3 3.8 .1 15.6 3.2 3.7 .6 5.4 2.7 2.4 .1 7.8 3.3 3.7 .4 8.7 2.9 2.8 .2 8.3 6.5 7 .4 4.9 2.9 2.8 .2 8.1 3.2 3.3 .3 12.4 2.3 2.4 4.2 .6 3.2 3.5-3.3 5.7 0 9.5 2.2 3.1 4.4 .9 .1 11 3.2 3.7 0 16.8-3.3 4.2 0 21.5-5.8 2.2-.9 12.6-5.5 1.9-1.1 5.5-20.1 0-.8-16.3-5.8-2.2-.9-5.2-13.9-15.6-5.3-1.4-.3-8.1-6.3-6.6-.6-5.1-2.5-2.3-3.6-.3-.4-8.2-2.9-2.8-.3-4.2zM846.4 602l1.6-1.4 .5 1.4-.5 .6zM401.3 406l1.5 2 3.2 1.2 2-.2 1.8-1 1-2-1-2-1.8-1.4-2-.7-2 0-2 .8-1 1.3zM338.1 620.5l-.6-8.5 .4-6 .8-4 2.1-6-1.7-6-2.6-4-2.5-2.6-4-2.8-2.8-.6-25.2-1.4-6-1.8-5.2-2.8-4.2-4-2.6-5.5-.6-6.5 1-6 1.6-3.6 2-2.6 2-1.8 4-2.1 40-10.9 8-1.4 4 .3 2 1.5 2 2.8 2.9 5.8 2 6 .9 16-1.4 12 1 4 1.5 2 3.1 1.8 12 3.7 8 4.6 2 .1 6-1.2 4 .4 2 .7 2 1 4 3.8 8 1.8 2.9 1.3 1.7 2 1.9 4 1.5 1 2-.5 .4-.5-.4-2.6-3.3-3.4-1.1-2-3-16-7.5-22-1.4-8-.2-14-.5-2-5-12.6-7.7-13.4-2.1-6-.2-6 3.4-10 .9-6-.1-6-1.5-6-2.2-4-3.6-4-8.9-6.8-4-1.5-4 1-4 2.1-4.9 5.2-3.1 2.3-8 3.9-4 1-2 0-4-2.3-3.7-4.9-2.3-2.3-2-.6-2 .6-2 2.3-.9 6-1.8 4-7.3 7.6-2 1.6-6 2.5-6 .6-18-1.5-6-1.3-4-1.9-4.5-3.6-10.1-12-3.5-6-1.7-6-5.4-6-4.6-8-5.2-14-6.8-22-.8-8 1-16-.4-6-1.5-4-2.7-4-4.6 .2-6.3 7.3-.1 31 3.3 5.8-3.3 4.2 0 50.4-3.2 3.2-.1 6.1 3.3 3.7 0 10.3 3.3 4.2 .4 11.6 6.3 6.4 .4 18.7 2.2 2.5 4.3 .6 3.1 3.3 .4 4.3 6.3 6.4 .8 5.2 4.7 5 4.5 .8 .8 4.9 5.8 5.5 .2 7.4 3.2 3.3 .8 12.2 6.1 2.2 6.4 6.8 .2 7.4 2.5 2.9 27.3 .6 1.9 5.9 5 1.2 5 5.9 5 1.1 3.4 3.3 9.5 0zM245.1 258l4.9 2.5 10-.9 12-4.9 8-1.8 4-2.9 12-11.1 6-4 6-2.8 12-4.7 10-2.8 4-1.7 3.5-2.9 .8-2 .2-4-2-10.3-3.8 0-4.4 3.8-14.1 .6-5.4 5.9-.6 5.3-9.2 9.5-.8 5.5-13.6 .3-3 3.5-5 1.1-1.6 2.7-4.6 .8-2.1 3-7.1 .3-2.9 3.5-5 1.1-1.7 2.7-4.6 .8-2 2.7zM381 203.6l-6.8 8.4-6.2 5.5-4 1.9-4 1-2.9 1.6-.7 2 .9 2 2.7 2.8 4 2.9 8 3.5 8 2.2 20 2.3 14 .9 10 .2 6-.4 14-4.6 6-.7 10 3 22 4.9 6 .7 4-.3 4.6-1.4 3.4-2.1 3.4-3.9 8.9-16 1.4-4 .7-8-.3-8-.9-4-1.9-4-2.7-4-2.6-1.7-6-.7-4.8-1.6-.2 12-4.9 1.1-5.1 7.7 .1 4.8 1.7 2.9 8.3 1.1 2.5 3.3 4.1 .6 0 9.1-3.5 0-5-6.5-5-1.1-4.4-3.8-9.5 .5-5.9 7.1-23.6 0-1.7-2.7-5-1.1-3.2-3.6-1.4-6.5-5.4-1.4-4.3-3.8-8.7 .2-3.4 3.6-27 0zM553.3 488l2.7 1.7 2-.4 1.1-1.3 .7-2-1.8-3.4-2-.7-2 .4-1.3 1.7-.2 2zM576.4 486l-.4-.6-1.4 .6 1.4 2.1z"/>
<path fill="#d9ff26" d="M725.8 299.4l-3.8 6.9-2 1.7-2 .7-18-1.1-8-2.5-10-1.7-20-.2-4 .7-4.7 2.1-8.1 4-6.3 4-6.9 6.1-1.5 1.9-1.5 4-1.4 6-.9 8 .9 18-.6 10-.9 4-1.6 4-2.7 4-2.7 2-6.6 2-12.5 2.1-12 3.1-20 3.7-6 .1-32-1.3-10 1.2-8 .4-4-.5-8-2.5-3.9 1.7-3.2 2-4.8 4-1.2 2-.7 4 1.5 6 2.5 4 2 2 3.8 2.8 24 11.2 2 1.4 9.8 8.6 10.2 9.8 4 3 2 1 4 .7 12-.9 8 .8 8 2.6 20 8.3 10 6.7 16.2 14 5.8 4 8 3.4 19.3 4.6 4.7 2.1 5.8 3.9 1.7 2 .9 2 .5 4-.9 6-3.1 12-.3 6 .9 6 3.2 12 2.2 4 3.1 3.9 11.3 10.1 11.7 14 5 3.8 4 1.6 12 3 8 2.6 30-1.6 8 .9 12 2.4 4-1.9 4-1.2 4-.5 4 .2 6 2.1 8 6.5 4 2.5 4 1.3 8 1 6-.3 4-1.4 5.4-3 3.8-4 2.8-.8 1.5 .8 .7 2-1.8 2-.2 2 1.8 .9 2.3-.9 3.7-2.5 16.1-5.5 4.4-2 2.7-6 .8-1 2-1.6 4-2 1.4-1.4 2.7-14 1.2-4 2-4 2.7-3.6 4-3.8 6-4 10-3.8 6-1 4 .1 8 1.6 20 6.3 6 1.4 8.6-.9-.3-299.6-10.3-4.5-6-1.4-8 4.2-4 1.6-8 .9-2-.6-6-4-6 .1-8-3.5-8 .3-4-.9-4-2.2-4-3.2-6 .8-6-1.2-4-2.4-4-3.6-2.9-1.1-2.8-2-6.7-8-6.6-10-1-.8-4 .8-6 2.5-4 1-10 .6-4-.3-6-1.2-8-2.7-4-1.9-6-4.2-4-3.9-5.7-7.9-5.2-10-2.9-8-2.4-12-3.6-8-.5-12-1.7-2.2-2-1-10.1-2.8-1.2 1.3-.1 25.8 3.3 3.8 .1 15.6 3.2 3.7 .6 5.4 2.7 2.4 .1 7.8 3.3 3.7 .4 8.7 2.9 2.8 .2 8.3 6.5 7 .4 4.9 2.9 2.8 .2 8.1 3.2 3.3 .3 12.4 2.3 2.4 4.2 .6 3.2 3.5-3.3 5.7 0 9.5 2.2 3.1 4.4 .9 .1 11 3.2 3.7 0 16.8-3.3 4.2 0 21.5-5.8 2.2-.9 12.6-5.5 1.9-1.1 5.5-20.1 0-.8-16.3-5.8-2.2-.9-5.2-13.9-15.6-5.3-1.4-.3-8.1-6.3-6.6-.6-5.1-2.5-2.3-3.6-.3-.4-8.2zM403.8 408l2.2 .7 2-.3 2-1.4 .5-1-2.5-2.8-2-.8-2 .1-2 .8-.6 .7 .4 2zM336.5 622l-.2-14 .7-6 1.4-6-.5-2-2.1-4-3.8-4.2-4-2.5-6-1.3-20-2-6-2-6-3.4-2-1.7-2.4-2.9-2.4-6-.5-6 1.3-7.2 2-4.2 2-2.3 3.2-2.3 2.8-1.3 17.2-4.7 22.8-7.4 14-3.3 1.1 .7 1.3 2 6.6 18 .4 4-.3 6 .8 8-1.4 10 .2 2 1 2 2.3 1.7 10 2.2 10 3.9 2 .3 10-.2 4 .9 6 2.6 2-1.2 1.3-4.2-.3-6-1-4.2-5.1-13.8-1.2-6-.3-6 .7-12-4.1-10.4-8-15.4-1.8-6.2-.2-4 .5-4 3.6-10 1.2-6 0-6-1.6-6-2.3-4-3.5-4-7.5-6-2.4-1.4-2-.5-4 1.1-4 2-4.3 4.8-3.7 2.7-8 3.9-4 1-2 0-2-.7-2-1.4-6-7.5-2-.6-2 .6-1.7 2-.8 6-.6 2-1.2 2-7.7 8.1-2 1.6-6 2.5-6 .5-20-1.5-4.7-1.2-4.2-2-4.6-4-4.5-6-5.6-6-3.5-6-1.9-6-5.4-6-4.4-8-5-14-6.8-22-.6-10 1.1-14-.3-6-1.6-3.9-2.9-4-3.9 .1-6.3 7.3-.1 31 3.3 5.8-3.3 4.2 0 50.4-3.2 3.2-.1 6.1 3.3 3.7 0 10.3 3.3 4.2 .4 11.6 6.3 6.4 .4 18.7 2.2 2.5 4.3 .6 3.1 3.3 .4 4.3 6.3 6.4 .8 5.2 4.7 5 4.5 .8 .8 4.9 5.8 5.5 .2 7.4 3.2 3.3 .8 12.2 6.1 2.2 6.4 6.8 .2 7.4 2.5 2.9 27.3 .6 1.9 5.9 5 1.2 5 5.9 5 1.1 3.4 3.3 9.5 0zM245 256.8l5 2.5 2 .3 8-.5 10-4.5 9.3-2.6 5.4-4 11.3-10.8 6-4 18-7.6 10-2.6 2.3-1 2.1-2 1-2 .3-2-1.7-12.3-1.3 0-4.4 3.8-14.1 .6-5.4 5.9-.6 5.3-9.2 9.5-.8 5.5-13.6 .3-3 3.5-5 1.1-1.6 2.7-4.6 .8-2.1 3-7.1 .3-2.9 3.5-5 1.1-1.7 2.7-4.6 .8zM382.5 205.2l-8.7 8.8-5.8 5-4 1.9-4.6 1.1-1.4 2 .9 2 5.3 4 8.1 4 7.7 2.3 10 1.5 18 1.7 20 .3 4-.7 14-5.3 4-.3 10 3.4 12 2.1 12 2.8 4 .3 4-.3 4-1.3 4-2.7 3.1-3.8 6.9-11.2 2.4-4.8 .9-4 .4-8-.4-6-1-4-1.9-4-2.8-4-1.6-1.1-6-.4-4.9-1.5-.1 11-4.9 1.1-5.1 7.7 .1 4.8 1.7 2.9 8.3 1.1 2.5 3.3 4.1 .6 0 9.1-3.5 0-5-6.5-5-1.1-4.4-3.8-9.5 .5-5.9 7.1-23.6 0-1.7-2.7-5-1.1-3.2-3.6-1.4-6.5-5.4-1.4-4.3-3.8-8.7 .2-3.4 3.6-27 0zM559 486l-1-1.8-2-.1-1.2 1.9 1.2 1.7 2 .1z"/>
<path fill="#e1ff1e" d="M728.3 306l-1.6 4-1.4 2-1.3 1.1-4 .6-20-3.9-10-3.4-8-1.6-20-.6-2 .1-2 .7-10.1 5-6.6 4-6.8 6-2.8 4-1.9 6-1.3 8-.1 6 1.2 16-.6 10-1.1 4-1.8 4-4.1 4.6-2.6 1.4-5.4 1.5-14 1.9-12 3-20 3.5-6 .1-32-1.3-18 1.3-6-.8-6-2.1-2.2 .9-5.4 4-3.3 4-.8 4 .1 2 1.4 4 2.8 4 5.3 4 12.1 5.2 12.3 6.8 11.7 9.2 10 9.3 4 2.7 4 1 12-.5 8 .9 8 2.5 17.3 6.9 4.7 2.1 9.3 5.9 5.1 4 13.4 12 6 4 6.2 2.2 18.5 3.8 7.5 3 4.9 3 2.2 2 1.3 2 .7 2-.2 4-5.2 18-.7 4 .5 8 1.8 8 1.6 4 4.1 6 11.7 10 13.3 15.8 4 2.7 4 1.5 18 5 28-1.3 6 .1 6 1 10 3.4 4-2.5 4-1.3 4-.6 4 .1 4 1 2 1 8 6.5 4 2 6 1.6 10 .8 6-2.4 6.3-4.4 3.7-1.7 2 0 3.4 1.7 .6 1 2 .6 12.7-3.6 7.3-3 2-1.9 3.5-5.1 2.5-1.8 4.5-2.2 1.2-8 2-8 1.5-4 2.8-4.7 8-7.7 4-2.4 6-2.5 6-1.8 8-.4 10 1.9 22 6.8 4 .3 6.6-.9-.3-297.3-10.3-4.6-6-1.5-10 5.1-4 1-6 .5-2-.6-6-4.1-6 .1-8-3.6-6 .5-6-.9-4-2.1-4-3.4-6 .9-6-1.1-4-2.4-4-3.7-3.5-1.4-2.6-2-2.9-4-3.8-4-2.3-4-4.9-6.5-2.9 .5-9.1 3.5-4 .7-8 .4-4-.3-6-1.2-8-2.7-4-1.8-6-4.2-4-3.8-6.2-8.6-3.3-6-3.5-8-1.3-4-2.3-12-3.7-8-.4-12-1.3-1.7-2-.9-10.9-2.5-.4 .4-.1 25.8 3.3 3.8 .1 15.6 3.2 3.7 .6 5.4 2.7 2.4 .1 7.8 3.3 3.7 .4 8.7 2.9 2.8 .2 8.3 6.5 7 .4 4.9 2.9 2.8 .2 8.1 3.2 3.3 .3 12.4 2.3 2.4 4.2 .6 3.2 3.5-3.3 5.7 0 9.5 2.2 3.1 4.4 .9 .1 11 3.2 3.7 0 16.8-3.3 4.2 0 21.5-5.8 2.2-.9 12.6-5.5 1.9-1.1 5.5-20.1 0-.8-16.3-5.8-2.2-.9-5.2-13.9-15.6-5.3-1.4-.3-8.1-6.3-6.6-.6-5.1-2.5-2.3-3.6-.3zM404 407.4l2.6 .6 1.4-.3 2.1-1.7-2.1-2.3-2-.8-2 .2-2.1 .9 .7 2zM334.6 623.8l.1-11.8 .8-14-.1-2-1.8-4-3.6-4-4-2.4-8-2.1-14-1.7-4-.9-6-2.7-6-4-3.3-4.2-2.2-6-.3-8 1.2-6 1.8-4 1.5-2 2.4-2 2.9-1.7 18-5.4 26-9.4 8-2.3 4-.5 3.3 1.3 1.8 2 1.4 4 1.2 6 3.9 10 .2 4-1.1 6 1.8 6 .3 4-2.1 8-.1 2 1.4 1.6 10 .9 8 2.3 4 .7 9.8-1.5 4.2-2 1-2-.7-4-2.3-5.6-4.5-8.4-.5-2 3.5-12 .6-4 0-4-2.6-8-7.5-16-1.3-6 .1-4 1.1-6 3.9-10 1.5-6 .2-6-1.8-6-2.3-4-3.5-4-7.4-6-3.5-1.5-4 1.2-4 2-3.7 4.3-4.3 3-4 1.5-4 2.4-4 1.1-4-.6-2-1.2-6-7.8-2-.8-1.3 .4-2.1 2-1.2 8-1.2 2-8.2 8.7-4 2.6-4 1.4-6 .5-20-1.4-6-1.5-4-2.1-4-3.5-4-5.6-6.8-7.1-2.5-4-2.7-7.1-5.6-6.9-3.4-6-5.7-16-6.6-22-.5-4-.1-8 1.2-12-.2-6-1.8-4-3-3.9-3.1 .1-6.3 7.3-.1 31 3.3 5.8-3.3 4.2 0 50.4-3.2 3.2-.1 6.1 3.3 3.7 0 10.3 3.3 4.2 .4 11.6 6.3 6.4 .4 18.7 2.2 2.5 4.3 .6 3.1 3.3 .4 4.3 6.3 6.4 .8 5.2 4.7 5 4.5 .8 .8 4.9 5.8 5.5 .2 7.4 3.2 3.3 .8 12.2 6.1 2.2 6.4 6.8 .2 7.4 2.5 2.9 27.3 .6 1.9 5.9 5 1.2 5 5.9 5 1.1 3.4 3.3zM379.5 556l.5-.7 1.7 .7-1.7 .8zM246 256l4 2.1 2 .4 8 .1 10-4.9 8-2.3 2-1 3.2-2.4 8.8-9.2 5.3-4.5-12.7 .3-3 3.5-5 1.1-1.6 2.7-4.6 .8-2.1 3-7.1 .3-2.9 3.5-5 1.1-1.7 2.7-4.6 .8zM298.3 233.6l7.7-4.2 12-5.2 4-1.4 8-1.4 1.9-1.4 .8-2 .2-2-1.6-11.1-3 2.6-14.1 .6-5.4 5.9-.6 5.3-9.2 9.5zM384 206.9l-16 13.9-4 2.1-4 .2-.8 .9 .8 1.3 11.2 6.7 4.6 2 6.2 1.6 8 1.3 18 1.7 20 .3 4.6-.9 13.4-5.9 4-.7 10 4.3 10 1.4 12.8 2.9 5.2 .6 4-.4 4-1.5 3.6-2.7 2.4-2.8 6-9 3.6-6.2 1-4 .4-8-.5-6-1.1-4-4.8-8-.6-.4-6-.2-4.9-1.2-.1 9.8-4.9 1.1-5.1 7.7 .1 4.8 1.7 2.9 8.3 1.1 2.5 3.3 4.1 .6 0 9.1-3.5 0-5-6.5-5-1.1-4.4-3.8-9.5 .5-5.9 7.1-23.6 0-1.7-2.7-5-1.1-3.2-3.6-1.4-6.5-5.4-1.4-4.3-3.8-8.7 .2-3.4 3.6-27 0zM558 485.5l-.9 .5 .9 .5z"/>
<path fill="#eaff15" d="M387.8 207.5l-5.8 3.4-6 4.4-5 4.7-3.4 4-.3 2 1.3 2 2.3 2 3.4 2 3.7 1.4 12 2.5 18 1.8 20 .4 4-.9 18-8.7 8 5.3 2 .8 12 1.2 12 2.8 4 .4 4-.4 4-1.7 3.4-2.9 2.6-3.1 8-11.5 1.5-3.4 .7-10-1.1-8-1.7-4-3.4-5.2-6-.5-4.9-1-.1 8.7-4.9 1.1-5.1 7.7 .1 4.8 1.7 2.9 8.3 1.1 2.5 3.3 4.1 .6 0 9.1-3.5 0-5-6.5-5-1.1-4.4-3.8-9.5 .5-5.9 7.1-23.6 0-1.7-2.7-5-1.1-3.2-3.6-1.4-6.5-5.4-1.4-4.3-3.8-8.7 .2-3.4 3.6zM732 310.3l-2 10-1 1.7-1 .7-14-6.4-28-9.3-5.2-1-4.8-.3-14-.4-3.5 .7-11.6 6-5.9 4-5.9 6-2.2 4-1.7 6-1.1 8 1.6 20-.3 10-.8 4-1.6 4-2.9 4-2.4 2-3.7 1.9-4 1.1-16 1.6-10 2.6-22 3.9-38-1.5-20 1.3-4-.7-6-2.2-5.4 4-3.3 4-1 4 .7 4 2.2 4 4.6 4 4.2 2.2 8 3.1 12 7 13.8 9.7 8.2 7.4 6 4.3 14 .1 8 .9 8 2.4 18 7.1 7.9 3.8 9.4 6 17.9 16 4.8 3.1 4 1.3 16 2.6 8 2.2 11.1 4.8 6.2 4 1.3 2-6.3 12-4.1 12-.9 4 .1 8 1.8 8 1.8 4 3 4.2 4 3.8 6 4.1 3.9 3.9 11.3 14 4.8 3.2 6 2.1 12 3.4 4 .6 26-1.4 10 .2 12 4.5 4-2.2 4-1.4 4-.6 4 0 6 1.8 2 1.2 6 5.5 4 1.6 7.3 1.5 8.7 .5 14-7.1 4-.1 4 1.5 4 .4 10-2.8 6-2.6 2-1.4 4-4.6 4-3 2-.8 1.5-2 1-6 2.8-10 1.8-4 2.9-4.3 8-7.6 4-2.4 6-2.6 8-2.1 6 0 10 1.8 22 6.6 4 .4 6.6-1-.3-294.8-10.3-4.9-6-1.4-10 5.1-4 .8-6 .4-4-1.6-4-3.1-6 .2-8-3.8-6 .7-6-.9-4-2.1-4-3.6-6 1.1-6-1.1-4-2.3-4-3.9-4-1.6-2.5-2-2.8-4-3.9-4-2.2-4-4.6-6.3-1.8 .3-8.2 3.4-4 1-12 .6-8-1.4-8-2.7-4-1.8-6-4.2-4-3.6-6.7-9.3-3.2-6-4.9-12-2.2-12-3.8-8-.3-12-.9-1.1-2-.8-11.3-2.2-.1 25.2 3.3 3.8 .1 15.6 3.2 3.7 .6 5.4 2.7 2.4 .1 7.8 3.3 3.7 .4 8.7 2.9 2.8 .2 8.3 6.5 7 .4 4.9 2.9 2.8 .2 8.1 3.2 3.3 .3 12.4 2.3 2.4 4.2 .6 3.2 3.5-3.3 5.7 0 9.5 2.2 3.1 4.4 .9 .1 11 3.2 3.7 0 16.8-3.3 4.2 0 21.5-5.8 2.2-.9 12.6-5.5 1.9-1.1 5.5-20.1 0-.8-16.3-5.8-2.2-.9-5.2-13.9-15.6-5.3-1.4-.3-8.1-6.3-6.6-.6-5.1zM406 407.4l3-1.4-1.5-2-1.5-.6-2.9 .6 .4 2zM333 623.8l.4-23.8-.8-4-1-2-3.5-4-4.1-2.5-8-2.4-12-1.8-4-1-6-2.8-6-4-2-2-2-3-2.2-6.5-.3-8 1.6-8 2.9-4.9 2-1.8 4-2.2 16.7-5.1 19.3-8 12-4.3 6-1.5 4-.1 2 .4 2.9 1.5 1.8 2 .8 2 .3 10 4.7 8 1.3 4-.3 4-1.8 4 4.1 6 .7 2 .3 6 1.2 1.4 1.6 .6 4.4 .6 6 1.7 .8-2.3-.7-2-6.1-6.6-1.5-3.4-.2-2 .9-4 1.3-2 9.5-7.2 2-2.8 1.2-4-.6-6-5.5-12-2.1-6-.7-4 .2-4 1.4-6 6.1-15.4 1.7-6.6-.1-4-1.9-6-2.2-4-3.6-4-7.3-6-2.6-1.1-3.6 1.1-3.9 2-3.5 4-3 2.4-6 2.3-4 2.6-4 1.2-4-.5-2-1.1-2-2-2.7-4.9-1.3-1.3-2.5-.7-1.5 .7-1.1 1.3-.5 6-1.6 4-4.8 4.6-4 4.7-4 2.6-4 1.3-6 .5-8-.9-12-.4-6-1.3-4-1.9-4-3.2-4.2-6-7.8-8-2.4-4-2.5-6-6-8-3.1-6-5.6-16-6.5-22-.5-4 .1-8 1.4-14-.3-4-1.9-4-2.7-3.3-.6-.6-2.2 .1-6.3 7.3-.1 31 3.3 5.8-3.3 4.2 0 50.4-3.2 3.2-.1 6.1 3.3 3.7 0 10.3 3.3 4.2 .4 11.6 6.3 6.4 .4 18.7 2.2 2.5 4.3 .6 3.1 3.3 .4 4.3 6.3 6.4 .8 5.2 4.7 5 4.5 .8 .8 4.9 5.8 5.5 .2 7.4 3.2 3.3 .8 12.2 6.1 2.2 6.4 6.8 .2 7.4 2.5 2.9 27.3 .6 1.9 5.9 5 1.2 5 5.9 5 1.1 3.4 3.3zM246.5 254.8l5.5 2.5 8 .7 10-5.4 8-2.5 4-2.5 8-8.9 4.6-4.3-10 .2-3 3.5-5 1.1-1.6 2.7-4.6 .8-2.1 3-7.1 .3-2.9 3.5-5 1.1-1.7 2.7-4.6 .8zM298.6 231.3l19.4-9.6 10-2.9 1.2-.8 .1-4-.9-6.6-14.2 .7-5.4 5.9-.6 5.3-9.2 9.5z"/>
<path fill="#f3ff0c" d="M396.2 207.5l-2.2 2-6 1-4 1.5-4 2.1-4 2.9-3 3-2.5 4 0 2 1 2 2.2 2 4.3 2.2 12 2.6 18 2 20 .3 2-.1 2.4-1 13.6-7.8 4-1.5 2.8 1.3 4.7 4 2.5 1.4 12 .6 14 3.3 4 .1 4-1.2 4-2.9 10-12.6 2.8-4.7 .6-10-.3-4-.9-4-2.2-4.5-2-2.7-2-1.1-8.9-1.3-.1 7.6-4.9 1.1-5.1 7.7 .1 4.8 1.7 2.9 8.3 1.1 2.5 3.3 4.1 .6 0 9.1-3.5 0-5-6.5-5-1.1-4.4-3.8-9.5 .5-5.9 7.1-23.6 0-1.7-2.7-5-1.1-3.2-3.6-1.4-6.5-5.4-1.4-4.3-3.8-8.7 .2-3.4 3.6zM399.4 216l.6-1.3 .3 1.3zM735.1 316.9l-1 5.1-1.5 4-2.6 2.1-2-.7-16-8.8-26-10-8-1.5-18-.3-10.4 5.2-6.3 4-4.3 4-4 6-2 6-1.2 8 2.2 22-.3 10-.9 4-1.8 4-3 3.6-3.2 2.4-2.8 1.4-6 1.6-6 .7-10 .2-10 2.6-10 1.2-6 1.7-6 .9-38-1.7-20 1.2-10-1.9-3.1 2.1-3.4 4-1.1 4 .6 4 2.6 4 2.4 2.1 4 2.3 8.8 3.6 25.2 15.4 10 8.6 4 2.5 4 .9 10 .4 8 1 8 2.4 12.6 4.8 11.4 4.8 12.7 7.2 5.3 4.3 14.4 13.7 3.2 2 18.4 2.7 8 1.7 22 7.3 4 2.3 1.2 2-.1 2-1.3 2-5.8 4.2-3.4 3.8-2.6 4.7-3.5 9.3-1 4-.4 6 .8 6 1.2 4 2 4 2.9 3.7 4 3.5 6.9 4.8 4.4 4 7.3 10 3.4 3.7 4.2 2.3 9.8 3.2 6 1.6 4 .6 26-1.2 8 .1 4 .7 8 3 2 .3 8-2.8 4-.6 4 0 4 .7 4 1.8 6 6.1 8 1.8 10 .6 4-1.1 10-4.5 4-.4 4 1.2 6 .1 10-2.8 6-3 5.9-5.4 5.5-4 5.7-18 2.1-4 2.8-3.9 8-7.7 4-2.4 6-2.6 8-2.1 6 .1 12 2.2 20 6.1 4 .4 6.6-1.1-.3-292.3-9.3-4.7-7-1.9-10 5.1-10 1.2-4-1.6-4-3.2-6 .1-8-3.8-6 .7-6-.8-4-2.1-4-3.7-2 .8-4 .4-6-1-4-2.3-4-4.1-4-1.4-3-2.4-2.6-4-4-4-2.1-4-3.4-4-.9-2.1-12 4.6-4 .7-10 .4-8-1.4-12-4.6-6-4.1-4-3.5-6-8-3.5-6-3.6-8-2.1-6-2.2-12-3.9-8-.2-12-.5-.6-2-.6-11.3-1.9-.1 24.2 3.3 3.8 .1 15.6 3.2 3.7 .6 5.4 2.7 2.4 .1 7.8 3.3 3.7 .4 8.7 2.9 2.8 .2 8.3 6.5 7 .4 4.9 2.9 2.8 .2 8.1 3.2 3.3 .3 12.4 2.3 2.4 4.2 .6 3.2 3.5-3.3 5.7 0 9.5 2.2 3.1 4.4 .9 .1 11 3.2 3.7 0 16.8-3.3 4.2 0 21.5-5.8 2.2-.9 12.6-5.5 1.9-1.1 5.5-20.1 0-.8-16.3-5.8-2.2-.9-5.2-13.9-15.6-5.3-1.4-.3-8.1-6.3-6.6zM407.6 406l-1.3-2-1 0-.7 2 1.4 .7zM331.1 623.8l.8-17.8-.6-6-1.4-4-3.3-4-4.6-2.9-6-2.2-12-2-6-1.9-8-4.7-4-3.3-3.1-5-1.8-6-.2-8 1.2-8 1.7-4 1.6-2 4.6-3.2 18-5.9 18-8.3 10-4 10-3 6-1 4-.1 5.3 1.5 3.2 2 1.1 2-.5 4-1.7 4-3.4 6.1 8 4.5 2 .7 4-.2 4-1.8 2-1.6 .9-1.7-.6-2-2.3-3.9-6.7-8.1-1-2-.2-2 1-4 1.6-4 11.3-23.7 2-5.4 1-4.9-.8-4-1.4-4-2.3-4-3.5-4-7.3-6-1.7-.7-6.3 2.7-4 4-3.7 2.8-6 2.1-4 2.7-4 1.4-4-.4-2-1-2-1.8-3.1-5.8-2.9-1.9-2 1-.7 .9-.4 2 0 4-.4 2-1.1 2-5.4 5-4 4.9-4 2.6-4 1.3-6 .4-8-1.1-14-.3-6-1.6-4-2.3-4-3.8-4-6.2-3.8-2.9-3.5-4-5.1-10-5.8-8-3-6-10.3-32-1.4-6-.5-4 .1-8 1.8-14-.3-4-2.1-4-2.1-2.4-1.5-1.4-1.3 0-6.3 7.3-.1 31 3.3 5.8-3.3 4.2 0 50.4-3.2 3.2-.1 6.1 3.3 3.7 0 10.3 3.3 4.2 .4 11.6 6.3 6.4 .4 18.7 2.2 2.5 4.3 .6 3.1 3.3 .4 4.3 6.3 6.4 .8 5.2 4.7 5 4.5 .8 .8 4.9 5.8 5.5 .2 7.4 3.2 3.3 .8 12.2 6.1 2.2 6.4 6.8 .2 7.4 2.5 2.9 27.3 .6 1.9 5.9 5 1.2 5 5.9 5 1.1 3.4 3.3zM247.6 254l4.4 2.1 8 1.1 8-4.7 12-4.7 2-1.8 10-11.6-7.4 .2-3 3.5-5 1.1-1.6 2.7-4.6 .8-2.1 3-7.1 .3-2.9 3.5-5 1.1-1.7 2.7zM299.1 228.7l23-12.7 1.9-2.4 .6-6-10.4 .5-5.4 5.9-.6 5.3z"/>
<path fill="#fbff04" d="M400.6 207.5l.7 6.5-.2 2-1.1 .8-2.5-.8-3.5-2.2-4-.9-4 .5-4 1.4-5.1 3.2-3.5 4-.7 2 .1 2 1.1 2 2.5 2 3.6 1.5 18 3.4 14 1.2 18 0 16-9.8 4-1.2 2 .4 2 1 6 5.7 6-.6 6 .3 6 1.2 8 2.5 4 .3 4-1.5 3.1-2.4 6.9-8 6-7.8 .7-10.2-.4-4-1.1-4-3.2-5.3-2-1.5-8.9-1.6-.1 6.4-4.9 1.1-5.1 7.7 .1 4.8 1.7 2.9 8.3 1.1 2.5 3.3 4.1 .6 0 9.1-3.5 0-5-6.5-5-1.1-4.4-3.8-9.5 .5-5.9 7.1-23.6 0-1.7-2.7-5-1.1-3.2-3.6-1.4-6.5-5.4-1.4-4.3-3.8-8.7 .2-3.4 3.6zM737.7 320.1l-2.5 5.9-1.8 2-3.4 1.5-2-.3-7.9-3.2-8.1-4.7-28-11.7-6-1.2-14-.4-4 .4-7.6 3.6-8.4 5.3-4.5 4.7-3.3 6-2.1 8-.6 6 2.9 20 .3 6-.4 6-1 4-2.1 4-3.2 3.5-3.6 2.5-4.4 1.8-6 1.4-6 .4-10-.4-10 2.7-10 1-6 1.8-6 .9-18-1.3-20-.6-20 1.2-8-1-2 .3-2.6 1.8-2.5 4-.4 4 .6 2 1.1 2 3.8 3.3 12 5.7 16 10.2 10 4.8 8 7.1 4 2.5 4 1.3 14 1.2 8 1.8 24 9 14.7 7.1 3.5 2 3.8 3 18 17.4 18 1.9 14 2.8 17.5 4.9 4.5 2 2.9 2 1.7 2 .5 2-1 2-1.8 2-10.3 8-3 4-3 6.4-2 5.6-1 6 .2 6 .9 4 1.9 4.1 4 5 16 11.9 9.1 13 4.9 2.5 10 3.4 6 1.4 4 .3 24-1.1 8 .1 4 .7 8 2.5 2 .2 10-2.5 8-.1 4 .9 4 2 2 2.1 2 3.8 12 .9 4 0 4-.6 12-4 4-.1 2 .5 2 1.2 6-.9 8-2.2 6-2.7 10.7-8.3 1.7-2 .8-2 5.7-16 3.1-5.1 8-8.7 4-3 4-2.2 10-3.1 6-.4 14 2.3 22 6.5 4-.1 4.6-1.2-.3-289.6-10.3-5.3-6-1.3-10 4.8-10 1.1-4-1.6-4-3.3-6 .1-2-.6-6-3.3-6 .9-6-.8-4.1-2.1-3.9-3.5-6 1-6-.9-4-2.3-4-4.2-4-1.3-3.4-2.8-2.5-4-4.1-4-1.9-4-3.7-4-.4-1.2-12 4.2-4 .7-10 .4-8-1.4-12-4.5-6-4.1-4.6-4.1-5.9-8-3.5-6-5.7-14-2.1-12-3.4-6-.6-2-.1-12-13.4-2-.1 23.1 3.3 3.8 .1 15.6 3.2 3.7 .6 5.4 2.7 2.4 .1 7.8 3.3 3.7 .4 8.7 2.9 2.8 .2 8.3 6.5 7 .4 4.9 2.9 2.8 .2 8.1 3.2 3.3 .3 12.4 2.3 2.4 4.2 .6 3.2 3.5-3.3 5.7 0 9.5 2.2 3.1 4.4 .9 .1 11 3.2 3.7 0 16.8-3.3 4.2 0 21.5-5.8 2.2-.9 12.6-5.5 1.9-1.1 5.5-20.1 0-.8-16.3-5.8-2.2-.9-5.2-13.9-15.6-5.3-1.4-.3-8.1zM329.2 623.8l1.2-13.8-.3-6-1.7-6-2.4-3.5-3.2-2.5-4.8-2.5-4-1.2-10-1.8-6-1.9-4-2.2-6-4.2-4-4.2-2.7-6-1.1-6 .3-10 1.5-6.8 2-3.6 2-1.8 4-2.3 16-5.1 24-11.9 20-7.1 3-1.4 5-4 2-.7 6-.4 4-1.9 4-4 2-2.9 6-10.6 2.5-5.5 1.7-6-2.4-8-3.8-6-4.3-4-5.7-4.4-6 3-5.9 5.4-2.1 1.3-6 1.7-4 2.9-4 1.5-4-.2-2.5-1.2-2.2-2-2.7-6-2.6-1.7-2.4 1.7-.4 2 .3 4-.4 2-1.1 2-6 5.4-4 5.3-4 2.4-4 1.3-6 .3-8-1.2-14 0-6-1.4-4-2.1-4.6-4-3.4-6.1-4-2.6-4-4.3-6-10.9-5.5-8.1-2.1-4-2.2-8-2.3-6-2.7-10-3.5-10-1.5-6-.3-4 .2-10 1.8-12-.2-4-2.4-4-4.1-3.8-6.3 7.3-.1 31 3.3 5.8-3.3 4.2 0 50.4-3.2 3.2-.1 6.1 3.3 3.7 0 10.3 3.3 4.2 .4 11.6 6.3 6.4 .4 18.7 2.2 2.5 4.3 .6 3.1 3.3 .4 4.3 6.3 6.4 .8 5.2 4.7 5 4.5 .8 .8 4.9 5.8 5.5 .2 7.4 3.2 3.3 .8 12.2 6.1 2.2 6.4 6.8 .2 7.4 2.5 2.9 27.3 .6 1.9 5.9 5 1.2 5 5.9 5 1.1 3.4 3.3zM250 253.7l6.5 2.3 3.5 .4 .8-.4 7.2-4.8 12-4.9 9.5-11.8-4.9 .1-3 3.5-5 1.1-1.6 2.7-4.6 .8-2.1 3-7.1 .3-2.9 3.5-5 1.1-1.7 2.7zM305.1 222.5l7-4.5 4.9-4 1.5-2 1.4-4.2-5.7 .3-5.4 5.9-.6 5.3z"/>
<path fill="#fffa00" d="M403.1 207.5l-.4 6.5-.8 2-1.9 1.4-8-1.9-4-.2-6 1.3-4 2.2-2.9 3.2-.6 2 .3 2 1.2 1.8 4 2.4 18 3.7 8 .9 10 .4 14-.6 14-9.2 4-1.8 2-.3 4 .8 6 4.4 2 .8 8 .1 6 .7 12 4.2 3.2-.3 2.8-1.5 6-5.9-1.8 0-5-6.5-5-1.1-4.4-3.8-9.5 .5-5.9 7.1-23.6 0-1.7-2.7-5-1.1-3.2-3.6-1.4-6.5-5.4-1.4-4.3-3.8-8.7 .2-3.4 3.6zM501.7 224.7l7.1-8.7 1-8-.3-6-1.5-4.4-2-3.1-2-1.8-2-.8-6.9-1.1-.1 5.2-4.9 1.1-5.1 7.7 .1 4.8 1.7 2.9 8.3 1.1 2.5 3.3 4.1 .6zM739.8 322.3l-3.7 5.7-2.1 1.6-2 .9-4 .2-8-2.6-8-4.2-12-5.1-10-5.1-8-3.1-4-.7-10-.4-8 .5-8.2 4-7.8 5.4-3.6 4.6-2.4 4.9-1.9 7.1-.6 6 3.5 22 .4 6-.3 6-1 4-1 2-3.2 4-3.9 3.2-6 2.7-6 1.3-8 .4-10-1-8 2.4-12 1.3-10 2.6-6-.1-14-1.5-22-.6-8 .2-10 1.2-8 0-2 .8-2.7 3.1-.7 4 .5 2 2.9 3.1 12 6.2 16 10.4 4 1.8 7.3 2.5 6.2 6 4.5 3 4 1.5 14 1.4 8 2 24 8.9 15.7 7.2 6.6 4 17.7 16.7 2 1 22 3 20 4 15.6 5.3 8.4 4.2 2 2.1 .8 1.7 .4 2-.4 4-.8 .6-6-1.3-2 .1-4 1.2-8.5 5.4-2.2 2-3 4-2.9 6-1.9 6-.8 6 .5 6 2.7 6 3.5 4 4.6 3.5 10.5 6.5 2.4 2 4.5 8 3.2 4 5.4 3.1 8 2.8 6 1.4 4 .4 24-1 8 .1 14 2.9 10-2 8-.1 4 .7 5.8 1.7 4.2 4.3 2 1 6 .9 8-.2 14-3.4 4 .1 4 1.1 4-.3 8-1.9 6-2.5 4-2.4 8-6.6 2-3.2 2-4.7 3.7-10.2 3.5-6 8.8-9.9 4-3.1 4-2.2 10-3 6-.3 16 2.9 22 6.4 6.6-1.9-.3-286.7-8.3-4.7-6-2.1-2 0-10 4.6-10 1-4-1.5-4-3.3-6 0-2-.6-6-3.3-6 .9-4-.3-6-2.5-4-3.3-6 .8-6-.9-4-2.2-4-4.1-4-1.6-2-1.3-2-2-2.4-3.8-4.1-4-2-4-3.5-3.9-2-.3-8 3.2-4 .9-12 .8-8-1.4-12-4.5-6.9-4.8-4.4-4-5.8-8-3.5-6-5.6-14-1-4-1-8-3.6-6-.6-2-.6-10-1-1.4-11.3-1.5-.1 22 3.3 3.8 .1 15.6 3.2 3.7 .6 5.4 2.7 2.4 .1 7.8 3.3 3.7 .4 8.7 2.9 2.8 .2 8.3 6.5 7 .4 4.9 2.9 2.8 .2 8.1 3.2 3.3 .3 12.4 2.3 2.4 4.2 .6 3.2 3.5-3.3 5.7 0 9.5 2.2 3.1 4.4 .9 .1 11 3.2 3.7 0 16.8-3.3 4.2 0 21.5-5.8 2.2-.9 12.6-5.5 1.9-1.1 5.5-20.1 0-.8-16.3-5.8-2.2-.9-5.2-13.9-15.6-5.3-1.4-.3-8.1zM327.2 623.8l1.5-13.8-.1-4-1.4-6-2.7-4-2.5-2.1-6-3.2-14-2.9-6-2.6-8-5.5-3.8-3.7-1.3-2-2.4-6-1-6 .2-10 1.5-8 .9-2 1.6-2 4.3-2.8 4-1.7 14-4.5 22-12 20-7.8 4.4-3.2 1.4-2 1.6-4 .6-.5 8 1.4 2-.3 4-1.7 4-3.6 2-2.5 4-6.3 3.2-6.5 1.8-6-2.2-8-3.8-6-9-7.9-6 3.3-6 5.3-4 1.8-4 .7-4 3.2-4 1.5-4-.1-3.7-1.8-1.9-2-2.2-6-2.2-1.5-2.1 1.5-.3 2 .4 4-.2 2-1 2-6.8 5.8-2 3.4-2 2.2-2 1.5-4 1.6-6 .8-10-1.4-14 .3-6-1.2-4-1.9-4.2-3.1-5.8-7.8-4-3.1-2.9-3.1-6.9-12-5.2-8-1.9-4-6.6-24-3.7-10-1.4-6-.4-4 .3-10 2.1-12-.2-4-2.6-4-3.8-3.4-5.9 6.9-.1 31 3.3 5.8-3.3 4.2 0 50.4-3.2 3.2-.1 6.1 3.3 3.7 0 10.3 3.3 4.2 .4 11.6 6.3 6.4 .4 18.7 2.2 2.5 4.3 .6 3.1 3.3 .4 4.3 6.3 6.4 .8 5.2 4.7 5 4.5 .8 .8 4.9 5.8 5.5 .2 7.4 3.2 3.3 .8 12.2 6.1 2.2 6.4 6.8 .2 7.4 2.5 2.9 27.3 .6 1.9 5.9 5 1.2 5 5.9 5 1.1 3.4 3.3zM252 252.9l4 1.5 4 .6 8-5.2 10-4.4 2-1.6 6.9-9.2-2.3 0-3 3.5-5 1.1-1.6 2.7-4.6 .8-2.1 3-7.1 .3-2.9 3.5-5 1.1zM308.6 216l3.8-4 2.1-3.9-5.7 5.9z"/>
<path fill="#fff200" d="M405.3 207.5l-1.5 6.5-.8 2-1 .9-2 1.1-12-.6-6 1-3.3 1.6-1.9 2-.6 2 .4 2 1.4 1.6 2 1.1 18 4.1 10 1.2 12 .1 8-.6 2-.6 14.8-10.1-1.7-2.7-5-1.1-3.2-3.6-1.4-6.5-5.4-1.4-4.3-3.8-8.7 .2-3.4 3.6zM457 222.8l5 2.7 2 .6 14 1.2 8.9 4.7 3.1 .8 1.8-.8 6.2-5.6-4.8-6.3-5-1.1-4.4-3.8-9.5 .5-5.9 7.1zM501.7 222.6l4.3-4.7 2-3.4 .9-6.5-.3-6-1.5-4-3.1-3.7-4-1.6-5-.7 0 4-4.9 1.1-5.1 7.7 .1 4.8 1.7 2.9 8.3 1.1 2.5 3.3 4.1 .6zM740.5 326l-3.8 4-2.7 1.5-2 .6-4 .1-8-2.4-18.1-7.8-13.9-7.3-6-2.4-4-.8-8-.4-6 0-4 .6-5.2 2.3-9.2 6-3 4-2.8 6-1.6 6-.6 6 4.2 24 .5 6-.2 6-1 4-1.2 2-3.3 4-4.6 3.7-6 2.8-6 1.3-8 .2-12-1.5-8 2.2-12 1.4-6 1.6-6 .9-18-2.3-12 0-14-.6-6 .3-16 3-2 1.6-.8 1.4-.4 2 .6 2 2.6 2 12 6.6 14 9.6 6 2.3 6 1.1 6 6.2 6 3.7 4 1 12 1.1 6 1.6 26 9.6 18 7.8 6 3.7 16 14.2 4 2.2 5.5 1.3 34.5 5.3 24 6.7 4 2 2 2 1.3 4-.5 4-1.9 4-2.9 2-8 .2-4 1.1-6 3.3-3.7 3.4-3.9 6-2.4 6-1.3 6-.1 6 .3 2 1.8 4 3.1 4 6.2 4.7 12 6.6 4.9 8.7 3.2 4 5.9 3.6 8 2.8 4 1 6 .4 22-.9 8 .1 14 2.5 10-1.7 8-.2 12 1.7 6 4.6 6 1.3 6-.1 12-2.5 4 0 6 .9 4-.2 6-1.3 6-2.2 6-3.5 5.4-4.3 3.1-4 7-16 4.5-7.1 8-9.1 4-3.2 4-2.4 10-3 4-.2 18 3.3 20 5.8 2 .3 6.5-1.9-.2-283.5-8.4-5-5.9-2-2 .1-10 4.3-10 1-4-1.5-4-3.2-6-.2-8-3.9-6 .8-4-.2-6-2.4-4-3.1-8 .5-4-.9-4-2.1-4-3.9-6.3-3.3-2-2-2.8-4-3.9-4-2.2-4-2.8-2.9-2-.6-10 3.6-14 1.2-8-1.4-12-4.5-7.7-5.4-4.3-4-5.7-8-3.4-6-5.6-14-2.1-12-3.6-6-.7-2 0-6-.8-4-2.1-.8-4-.7-5.3-.3-.1 20.9 3.3 3.8 .1 15.6 3.2 3.7 .6 5.4 2.7 2.4 .1 7.8 3.3 3.7 .4 8.7 2.9 2.8 .2 8.3 6.5 7 .4 4.9 2.9 2.8 .2 8.1 3.2 3.3 .3 12.4 2.3 2.4 4.2 .6 3.2 3.5-3.3 5.7 0 9.5 2.2 3.1 4.4 .9 .1 11 3.2 3.7 0 16.8-3.3 4.2 0 21.5-5.8 2.2-.9 12.6-5.5 1.9-1.1 5.5-20.1 0-.8-16.3-5.8-2.2-.9-5.2-13.9-15.6-5.3-1.4-.3-7.8zM325.1 623.8l1.9-15.8-1-6-2.2-4-2-2-5.8-3.6-4-1.2-10-1.6-6-2.8-10-7.3-2-2.1-2-3.1-2.2-6.3-.9-6 .2-12 1.5-8 1.4-2.3 5.6-3.7 4.4-1.8 12-3.6 24-14.1 20-8 2.9-2.5 2.8-4 2.3-1.7 8-.2 4-1.1 2-1.1 4-3.5 2-2.5 4-6.1 2.7-5.8 1.1-4-.6-4-1.3-4-3.8-6-8.1-6.6-2 .6-3.6 2-4.6 4-3.2 2-2.6 .9-4 .5-4 3.5-4 1.6-2 .2-4-.9-3.1-1.8-1.6-2-1.4-6-1.9-1.2-1.8 1.2-.2 2.3 1.1 3.7-.3 2-1.2 2-2 2-3.6 2.1-1.8 1.9-2.2 4-2 2.2-2 1.4-4 1.6-6 .7-4-.3-6-1.3-4-.1-8 .8-4-.2-6-1.6-4-2.1-3.8-3.1-4.6-6-4.7-4-3.5-4-10.8-18-2.8-6-3.3-12-2.2-10-4.4-12-1.4-6-.3-4 .3-10 2.3-12-.2-4-2.6-3.9-3.7-2.9-5.4 6.3-.1 31 3.3 5.8-3.3 4.2 0 50.4-3.2 3.2-.1 6.1 3.3 3.7 0 10.3 3.3 4.2 .4 11.6 6.3 6.4 .4 18.7 2.2 2.5 4.3 .6 3.1 3.3 .4 4.3 6.3 6.4 .8 5.2 4.7 5 4.5 .8 .8 4.9 5.8 5.5 .2 7.4 3.2 3.3 .8 12.2 6.1 2.2 6.4 6.8 .2 7.4 2.5 2.9 27.3 .6 1.9 5.9 5 1.2 5 5.9 5 1.1zM252.8 251.3l5.2 1.8 2-.2 6-3.7 10.6-5.2 2.2-2 4-5.3-1.2 1.4-5 1.1-1.6 2.7-4.6 .8-2.1 3-7.1 .3-2.9 3.5-5 1.1z"/>
<path fill="#ffe900" d="M407.4 207.5l-2.3 6.5-1.1 2-2 1.9-2 .8-16 1.2-4 1-1.4 1.1-1 2 .9 2 1.5 1.1 8 1.2 12 3.9 12 1 8-.2 6-.6 4-1.2 4.8-3.2 8.8-7.1-.5-.8-5-1.1-3.2-3.6-1.4-6.5-5.4-1.4-4.3-3.8-8.7 .2-3.4 3.6zM468 222.8l12 .7 6 4.9 2 1.1 2 .4 6.8-5-3.6-4.8-5-1.1-4.4-3.8-9.5 .5-5.9 7.1zM501.7 220.6l4.1-4.6 1-2 1.3-6-.4-6-1.7-3.8-2-2.3-4-1.9-5-.6 0 2.6-4.9 1.1-5.1 7.7 .1 4.8 1.7 2.9 8.3 1.1 2.5 3.3 4.1 .6zM741.7 328.2l-4.7 3.8-3 1.2-4 .5-4-.5-8-2.5-18-7.3-12-6.8-6-2.6-4-.9-6-.3-8 0-4 .6-5.4 2.6-8.4 6-2.4 4-2.5 6-1.3 6 0 6 4.9 24 .6 10-.8 4-2.7 5.1-4 4.4-4 3-6 2.8-6 1.4-6 .2-16-1.8-10 1.8-8 .8-10 2.2-4 .4-16-2.8-16 .1-16-.9-4 .8-7.8 2.5-4 2-1.1 2 1.5 2 2.6 2 12.8 8.6 8 6.1 4 1.7 8 1.9 2.5 1.7 3.5 3.5 4 2.8 6 2 10 .5 6 1.5 28 10.3 16 6.5 9 4.9 15 12.4 6 3.5 9.2 2.1 28.8 3.9 16 4.5 12 1.3 5.2 2.3 1.9 2 1 2 .4 4-1.2 4-2.5 4-1.5 2-3.3 2.7-2 .8-8 .8-4 1.2-4 2.1-4 3.4-3.5 5-2.6 6-1.4 6-.2 6 1.7 5 4 4.8 4 2.8 12.8 7.4 1.9 2 5 8 4.3 4 4 2.1 6 2.2 4 1 6 .5 30-.6 14 1.9 10-1.4 8-.1 12 1.7 8 3.9 6 1.1 6-.3 10-1.7 10 .9 6-.5 6-1.6 6-2.6 4-2.5 4.7-4 4.1-6 7.2-15.3 6-8.8 4-4.8 4-3.9 4-3 4-2.2 6-1.8 6 0 16 3.5 12 3.6 8 1.8 4 .4 6.5-1.5-.2-280.2-5.8-3.8-6.5-3.1-4-.2-10 4.2-10 .8-4-1.4-4-3-6-.5-8-4-6 .9-4-.2-4.5-1.5-5.5-3.7-8 .2-4-.8-4-2-4-3.8-6.9-3.9-8.6-10-2.4-4-2.1-1.9-2-.7-8 2.8-4 .9-12 .8-8-1.4-12-4.5-8-5.6-4-3.6-8.7-12.8-6.6-16-1-4-1.1-8-3.8-6-.6-2 .2-6-.4-2.1-2-1.8-4-.7-5.3 0-.1 19.7 3.3 3.8 .1 15.6 3.2 3.7 .6 5.4 2.7 2.4 .1 7.8 3.3 3.7 .4 8.7 2.9 2.8 .2 8.3 6.5 7 .4 4.9 2.9 2.8 .2 8.1 3.2 3.3 .3 12.4 2.3 2.4 4.2 .6 3.2 3.5-3.3 5.7 0 9.5 2.2 3.1 4.4 .9 .1 11 3.2 3.7 0 16.8-3.3 4.2 0 21.5-5.8 2.2-.9 12.6-5.5 1.9-1.1 5.5-20.1 0-.8-16.3-5.8-2.2-.9-5.2-13.9-15.6-5.3-1.4zM323.4 622l1.6-10 .3-4-1.2-6-2.5-4-3.6-2.8-4-1.8-12-1.9-4-1.7-10-7-4-3.7-2.3-3.1-2.2-6-1.3-8 .1-12 1.5-10 4.2-3.4 4-2.1 16-5.2 16-10.6 10-5.9 16-5.7 4-2.8 4-4.4 2-.9 10-1.6 4-2 3.8-3.4 2.2-2.6 3.5-5.4 1.9-4 1.1-4 0-2-1.6-6-2.1-4-1.7-2-5.1-4.2-2-1.1-4 1.2-6 4.7-4 2.2-6 .8-4 3.8-4 1.7-2 .2-4-.7-5.1-2.6-.9-1.6-5.4 5.6-4.6 2.5-1.5 1.5-2.5 5.1-2 2.1-2 1.2-4 1.5-4 .6-4-.1-10-1.9-10 1.2-4-.1-6-1.3-4.7-2.3-5-4-11.4-12-3.9-6-10-18-1.9-6-3.6-18-4.5-12-1.5-6-.3-4 .5-10 2.8-14-.4-2-1.2-2-5.1-4.2-4.9 5.7-.1 31 3.3 5.8-3.3 4.2 0 50.4-3.2 3.2-.1 6.1 3.3 3.7 0 10.3 3.3 4.2 .4 11.6 6.3 6.4 .4 18.7 2.2 2.5 4.3 .6 3.1 3.3 .4 4.3 6.3 6.4 .8 5.2 4.7 5 4.5 .8 .8 4.9 5.8 5.5 .2 7.4 3.2 3.3 .8 12.2 6.1 2.2 6.4 6.8 .2 7.4 2.5 2.9 27.3 .6 1.9 5.9 5 1.2 5 5.9 5 1.1zM255.4 250.1l2.6 .6 4-1.2 12-6.6 2-1.4 2.5-2.7-1.9 .4-1.6 2.7-4.6 .8-2.1 3-7.1 .3-2.9 3.5zM328 465.6l1.9-1.6 .2-2-.6-2-1.5-1-1.4 1 0 2z"/>
<path fill="#ffe000" d="M409.6 207.5l-4.4 8.5-2 2-12 4-2.6 2 1.3 2 2.6 2 3.5 1.8 4 1.2 12 1.2 8-.3 6-1.1 4-1.6 4.6-3.2 6.6-6.3-3.1-.7-3.2-3.6-1.4-6.5-5.4-1.4-4.3-3.8-8.7 .2-3.4 3.6zM471.5 219.1l8.5 1.7 8 4.7 2 .2 2-.5 3.5-2-2.3-3.1-5-1.1-4.4-3.8-9.5 .5zM501.7 218.4l2.3-2.4 2.2-4 1.1-6-.5-4-2.4-4-2.4-1.9-2-.7-5-.6 0 1.2-4.9 1.1-5.1 7.7 .1 4.8 1.7 2.9 8.3 1.1 2.5 3.3 4.1 .6zM382 225.3l2.8-1.3-2.8-1.4-2 0-1 1.4 1 1.4zM741.8 331.2l-3.8 2.4-4 1.3-4 .3-4-.6-8.9-2.6-17.1-6.5-18-9.8-4-.9-4-.2-8-.1-6 .7-5.2 2.8-6.8 5.5-2.7 4.5-2.2 6-1 6 .1 4 6 26 .9 6-.1 4-1.1 4-3.6 6-4.3 4.7-4 3-6 2.7-8 1.9-4 0-14-2.2-4-.2-18 1.7-14 2.6-10-2.7-6-.9-18 .3-14-1.2-2 .3-4.6 2-2.8 2-1.1 2 .4 2 3.8 4 15.7 12 10.6 2.8 2.1 1.2 5.9 4.9 4 2.2 6 1.3 8-.3 2 .3 50 19 8.6 4.6 15.4 11.8 6 3.3 6 1.7 7.3 1.2 24.7 2.6 14 4.5 12-1.2 4 .1 4 .7 4 2.3 2.1 3 .9 4-.1 4-1.3 4-5.5 6-6.1 5.1-4 1.8-8 1.3-4 1.2-4 2.3-2 1.8-3.4 4.5-2 4-1.8 6-.8 6 .5 4 .8 2 2.7 3.5 4 3 10 5.6 4 2.7 6.9 9.2 4.2 4 4.9 2.6 6 2.1 8 1.1 28-.6 16 1.2 12-1.1 6 .1 12 1.9 10 3.4 6 .8 6-.4 8-1.2 10 .9 6-.5 6-1.6 6-2.6 4-2.6 4-3.5 4-5.8 8-16 6-9.2 8-9.3 8-6.6 4-1 8 .9 30 8.3 6 1.2 4 .2 6.5-1.4-.2-276.6-6.9-4.7-5.4-2.6-4 0-10 4-10 .6-4-1.3-4-2.8-6-.8-2-.7-6-3.3-6 .8-4-.1-4-1.2-6-3.8-2-.2-6 .3-4-.8-4-1.9-4.7-4.2-6.7-4-7.1-8-3.5-5.2-2-1.8-2-.7-12 3.4-12 .8-8-1.4-12-4.5-6-4-6-5-2.9-3.6-6.4-10-7.2-18-1.5-10-3.9-6-.7-2 .4-6-.8-2-1-1-2-.4-7.3 .1-.1 18.4 3.3 3.8 .1 15.6 3.2 3.7 .6 5.4 2.7 2.4 .1 7.8 3.3 3.7 .4 8.7 2.9 2.8 .2 8.3 6.5 7 .4 4.9 2.9 2.8 .2 8.1 3.2 3.3 .3 12.4 2.3 2.4 4.2 .6 3.2 3.5-3.3 5.7 0 9.5 2.2 3.1 4.4 .9 .1 11 3.2 3.7 0 16.8-3.3 4.2 0 21.5-5.8 2.2-.9 12.6-5.5 1.9-1.1 5.5-20.1 0-.8-16.3-5.8-2.2-.9-5.2-13.9-15.6-5.3-1.4zM321.6 620.5l1.6-8.5 .2-6-1.1-4-2.3-3.3-2-1.7-4-2-4-.8-8-.6-2-.6-6-3.9-6-4.7-6.4-6.4-2.4-6-1.6-8 0-16 1-8 1.4-2 2-1.6 4-2.4 6-2.3 8-1.9 4-1.8 16-11.7 10-6.5 16-4.9 2-1.1 6-5.3 2-.9 10-2.3 4-2.2 3.4-3.1 2.6-3.1 4.1-6.9 1.2-4 0-2-1.4-6-2-4-3.9-3.8-4-2.3-2 .2-2 .9-8 5.5-4 1.2-4 0-2 2.5-4 2.9-2 .6-4 .1-8-2.1-2 .7-4 2.7-4 1.7-1.1 1.2-2.7 6-2.2 2.1-2 1.2-4 1.4-8 .3-10-2.2-10 1.6-4 .1-6-1.1-7-3.4-5-4-8-8-3.3-4-4.9-8-8.4-16-2.3-8-2.3-16-4.8-12-1.7-8 .4-12 3.2-14-.4-2-1.5-2.2-4.7-3.4-4.4 5.1-.1 31 3.3 5.8-3.3 4.2 0 50.4-3.2 3.2-.1 6.1 3.3 3.7 0 10.3 3.3 4.2 .4 11.6 6.3 6.4 .4 18.7 2.2 2.5 4.3 .6 3.1 3.3 .4 4.3 6.3 6.4 .8 5.2 4.7 5 4.5 .8 .8 4.9 5.8 5.5 .2 7.4 3.2 3.3 .8 12.2 6.1 2.2 6.4 6.8 .2 7.4 2.5 2.9 27.3 .6 1.9 5.9 5 1.2 5 5.9zM260 247.5l2-.7 1.9-.9-2.7 .1zM329.2 460l-1.2-.8-1.1 .8 1.1 3.4 1.1-1.4z"/>
<path fill="#ffd800" d="M476 215.7l12 5.9 2 .3 4-.7-.8-1.1-5-1.1-4.4-3.8zM500.3 217.3l3.7-3.9 2.1-5.4 .2-4-1.6-4-2.7-2.4-2-.8-6-.5-3.9 .8-5.1 7.7 .1 4.8 1.7 2.9 8.3 1.1 2.5 3.3zM415 204l-3 3.5-5.6 8.5-1.8 2-2.6 1.5-4 1-3.1 1.5-1.4 2 .2 2 1.9 2 4.4 1.8 8 1 8 .3 6-.8 6-2 3.5-2.3 2.6-2 4-5.1-3.2-3.5-1.4-6.5-5.4-1.4-4.3-3.8zM742 333.8l-6 2.5-4 .5-4-.3-14-3.9-12-4.2-6-2.8-13.2-7.6-2.8-1.1-12-.5-8 .8-4.4 2.8-5.6 5.1-3 4.9-2 6-.7 4 .5 6 7.1 26 1.3 8-.9 4-3.3 6-5 6.1-6 5.1-7.3 2.8-10.7 2.3-12-2.8-12-.8-14 1.1-14 2.5-2-.1-6-2.8-6-1.5-6-.3-14 .9-14-1.8-3.6 1.3-2.2 2-.9 2 .3 2 1.4 2 2.1 2 6.9 5.1 6 5.4 10 2.8 12 7.8 6 1.3 4-.5 4-1.1 22 9.4 30 10.4 10.5 5.4 17.5 12.4 8 3.2 16 2.6 10 0 8 .7 6 1.6 4 2 2 1.5 6-2.6 8-2.1 10-1.3 6 .6 .7-.6 .5-4 2.3-4 2.5-2.3 2-1 2-.3 1.9 1.6 .5 2-.4 2.8-2 4-3.7 5.2-3.3 16-3 8.5-1.7 1.5-4.3 2.2-10 6.6-4 1.6-10 2-3.4 1.6-2.6 1.9-3.3 4.1-2 4-1.4 4-1.3 6 .2 6 .9 2 1.7 2 3.2 2.4 14 8.2 3.5 3.4 4.5 6.1 4 3.8 4 2.3 6 2.2 6 1.1 6 .3 24-.6 16 .4 16-.6 10 1.4 14 3.4 6 .9 14-.7 10 .5 6-.6 6-1.6 4-1.7 6-3.7 3.1-2.9 4.2-6 8.7-16.6 4-6.7 8-11 10-11.6 42 12.7 8 1.1 4-.3 4.5-1-.2-272.9-8-5.7-4.3-2.1-4 .1-10 3.8-10 .7-4-1.3-4-2.7-8-1.7-6-3.4-6 .8-4-.1-4-1.1-6-3.6-2-.4-6 .3-4-.7-4-1.9-5.5-4.7-4.5-2.4-2-1.6-7.1-8-2.9-4.2-2-1.9-2-.7-12 3.1-12 .9-4-.5-4-1-12-4.4-4-2.5-8.4-6.8-3.2-4-6.3-10-7.2-18-1.5-10-1.4-2.4-3.1-3.6-.4-4 .7-4-1.2-1.9-4-.6-5.3 .6-.1 17 3.3 3.8 .1 15.6 3.2 3.7 .6 5.4 2.7 2.4 .1 7.8 3.3 3.7 .4 8.7 2.9 2.8 .2 8.3 6.5 7 .4 4.9 2.9 2.8 .2 8.1 3.2 3.3 .3 12.4 2.3 2.4 4.2 .6 3.2 3.5-3.3 5.7 0 9.5 2.2 3.1 4.4 .9 .1 11 3.2 3.7 0 16.8-3.3 4.2 0 21.5-5.8 2.2-.9 12.6-5.5 1.9-1.1 5.5-20.1 0-.8-16.3-5.8-2.2-.9-5.2-13.9-15.6-3.5-1zM319.5 620l1.8-8 .4-4-.4-4-2-4-3.3-2.6-4-1.4-12-.5-14-11.2-5.7-6.3-2.5-8-.9-6-.2-18 .8-6 2.5-3.7 6-3.7 6-2.3 8-1.7 2-.8 16-12.6 12-8.7 10-2 7.9-2.5 2.1-2.2 4-2.8 10-2.8 6-3.2 3.2-3 2.8-3.6 3.4-6.4 .6-2-.1-4-1.7-6-1.3-2-2.9-2.8-4-2-2 .1-2 .8-8 5-4 1.1-4-.3-2 3-4 2.8-4 .9-10-.9-10 3.5-.8 .8-1.2 4.1-2 3.5-4 2.7-4 1.2-8 .1-10-2.6-10 2.2-6 0-6-1.3-7.6-3.9-7.7-6-6.7-7.7-6.6-10.3-5.2-10-2.5-6-2.6-10-.5-12-5.6-14-1.7-8 .5-12 3.6-14-.5-2-.9-1.4-5.3-3.5-3.8 4.4-.1 31 3.3 5.8-3.3 4.2 0 50.4-3.2 3.2-.1 6.1 3.3 3.7 0 10.3 3.3 4.2 .4 11.6 6.3 6.4 .4 18.7 2.2 2.5 4.3 .6 3.1 3.3 .4 4.3 6.3 6.4 .8 5.2 4.7 5 4.5 .8 .8 4.9 5.8 5.5 .2 7.4 3.2 3.3 .8 12.2 6.1 2.2 6.4 6.8 .2 7.4 2.5 2.9 27.3 .6 1.9 5.9 5 1.2 5 5.9zM328.9 460l-.9-.6-.8 .6 .8 2.2z"/>
<path fill="#ffcf00" d="M496 197.9l-7.3 1.4-3.7 5.5 .1 4.8 1.7 2.9 8.3 1.1 2.4 3.1 4.5-3.4 2-2.9 1.3-4.4 0-2-.6-2-2.7-3-2-.8zM483.5 215.2l1.2 .8 .2 .1zM420.3 204l-6.3 4.6-8 9.5-2 1.5-7 2.4-1.3 2 .4 2 2.5 2 3.4 .9 9.6 1.1 4.4 0 8.3-2 3.7-2 2.5-2 3.3-4 2-3.6-.9-1-1.4-6.5-5.4-1.4-4.3-3.8zM746 333.8l-4 2.6-4 1.4-6 .7-4-.5-16-4.2-10-3.3-8-3.7-14-7.9-10-.3-8 .8-2 .7-2.9 1.9-5.1 5-2 3-1.8 4-1.5 6 .2 4 .9 4 9.6 30 .6 2-.1 2-2.9 6-4.1 6-4.9 5.6-6 5.6-2 .9-16 3.2-4-.3-12-2.8-12-.8-10.8 .6-9.2 1.7-6 .5-2-.2-6-3.2-6-1.7-6-.3-12 1.5-4 .2-4-.6-8-2.2-3.1 2.3-.5 2 .5 2 1.7 2 12.2 10 9.2 3.6 12 7.6 4 1.2 2 .1 8-1.8 2 .4 6 2.3 16 7.4 30 9.6 10 5 18 12.2 4 1.9 4 1.3 14 1.6 16-.2 16 .7 18-3.4 6-2.3 6.2-3.2 3.8-1.3 4-.1 2.6 1.4 1.6 2 1.2 4 0 4-.7 4-5.7 16-3.9 8-2.6 4-2.5 2.1-16 8.3-4 1.5-10 2.2-3.5 1.9-2.2 2-2.6 4-2.3 6-1.5 6-.3 4 .3 2 2.1 2.9 16 9.4 4.1 3.7 5.9 7.3 3.2 2.7 3.5 2 5.3 2 6 1.3 8 .5 52-1.5 8 .9 24 4.8 22 .2 8-.7 6-1.7 4-1.7 4-2.3 4.3-3.8 5.7-8.5 9.1-17.5 6.9-11.5 7.2-10.5 4.8-4.7 2-.8 2 .4 6 2.4 10 2.8 12 4.6 12 3.4 8 .9 8.5-1.3-.2-269-.8-.7-5.2-4-6.3-3.5-4 .2-10 3.6-10 .6-4-1.3-4-2.6-8-1.9-6-3.5-6 .9-4-.1-4-1.1-6-3.3-2-.5-6 .2-4-.7-4-1.8-6-4.9-6-3.7-10-11.7-2-1.9-2-.8-12 2.8-10 .8-4-.1-6-1.3-10-3.6-4-1.9-11.3-8.9-9.3-14-7.1-18-1.5-10-1.2-2-4-4-.2-4 1.2-4-.6-.9-4-.2-5.3 .8-.1 15.4 3.3 3.8 .1 15.6 3.2 3.7 .6 5.4 2.7 2.4 .1 7.8 3.3 3.7 .4 8.7 2.9 2.8 .2 8.3 6.5 7 .4 4.9 2.9 2.8 .2 8.1 3.2 3.3 .3 12.4 2.3 2.4 4.2 .6 3.2 3.5-3.3 5.7 0 9.5 2.2 3.1 4.4 .9 .1 11 3.2 3.7 0 16.8-3.3 4.2 0 21.5-5.8 2.2-.9 12.6-5.5 1.9-1.1 5.5-20.1 0-.8-16.3-5.8-2.2-.9-5.2-13.9-15.6zM317.2 619.5l2.5-9.5 .3-4-1.1-4-1.6-2-3.3-2-2-.4-10 0-2-.2-2-1.1-14-12.2-4.8-6.1-2.2-8-.8-6-.4-20 .5-4 .7-2 3-3.4 6-3.5 6-2.2 8-1.4 2-1.1 16-14 10-7.5 4-1.4 12-2.3 2-.8 8-5 10-3 4.5-2.4 5.5-5.3 3.9-6.7 .6-2 .1-4-1.4-6-1.2-2-2-1.7-4-1.8-2 .1-10 5.2-4 .9-4-.2-2 3.1-2 1.8-4 1.7-12 .1-10 2.3-.5 .5-1.3 6-2.2 3.1-4 2.3-4 .9-6 .1-4-.5-8-2.6-10 2.7-4 .3-4-.3-7.1-2-11.9-6-5-4.9-9-13.1-6-12-3.8-10-1.8-8 .8-8-.3-4-6-14-1.7-8 0-6 .8-8 3.8-12-.8-2.5-2-1.7-3.9-2-3.2 3.7-.1 31 3.3 5.8-3.3 4.2 0 50.4-3.2 3.2-.1 6.1 3.3 3.7 0 10.3 3.3 4.2 .4 11.6 6.3 6.4 .4 18.7 2.2 2.5 4.3 .6 3.1 3.3 .4 4.3 6.3 6.4 .8 5.2 4.7 5 4.5 .8 .8 4.9 5.8 5.5 .2 7.4 3.2 3.3 .8 12.2 6.1 2.2 6.4 6.8 .2 7.4 2.5 2.9 27.3 .6 1.9 5.9 5 1.2 5 5.9zM327.5 460l.5 1.3 .5-1.3-.5-.4z"/>
<path fill="#ffc600" d="M490 201.8l-3.1 2.2-1.5 2-.4 1.8 .4 2.2 2.1 2.6 7.6 1 .9 .8 4.5-2.4 1.5-1.4 2-3.5 .4-3.1-.4-1.1-2-2.4-2-.8-5.5 .3zM416.1 210l-4.1 3.2-6 6.5-2 1.2-4 .5-1.4 .6-1.3 2 .9 2 1.8 1.1 2 .4 10 1.3 4-.1 6-1.6 4.9-3.1 3.2-4 1.4-4 0-4-.8-2-2.7-2.1-4-.6-4 .8zM748.4 335.2l-4.4 2.8-4 1.5-6 .8-4-.3-10-2.8-10-2-8-2.6-8-3.5-14-7.5-4-.5-8 .3-4 .6-4.4 2-4.4 4-2.8 4-2.7 6-.5 4 5.3 18 6.7 18 .6 4-2.3 6-5.3 8-7.3 8-4.7 4-2.2 1.1-12 2.7-6 .6-4-.4-12-3-12-1-6 .2-14 2-4 0-4-.7-8-4.1-6-1.4-6 .4-12 2.8-6 .5-2-.2-2-1.1-2.6-2.4-1.4-.3-.4 .3 .3 2 6.1 4.4 5 5.6 2.4 2 8.6 4.7 6 4.3 4 2.3 4 1.4 10-1.7 6 .8 4 1.6 8.2 4.6 5.8 2.6 30 8.4 10.5 5 18.6 12 6.9 3.4 8 .7 10 .1 16-1.1 10-1.6 12 .3 6-.9 14-3.9 4-.6 4 .4 4 2.1 2.7 3.1 1.7 4 .6 4-.1 6-.9 4.6-1.9 5.4-5.5 10-4.7 6-5 4-16.9 8-4 1.5-10 2.3-3.5 2.2-1.6 2-2 4-3.1 12-.3 4 .5 .6 12 6.7 6 4 4 3.9 5.5 6.8 2.5 2 4 2.1 6 2 6 1.2 8 .3 16-.4 22-1.8 10-.1 10 1.3 8 2.3 18 2.5 18 .5 10-1 6-1.7 4-1.7 4-2.4 4-3.8 4-5.5 4.6-7.8 5.4-11.9 8.4-16.1 4.3-6 5.3-4.3 4-1.1 4 .6 16 4.4 10 4.5 12 3.4 8 .7 8.5-1.3-.2-265.1-2-1.8-5.1-4-5.2-2.9-4 .3-10 3.5-10 .4-4-1.3-6-3.2-6-1.4-6-3.5-6 1-4-.1-4-1.1-6-3.2-2-.5-6 .1-4-.6-4-1.8-6-4.8-6-3.7-12-13.2-2-.8-2 0-10 2.4-10 .9-4-.1-6-1.4-14-5.4-12.2-9.6-9-14-7.2-18-1.4-10-2.2-2.9-2.5-1.1-1.4-2-.1-7.2-2-.1-5.3 .9-.1 13.5 3.3 3.8 .1 15.6 3.2 3.7 .6 5.4 2.7 2.4 .1 7.8 3.3 3.7 .4 8.7 2.9 2.8 .2 8.3 6.5 7 .4 4.9 2.9 2.8 .2 8.1 3.2 3.3 .3 12.4 2.3 2.4 4.2 .6 3.2 3.5-3.3 5.7 0 9.5 2.2 3.1 4.4 .9 .1 11 3.2 3.7 0 16.8-3.3 4.2 0 21.5-5.8 2.2-.9 12.6-5.5 1.9-1.1 5.5-20.1 0-.8-16.3-5.8-2.2-.9-5.2zM315.2 617.6l2.5-7.6 .6-4-1.1-4-1.2-1.4-2-1.1-2-.4-10 .5-4-1.2-4-3.1-10-9.5-4.7-5.8-2.2-6-1.5-8-.9-22 .9-6 1.1-2 1.8-2 7.5-4.5 6-2.2 8.5-1.3 15.5-14.9 10-8.1 4-1.8 14-2.4 8-4.1 12-4.1 4-2.2 4.6-4.4 3.7-6 .6-2 .4-4-1-6-2.3-2.7-2-1-2-.5-2 .1-10 4.6-8 1.2-1.6 2.3-2.4 2.1-4 1.8-22 1.9-.6 6.2-1.4 2.8-2 2.1-2 1.1-4 1.1-6 .2-6-.6-4-1.2-4-1.9-4 1.7-6 1.7-8 .2-6-1.3-8-3.4-8-2.1-5.4-6.4-3.3-6-5.5-8-5.1-12-4-12-1.3-6 1.7-6 .1-6-6.4-14-1.5-6-.4-4 .2-6 .9-6 1-4 3.2-8-.6-2-1.6-1.4-4.6-2-2.5 2.9-.1 31 3.3 5.8-3.3 4.2 0 50.4-3.2 3.2-.1 6.1 3.3 3.7 0 10.3 3.3 4.2 .4 11.6 6.3 6.4 .4 18.7 2.2 2.5 4.3 .6 3.1 3.3 .4 4.3 6.3 6.4 .8 5.2 4.7 5 4.5 .8 .8 4.9 5.8 5.5 .2 7.4 3.2 3.3 .8 12.2 6.1 2.2 6.4 6.8 .2 7.4 2.5 2.9 27.3 .6 1.9 5.9 5 1.2zM327.8 460l.2 .5 .2-.5z"/>
<path fill="#ffbe00" d="M494 203.2l-2.5 2.8-.2 2 .7 1.2 2 1.5 2 .2 4-1.3 2-1.8 1.4-3.8-1.4-2-2-.7-2 .1-2.1 .6zM414 214l-4 3.4-4 4.4-2 1.1-4-.6-1.2 1.7 1.2 1.5 4 0 10 2.1 4-.6 2.4-1 2.9-2 1.8-2 1.7-4-.1-2-.8-2-1.9-1.6-4-.7-4 1.1zM750.3 337.3l-4.3 2.7-4 1.4-4 .7-6 0-4-.7-8-2.8-8-1.1-8-2.1-8-3.1-14-6.5-4-1.4-4-.3-4 .2-6 1.5-4 2.5-3.4 3.7-3.2 6-.7 4 1.3 6 3.6 12 6.3 16 .8 4-.1 4-1.9 6-3.5 6-6.9 8-6.3 5.3-4 2.2-4 1.4-10 2.5-6 .5-6-1-10-3-10-1.1-8 .4-12 2-4-.2-6-1.7-8-4.6-4-1.1-4-.4-4.6 .8-5 2-3.4 2-1.5 2 .1 2 1.2 2 2.1 2 9.1 7.1 4 2.2 4 1.2 12-1.6 6 .4 4 1.7 7.4 5 4.6 2.3 6 1.7 20 4.1 8 2.5 10 5.2 18 11.1 6 2.4 10 .4 12-.5 10-1.2 10-1.8 8 1 6 0 20-2.9 6 .6 2.8 1.1 3 2 3.5 4 2.1 4 1.1 4 .7 6-.1 4-.9 4-1.6 4-3.6 6-7.1 8-4.9 4-3 1.8-20 8.6-10 2.4-3.1 1.2-2 2-1.1 2-1.8 6-1.1 6 .1 4 1.6 2 11.4 7.2 4 3.1 3.8 3.7 6.2 7.4 6 2.8 6 1.9 8 1.2 18-.2 22-2.9 10-.2 10 1.2 10.1 2.8 25.9 3.6 8 .1 12-1.4 6-1.7 5.5-2.6 2.5-1.7 4-4 6.8-10.3 10.1-24 3.1-6.2 4.3-5.8 2.4-2 3.4-2 3.9-1.2 6 .3 16 3.9 12 5.1 10 2.7 8 .6 8.5-1.4-.2-261-5.4-5-6.4-4-2.5-.3-12 3.7-10 .4-4-1.2-6-3.3-6-1.5-6-3.6-6 1-4-.1-4-1-6-3-2-.6-8-.1-4-1.1-4-2.4-4-3.4-6-3.8-12-12.5-2-1-2 0-12 2.4-8 .7-4-.1-6-1.5-14-5.3-11.1-8.4-3.6-4-7.2-12-4.1-11.1-2.5-4.9-1.1-4-.8-8-1.6-2.1-4.3-1.9-1.7-3.7-1.7-2.3-3.6-.1-.1 11.2 3.3 3.8 .1 15.6 3.2 3.7 .6 5.4 2.7 2.4 .1 7.8 3.3 3.7 .4 8.7 2.9 2.8 .2 8.3 6.5 7 .4 4.9 2.9 2.8 .2 8.1 3.2 3.3 .3 12.4 2.3 2.4 4.2 .6 3.2 3.5-3.3 5.7 0 9.5 2.2 3.1 4.4 .9 .1 11 3.2 3.7 0 16.8-3.3 4.2 0 21.5-5.8 2.2-.9 12.6-5.5 1.9-1.1 5.5-20.1 0-.8-16.3-5.8-2.2-.9-5.2zM313.1 615.1l3.3-9.1 .1-2-1-2-1.5-1.1-2-.2-8 1.1-4-.5-2-.7-4-2.9-10-10-4-4.7-1.8-3-2-6-1.4-8-.3-12-.9-12 .5-4 .8-2 3.1-3.6 8-4.5 6-2.4 6-1.1 2-.8 16-15.9 6-5.5 4-2.8 4-1.4 10-.7 4-.9 8-3.4 10-3.3 6-3.4 4-4 2.5-4.3 1.3-6-.4-6-1.4-1.6-2-.8-4-.2-10 3.9-6.3 .7-1.7 1.1-4 4-4 1.7-8 .8-6 1.4-6 .2-.7 .8-.7 6-1 2-3.6 3-4 1.1-4 .1-10-.8-4-1.3-4-2.3-2 1.3-6 2.4-6 1-4-.1-6-1-10-3.6-2-.3-4 .9-1-.4-4.7-4-3.3-4-7.1-12-2.4-6-6.2-20-1.8-8 2.5-6 .7-4-.3-2-5.2-10-1.6-4-1.1-4-.8-6 .2-6 .8-6 1.9-6 2.7-6-1.3-2.5-5.5-1.9-1.6 1.9-.1 31 3.3 5.8-3.3 4.2 0 50.4-3.2 3.2-.1 6.1 3.3 3.7 0 10.3 3.3 4.2 .4 11.6 6.3 6.4 .4 18.7 2.2 2.5 4.3 .6 3.1 3.3 .4 4.3 6.3 6.4 .8 5.2 4.7 5 4.5 .8 .8 4.9 5.8 5.5 .2 7.4 3.2 3.3 .8 12.2 6.1 2.2 6.4 6.8 .2 7.4 2.5 2.9 27.3 .6 1.9 5.9 5 1.2zM329.2 484l.8-.5 .3 .5-.3 .5z"/>
<path fill="#ffb500" d="M502 205.1l.4-1.1-.4-.6-2 .1-1.2 .5-.3 2 1.5 .3zM410 219.6l-1.5 2.4 .1 2 3.2 2 4.2 .1 4-2.1 1.7-2 .8-2-.1-2-2.4-2.5-2-.3-2 .2-4 2zM752.3 339.5l-4.3 2.7-4 1.4-6 .9-6-.3-6-1.5-6-2.6-8-.6-8-1.8-24-9.2-6-.7-6 1-4 2-3.4 3.2-2.4 4-.9 4 .6 6 2.1 8.2 5.9 15.8 1.7 6 .4 4-.7 6-2.1 6-3.7 6-5.5 6.1-6 5-4 2.3-4 1.6-12 4.1-6 1.3-6-.7-12-4.8-8-1.3-6 .4-4 .9-12 4.7-2-.5-.9-1.1-5.1-3-8-5.8-4-1.7-6-1-4.8 1.5-2.8 2-1.4 2-.3 2 .7 2 3.4 4 4.5 4 2.7 1.2 4 .9 10-1.3 2.9-.8 5.1-2.6 2-.3 .4 .9 1.6 .8 9 9.2 3 1.9 8 1.9 16 1.4 8 1.7 10 4.6 18 11 8 3.2 4 .6 8 .2 30-1.8 14 .9 18-1.6 6 .6 4 1.1 6 3.7 4.3 4.6 2.5 4 3.6 12-.1 4-1.2 4-4.6 8-3.3 4-4.3 4-5.5 4-5.4 3.2-24 9.8-10 2-1.2 1-.8 2-1.6 8 0 4 .5 2 1.2 2 13.9 10.9 3.2 3.1 5 6 3.8 2.4 10.2 3.6 7.8 1 18-.3 18-3.9 10-.7 10 1.2 14 3.6 26 4.5 4 .2 12-1.6 6-1.5 6-2.5 4-2.7 4-4.1 3.6-5.2 2.4-4.4 8.4-23.6 2.7-6 4.6-6 2.6-2 3.7-1.9 6-1.3 6 .3 16 3.8 14 5.3 10 2.2 8 .1 6.5-1.3-.2-256.9-6.3-6.1-6-3.6-2-.1-10 3.1-4 .6-6 .2-4-.6-8-3.9-6-1.8-6-3.5-6 .9-4 0-4-1-8-3.4-8-.2-4-1.1-3.3-1.8-5-4-6.2-4-9.5-9.8-2-1.8-2-1-4 0-12 2.2-10 .3-4-.7-16-6-4-2.7-10-8.3-8.7-14.2-3.4-10-4-8-.9-10-2.2-2-4.5-2-2.3-2.4-2-1-1.3 0-.1 8.5 3.3 3.8 .1 15.6 3.2 3.7 .6 5.4 2.7 2.4 .1 7.8 3.3 3.7 .4 8.7 2.9 2.8 .2 8.3 6.5 7 .4 4.9 2.9 2.8 .2 8.1 3.2 3.3 .3 12.4 2.3 2.4 4.2 .6 3.2 3.5-3.3 5.7 0 9.5 2.2 3.1 4.4 .9 .1 11 3.2 3.7 0 16.8-3.3 4.2 0 21.5-5.8 2.2-.9 12.6-5.5 1.9-1.1 5.5-20.1 0-.8-16.3-5.8-2.2-.9-5.2zM358.4 468l-6.4 1-4 3.7-4 2.6-8 1.3-3.9 1.4-1.6 2 1.1 4-.5 2-1.1 2-1.9 2 0 2 5.9 2.2 4 .5 4-.2 19.8-6.5 6.2-3.8 3.6-4.2 1.8-4 1-10-.4-.5-2-.4-4 0zM310.2 613.1l3.9-7.1 .5-2-.6-1.2-2 0-4 1.5-4 .5-6-1.7-4-2.8-2-2.1-10-10.7-4-5.6-2.2-5.9-1.6-8-.4-14-1.4-12 .2-4 1.5-4 1.7-2 2.2-1.6 10-5.5 9-2.9 3-1.8 6.5-6.2 9.3-10 8.2-10.4 1.8-1.6-1.8-1.5-10 1.4-14-1.4-6-1.5-4-2.5-4 2.5-6 2.1-4 .6-6-.1-6-1.2-8-2.8-2-.4-4 .3-5.8-1.5-4.5-2-3.7-3-3-5-3.6-8-3-16-3.9-16-.3-4 3.3-8 .4-2-.2-2-6.7-12-1.9-6-.6-4 0-8 .8-6 1.8-6 3.2-6-.3-.8-2-1.2-4.5-1.2-.6 .7-.1 31 3.3 5.8-3.3 4.2 0 50.4-3.2 3.2-.1 6.1 3.3 3.7 0 10.3 3.3 4.2 .4 11.6 6.3 6.4 .4 18.7 2.2 2.5 4.3 .6 3.1 3.3 .4 4.3 6.3 6.4 .8 5.2 4.7 5 4.5 .8 .8 4.9 5.8 5.5 .2 7.4 3.2 3.3 .8 12.2 6.1 2.2 6.4 6.8 .2 7.4 2.5 2.9 27.3 .6 1.9 5.9z"/>
<path fill="#ffad00" d="M410.7 222l1.3 2.3 2 .6 2-.4 2.6-2.5 .3-2-.9-1.2-1.6-.8-2.4 .2-2.4 1.8zM754.5 342l-4.5 2.7-4 1.4-6 .9-6-.3-8-1.8-6-2.9-8-.4-8-1.6-14-5.1-8-2.2-4-.5-4 .1-4 1.1-2 1-2 1.6-2.7 4-1 6 1.6 10 6.1 18 1.3 6-.1 8-1.2 5.6-1.6 4.4-4.4 6.8-8 7.7-6 3.7-10 3.1-4 1.9-6.2 4.8-1.8 2-.8 2 .8 2 1.7 2 7.5 6 12.8 8.6 6 2.3 4 1 6 .6 16 0 32 1.7 16-.6 8 1.1 6 2 5.3 3.3 6.4 6 3.4 4 2.9 4.4 2 1.5 4 1.8 2 .2 2-.2 2-1.7 2-.4 .4 .4-.4 1.2-2 1.1-2 .2-2 1.8-11.5 17.7-3.4 4-5.1 4.8-8.7 5.2-7.3 3.6-14 4.8-10 4.7-8.6 2.9-1.3 4-.2 4 .7 4 1 2 3.6 4 9.8 8 7 7.1 4 2.7 4 1.7 6 2.1 4 .9 20-.2 18-5.9 4-.6 4-.1 12 1.6 16 4.2 26 5.6 12-1.7 8-1.8 6-2.6 4-2.7 4-4.2 2.6-4.1 2.8-6 6.2-22 2.3-6 2.1-3.2 2.7-2.8 5.3-3.3 6-1.7 8-.1 18 4 14 4.7 8 1.8 8 .5 8.5-1.6-.2-252.5-7.6-7.8-4.7-2.5-2-.2-10 2.9-4 .7-6 .1-4-.7-8-3.9-6-1.8-6-3.7-6 .9-4 0-4-.9-8-3.3-8-.2-4-1-4-2.2-5.3-4.2-4.7-3-10-9.7-4-2.8-4-.1-16 2.4-6 0-6-1.5-14-5.2-13.5-10.1-2.5-3.1-2.4-4.9-5.2-8-1.6-4-1.5-6-3.7-6-1.1-4 .2-6-.4-2-2.3-1.7-2-.3-6-2.6-1.3-.1-.1 5.8 3.3 3.8 .1 15.6 3.2 3.7 .6 5.4 2.7 2.4 .1 7.8 3.3 3.7 .4 8.7 2.9 2.8 .2 8.3 6.5 7 .4 4.9 2.9 2.8 .2 8.1 3.2 3.3 .3 12.4 2.3 2.4 4.2 .6 3.2 3.5-3.3 5.7 0 9.5 2.2 3.1 4.4 .9 .1 11 3.2 3.7 0 16.8-3.3 4.2 0 21.5-5.8 2.2-.9 12.6-5.5 1.9-1.1 5.5-20.1 0-.8-16.3-5.8-2.2-.9-5.2zM544.9 412l-.3 2 .5 2 1.2 2 3.7 4 2 .8 4 .7 4-.4 4.3-1.1 1.6-2-.2-2-2.5-4-1.8-2-3.4-2.3-8-1.9-3.8 2.2zM587.2 422l-.3 2 1.4 4 1.7 2.4 4.2 1.6 7.8 .9 6-.7 5.7-2.2 1.4-2-.6-2-3.3-4-5.2-3.7-4-1.5-4-.3-6 1.3-3.5 2.2zM366 467.4l-14 2.9-4 3.7-4 2.5-8 1.4-2 1.2-.9 .9-.3 2 .7 6 1 2 1.5 1.1 2 .7 2 .3 4-.5 16-4.7 4-1.9 3.8-3 2.8-4 1-4-.1-2-1.6-2-.3-2zM297.7 606.3l-5.7-5.1-5.6-7.2-5.7-6-2.7-3.8-1.9-4.2-1.7-6-1-6-.4-14-2-14 .2-4 1.7-4 2.1-2 5-2.4 8-5 10-4.6 6-4.9 3-3.1 3-4.4 3.5-3.6 1.6-4-.5-2-2.7-2-1.9-.7-4.5-1.3-9.5-1.3-6-2.7-8 3.7-4 1.1-6 .5-8-1-8-3-4-.7-16 1.2-2-.4-4-2.3-.7-1.1-2.2-8-3.5-8 .9-6-.1-6-1-8-2.7-14 .1-4 3.7-8 .6-2-.2-2-5.3-8-2.3-4.7-2.5 3.2 0 50.4-3.2 3.2-.1 6.1 3.3 3.7 0 10.3 3.3 4.2 .4 11.6 6.3 6.4 .4 18.7 2.2 2.5 4.3 .6 3.1 3.3 .4 4.3 6.3 6.4 .8 5.2 4.7 5 4.5 .8 .8 4.9 5.8 5.5 .2 7.4 3.2 3.3 .8 12.2 6.1 2.2 6.4 6.8 .2 7.4 2.5 2.9zM236 505.4l.4 .6-.4 .3-.3-.3zM215.7 402l-.8-6 .2-8 1.6-8 2.1-6-.4-2-3.5-1.4-.1 29.9z"/>
<path fill="#ffa400" d="M412.6 222l1.4 1.3 1.9-1.3-1.9-1.7zM757 344.7l-5 3-4 1.3-4 .6-6 .1-8-1.2-12-4.1-8-.7-6-1.1-16-5.3-6-.6-4 .2-3.8 1.1-2.2 1.3-2 1.9-1.5 2.8-.8 6 1 8 5 16 1.5 8-.3 10-2.3 10-1.7 4-2.5 4-2.4 2.7-3.8 3.3-8.2 4.8-6 2.4-6 .9-1.9 1.9 .4 4 2.6 4 6.7 6 6.2 3.3 8 1.7 16 1 10 2.3 14 1.9 10 .9 16 .3 8 1.3 6 2 4 2.1 12 9 4 2.3 12 3.2 3.6 2.7 1.2 2 .5 2-.6 4-1.1 2-8.9 8-6.8 8-6.3 6-7.6 5-10.9 5-9.1 3.6-12 3.3-11.3 7.1-1.7 2-.6 4 1.1 4 1.2 2 3.4 4 13.9 11.8 6 3.7 10 4.2 10-.8 10 .7 12-6.1 8-3.4 8 .6 8 1.5 20.8 5.8 21.2 5 4 .3 10-1.1 6-1.2 6-2.1 6-3.6 3-3.3 3.4-6 2.2-6 3.4-19 2-6.3 1.5-2.7 2.5-3 6-4.3 4-1.3 4-.6 8-.1 10 1.7 12 3 12 3.7 8 1.7 8 .3 8.5-1.7-.2-247.9-4.5-5.5-3.8-3.6-4-2.1-2-.1-10 2.6-4 .7-6 0-4-.6-8-3.9-6-2-6-3.7-6 .9-4 0-4-.9-8-3.1-8-.4-4-.9-4-2-10-7.3-10-9.2-4-2.7-4-.3-14 2-8 .3-4-.8-6.8-2.9-9.2-3-4-2.6-4.9-4.4-5.1-3.2-2.6-2.8-2.5-6-5.4-8-3.5-11.6-3.8-4.4-.8-4 .5-6-.4-2-1.5-1-9.4-1.1 0 3.2 3.3 3.8 .1 15.6 3.2 3.7 .6 5.4 2.7 2.4 .1 7.8 3.3 3.7 .4 8.7 2.9 2.8 .2 8.3 6.5 7 .4 4.9 2.9 2.8 .2 8.1 3.2 3.3 .3 12.4 2.3 2.4 4.2 .6 3.2 3.5-3.3 5.7 0 9.5 2.2 3.1 4.4 .9 .1 11 3.2 3.7 0 16.8-3.3 4.2 0 21.5-5.8 2.2-.9 12.6-5.5 1.9-1.1 5.5-20.1 0-.8-16.3-5.8-2.2-.9-5.2zM550 417.6l2 1.8 2 .8 4-.1 2-1.1 .8-1 .3-2-.5-2-2.6-2.7-8-1.3-1.3 2-.3 2zM593.5 424l.5 2.1 2 1.9 2 .7 4-.1 2-1 1.3-1.6 .2-2-1-2-2.5-2-2-.5-2 .2-2 .9-1.7 1.4zM352 472l-6 5.4-4 1.2-4 .2-2.8 1.2-.9 2 .2 2 1.5 3.3 2 1.4 4 .5 18-4.3 4-2.1 2-1.6 2.4-3.2 .8-2 .1-2-.7-2-2.6-2.4-4-.1-8 1.6zM292.9 606l-6.9-10-7.1-8-2.3-4-1.6-4-2.3-10-.4-16-2.8-14-.1-6 1.5-4 2.2-2 2.9-1.4 4-1 6-4.7 12-6.8 4-2.7 4-4 4.1-5.4 1-2 .1-2-.9-2-2.6-2-1.7-.7-10-1.6-6-1.9-10 3.9-10 1.3-6-.5-4-1.2-7-3.3-3-.2-5.3 2.2-2.1 2-1 2-.3 2 1.7 8-.1 2-.8 2-2.1 1.3-2 .1-4-1.7-1.6-1.7-1.1-2-1.6-8-5.2-12-3.8-14-.2-4 .6-12-2-16-.1-6 .9-4 4.3-8-.2-2.1-4.8-5.9-2.9-5.5-1.5 2 0 50.4-3.2 3.2-.1 6.1 3.3 3.7 0 10.3 3.3 4.2 .4 11.6 6.3 6.4 .4 18.7 2.2 2.5 4.3 .6 3.1 3.3 .4 4.3 6.3 6.4 .8 5.2 4.7 5 4.5 .8 .8 4.9 5.8 5.5 .2 7.4 3.2 3.3 .8 12.2 6.1 2.2 6.4 6.8 .2 7.4 2.5 2.9zM214.8 378.4l.3-2.4-.3-1.1z"/>
<path fill="#ff9b00" d="M768 165.7l-9.4 1 0 .4 3.3 3.8 .1 15.6 3.2 3.7 .6 5.4 2.7 2.4 .1 7.8 3.3 3.7 .4 8.7 2.9 2.8 .2 8.3 6.5 7 .4 4.9 2.9 2.8 .2 8.1 3.2 3.3 .3 12.4 2.3 2.4 4.2 .6 3.2 3.5-3.3 5.7 0 9.5 2.2 3.1 4.4 .9 .1 11 3.2 3.7 0 16.8-3.3 4.2 0 21.5-5.8 2.2-.9 12.6-5.5 1.9-1.1 5.5-20.1 0-.8-16.3-5.8-2.2-.9-5.2-1.3-1.5-3.7 2.6-4 1.5-6 .9-6 0-10-1.5-12-3.8-16-2.4-12-4.2-6 .4-3.3 .8-2.7 1.3-2 1.8-1.8 2.9-1.1 6 .5 6 5.1 18 .9 8-1 20-2.9 14-.5 2-1.2 2-4 3.6-2 1-6 .2-2 .5-.9 .7-1 2 1.8 2 2.1 .2 6-1.8 2 .1 2 .7 14.7 8.8 9.3 3.3 14 2.4 22 1.8 10 2.5 6 2.7 10 6.5 4 2 12 3.2 4 1.8 5 3.8 3.1 4 1.7 4 .1 2-.4 2-2.1 4-3.4 3.3-6 3.7-5.5 7-6.9 6-6.8 4-9.4 4-17.4 6.1-10.3 1.9-3.2 2-3.9 4-2.4 4-.2 2 1.1 4 1.3 2 3.6 3.7 10 8 7.7 4.3 6.3 2.3 4 .3 12-.3 2.3-.3 3.7-1.4 14-7.1 4-1.1 6 0 10 2.1 23.1 7.5 16.9 4.3 6 .8 4 .1 12-1.6 6-2 4-2 2-1.2 2-2.9 2.9-5.5 1.3-4 .9-6 1-16 1.7-6 2.2-3.4 2.6-2.6 6.5-4 2.9-1.2 4-.4 8 0 6 .5 10 2 24 6.2 8 1.3 6 0 8.5-2-.2-243-7.4-9.4-2.9-2-2-.8-4 .1-8 2.2-4 .6-8-.2-4-1.2-6-3.1-6-2.2-6-3.7-6 .9-4 0-4-.9-8-2.9-8-.4-4-.9-4-1.9-10.4-7.6-9.6-8.5-4-2.6-4-.5-16 2.2-6 .1-4-.8-8-3.6-6-1.5-4-1.8-8-7-4.3-2-2.6-2-2.9-8-5.7-8-1.4-4-1.1-6.4-5.7-5.6-.3-4 .7-6-.2-2zM352.6 474l-4.6 5.2-2 1.5-2 .4-6-.8-2 1.1-.3 .6 .6 2 1.7 1.6 2 .5 8-2 6 0 4-.6 3.5-1.5 2.5-1.8 2-2.2 .9-2 0-2-.9-1.7-2-1.1-6.9 .8zM289.2 606l-5.1-10-4.1-4-2.8-4-2.7-6-2.7-12-.5-18-3.9-14-1-10 .8-2 .8-.6 10-2.9 2-1 4.9-3.5 5.1-4.8 1.9-1.2 6.1-1.8 4-2.4 5.3-5.8 .9-2 .2-2-.9-2-3.5-2.2-8-.7-6-1.3-8 3.1-4 1-10 1.3-6-.1-4-1.5-4.3-3.6-1.7-.9-2 .1-1.5 .8-1.4 2-.5 2 .1 2 1.3 3.7 2 3.7 2 3.1 4.8 5.5 .6 2-.3 2-3.2 2-7.9 2.7-2-.1-12-9.7-3.9-4.9-1.8-4-5.5-16-2.8-12-.7-6 .6-16-.9-18 1.1-6 4.4-8-.4-2-3.4-4-3.5-6-.4 .5 0 50.4-3.2 3.2-.1 6.1 3.3 3.7 0 10.3 3.3 4.2 .4 11.6 6.3 6.4 .4 18.7 2.2 2.5 4.3 .6 3.1 3.3 .4 4.3 6.3 6.4 .8 5.2 4.7 5 4.5 .8 .8 4.9 5.8 5.5 .2 7.4 3.2 3.3 .8 12.2 6.1 2.2 6.4 6.8 .2 7.4 2.5 2.9z"/>
<path fill="#ff9300" d="M761.5 352l-5.5 3.4-4 .8-12-.4-8-1.2-14-3.9-28-4.7-4 .7-4 2.6-2 2.7-1.2 4-.2 6 4.1 14 1.5 10 .4 18-.5 12 .4 12 .9 4 2.7 4 5.2 4 4.7 1.9 9.4 2.1 22.6 3 8 1.8 10 3.8 12 6.9 4 1.3 8 1.1 4 1.2 6 3.7 11.7 9.2 2.2 2 .9 2 0 2-1 4-3.5 6-14.3 16.1-4 3.3-6.4 2.6-15.6 4.7-12 2.7-10 3.8-4 .7-6-.3-.5 .4-3 6-.3 4 1.7 4 4.1 4.1 5.8 3.9 4.2 1.9 12 3.2 6 .4 7.2-1.5 18.8-8.9 4-1.2 4 0 4 .7 6 1.9 23.4 9.5 12.6 4.1 14 2.5 10-.2 6-1.2 6-2.2 2-1.4 4-5.1 1.8-4.5 .4-4-1.3-20 .1-4 .5-2 2.5-3.6 2.6-2.4 7.6-4 7.8-2.2 14 .5 10 1.7 28 6.6 8 1.1 8-.4 6.5-1.9-.2-237.9-8.6-11.5-1.7-1.2-4-.8-12 2.6-6 .3-4-.4-4-1.2-6.5-3.3-5.5-2.1-6-3.8-6 .9-4 .1-4-.9-8-2.8-8-.4-6-1.6-13.5-9.4-8.5-7.4-4-2.5-4-.6-16 2-6 .2-4-.7-8-3.9-8-2-4-2.2-6-6.1-8.2-2.8-.9-2-.8-6-.7-2-5-6-1.9-4-1.2-8-1.3-1.5-4-1.5-1.3-1-.9-4 .2-6.6-2-.7-3.4 .8 1.3 1.4 .1 15.6 3.2 3.7 .6 5.4 2.7 2.4 .1 7.8 3.3 3.7 .4 8.7 2.9 2.8 .2 8.3 6.5 7 .4 4.9 2.9 2.8 .2 8.1 3.2 3.3 .3 12.4 2.3 2.4 4.2 .6 3.2 3.5-3.3 5.7 0 9.5 2.2 3.1 4.4 .9 .1 11 3.2 3.7 0 16.8-3.3 4.2 0 21.5-5.8 2.2-.9 12.6-5.5 1.9-1.1 5.5-20.1 0-.8-16.3-5.8-2.2zM778.7 216l1.3-1.6 1.4 1.6-1.4 1.1zM354.8 476l-1.2 2 .6 2 3.8 .9 2-.9 2.4-2 1.7-2 .4-2-.5-.5-5.1 .5zM282 497.1l-14.2 2.9-4.2 2-1.4 2 .1 2 4 8 1.7 2.4 2 1.4 4 .9 4-.7 2-1 4-3 4-4.9 1.5-1.1 8.5-1.7 4-2.1 2.3-2.2 1.3-2 .4-2-.7-2-1.3-.9-2-.5-4 .3-6-.6-2 0zM285.9 606l-3.5-8-6.4-8.9-2.1-5.1-3-14 .2-12-.5-6-1.8-6-5.8-14-3-2.9-4-2.2-2-.6-4-.1-6 1-2-1-12-10.4-5.2-6.5 .4 15.8 2.2 2.5 4.3 .6 3.1 3.3 .4 4.3 6.3 6.4 .8 5.2 4.7 5 4.5 .8 .8 4.9 5.8 5.5 .2 7.4 3.2 3.3 .8 12.2 6.1 2.2 6.4 6.8 .2 7.4 2.5 2.9zM221.9 503.5l-2.1-5.5-1.5-4.8 .2 6.8zM216.3 486l-.9-4-.6-3.8 0 6zM214.2 473.3l-.1-5.3 .3-6.8-2.8 2.9-.1 6.1zM214.8 455.6l0-5.6 0-2.7zM214.8 437.1l1.3-7.1 3.3-8-.4-2-4.2-7z"/>
<path fill="#ff8a00" d="M764.7 355.5l-4.7 4.5-2 .8-2 .1-20-2.3-18-4.4-16-2-8-.1-4 1.1-2 1.4-2.3 3.4-.8 4 .5 4 3.2 14 .7 6 .6 16-.1 20 .6 6 1.4 4 1.2 2 2 2 3.2 2 5.8 1.8 26 4.9 8 2 10 3.8 12 6.6 6 1.1 8 .2 2 .5 14 9.7 10 5.2 2 1.8 1.3 2.4 1.1 4-.4 6-1.7 4-6 8-3.4 6-3.1 8-1.6 8 .6 4 .9 2 3.4 4 4.8 4 16.8 10 7.3 3.4 7 2.6 7 1.9 10 1.6 6 .2 6-.6 4-1 4-2.1 4-3.7 1.2-2.3-.6-6-3.7-18-.5-6 1-4 1-2 1.6-2 4-2.7 12.1-3.3 9.9-1.1 18 2.2 26 5.8 12 2 8-.1 4-.8 4.5-1.6-.2-232.6-7.9-11.8-1.9-2-2.5-.9-2-.1-12 2.3-6 .3-4-.4-4-1.3-12-5.5-6-3.6-10 .7-4-.8-8-2.8-10-.6-4-1.2-4-2.4-10.5-7.7-7.5-6.2-4-2.5-4-.7-18 2.2-4 0-4-.5-2-.7-6-3.8-6-.9-4-1.4-4-2.9-3.6-4.6-2.4-1-4 .3-4 3.1-2 .9-2 0-2-1.3-.5-2 .8-2 3.8-4 .9-4-.4-4-4.1-4-2.5-4-1.3-4-.5-6-5.9-2-4.4-4 .1 8.5 3.2 3.7 .6 5.4 2.7 2.4 .1 7.8 3.3 3.7 .4 8.7 2.9 2.8 .2 8.3 6.5 7 .4 4.9 2.9 2.8 .2 8.1 3.2 3.3 .3 12.4 2.3 2.4 4.2 .6 3.2 3.5-3.3 5.7 0 9.5 2.2 3.1 4.4 .9 .1 11 3.2 3.7 0 16.8-3.3 4.2 0 21.5-5.8 2.2-.9 12.6-5.5 1.9-1.1 5.5-20.1 0-.8-16.3zM300 497.3l-14 2.9-10 .5-4 .9-3.4 2.4-.8 2 .3 2 1.9 3.4 2 1.6 2 .7 4-.4 4-2.9 4-5.4 2-1.9 2-.8 6-.6 4-1 2-1.1 1-1.6-1-2zM750 524.6l-10-.1-2 1-6 4.1-4.7 2.4-1.4 2 .6 2 1.6 2 3.9 2.2 14 2.2 4 .2 4-.8 8.4-3.8 4.9-4 2-4 0-2-1-2-2.3-2-4-1.4-4 .1zM282.5 605.9l-2.2-5.9-4.7-8-2.6-6-3.1-16 .5-12-.6-6-1.8-5.5-2.8-4.5-3.2-7-2-2.3-2-1.5-4-1.8-4-.5-6 .1-3.1-1-8.6-6-7.4-6.9 .3 10 2.2 2.5 4.3 .6 3.1 3.3 .4 4.3 6.3 6.4 .8 5.2 4.7 5 4.5 .8 .8 4.9 5.8 5.5 .2 7.4 3.2 3.3 .8 12.2 6.1 2.2 6.4 6.8 .2 7.4 2.5 2.9zM214.8 426.9l1.2-4.9-1.2-4.3z"/>
<path fill="#ff8100" d="M772 212.6l6-4.3 2-4.7-.7-1.6-3.3-2.4-3-3.6-1.7-4-1.2-6-4.1-1.3-4-.3 0 2.1 3.2 3.7 .6 5.4 2.7 2.4 .1 7.8 3.3 3.7zM782 221.2l-6.7 2.8 .1 5.3 6.5 7 .4 4.9 2.9 2.8 .2 8.1 3.2 3.3 .3 12.4 2.3 2.4 4.2 .6 3.2 3.5-3.3 5.7 0 9.5 2.2 3.1 4.4 .9 .1 11 3.2 3.7 0 16.8-3.3 4.2 0 21.5-5.8 2.2-.9 12.6-5.5 1.9-1.1 5.5-20.1 0-.7-14.1-4.9 5.2-2.9 1.9-26-4-16-3.9-16-1.1-4 .5-2 1-1.8 1.6-1.1 2-.7 4 2.5 18 .7 22-.4 18 .4 4 1.4 4 1.8 2 3.2 1.4 17.5 4.6 12.5 2.8 10 3.1 6 2.5 12 6.2 6 1 10-.4 12 8.6 12 6.4 4 2.7 3.1 3.1 4.3 6 2 4 .5 4-1.2 4-7 10-2.8 6-.9 4-.2 4 1.5 6 4.1 6 9.2 8 9.4 5.5 10 3.7 8 1.6 8 .5 7.9-1.3 4.1-2.6 .9-1.4 .1-2-4.7-20-.8-6 .2-4 .8-4 2.2-4 1.9-2 3.4-2 4-.8 16-1 10 .2 16 2.5 20 4.7 18 2.7 8-.3 4-1 4.5-1.8-.2-226.7-8.3-13.3-2-2.4-4-.8-14 2.3-8-.5-6-2.1-10-4.7-6-3.5-10 .4-4-.7-8-2.6-12-1.1-6-2.9-20-15-4-1.6-5.5 0-16.5 2-6-.3-2-.5-2-1.2-4-3.3-6-.5-4-1.1-4-2.6-2.4-2.5-1.6-2.7-2-1.1-4 1.8zM273.1 508l.9 .8 2 .2 1.7-1 .8-2-2-2-2.5 .2-1.6 1.8zM279 605.9l-6.4-15.9-1.6-6-.4-6-1.7-8 .7-12-.6-6-2.4-6-3-4-2-4-3.6-4.1-4-2.1-4-.8-8-.6-4-1.6-7.8-4.8-5.2-4.2 .2 5.3 2.2 2.5 4.3 .6 3.1 3.3 .4 4.3 6.3 6.4 .8 5.2 4.7 5 4.5 .8 .8 4.9 5.8 5.5 .2 7.4 3.2 3.3 .8 12.2 6.1 2.2 6.4 6.8 .2 7.4 2.5 2.9z"/>
<path fill="#ff7900" d="M770 206.9l2 .1 2-.6 2.5-2.4-5.7-6-2.8-5.2-2-2.1-.7 .4 .5 4.5 2.7 2.4 .1 7.8zM788 220.2l-9.8 7.8-1.8 2.4 5.5 5.9 .4 4.9 2.9 2.8 .2 8.1 3.2 3.3 .3 12.4 2.3 2.4 4.2 .6 3.2 3.5-3.3 5.7 0 9.5 2.2 3.1 4.4 .9 .1 11 3.2 3.7 0 16.8-3.3 4.2 0 21.5-5.8 2.2-.9 12.6-5.5 1.9-1.1 5.5-20.1 0-.4-8.6-5.8 3.7-4.3 .8-6-.4-20-2.8-12-2.7-10 .6-6 1.3-2 2.3-.7 4.9 .4 8-.8 14 .4 14-.2 10 .4 6 .9 4 1.8 2 15.8 6.7 8 2.3 16 5.5 16 7.4 4 1 10 .1 4 .7 12 8.1 15.5 8.2 12.5 9.1 4 1.6 4 .6 4-.1 1.1 .8 1.9 6-.1 4-.9 2-1.8 2-8.2 6.7-4 5-2.8 6.3-.1 4 2.4 6 4.9 6 5.6 4.4 8 3.7 6 1.1 4-.2 3-1 2.2-2 1.3-4 0-4-2.9-18 0-6 1.6-4 1.8-2 2.9-2 4.1-1.6 8-.5 30 1.7 18 3.5 14 3.6 22 2.8 8-.3 4-1.1 4.5-2.2-.2-220.2-10.3-17.5-2-.8-2-.2-14 2-8-.6-6-2.1-16-8.3-2-.3-8 .5-4-.7-8-2.5-10-.6-4-.9-4-2.2-18-13.3-4-2.2-2-.6-6-.1-16 2.1-8-.2-2-.4-1.3-.8-2.7-4.4-6 .3-4-.9-5.2-3-4.8-4.5zM800 259.2l-1.6-1.2 .9-2 .7-.4 .6 .4 .5 2zM810 236l0-.1 0 .1zM271 591.5l-1.5-7.5-.2-6-1.1-4-.4-4 1-12-.2-4-1-4-1.6-3.2-6-8.4-4-3.6-4-1.5-10-1.1-4-1.1-6.7-3.1-6.2-4.2 .1 1.3 2.2 2.5 4.3 .6 3.1 3.3 .4 4.3 6.3 6.4 .8 5.2 4.7 5 4.5 .8 .8 4.9 5.8 5.5 .2 7.4 3.2 3.3 .8 12.2 6.1 2.2z"/>
<path fill="#ff7000" d="M784.6 228l-2.6 2.6-2.2 3.4 2.1 2.3 .4 4.9 2.9 2.8 .2 8.1 3.2 3.3 .3 12.4 2.3 2.4 4.2 .6 3.2 3.5-3.3 5.7 0 9.5 2.2 3.1 4.4 .9 .1 11 3.2 3.7 0 16.8-3.3 4.2 0 21.5-5.8 2.2-.9 12.6-5.5 1.9-1.1 5.5-20.1 0-.2-4.4-4.3 1.9-6 1.3-6 .1-28-1.8-6 .6-4 1.8-2 1.9-2 3.7-2 7.8-1.1 8.2-.3 8 .6 12 1.2 6 2 4 4.1 4 9.5 6 22 9.1 12 5.6 6 1.8 12 .4 4 1.2 10 6.8 14 6.8 12 7.1 6 2.6 10 2.8 10 7 4 1.7 6 .4 8-1.5 4 1.6 6 1.7 10 1.6 20 2.4 18 4.1 10 3 6 1 18 1.5 6-.1 6-1.6 4-2.4 .5-.3-.2-212.6-10.3-18.9-2-1.8-2-.5-14 1.5-8-.6-6-2.1-16-8.4-2-.4-8 .4-12-3.1-10-.4-4-.9-4-2-6-4.8-12-8.2-6-2.7-6-.2-24 3-6 2.2-2.9-1.8-1.1-4.3-8-2.9-6-3-2-.6-2 .4zM802 255.1l.9 2.9-.9 2.4-2 1.6-2 .3-.6-.3-1.2-2 0-2 .8-2 1-1.2 2-.8zM268.2 588.7l-.6-10.7-1-8 1.4-14-.6-4-1.4-3.4-8-10.2-3.5-2.4-4.5-1.3-10-1-5.2-1.4 .4 3.5 6.3 6.4 .8 5.2 4.7 5 4.5 .8 .8 4.9 5.8 5.5 .2 7.4 3.2 3.3 .8 12.2z"/>
<path fill="#ff6800" d="M786.4 234l-2.4 3.2-1.7 4 2.9 2.8 .2 8.1 3.2 3.3 .1 6.2 1.3 .1 2-1 6-8.3 2-.6 2 .7 2.1 3.5 0 4-.7 2-1.4 2.4-4.9 5.6-.9 1.8 2.4 2.5-3.3 5.7 0 9.5 2.2 3.1 4.4 .9 .1 11 3.2 3.7 0 16.8-3.3 4.2 0 21.5-5.8 2.2-.9 12.6-5.5 1.9-1.1 5.5-20.1 0 0-.6-8.5 2-6 .9-20 .3-8 1.4-2.9 1.1-3.1 2-3.2 4-1.8 4-1.6 6-.8 6-.2 6 .7 6 1.2 4 2.2 4 4.8 6 4.1 4 5.8 4 4.8 2.6 12 5 10 4.8 4 1.4 4 .7 10 .1 5.6 1.4 4.4 2.6 4 3.5 12 5.3 14 7.3 6 2.6 10 3.3 14 6.2 4 .8 12 .9 16 4 24 4 16 4.1 12 4 26 1.3 4-.4 4-1.8 4.5-3.8-.2-203.1-3.9-8.8-6.4-12.2-2-2.6-2.6-1.2-3.4-.1-12 1.1-8-1.3-6-2.6-14-7.4-2-.4-8 .2-12-3-10-.4-4-.7-4-1.9-6.8-5.5-11.2-7.2-6-2.5-6-.3-8 .8-14 2.6-8 2.3-4-.6-6.5-5.1-5.5-2.2-4-.1zM266 587.9l-.6-17.9 1.8-14-.6-4-.8-2-1.8-2.8-6-6.7-4-3-4-1.2-10-.6-4.9-1 .1 1.1 6.3 6.4 .8 5.2 4.7 5 4.5 .8 .8 4.9 5.8 5.5 .2 7.4 3.2 3.3 .8 12.2z"/>
<path fill="#ff5f00" d="M832 236.5l-14 3-16 4.3-2-.1-4-2.3-2-.5-2 .2-4 2.4-2.7 3.1 .1 5.5 3.2 3.3 0 2.4 1.4 .1 2-.8 2-2.2 4-6.9 2-1.4 2 1.6 2 3 1.9 6.8-.8 6-4.4 10-1.3 4-1.4 6.3-1 7.6 .5 .7 4.4 .9 .1 11 3.2 3.7 0 16.8-3.3 4.2 0 21.5-5.8 2.2-.9 12.6-5.5 1.9-1.1 5.5-8.6 0-6 2.4-10 1.3-10 2.2-15.2 1.2-6.2 2-3.9 2-2.7 2.1-3.1 3.9-2 4-1.3 4-1 6 0 4 1.1 4 1.7 4 4.9 8 3.3 4 4.3 4 4.1 2.9 10 4.1 9.9 5 4.1 1.5 6 .9 10-.2 4 .8 4 1.9 7.5 5.1 22.5 11.2 28 10.5 6 1.6 14 1.9 19.6 4.8 20.4 3.7 16 4.5 10 4.2 12-.4 18 .6 3.2-2.6 5.3-5.9-.2-189.9-4.3-12.2-3.5-8-4.3-8-2.2-2-4-.8-10 .9-6-.5-4-1-4-1.6-14-7.5-3.8-1.5-8.2 0-4-.6-8-2.3-10-.1-4-.6-4-1.7-10-7.9-8-4.6-4-1.8-6-.9zM263.7 587l.3-17 2.4-14-.4-3.4-1.1-2.6-6.9-7.6-4-3.3-4-1.1-13.4-.7 4.9 4.9 .8 5.2 4.7 5 4.5 .8 .8 4.9 5.8 5.5 .2 7.4 3.2 3.3 .8 12.2z"/>
<path fill="#ff5600" d="M787.7 254l2.3 1.4 2-.6 .7-.8 .7-2-.5-2-.9-1.1-2-.2-2 1.2-.8 2.1zM834.6 238l-16.6 3.7-6 1.8-4.5 2.5-1.1 2-.1 4 1.4 8-.2 4-5.9 22-1.2 7.2 1.5 .3 .1 11 3.2 3.7 0 16.8-1.6 2-.4 7-1.3 7.8 0 8.9-2.6 1-3.9 11.3-.2 2.5-1 .4-3 6.1-3.2 4.8-2 2.1-4 2.5-2 .5-4 .1-12-2.2-10 3.5-12.6 2.7-3.4 1.4-4 2.6-2.2 2-2.9 4-1.8 4-1 4-.1 4 .8 4 3.2 8 3.6 6 4.8 6 1.6 1.1 10 3.9 10 5.5 6 1.6 12-1 6 .8 4 1.9 9 6.2 17 8.9 10 4.1 20 6.9 6 1.6 16 2.4 22 5.5 16 2.8 16 4.6 10 3.7 24-.4 4-.7 4-3 6.5-8.2-.2-169.8-5.3-20.4-2.9-8-3.6-8-2.5-3.7-2-1.2-2-.5-12 .6-6-1-6-2.3-14-7.6-4-1.5-10-.4-10-2.6-10 0-6-.8-4-2.5-4.9-4.5-3.1-2.2-12-5.8-4-.7-4 0zM261.8 579l1-11 2.8-12 0-2-1.6-3.8-8-7.8-4-2.5-13-.2 2.5 2.5 .8 5.2 4.7 5 4.5 .8 .8 4.9 5.8 5.5 .2 7.4 3.2 3.3z"/>
<path fill="#ff4e00" d="M834 240.6l-8 2.3-8 1-4 1-4 2.3-1.6 2.8-.1 4 1.5 8-.1 6-2.2 12-3.1 10-1.2 10 .3 6.2 1.7 2 0 6.1 3.1 7.7 .3 2-.3 10-1.8 12-6.8 26-2.3 16-4.7 14-.9 8 .6 12-.6 2-1.8 1.8-2 .6-2-.8-1.6-1.6-7.2-12-.3-2 .8-8-1.1-4-2.7-4-3.9-3.8-3.9-2.2-2.1-.5-4 .5-13 4-5 2.7-4 3.6-3.1 5.7-.7 6 1 6 2.8 7 2 3.5 2 2.4 8 4.4 8 5.5 4 2.2 2 .6 4 .4 4-.8 10-2.9 4 .5 14 11.1 10 5.7 12 5.3 22 7.6 8 1.8 20 3.1 18 4.8 14 2 22 6.4 6 1.3 6 .1 10-.9 4-.7 4-1.5 4-2.9 2-2.2 2.7-3.8 3.8-7-.2-139.4-6.9-35.6-2.9-10-3.2-8-2.5-4-2.8-1.8-10 .5-8-1.3-6-2.4-12.4-7-5.6-2.4-10-.5-10-2.5-10 .1-6.8-.7-1.2-.4-8-7.4-2-1.3-6-2.9-6-2.3-6-.5zM260.2 573l4.6-17 0-2-.8-2.3-2-2.4-10-8-10.8 .7 1.1 5.4 4.7 5 4.5 .8 .8 4.9 5.8 5.5 .2 7.4z"/>
<path fill="#ff4500" d="M836 243l-8 3.4-10-.1-4 .8-2 1.1-1.5 1.8-.7 2 .5 4 2.4 8 .2 4-1.7 12-2.8 8-1.4 6-.5 10 1.5 8 5 10 .6 12-1.1 12-4.3 18-1 8 .8 6.6 4 10.1 .4 3.3-1.8 4-7.1 10-3.5 7-6.5 19-.3 2 1 4 2.5 4 4 4 9.3 6.1 10 4.7 26 8.8 6 1.3 22 2.7 16 4.3 14 1.6 16 4.7 10 1.7 6 .2 6-.6 6-1.4 4-1.7 4-2.8 4-5.1 4.4-8.5 4.1-10.3-.1-99.5-5.2-22.2-4.9-36-2.3-9.4-2.4-6.6-1.6-3-2-2.2-2-.5-10-.3-6-1.3-8-3.6-12-7-4-1.6-10-.8-8-2.1-14 .1-6-.7-9.9-9-8.1-3.3-4-1.1-4-.3-4 .5zM862.5 384l-.5 .3-.5-.3-.2-2 .7-.4 .7 .4zM758 398l-6.2 2-3.8 2.7-2 2.3-1.6 3-.6 2-.1 4 1.4 6 2.2 4 1.7 2 12.2 12 2.8 1.4 2 .4 4-.7 4.7-3.1 1.5-2 1.1-4-.8-4-5.3-12-2.3-10-2.9-3.8-4-2zM258.4 571.1l5.6-15.1 .1-2-.9-2-3.2-2.9-8-5.5-2-.2-8.2 .9 .5 3.1 4.7 5 4.5 .8 .8 4.9 5.8 5.5z"/>
<path fill="#ff3c00" d="M840 244.8l-2.4 1.2-2.4 2-1.2 2-.8 6-.7 2-2.5 1.9-2 .2-2-.8-1.2-1.3-1.7-6-3.1-2.5-4-.7-2 .5-2 1.6-.5 1.1-.2 2 .7 2 3.8 6 1 4-.4 4-1.7 8-4.4 16-.7 6 .2 6 1.3 6 4.4 8 1.5 4 1.9 8 .7 8-1 10-4.2 16-.4 6 1.1 4 5.7 12 .6 6-.9 4-2.3 4-10.2 10.6-4 5.6-2 3.7-2.6 6.1-.9 4 .2 4 .6 2 2.5 4 2.2 2.2 5.3 3.8 6.7 3.7 26 9.4 6 1.7 6 .9 20 1.5 16 2.9 14 1.6 6 1.1 10 3.3 2 .2 12-.5 6-1.2 4-1.5 4-2.4 4-3.7 6-9.1 6-14.9 1.3-5 .6-6-.9-16 1.3-28-.5-14-1.8-11.6-6.5-28.4-2-34-1.7-10-2.6-8-1.2-2.3-2-1.9-2-.8-10-1.5-6-2-20.4-11.5-3.6-.8-8-.7-8-2-14 .3-6-.5-3.4-2.3-5.4-6-3.2-1.7-10-2.6-4 0zM864 375.5l2 .8 2 1.9 1 1.8 .4 4-1.4 3.1-2 1.9-2 .8-4 0-3.2-1.8-1.7-2-.9-2-.2-2 .5-2 1.2-2 2.3-1.8 2-.8zM761.1 432l1.9 4 3 1.7 3.4-1.7 1.1-2 .3-2-.8-3.1-2-2.7-2-1.4-2-.4-2 .9-1.2 2.7zM258.2 565.4l4.7-9.4 .4-2-1.3-2.1-10-5.4-4-.4-5.8 1 4.8 5.3 4.5 .8 .8 4.9 5.8 5.5z"/>
<path fill="#ff3400" d="M814 255.4l2 .8 2-1.2 .3-1-1-2-1.3-.6-2-.1-.7 .7-.2 2zM838 251.6l-2.7 6.4-1.3 2-4 3.1-6 2.7-2 2.2-4 10.3-3.6 11.7-1.2 6-.5 8 .8 6 1.5 4 6.3 10 3.1 6 2.2 6 .8 4 .3 8-1 8-2.2 8-2.6 6 1.1 2 7 4.7 4 1.9 4 .4 4-2 7.6-5 6.4-3 6-1.4 4 .3 4.6 2.1 3.8 4 1.8 4 .4 6-1 4-2.5 4-3.1 2.7-4 1.8-6 .5-4-.8-4.2-2.2-1.8-1.9-2-.7-4-.3-2 .5-2 1.3-4 5.7-6 11.3-6 1.5-6 2.4-6 3.8-4.5 4.4-2.9 4-1.7 4-.5 4 1.1 4 1.4 2 3.1 3 12 6.8 10 2.9 16 6.2 6 1.2 22 .1 20 1.5 22-.2 4-.6 4-1.3 2.6-1.6 3.4-3.7 2-.4 6 0 4-1.5 4-2.8 4-4.6 4-6.4 3.3-6.6-3.3-6.2-2.6-3.8-.4-2 3-11.2 2.6-12.8 1.8-12 .6-10-1.2-10-7.5-32 1.5-16 0-14-1.4-12-2.4-8-1.5-2-2.5-1.9-10-3.2-4-1.7-18-11-4-1.6-10-1.2-10-2-12 .5-6-.3-4-2.3-6-6.8-10-2.4-4 .1-4 1.4-2 1.4zM257 562.5l5-6.8 .5-1.7-.5-.9-10-3.5-4-.2-3.3 .6 2.3 2.4 4.5 .8 .8 4.9z"/>
<path fill="#ff2b00" d="M842.2 252l-6.2 9.7-2 2.2-7.5 6.1-2.5 3.4-2 3.9-3.2 8.7-2 8-.9 8 .4 8 1.7 3.9 6 6.5 8 7.5 10.2 8.1 .9 2 .2 2 .7 15.6 .7 2.4 1.3 2.1 2 1.6 2 .6 8-6.2 2-.8 4-.4 4 1 4 1.9 4 2.7 3.6 3.5 2.8 4 2.3 6 .8 6-.8 8-1.1 4-1.9 4-1.7 2.3-4 3.4-4 1.8-4 1.2-16 1.5-4 .9-4 1.8-12 8-16 5.6-4 2.2-4 3.6-1.8 3.7-.2 2 .5 2 1.5 2.3 2 1.6 4 2.1 18 6.6 14 6.7 4 1.2 6-.1 14-1.7 22-1.5 6-2 5.4-3.2 2-2 2-4-.2-4-4.3-10-.9-4 .2-4 1.8-3.7 2-1.9 2-1.1 4-1 6 .4 10 3.3 2-.2 2-1.3 4-5.1 6-10 3.3-7.4 2.7-7.5 3.2-12.5-.1-2-5.5-20-1.5-10-.1-8 2.2-14 .8-10-.4-10-1.2-8-1.4-4.4-2.6-3.6-15.4-9.2-13.1-8.8-4.1-2-20.8-3.5-12 .7-6-.3-2.4-.9-3.1-2-6.2-6-4.3-1.1-6 0-3.2 1.1zM860 318.4l2.7 1.6 1.1 2 .4 2-.2 4-1.6 4-2.4 3.1-2 1.1-2 .4-4-1-2.5-1.6-.9-2 .2-2 1.5-4 2.6-4 2-2 3.1-1.5zM926.2 430l-.2 2 1 2 1 .7 2 .4 2-.7 1.7-2.4 .2-2-.7-2-1.2-1.8-2-.8-2 1.2zM254.4 560l3.4-4-1.8-1.7-4.4-.5 .7 4.3z"/>
<path fill="#ff2200" d="M846 253.6l-2.4 2.4-5.8 8-9.4 10-4.7 8-2.3 6-1.5 8-.7 14 .8 2 10 6.2 6 2 6-.3 10.4-3.9 3.6-.9 4 .1 2 .6 3.3 2.2 3 4 5.7 13.9 3.7 6.1 4.3 4.6 10.9 9.4 4 6 1.6 6 .3 6-.4 4-2.7 12 .6 4 1.7 2.4 2 1.1 2 .4 6-1 7.1-2.9 6.9-4.1 5.8-5.9 3.6-6 1.8-6 .3-4-1.2-14 .2-6 1.6-8 5.9-21.6 1.3-10.4-.3-6-1-5.4-5-12.6-3.2-4-7.1-6-10.8-8-5.9-3-4-1-16-2.3-12 .9-6-.3-5.6-2.3-6.4-5.1-4-1.3-4 .2zM848 417.2l-6 2.7-16 9.3-6 2.1-8 .3-2 .9-.7 1.5 .7 1.1 2 .5 8-.1 4 1.2 8 4.6 15.7 10.7 2.3 1 5.1-1 28.9-8.7 5.7-3.3 2.9-4 .8-4-1.4-4.9-4-6.4-4-3.3-6-1.6-14-.5-10 .4z"/>
<path fill="#ff1a00" d="M846.9 258l-15.2 18-3.7 5.4-2.4 4.6-1.7 6-.3 6 1 8 1.4 2.6 4 2.6 6 1.7 6 .1 14-1.6 4 .4 4 1.5 4 2.6 2.2 2.1 9.8 12 4 3.7 4 2.7 6 2.1 6 .2 10-2.5 8-.8 4-1.5 4-3.1 3.5-4.8 2.9-6 2.1-8 .3-6-1.3-6-4.7-8-.2-2 .7-4-.8-4-2.8-4-4-4-4.7-4-5.8-4-3.2-1.6-4-1.1-16-2.3-14 1.1-4-.2-4-1-8-4.4-4-1.3-4 .7zM844 430.2l-1 1.8-.4 2 .3 2 .9 2 2.2 2.7 4 2.5 2 .3 2-.2 4-1.8 4.2-3.5 1.3-2 .5-2-.2-2-1.2-2-2.5-2-4.1-1.6-4-.4-2 .3-3.8 1.7z"/>
<path fill="#ff1100" d="M850 261.1l-4 3.6-9.1 11.3-6.9 9.6-2 3.9-.5 2.5 .5 4 2 5 2 2.3 2 1.4 4 1.4 18 1.3 8 2.1 7.3 4.5 12.7 10.8 4 2.4 6 2.1 8 .4 10-1.9 6-2.7 3.9-3.1 1.7-2 3.3-6 1.1-4 .3-4-.3-4-2.5-10-.3-8-.6-2-2.3-4-3.5-4-4.5-4-4.3-2.9-4-1.8-14-2.5-6-.2-14 1.3-6-.8-10-3.3-3.5 .2z"/>
<path fill="#ff0900" d="M849.1 268l-3.6 4-4.3 6-7.1 12-.3 2 .9 2 1.6 2 2.6 2 4.8 2 14.3 3.4 6 2.1 6 3.1 14 9.6 6 2.8 4 1.1 4 .5 4-.1 8-2 6-3.6 4-4.9 1.7-4 1-6-1-18-1.5-4-2.6-4-3.9-4-3.7-2.8-4-2.1-3.5-1.1-12.5-1.8-18 1.7-16-1.5-4 1.3z"/>
<path fill="#ff0000" d="M874 268.2l-14 .8-4 1-3.1 2-2 2-2.8 4-2.5 6-.3 4 .6 2 1.4 2 2.4 2 3.5 2 14.8 6.9 14 8.6 8 3.3 6 1.1 6-.3 6-2 4-2.7 3.7-4.9 1.6-4 .8-4 .5-8-.2-4-.8-4-1.9-4-3.2-4-2.5-2.3-4-2.4-4-1.5-6-1.1-8-.5z"/>
<path fill="#f60000" d="M888 268.5l-24 5-4.9 2.5-1.9 2-1.8 4 .2 4 2.3 4 4.7 4 12.7 8 6.7 3.9 6 2.4 6 1.2 6-.3 4-1.3 4-2.5 2-2.1 2.1-3.3 1.4-4 1.1-6 0-4-.8-4-1.8-3.9-1.5-2.1-4.6-4-3.9-1.8-4-1-6-.7z"/>
<path fill="#ee0000" d="M884 272.4l-10.6 3.6-3.6 2-1.8 1.6-1.5 2.4-.3 2 1.2 4 3.4 4 5 4 6.2 3.7 5.6 2.3 4.4 .9 4 .1 4-.9 3.8-2.1 3.6-4 2.3-6 .2-6-1.3-4-1.2-2-1.8-2-2.7-2-4.9-1.9-8-.7z"/>
<path fill="#e50000" d="M888 276.1l-4.7 1.9-3 2-1.7 2-.8 2 .1 2 .9 2 3.8 4 5.4 2.7 6 .7 4.6-1.4 3.4-3.1 1.4-2.9 .3-4-1.6-4-2.1-2.1-4-1.8-4-.4z"/>
</g></g>
<g stroke="#000" stroke-opacity="0.2" stroke-width="1" stroke-dasharray="2 6.3" fill="none">
<path d="M306.5 84V759.6"/>
<path d="M473.5 84V759.6"/>
<path d="M640.5 84V759.6"/>
<path d="M806.5 84V759.6"/>
<path d="M148 699.5H965"/>
<path d="M148 558.5H965"/>
<path d="M148 414.5H965"/>
<path d="M148 265.5H965"/>
<path d="M148 111.5H965"/>
</g>
<path d="M139.5 75.5H973.4V767.9H139.5Z M148 84V759.6H965V84Z" fill="#fff" fill-rule="evenodd"/>
<path d="M139.5 767.9H223.1V759.6H148V734.2H139.5ZM223.1 75.5H306.5V84H223.1ZM306.5 767.9H389.9V759.6H306.5ZM389.9 75.5H473.3V84H389.9ZM473.3 767.9H556.7V759.6H473.3ZM556.7 75.5H640.1V84H556.7ZM640.1 767.9H723.5V759.6H640.1ZM723.5 75.5H806.9V84H723.5ZM806.9 767.9H890.3V759.6H806.9ZM890.3 75.5H973.4V94.3H965V84H890.3ZM965 734.2H973.4V699.5H965ZM139.5 699.5H148V629.6H139.5ZM965 629.6H973.4V558.9H965ZM139.5 558.9H148V487.3H139.5ZM965 487.3H973.4V414.6H965ZM139.5 414.6H148V340.9H139.5ZM965 340.9H973.4V265.8H965ZM139.5 265.8H148V189.4H139.5ZM965 189.4H973.4V111.4H965ZM139.5 111.4H148V92.9H139.5Z" fill="#000"/>
<g fill="none" stroke="#000" stroke-width="1"><rect x="139.5" y="75.5" width="833.9" height="692.4"/><rect x="148" y="84" width="817" height="675.6" stroke="#000" stroke-width="1.25"/><path d="M139.5 75.5L148 84M973.4 767.9L965 759.6"/></g>
<defs><clipPath id="cc"><rect x="139.7" y="75.6" width="834" height="692.3"/></clipPath></defs>
<g clip-path="url(#cc)" fill="none" stroke="#62410a" stroke-linejoin="round" stroke-linecap="round">
<path fill="#62410a" stroke="#62410a" stroke-width="1" d="M480.3 182.7L481.9 182.5L483.4 181.6L484.6 181.9L486.3 182L488 182.3L487.1 184.4L486.2 185.1L484.6 185.7L483.3 186.8L482.8 188.3L480.3 189.1L478.6 187.4L479.4 184.9ZM490.6 187.4L492.6 187.3L493.2 186.4L494.8 186.6L496.5 185.6L497.9 184.6L499.1 184L500.8 183.6L500.6 185L501 187.4L501.3 188.6L501 190.7L500.7 192.6L499.6 193.7L499.1 195.1L499.2 197.2L499.1 198.6L497 200.3L494.8 201.1L493.7 201.5L492.3 202.8L491.7 204.8L490.6 206.3L489 207.6L489.3 209.7L487.1 210.6L485.7 210L484.6 209.3L484.6 207.3L483.7 205.4L484.1 204.1L483.9 202.7L484.6 201.1L485.8 200.4L486.7 199L488.4 198.6L489.7 197.7L490.8 197.7L492.7 196L492.7 194.8L494 193.4L492.5 192.5L491.4 191.7L490.1 189.6ZM465.7 206.7L467.4 205.8L468.7 208.4L470.8 208L472.2 209.8L474.3 210.1L476.8 209.3L478.8 209.5L480.3 210.1L482 211.5L481.1 213.1L480.4 214.6L479.8 215.7L478.8 216.6L476.8 216.6L475.8 217.7L474.3 218.3L472.8 218.7L471.3 219.6L469.6 218.3L469.8 216.4L469.6 214.8L469.8 213.2L471.3 212.3L469.1 210.6L467.6 210.8L466.6 209.3ZM768.6 364.9L769.6 363.8L771.1 363.6L773.5 362.9L774.6 365.3L775.4 366L776.7 367.4L776.3 369.6L773.7 370.4L772.6 369.4L770.7 368.7L769 367ZM746.3 393.6L747 392L748.4 390.6L750.2 389.2L750.9 388.8L752.3 388L753.6 386.9L755.9 387.6L756.3 386.7L757.4 385L758.8 385.8L760.5 386L761.7 385.4L762.9 386L765 386L766.8 386.3L767 387.9L767.7 389.3L766.2 389.2L764.3 390.6L763 391.5L761.5 391.5L760 392.3L758.3 392.7L756.4 392.5L754.9 393.6L753.9 393.7L752.8 395.8L750.6 394.8L749.5 394.8L747.1 395.3ZM734.3 393.6L735.6 392.4L737.3 393.3L736.9 394.7L735.1 394.8ZM739.9 394.8L741.6 394.2L743.7 395.3L742 395.9Z"/>
<path stroke-width="1.6" d="M350 199L348.5 199.7L347.3 200.1L345.9 200.9L344 200.4L342.6 200.9L341.3 201.7L340 202.4L338.7 204L336.9 203.5L336.5 205L334.6 205.4L332.8 205.5L331.5 206L330 207L328.4 207.6L326.9 209L325.3 209L324.6 210.1L323 210.7L321.2 211L320 212L319 212.8L317.2 213.7L316.1 214.4L314.9 214.3L313 215.5L312 216L311.7 217.8L309.9 217.9L308.4 218.8L307.8 220.8L305.8 220.9L304.5 221.5L304 223L303.1 223.7L301.6 224.6L301 226L299.9 227.3L298.2 227.1L297.6 229.6L296 230L294.1 230.2L294.5 232.2L292.1 232.2L290.8 234L289 233.7L288 235L286.5 235.6L284.8 235.6L283.7 236.8L282.7 238.6L281 237.9L280 239L279.2 240.6L277.4 239.8L275.5 241.4L274.2 242.7L272.8 242.3L271.2 243.2L270 244L268.4 244.9L267.8 245.8L265.9 245.8L265 247.5L263.4 247L262.9 249.1L261.4 249.3L260 250L258.6 250.1L257.6 251L256.7 253L254.9 253.1L254.1 254.2L253 255.2L252 256L250.9 257.1L249.5 257.8L248.2 258.8L246.6 259.2L246.5 261.1L245 262.2L244 263L243.1 264.4L241.7 264.1L241.4 267L239.8 267.6L239.1 269.1L238 270L237.1 271.1L235.1 272L235.8 274.1L234.8 275.4L235.2 277.3L233 278L232 278.9L231.8 281.1L230.7 282.5L231.6 284L230.3 285.4L229.3 285.7L229 288L228.2 288.9L228.1 290.4L228 292.6L227.9 293.8L227.1 295.1L227.3 297L227 298L226.3 299.4L225.3 300.6L226.1 302.4L226.4 304.2L226.2 305.7L227.1 306.7L225.8 308.2L226 310L226.8 310.9L225.9 313.2L226 314.2L227.1 315.4L227.1 317.7L228.3 318.9L228 320L228.5 321.6L231.1 322.1L230.9 323.6L232 325M320 213.6L318.5 214.4L317.1 214.6L315.3 216L314.3 216.5L313.3 218.6L312 219L310.8 220L309.2 220.4L309.4 222.9L307.8 223.9L306.2 223.8L305 225L303.7 226.2L302.4 227.2L301.3 228.2L299.5 228.7L299.2 230.4L298 231M284 239L283.4 240.5L281.6 241.6L280.3 241.9L278.7 242.2L277.4 243.1L276 243.6L274.2 243.5L273 244.9L272.4 245.7L270.6 246.9L269.9 248L268 248L266.2 248.5L265.1 249.8L264.2 250.3L263.3 252L261.2 251.7L260 253L259.3 254.2L258.2 255.6L256.7 256.6L256 258.1L254 258M249 262L248.6 262.9L246.8 263.7L247 265.7L245 265.8L243.6 266.8L243 268L241.8 269L240.6 270.1L240.6 270.9L239.1 272.7L239 273.8L238 275L236.6 275.4L236.1 278.1L236.4 279.4L234.4 279.8L234.3 281.8L234 283L234 284.6L232.8 286.2L232.5 287.5L232.6 289.1L231 290.4L231 292L231.3 293.3L229.1 295L230.2 295.5L229.8 297.8L229.1 299.1L229.8 300.7L229.6 302L230.7 303.7L229.5 304.8L229 307L230.6 307.8L229.7 309.6L230.1 310.7L228.8 312.8L230 314L230.9 314.9L229.8 317.3L230.1 318.7L231.9 319.7L232.8 320.7L232.1 322.7L232.4 324M312 216L310.7 215.3L310.1 213.7L309 213L308.5 211.5L307.2 210.4L306.9 209.4L306 208L304.7 206.7L304 205L306.4 203.6L305.6 202L305 200.4L307 200.7L309 201L309.5 200L310.4 198.4L312.5 198.2L314 197.6L315.4 198.3L317 198.6L317.2 199.9L318 201.6L317.9 203.8L316 205L317 207.6L315.5 208.8L314 209L314.9 209.1L316 211L317.9 209.6L318.9 209.6L321 209L322.5 208.1L324 208L322.5 208.8L320.7 209.5L320 211L318.6 211.7L316.8 211.6L316.3 212.3L315 213.6M300 220L300.8 221.5L301.6 222.9L302 224L303.4 222.1L304 220.4L306.1 219.3L307 219M343 199L343.2 196.9L342 195L342.7 192.3L343 191L344.3 189.9L345.4 189.4L346.3 191.1L348 192L348.3 193.8L347.1 195.6L347 197L345.6 198.3L345 200ZM251 238L251.8 239.4L252.9 240.1L254 241L253.6 242.7L253 244L255 243.9L257 245L256.6 243.4L256 241L256.7 240.1L258.6 238.6L260 238L260 239.5L260.7 240.5L261 242.4L262.9 242.9L264 241.6L265.3 240.7L265.6 239.1L267 237.4L266.2 238.9L267.3 240.4L265.7 241L265.6 243L265.3 244.7L263.7 245.3L262 246.4L263.6 245.9L265.3 245.7L267.1 245.6L268 244.4L269 243.3L270.2 243L272 243M246 248L247 249.5L248 251L247.3 252.5L247 255L248.8 255.1L250 256.4L250.9 255.2L252 254M255 252L256.5 251.3L258.6 250.7L260 249.6L261.1 248.9L261.8 248.3L263.5 246.7L265 246.4M232 263L232.9 261.3L234.4 261.3L236 260L237.2 259.2L238.9 258.8L240 258L240.8 258.8L242 259.9L243 261L241.7 261.8L241.5 263L240 264L239.3 265.4L238 267L236.2 268.1L234 268M222 271L223.3 270.3L224.7 270.4L226 269.6L227.8 271.1L230 270L228.9 271.3L229 273L229.1 274L231 275L229.6 275.9L228 276M233 278L230.8 279.1L230 280L228.9 278.6L228 278L226.5 278.9L225.8 279.8L225 281L226.1 282.1L228 283M229 290L227.7 289.1L225.1 289.1L224 289L222 288.6L220 288L218.4 288.1L217.5 289.8L216 290L214.6 291.1L214 292.4L215.9 292.7L216.3 294.3L218 294L219.3 293.6L220.8 293.7L222 292.4L222.6 293.6L224 294.4L222.6 295.4L221.1 294.8L220 296M227 302L224.9 302.9L223 303L222 304.6L221 306L222.3 307.9L224 308L222.8 309.6L222 310M191.6 154.4L192.8 155.6L193.6 156.4L195 158.4L193.9 159.5L192.4 160L191.2 157.6L190.5 155.4ZM192.4 166.4L193.2 167.6L195.2 167.6L194.4 168.8L192.4 167.6ZM208.4 256.4L209.7 257.2L210 259.6L209.7 261.1L210.8 262.4L211.2 264L209.6 262L209.2 260.8L208.8 259ZM157.6 302L158.5 302.9L160 304.4L160.9 305.6L161.4 306.9L162.4 308L163.4 306.6L165 306L165.9 308.4L166 310L166.9 311.3L168.4 311.7L169.6 313L169.7 314.5L168.6 316.1L167.9 318L168 319L165.6 320L164.8 318.4L166.4 316.8L164.4 315L163.3 313.8L162.8 312.2L162 311L160.6 309.5L159.6 308L158.9 306.3L158.4 305L157.1 304ZM232 325L232.4 326.2L233.6 328L233.9 329.6L234 331L233.7 332.6L234 334L235.1 335.4L234.2 336.9L234.7 338.7L235.2 340.1L233.8 341.4L235 343L234.8 344.4L233.9 345.9L234.1 347L234.4 348.7L235.2 350.6L233.7 351L234 353L233.1 354.2L232.6 355.9L233.1 357.5L231 358.3L231.8 360L231.2 361.9L230 363L228.4 364L228.3 366.2L228.3 367L227 368.3L227.3 369.6L225.8 371L226 372.6L224.9 373.9L224 375L223.6 376.3L223.2 378L222 378.7L221.8 380L221.7 381.8L220.6 382.6L220.9 384.4L221.2 385.9L220 387L220.1 388.6L220.2 389.5L219.1 391.4L219.2 393.1L218.8 394.1L218.2 395.3L218.5 397.2L217.4 398.5L217.4 399.9L217 402L217 403L217.1 405.1L216.9 405.9L216.3 407.5L217 408.1L215.6 410.2L215.4 412.1L215.5 412.9L214.9 414.2L214.3 415.1L215 417L215.1 417.6L214.2 419.8L213.9 422L214.3 422.9L214.5 424.3L214 426M229.6 314.6L230.5 316.1L230.5 317.6L231 319L231.5 320.7L231.4 322L231.6 323.5L233 325.3L232.3 326.3L232.4 328.2L234.2 329.8L233.6 331L233.6 332.9L233.8 334.2L235 336L234.2 337.3L234.4 339M226 271L224.8 271.9L223.8 272.7L223 274L224.1 274.2L226.6 274.5L228 275L226.6 275.4L225.7 277.4L225 278.3L224 279L222.5 280.3L222.1 281.9L222 284L220.9 284.9L219.7 286.2L219 287L217.2 286.5L216.5 288.8L215.4 289.8L214 290L214.7 291.2L215.5 291.9L217 293L218.4 292.6L220 291L221.4 292.1L222.4 294L222.1 296L221.5 297.2L221 299L221.6 301L222.4 302L223 303.4L221.7 304.7L222 307.4L221 308L220.7 309.7L223 311L223.6 312.6L223.6 314.3L224.6 315.2L225 317L224.6 318.9L225 320.2L224 322L224.7 322.9L226 324.5L227 326L227.4 327.6L228.7 329.1L229 331L229.2 332.3L229.5 334.2L229.2 336.1L230 337L231.1 338.2L233 339.7L232.4 341.4L233.6 339M222 360L221.3 361.3L220.1 361.5L219 363L217.6 363.8L217.1 365.8L215.2 365.2L214 367L214.7 368.6L215.9 369.9L217 371L215.6 371.9L214.9 373.3L214.4 375L214.8 376.4L216.4 378L217 379L216.1 380.5L216.3 382.4L215 384L215.4 385.9L215.7 387.5L216.4 389L215.4 390.6L215 391.5L213.4 392.5L213 394L212.5 395.3L211.7 396.9L211 398L211.3 399L212.1 400.7L213.5 401.7L213.6 403L213.4 404.5L212.3 406.2L212.7 407.7L212 409L213.5 410.6L214 411.8L214.4 413L214.2 414.8L212.5 415L213.1 417.7L212.4 419L212.6 420.2L211.5 422L213.8 423.3L214 424.8L213.2 426M221 360.6L222.7 361.6L224 363L222.6 363.8L223.3 365.4L220.9 366.4L221 368.2L220 369L219.5 370.6L220.7 372.1L218.7 373.6L219 375L218.3 375.7L218.2 378.1L216.6 378.9L217.6 381L217.5 382.5L216.7 383.7L216.3 385L216.6 386.5L216.4 387.9L217 390L216 391L215.6 392.3L215.4 394.1L215.8 395.3L214.8 396.8L215.1 397.6L213.9 399.6L214.4 401M209 257L209.7 258.7L210.4 260.6L210.6 262.3L211.2 264.2L209.6 262L208.9 260.6L208.9 258.9ZM170 331L171.6 330.1L173 330.6L175.6 330L175.6 332.4L174.4 334L174.4 335.8L172.7 336.9L173 338.6L172.1 336.9L172 335L171.6 334.1L170.3 332.4ZM215 426L215 427.5L214.6 429L214.5 430.4L214.7 431.8L214.6 433.2L214.5 434.5L214.5 436.2L214.6 437.7L214 439.1L213.5 440.1L214 442L213.9 443.2L213.3 445.4L214.2 446.6L213.2 447.9L213 449.1L212.7 451L212.8 452.4L212.5 453.9L212.4 455.4L213 457.1L212.1 458.6L212 460L212.1 461.5L211.6 463L211.2 464.8L211.8 465.7L211.1 467.7L211 469.1L211.3 470.4L211 472L211 473.4L212 474.8L211.1 476.9L212.2 477.9L212.2 479.4L212.1 481.1L213.1 482.6L213 484L213.7 485.4L214.1 486.8L214.6 488.2L215.7 489.2L216.2 490.9L216.4 492.6L217 494L217.6 495.5L218.6 496.7L219.7 498L219.8 499.9L220.6 501.1L221 502.7L222 504L222.3 505.5L222.9 506.9L223.5 507.9L224 509.1L223.9 511.1L224.7 512.1L224.8 513.6L225.2 514.6L226 516L226.8 517.4L226.7 519L227.9 520.1L228.4 521.5L228.4 523.2L229.5 524.9L230 526L230.6 527.6L231.9 528.6L232.1 530.3L233 531.5L234 532.7L235 534L235.8 535.6L237 536.4L237.4 538L238.5 539.4L238.7 541.1L240 542L240.8 542.9L241.6 544.4L242.9 544.9L243.9 545.9L245 547.1L246 548L246.9 549.2L248 550.3L248.6 551.1L249.4 552.4L250.5 553.5L251 554.8L252 556L252.9 557.4L253.3 558.6L254.2 559.8L255.1 561.1L255.6 561.9L256.4 563.4L257 564.8L258 566L258.7 567.7L259.4 568.6L260 569.8L260.8 571.6L260.9 572.8L261.9 574.5L262 576L263 577.2L263.7 578.9L264.1 580.4L265.3 581.4L265.8 583.1L267 584L268.1 585.2L268.9 586.5L270 587.4L271 588.5L272 590L272.6 591.4L274.1 592.2L274.2 593.4L275.1 595L275.7 595.9L277.1 597L278 598L279 599.6L280 601M213.2 426L212.7 427.3L213.3 429L212.9 430.7L212.4 432.4L212.4 434L212.6 435.3L212.9 437L212.7 438.3L213.2 439.9L213.4 441.2L213.1 442.6L213.6 444L213 445.4L212.5 447.2L212.8 449L212.2 450.7L211.6 452L211.6 453.6L211 455.1L210.8 456.7L210.4 458.4L210.4 460M216 490L216.7 490.8L217.8 492.2L219.4 492.6L220 494L221 495.2L222.4 495.9L223.3 497.2L224.1 498L225 499L226.1 499.8L227.2 501.3L228.4 502L227.3 504L227.2 506L225.8 506L224 505.6L222.5 505.2L221 504.4L220.1 503.1L219.8 501.7L219.1 500.3L218.4 499L217.9 497.2L217.6 495.7L216.8 494L215.9 491.9ZM220 498L221.1 499.1L222.3 499.6L223 501L223.9 502.1L225 503.6M224 506L224.7 507.7L224.8 509.7L225.6 511L225.6 512.3L225 514M209 479.6L210.6 480.2L212 480.4L212.6 481.6L213.6 483L212.1 483.5L211 484.4L210.1 483.3L208.8 482.4L209 480.9ZM202.4 472.4L205 471.6L205.6 473L206 475L205.3 476.6L204.9 478.2L204.4 479.6L202.4 478.4L202.8 476.7L203.6 475L202.9 473.7ZM194.4 468.4L196 469.6L195.2 471.2L195.3 469.7ZM188 485.2L190.4 484L192 483L192.4 481.6L194 482.4L192.3 483.7L191 485.2M197.6 482L199.2 483.2M176.6 533L178 534L177 534.6ZM162 560L163.4 560.8L162.4 561.6ZM197.6 595.6L199.2 596.5L201 596.4L203 597.6L201.7 597.8L200 598L198.8 596.6ZM268 585L270.4 586L269.6 588.4M238 541L240 542M140 666L140.9 667.2L142.1 668L143.4 668.8L144 670L145.3 670.7L146.7 671.5L148 672.6L149.6 673.3L151.2 673.1L152.3 674.1L154 673.8L155.6 674.6L156.7 675L158.3 675.6L160 676L161.2 676.5L162.8 676.3L164.5 676.7L165.8 677.4L166.9 677.5L168.5 677.5L170 678L171.8 678.2L173.3 678.7L175 679.4L176.4 679.3L178.5 680L180 680L180.9 680.9L182.6 681.4L182.8 683.3L184 684L185 685.4L185.7 686.2L186.9 687.3L188 688L189.5 688L191 688.4L192.1 689.4L194.1 689.2L195.3 690.3L196.8 690.2L198 691L199.3 692.4L200.7 692.3L202.2 693L203.2 694L204.9 694L206 695L207.5 695.8L208.8 696.9L209.8 697.8L211.5 698.6L212.8 699.1L214 700L215.6 700.5L216.6 700.4L218.4 700.1L220.1 700.7L221.3 700.5L222.3 701.1L224 701L225.5 701L226.9 701.4L228.1 702L229.6 702.3L231.3 702.3L232.6 702.6L234 703L235.2 704.1L237 704.4L238.5 705.1L240 705.6L241.1 706.4L242.2 707.7L244 708L245.5 708.9L246.8 709.1L248.6 709.5L250 709.5L251.3 710.6L252.9 710.1L254.5 710.8L256 711L257.7 710.9L258.9 710.6L260.2 711L262 710.7L262.9 709.9L264.3 709.9L266 710L267.2 709.6L269.1 708.9L270 707.8L271.5 707L272.9 706.8L274.5 706.4L275.8 705.7L277.2 705L278.5 704.3L280 704L281 702.9L282.9 703.4L283.9 702L285 701.6L286.7 701L288 700.8L289.1 699.9L290.9 699.9L292 699L292.7 698.1L294.3 696.7L295.2 696.2L296.6 695.6L297.5 694.8L298.9 693.5L300 693L301.7 692.3L303 691.7L305 691.8L306.4 691.1L308 691L309.4 691.2L310.9 691.4L312.5 691.1L314.1 690.7L315.3 691.3L317.1 691.6L318.7 691.8L320 692L321.4 692L322.9 693.2L324.3 693.4L326 693.7L327.5 694.1L328.8 694.6L330.4 694.3L332 695L333.2 696L334.9 696.1L336.2 696.9L337.7 697.7L339.1 698.4L340.5 699.3L342 700L343.4 700.7L344.3 701.3L346 701.8L347 702.8L348.7 703.1L350 704M303 690.4L305.2 690.8L307 691.4L305.4 691.9L304 692M280 603L281.3 602.7L283 603.6L284.5 603.5L285.8 603.6L287.4 603.9L289 604L290.4 603.3L292 604L293.3 604.6L294.9 604.5L296.2 604.7L297.7 605.2L299.1 605.9L300.7 606.3L302 606L303.1 607.5L304.5 608L305.7 608.9L307 610L308.2 610.7L309.3 612L310.6 612L312 613L313.2 613.9L314.5 614.6L316.1 615.5L317.1 617.2L318 618L319 619L319.7 620.3L320.9 621L322 622L323.6 622.4L324.8 623.3L326 623.4L327.4 623L328.9 622.4L330.3 621.9L332 622.3L333.2 621.4L334.4 621.2L336 621L337.7 620.2L339.2 620.7L340.7 619.6L342.7 620.1L344 619L345.2 618.6L347.1 618.3L348.6 618.8L350 618M272 611L273.3 609.7L275 608.6L277 610L277 608.2L278 607L279.5 605.6L281 605L282.4 602.6L281.1 602.3L280 601M325 623.4L325.4 624.9L326 626.6M251 615L253 615L255 614.6L256.6 615.3L257.3 616.5L259 617.4L259.6 619.5L261 621L260.2 622.5L259.6 624.6L257.8 624.2L256 623.4L254.9 621.9L253 620.6L252.2 619.4L251.6 617.4ZM255 617L256.6 618.2L258 619.4L258.7 620.8L258.4 622.6M302.4 615L304 614.2L305 613.4L305.8 615.1L307 616.6L305.5 617.1L303.6 617ZM315.2 635L317 633L318.2 634.4L319 636L318.4 638L318 639.6L316 639L315.7 637.1ZM346 661L347 658.6L348.7 658.7L350 658M288 683L288.8 681.4L289 679.6L290.4 678L290.8 679.4L292.1 680.6L292.3 682.2L293 683.4L291.1 683.1L289.5 683.4ZM350 199L351.7 198.4L353.1 198.9L354.5 199.3L356.3 199.3L357.3 198.7L358.8 198.1L360.5 198.4L362 198.4L363.3 200.4L364.7 199.4L366.5 199L367.7 199.7L369.2 200.9L370.2 200.8L372.6 200.7L374 201L375.5 201.6L376.7 202L378.1 201.3L379.9 201.6L380.6 203.4L382 203.2L383.5 205.2L385 204.6L386 205L387.2 204.4L388.8 205.4L390.6 205.8L391.4 208.1L393.6 206.9L395.3 207.3L395.9 208.5L398 208L399.4 207.6L400.6 207.3L402.4 206.4M400 201L400.2 199.6L402.9 199.2L404 198L404.9 197.8L406.7 197.1L408.1 196.1L410 196.4L411.2 197.7L412.8 198.2L414 199L413.3 200.7L412 202L413.7 201.7L415 201.5L416.3 201.2L418 201L417.3 203.4L419 205L417.1 205.9L416.5 205.6L414.9 207L414 208L411.9 207.7L411.5 208.6L410 209.6L408.3 209.1L407.7 207.8L406 207L404.3 206.9L402.4 206.4L401.8 205L401.2 204.1L401 201.7L400 201M418 204L419.6 204.7L420.7 205.6L422 206L423.9 205.8L426 205L427 206.4L428.7 207L429 208L428.2 210.2L428.5 211.4L429.9 212.3L430 214L431.8 214.6L433 216L434.1 217.5L436.3 218.5L436 220L436.1 221.9L437.8 222.4L439 223L439.9 224.1L440.9 224.8L442 226L444 226.3L446 226.4L447.2 226.2L448.7 225.5L450 225L451 224.4L452.4 223L453 222L453.7 223.2L455.1 223.8L456 225L457.9 225.7L458.8 225.4L460.5 226L462 226L462.9 224.9L464.8 224.3L466 223.6L466.7 222.1L468.6 221.6L470 220L470.8 218.6L471.2 217.6L472 216L472.9 215L474 214L475 214.7L476 215.7L478 216L480 215.4L482 215L483.4 215.7L485 215.7L487.2 216.1L488.5 215.6L490 216L491.5 216.8L491.5 218.5L493.5 218.6L494 220L495.8 221L496.8 221L499 221L501 221.3L502 222L503.7 222.7L503.4 224.9L504.5 225.4L506 226L505 227.3L503.4 227.4L502 228L500.1 227.1L498 227L496.3 228.3L495 229.6L493 231M428 204L429.9 205.3L431 206L432.2 205.2L433 204L432.8 205.5L431.6 207.2L432 209L433.4 210L434 212L435.4 212.9L437 214L435.7 214.9L435 217L436.4 218L438 218.4M451 220L451.6 218.5L453.1 217.9L454 217L455.7 216.1L456.7 214.9L459 215L459.9 216.5L460.9 216.9L462 218L462.7 219.2L465 220L464.9 222.3L464 224L462.6 224.3L461 225.6L458.9 225.9L458.6 224.5L457 224L455.3 224.9L454 225.6M459 221L460.4 223M537 174L535 172L536 170L536.8 169.4L537.5 168L538 166L538.9 164.5L539.7 163.4L538.8 161.2L539 160L540.2 161.1L541 163L542.2 164.4L543 166L543.8 167.6L543 169L542.5 170.5L543.6 172L543.3 173.4L544 174.3L545 176L546.2 176.8L547.5 177.2L548.7 178L550 179L550.6 177.3L552.4 177.5L554 177L555.2 175.7L557.1 175.9L558.7 174.3L560 174M547 178L546.3 176L545 175L546.7 174.9L548 173.6M510 180.4L511.8 180.2L512.9 179.9L514.6 180.3L516 180M520 180.8L521.8 180.5L523.2 180.4L524.7 180.9L526 180.2M530 180L531.4 180.2L533.1 178.9L535 179.4M545 180.4L546.8 180.6L547.8 179.6L549 179.7L550.8 179.9L552 180M511.6 188L512.1 189.7L513.1 190.7L513 192L512.4 194L512.8 196M511.6 198.4L510.4 199.9L509.6 202M508 204L507.5 205.3L505.7 206.8L505 207M503.6 208L501.8 209.5L500.4 210M361 198L360.6 195.9L360 194L360.9 193L361.8 191.5L362 190L361.7 187.8L363 186.4L363.5 188.4L364.4 190L363.7 191.7L364.5 193.6L365 195L364.3 197.2L363 198.4ZM379 192L379.9 190.8L382 190.8L382.8 191.7L384.4 192.4L384 193.3L383 195L381.8 194.7L380 194.4ZM386 197L387.2 196.6L389 195.6L390.5 196.5L392.4 197L392.7 198.5L393 200L391.8 200.6L390 201.6L387.8 202L387 200L386.1 198.8ZM418 189L420 189.6L421 192L419 192.4L418.9 191.2ZM425 191L426.3 192.1L427 194L428.2 195.2L428.3 196.4L429 198L431.3 198L433 199L434.7 199L436 199.6L435.6 201.6L434.4 201.1L432 201L430 201.1L428.4 200L427.7 198.3L427.1 196.6L426 195.6L425.5 194.2L425.8 192.6ZM463 198L464.2 197.5L465 195.6L465.7 196.8L467 197.6L467.5 199.5L465.9 200.2L465.6 201.6L463.2 201L462.5 199.7ZM350 127L350.3 128.4L352 129L353.7 131L351.6 133L353.1 134.1L353.6 136L354 137.2L354.5 139.2L355.1 140.9L354.4 142L353.8 143.2L352.4 144.4L352 142.4L351 141L350 142M560 176L561.6 175L562.5 174.3L564.6 175.4L566 174.4L567.6 173.6L569 174.7L570.3 173.1L572 174L573.6 174.2L574.7 175L576.2 173.7L577.3 174.7L578.2 174.7L580.2 174.4L582 174.3L583.2 173.3L584.8 174.1L586 174L587.2 173.7L589.6 173.5L590.2 174.5L592 174L593.4 174.8L594.3 175.7L595.4 175.8L597.1 175.4L598.7 175.1L600 176L601.7 176.8L603.3 175.6L604.1 177.5L605.3 178.9L606.5 179.3L608 180.3L609.7 179.7L610.7 180.5L612 182L613.2 182.8L614.3 183.4L615.6 184L617.1 185.3L618.1 186.8L619.6 186.1L621.1 186.9L622 188L622.1 190L624.5 189.4L625.3 191.3L625.6 192.9L626.4 194L628 196L627.7 197.8L630 199.7L630 201L631.2 201.8L633.1 201.3L635.1 202.1L636 204L637.9 203.6L639 203.2L641.2 202.3L642.2 201.4L644 202L645.3 201.1L646.3 200L647.7 199.8L648.4 198.4L649.4 197.3L650.8 196.7L652 196L653.9 195.5L654.3 194L655.7 193.4L656.6 192.5L657.4 191.6L659.4 191L660 190L661.5 189.3L662.4 188.4L663.2 186.5L664.7 186.7L666 185.6L668 185.1L669.7 184.6L671.5 186L672.4 185.2L674 185.6L675.5 186.1L676.5 186.9L677.5 188.2L679.6 188.4L680.7 188.9L682 190L682.8 191.1L684.5 191.5L685.4 193.2L686.6 193.8L687.2 194.6L688.2 195.9L689 197.7L690 198L691.4 199.2L691.4 200.8L693.1 201.4L693.5 202.6L694.5 203.8L694.8 205.5L696 206L697.1 207.3L696.9 208.6L697.7 209.6L699.3 210.9L699.7 212.3L701.2 212.5L702 214L703.7 214.9L704 216.1L704.6 217.5L706.1 218.4L706.6 220.7L708 221L709.6 221.1L712 221.6L713.5 222.4L715 223L715.4 224.7L716.2 226.2L716.1 227.7L717.2 228.8L717 230.3L718 232L718.2 233.2L719.1 234.9L718.4 236.3L718.1 237.4L718.8 239.2L718.4 240.3L719 242L718.3 243.5L717.5 245.1L717.6 247L717.7 247.9L717.6 249.3L717 251M566 174.4L566.3 173.4L567.1 171.3L567.6 170L568.8 168.8L569 167L569.3 168.8L571 170L571.4 168.9L572.4 167L573.6 168.1L574.4 170L574.5 172.3L576 173.6M590 174L590 172.3L591.3 171.5L591.6 170L593.2 170.8L595 171.6L595.9 170.6L598 169.6L599.8 170.4L601 171L601.3 173L603 174.4M612 182L612.4 180.1L613.6 178.4L615.2 179.7L617 180L618.4 178.5L620 177.6L621.2 179.4L622 181L623.1 182.1L624.4 184L625.1 185.4L626.2 186.2L625.9 187.9L627 189M626 196L627.1 194.4L628 194L628.8 196L630 197L629.9 199.5L629 201L627.5 200.7L627 199L626.8 197ZM636 204L637.9 204L640 205L641.5 204.7L644 204L645.3 203.1L645.9 201.7L647.4 201.2L648 200L650 199.3L651 198.4M642 199L643.4 197.8L645 197L644.7 199.3L644 201M659 191L659.9 189.3L661 188L661.9 189.6L663 191L661.3 191.7L661 193.6M704 224L705.7 223.1L706.5 222.1L707 220.4L707.7 222.2L709 223M641 154.4L641.4 156.1L642.4 158L643.1 160.3L644 161.6L645.4 161.7L647 160L648.9 159.6L649.5 159.2L651 158L649.3 157.6L648 157L648.9 156L649.6 154.4L648.6 156.5L647.2 157.6L645 159M752 209L753.8 210.4L754 212L754.5 213.7L755.7 215L755.6 217L754.6 218.2L754 220.4L754.1 218.8L752 218L751.2 216.4L751.8 214.4L751.4 213L751.5 211ZM745.6 235.6L748 236L747.6 238.4M750.4 240.4L753 240L754.4 242.4L753.9 243.6L753 245L750.8 243.6L749.2 241.9ZM764 235L765.6 234.6L767 234L768.3 234.8L769 236L767.5 236.8L766 237.6M590 78L590.1 79.1L591.6 80.4M770 208L770.3 209.2L771.3 211.1L772 212L772.4 213.7L772.8 214.4L772.7 216.4L773.8 218L774.4 218.9L774.5 220.7L775 222L775.8 223.6L774.8 225.1L775.4 226L776.3 227.8L777.4 228.9L778.2 230L778.8 232.1L778.4 233.3L779.7 234.3L780 236L781.5 237.4L781.1 238.8L782.2 239.5L782.3 241.7L784.1 242.4L784.9 243.6L785 245L786.1 245.9L786.3 247.7L786.7 248.8L788 250M771.6 236L771.4 238.1L772.6 239.1L773.5 240.3L773.6 242M782 242L783.3 243L783.4 245L784 246L784.8 247.5L786.1 247.8L787 249L787.6 247.4L788.4 246M718 251L717.9 253L717.1 254L715.6 254.9L713.9 255.8L713 257.5L713 259L713 260.7L711.9 262L712.4 263.6L712.2 265.3L712 267L712.5 268.7L712.2 270.1L713.2 271.5L713.8 272.4L713.5 274.1L714 275.5L715 277L714.5 278.4L715.7 280.2L717.1 281.2L717.2 281.7L717.2 284L718 285L718.5 285.7L719.3 287.6L720.1 288.8L721.4 289.8L720.7 292.5L722 293L722.8 294.1L723.3 296L723.5 296.9L724.6 298.4L724.8 300.3L726 301L726.8 302.8L728.1 303.9L728.7 305L728.8 306.4L730.2 307.1L731 309L731.4 310.4L732.2 311.7L733.5 312.6L732.9 314.3L733.3 316.2L734 317L734.9 317.9L735.9 319.2L736 320.6L736.6 321.9L738 323L739.1 324.2L740.7 325.1L741.6 325.3L742.9 326.5L744 327L745.2 328.2L745.4 329.7L744.8 331.3L746.1 332.4L748 333.3L747 335L747.4 336.8L748.5 338.1L749 340M716 265L718.3 264.7L720 264.6L721.8 265.6L723.6 265.1L724.4 267.3L726 268L727.3 269.6L727 272L725.9 272.6L726.1 274.5L724.9 276L724 277L723.2 277.7L721.8 279.1L721.6 281L720.9 283L720 284L719.1 282.8L718 281L718.6 279.6L719.5 278.1L721 277L721.9 275.6L721.5 273.1L722.4 272.6L720.9 271.9L720 270.3L719 269.4L717.7 270.4L716.4 271M713 259L714.9 258.1L715 256L715.3 257.7L714.9 259L714.1 260.6L714 262M760 255L761.6 254.3L763 254L764.6 255.4L766 256L765 256.8L764.4 258.4L764 260L762 259.8L761 259L760.2 257.3ZM760 271L761.6 272.6L760 273.4ZM763 268L764.4 268.2L766 269L765.7 271.2L766.4 273L764 272L764.2 269.7ZM762.4 288L765 287.4L765.7 289.4L765.6 291L763 291.4L762.4 289.9ZM782 251L782.8 252.3L782.7 253.8L783.8 255.1L785.1 255.8L785.5 257.7L785.9 259.2L786.6 260.2L787 261.5L788 263L789.2 264L789.8 265.4L790.1 266.9L790.3 268.4L791 269.5L791.4 271.2L791.7 272.2L793.2 274.1L794.6 275L794 277L794.6 278.4L796 279.5L795.6 281L796 282.7L796.9 283.9L797.3 285.5L797.7 287.1L799.1 288L798.9 289.7L800 291L800.4 292.6L800.9 293.2L801.5 295.3L801.9 296.4L801.9 298.2L803.2 299.1L803.2 300.6L804.7 302.5L803.9 304.1L805 305L804.5 306.7L806.3 308L805 309.4L806.9 310.8L805.3 312L806.2 313.6L806.5 315.1L806.6 316.4L806.7 317.2L807 319L807.4 321.3L806.6 322.2L806.1 323.8L806.4 324.6L806.6 325.8L806.5 328L807.5 329.3L805.8 331L806.7 331.9L807.1 333.3L806 335L805.2 337L805.7 338.5L804.6 339.3L804.4 341M771 305L770.9 303.1L772.1 301.8L773 300L773.8 298.9L775.9 298.2L777.2 297L778 296.6L779.9 296L781.4 296.5L783 297.4L783.9 298.7L784.1 299.9L786.1 300.4L786.4 302L786.4 303.3L786.3 305.5L787.6 306.5L787 308L785.9 308.6L784.9 310.6L784 312L783.4 314L782 314.6L780.1 314.2L778 314L776.7 312.7L775.5 311.6L774 311L773.2 309.6L771.6 308L771.1 306.5ZM840 314L842.5 314.4L841.9 315.7L843.7 316.4L844 318L845.4 318.8L846.9 319.4L848.7 320.2L850 321.4L851.5 320.6L852.9 320.5L854.7 320.3L855.9 320.1L856.9 319.4L858.7 318.8L860 318.6L861.4 318.3L862.2 317.1L864.6 317.3L865.4 317.1L867.2 316.2L868.5 315.4L870 315.4L871.2 315L872.8 313.9L874 314.4L875.7 313.2L877 313.4L877.3 315L877.5 316.7L879 318L879.3 316L880.4 315L879.5 313.3L878.9 311.9L878 310L878.9 308.5L880.9 308.8L882 307L883.7 307.5L885.2 306L886.6 306.7L888.4 305.1L890 306M859 293.4L859.5 295.5L861.7 294.7L863 295.3L864 296L865 297L867.1 296.9L868.2 298.6L869.1 299.3L870.9 299.7L872.6 300.4L874 301L875.5 301L877 301.4L878 302L879.1 303L880.3 304L882 304L883.2 305L884.8 304.5L886.1 305L887.8 306L889.1 306.4L890 307L890.7 307.8L893.2 307.8L894.2 308.8L894.3 310.9L895.7 311.2L896.7 312.2L898 313L899.3 313.5L899.9 315L901.2 315.4L902.7 315.7L904 317L905.5 317.7L906.5 318.4L908 319L908 320.6L908.5 322.4L909 324L908.4 325.3L908 328L907.2 330L905.2 331.1L904.4 332L903.4 333.5L902 335L900.9 336.5L900.5 338L901.3 339.7L901 341L901.1 342.4L900.6 343.9L900 345.4L899.4 344.1L898.2 343.1L897 342L896.9 341.2L894.9 340L894 339M894 339L894.3 337.3L896.7 336.1L898 336L899.4 334.7L901 333.4M876 347L878 347.4L879 349.4L880.3 350.1L880.5 352.3L882 353L882 355.4L883.2 357L882.3 358.6L882.4 360L881 361.5L879.6 362.2L877 361.4L875.7 360.9L874.4 360M836.4 340.6L838 339L839.4 340.2M844.4 341.4L846 342.6M833 363L833.2 364.5L834.4 366L834.7 367.8L835.2 369.4M868 366L869.3 366.7L871 367L872.6 367.9L872.8 370.1L874 371L874.4 372.9L875.7 373.8L875.7 375.8L876.4 377L876.8 378.7L877.3 380.6L878.7 381.2L878 383L877.6 385.1L880.4 385.6L880.8 387L881 389L881.8 391L882.4 392.3L882.8 393.8L884 395L885 396.5L884.9 398.3L885.6 400L886.1 401.5L886.6 403L886 405L886.6 406.4L887.3 408.4L887.6 409.6L888.4 411L889.3 412.1L888.9 413.8L889.3 415.3L890 417L890 418.5L889.6 419.9L890.4 421.6L890.3 423.4L890.5 424.4L890.4 426M868 371L867.6 372.7L866.8 374.1L867 376.4L866 377L864.6 378.2L865.6 380.2L864.5 380.9L864 383L863.3 383.7L861.6 385.1L860.9 385.3L860 387L858.3 387.7L858 389.2L857 390L857.8 391.6L859.6 391.9L861 393L861.7 394.2L864 395L864.2 396.6L865.3 397.6L867 399L868.3 399.9L868.4 401.6L870 403L870.4 404.2L871 405.7L872.2 406.7L872.4 408.2L874 409L875.1 410.6L875.7 411.6L876.8 412.4L878.2 413.2L878 415L878.6 416L879.6 418.1L878.9 419.2L879.6 421L878.8 422.6L880.1 424.4L880 426M888.4 377.4L890.1 375.6L892 375.4L893.3 374.9L894.8 375.1L896.3 374.3L898 374.6L899.9 374.7L901.1 373.7L903 372.6L904.9 371.1L906.4 371.8L905.8 373L904.4 374.6L902.9 375.4L902.3 376.7L900.5 376.5L899 377.4L897.1 377.5L896 377.9L894.7 378.6L893 379L891.2 379.1L889.6 379ZM911 359.4L912.7 358.4L914 358L915.8 359L917.6 357.5L919 357L919.4 358.9L920.4 360.6L922 361.7L922.7 363.2L924 364L925.7 364.8L926.4 366.3L928 367L929.5 368.6L931.2 368.3L931.9 369.3L933 371L934.3 372L935 372.8L936.4 374L937.3 375.2L936.7 376.6L937.7 378.6L937.5 379.5L937.2 381L937.2 382.4L936.6 383.9L936 385.1L936 387L936.3 389.1L935.3 390.1L935 391.4L934.5 389.3L933 388L932.5 387L930.8 385.5L931 384L931.9 382.3L930.9 381L932.4 379L932.2 377.2L933.2 375L932.4 374.1L931.8 372.5L929.7 372.1L929 371L928 370.1L926.3 368.5L924.9 368.9L924 367.4L922.9 367.3L921.5 365.3L920.4 364.4L919 364L917.1 364.4L916.1 363.2L914.4 362.2M927 380.6L929 382M913 383.4L912.7 384.3L912.2 386.5L912.6 387.3L912.4 389L911.8 390.4L913.1 391.5L914.1 392.9L914 395L914.5 396.8L915.6 397L916.5 398.7L917.7 399.1L918 401L919.2 402.2L920.1 403.3L921 403.4L922 405.4L922.7 406.6L924 407.9L924.7 409.4L925.4 411.2L927 412L927.9 413.4L928.7 414.7L930 415.4L931.7 416.1L931.3 418.9L932.8 419.9L934 421L935.2 421.7L936.7 423.2L937.5 424.8L938.4 425.4M948 389L949.7 389.4L951 390L952.4 391L953 392.8L954 393.4L955.5 394.6L956 397L957 398L957.7 399.5L959.1 400L958.4 402.1L960 403L959.9 404.9L961.9 405.2L963 407L964.4 409.4L962.6 409.5L961 410.2L959.5 409L958 410L957.6 408.7L957.2 406.4L957 405L956.6 402.9L956.1 401.5L955 400L954.2 398.4L952.1 397.4L952 396L951.1 394.4L949.6 392.6M790 417.4L791.5 416.9L793.3 416.4L794 415.4L794.9 413.3L796.7 415.3L798 414L799.8 412.5L802 413M810 411L810.9 412.7L812 414M813.6 417L814.7 417.9L814.9 419.9L815.6 421L815.2 423L817 423.2L817.6 425.4M560 506L558.7 505.4L557.3 505.5L556.1 504.9L554.4 504.8L552.8 504.4L551.6 504.2L550.5 503.7L548.8 503.7L547.6 503L546 503L544.6 502.5L543.3 502.9L541.7 502.6L540.3 501.8L539 501.6L537.5 501L535.6 500.5L534 500.4L532.4 500.7L531 501.6L529.8 501.9L528 502L526.5 502.6L525.1 503L523.6 503.8L522 504L520.6 504.9L518.5 505.7L517 506.4L515.7 506.8L514 507L512.2 506.9L511 507.6L509.1 507.8L507.8 508L506.7 508.1L505.2 508.8L503.5 508.6L502 509L500.5 508.7L499 509.4L497.2 509.8L495.8 510L494.5 509.9L493 510.3L491.5 510.7L490 511L488.7 511.4L487.2 511.4L485.7 512.2L484.5 512.6L483 512.9L482 513.1L480.5 513.6L479.6 515L478 515L476.8 516.1L475.5 516.8L473.7 517.1L472.4 518.1L470.9 518.6L469.5 519.3L468 520L466.9 520.4L465.7 521.7L464.5 522.5L463.2 523.3L462 524L461.1 525.2L461 526.7L460.4 528L460.1 529.1L459.4 530.6L459 532L458.8 533.6L458.3 534.9L458.6 536.4L457.6 538L457.3 540L457 542L456.9 543.5L457.1 544.8L457.3 546.5L457.3 548.1L457.4 549.2L457.1 550.7L456.5 552.4L457 554L456.8 555.6L456.9 557L456.9 559L455.9 560.7L456 562L455.3 563.7L453.9 564.8L453 566L452 567.2L451 568L450.6 569.5L450.3 570.8L450.1 572.1L450 573.3L450.3 575L450.1 576.7L450 578L448.8 578.9L447.8 579.5L447 581.3L446.2 581.7L445.1 582.8L444 584L442.5 584.6L441.7 586L440.6 586.9L439.3 587.3L438.6 588.6L437.6 589.6L436 590L435 591.4L434.2 591.7L432.4 592.5L431.3 593.7L430.1 594.1L429.6 595L428 596L426.8 597L426.3 598L425.2 598.8L423.9 600.1L423 601M534 500.4L536.1 500.6L538 500L539.8 500.4L541.2 501.1L543 501L541.8 502L540 502.4M423 601L423.3 599.6L424.4 598.4L427 597.6M560 550L559.8 551.6L559.5 553L559.3 554.6L559 556L558.5 557.6L558.1 558.9L558.3 560.8L558 562L556.7 563L555.4 564.2L554.4 565L553 566L552.1 567.3L550.8 568.5L550 570L549.5 572L549 574L549.9 575.3L550.6 576.7L552 578L553.3 578.5L554.6 579.5L556 580L555.4 581.4L555.3 582.9L554.6 584.5L554 586L552.9 587L551.8 587.8L551 589L550.9 590.6L550.3 592.4L550 594L551.2 595.5L553 596L551.7 597.3L551.9 599L551 600M550 570L552.1 570.9L554 571L554.7 572.5L555.5 573.6L556 575L554.3 576.1L553 577M554 586L555.6 585.4L557 585L557.5 586.6L558 588.4L556.7 589.2L555.6 590M560 504L561 503.2L562.7 503.1L564 502.4L565.5 501.7L568 502L569.6 502.3L571.1 502.3L572.7 501.9L574 503L575.3 504.2L576.9 504.7L578 506L578.7 507.6L579.2 508.8L580 510L581 511.4L580.4 512.8L581.6 514L580.8 516L580.8 518L580.5 519.7L580 522L578.7 522.7L578.9 524.8L577.9 526.2L578 528L577 529.3L576.2 530L575.1 531.3L574.2 532.1L573.8 533.6L573.2 535.2L572 536L570.6 537.1L570.1 538.2L568.6 538.5L567.9 540L567.5 541.1L566 542L564.5 542.8L564.3 544.1L562.7 545.7L562.6 546.9L560.3 547.7L560 549M561 504.4L563 504.9L565 503.6L566.4 504.5L568.4 505L567.5 506.1L567 507.6L564.7 507.1L563 507L562.2 505.6ZM573 546L573.6 544.4L572.7 542.9L574.4 542L574.4 539.4L577 539L578.1 538.3L579.6 538.3L581 537.6L580.1 538.9L580 541.2L580 542L579.3 543.5L578.6 544.9L577.6 545.6L575.9 546.7L575 548.4L574.1 546.5ZM642 491L643.8 491L645 489.6L646.8 489.2L648 489L648.8 487.7L650.9 487.8L652 487L654.7 487.4L656 486L658.1 486.4L660 486.4L661.2 485.2L663 485.2L662.1 484L661 483L660.5 481.3L659.6 480.2L659.6 478.4L658.4 476.4L658.7 475.3L659 473L660.3 472.3L661.3 471.4L662 470L664 469.7L664 468L665.4 467L666.8 465.8L668 465L669.7 465.4L670.5 463.1L672 463L673.4 462.9L674.6 461.1L676.8 460.6L678 459.6L679.1 458.7L680.6 458.9L682.6 458L684 457L685.9 457.5L686.5 455.9L687.8 455.6L689.6 455.2L690.4 454.1L692 454.4L694 454.6L694.9 453.1L696.2 452.6L698.6 453.1L700 452L701.1 451.4L703 451.2L704.9 452L706.7 450.7L708 450.4L709.6 450.5L711.4 448.6L712.7 449.9L714.1 449.3L716 449L716.9 448.2L719 448.4L720.4 447.8L721.7 447.7L723 447L724.4 446.1L726.1 446.8L727.3 446.5L728.8 444.8L730 445L731.4 444.6L732.8 444.7L734 444.6L736.1 443.7L737 444.6L737.9 444.8L739.5 444.3L740.5 444.4L743 445.3L744 445L745.7 445.2L746.6 445.8L747.9 446.3L750 446L751.4 445.7L753 446.7L754.3 445.9L756 446L757.4 445.7L759.3 445.7L760.3 445.4L762 444.5L763 444.4L764.4 444L766.5 444.2L767.3 443.3L768.8 442.1L770 442M642 491L643.4 492L644 493L646 493L647.2 492.1L648.8 492.3L650 491.6L651.5 491.1L652.2 490.1L654 490L655.3 491.9L656 493L656.9 493.8L658 495L659.4 494L661 493.6L662.7 493.4L664 492L665.8 491.6L667 490.6L669 490L670.5 489.3L672 489.1L674 488L675.1 486.5L675 485L675.9 483.2L676 482L677.1 482.1L679.1 481.5L680.1 480.9L682 481L683.7 481L684.9 480.3L686.3 480L688 480L689.5 479.1L690 477.8L692.3 478.4L693 477L694.5 476.2L694.9 475.2L696 474.2L698 474L699.6 473L700.4 471.9L702 471L703.6 470.1L704.3 469.4L706 468L706.5 467.3L708.4 466.7L709.9 465.2L711 465L712.7 464.8L713.6 463.6L714.6 462.5L716 462M716 462L718.4 463L719.1 464.2L720.2 465.5L720 467L721.6 466.5L723 466L724.8 466.7L726 465L728 464.9L729.1 463.8L731 463.6L733 464.2L734.1 463.3L736 463L737.6 463.5L739.4 464.2L740.6 463.4L742 463L743.3 463.3L745 463.7L746.7 464.1L748 464L749.6 465.1L751.6 466L752.4 468.4L750.6 469.3L750 470.4L748 471.3L746 471.2L744.2 471.1L742.7 471.2L741 471.6L738.9 471.8L738 470.9L736 472L737.8 473.2L737 475L738.2 475.6L739.7 476.5L740 478L741.5 478.5L743.8 479.7L745 479.6L746.8 480.9L748.6 480.4L750 481L752 481.8L753.2 482.6L755 483L756.4 483.6L758.6 484.2L760 484L761.8 484L763.7 483.4L765 484.4L766.4 484.8L768.4 485.1L770 484M716 462L717.3 462.6L716.9 464.8L718 466L717.7 467.4L718.8 469.6L719 471L719 472.9L718.5 474.5L718 476L716.1 477L715.5 478.3L714 478.4L712.3 479L711 481L710.3 483.1L710 484L710.5 485L713 486L714.3 486.4L716.1 487.4L718 488L719.1 489.1L720 491M723 469L724.2 470.3L724.4 472L726 470.4M730 473L732 474.4M704 492.4L705 492.4L706.9 490.6L708 490.4L709.9 490.5L712 489.6L713.2 490.8L716 490.7L717 491.6L718.6 492.8L720 494.4L721.4 495.9L721.2 498.4L721.6 500.4L720.8 502.4L719.9 504.6L718 505L716.9 505.6L715.3 506.3L714 506.4L712.4 505.7L710.2 505.8L709 506.8L707.6 505.6L705.5 506.4L704.4 505.2L702.8 503.9L701.6 502.4L701 500.4L702.2 499L704 499.6L705.3 499.5L707 499L706.5 497L706 496M706 496L704.4 494M704 499.6L703.4 498.4L702.4 497L704 496.5L703.6 494M714 477L715.1 475.8L716 475L716 477.3L715 479M770 442L771.3 441.3L773.3 442.8L774.1 442.5L776 443L777.2 443.2L779.5 444L780.4 444.6L782 445L783.2 445.7L784.8 445.6L785.8 445.8L787.8 446.2L789 446L790 445L792.3 446.4L793.4 447.3L794.7 448L796 448L797.4 448.2L798.9 449.5L800.2 450.1L802 450.3L803 451L804.6 451.9L806.6 451L807.8 451.6L808.8 453.1L810 454L811.3 454.5L812.5 455.6L813.4 455.5L815 457L816.6 457.5L817.8 458.2L818.6 458.9L820 460L821.3 461.5L822.5 461.4L823.2 462.5L825 463L826.8 463.5L827.1 464.9L829 464.9L830 466L831.4 464.9L832.7 465.3L835 465L836.9 464.9L838.1 465L840 464L841.4 463.7L843.5 464.3L844.3 464.7L845.7 465.7L847 466L847.9 467.1L849.7 467.3L851.4 466.6L853.2 467L854 468L855.9 468.1L856.7 469.4L858.7 468.7L860 469.6L861.9 469.8L862.8 470.8L864.8 471.1L866 472L868.3 472.2L869.1 473.1L871.1 474L872 475L873.6 476.3L874.9 476.8L876.2 478.2L878 478L878.9 479.3L879.8 480.3L880.8 480.6L882 482L882 483.5L884.7 483L884.5 486L886 486L887.3 486.8L887.6 487.6L889.2 488.9L890 490L890.3 491.2L892.6 490.8L892.9 493.1L894 494L895 495.1L895.9 495.6L896.9 497.3L898 498L899 499.5L900 499.1L902.1 500.7L902 502L903.7 502.7L904.8 504.1L906 505L906.2 507.3L908.6 506.8L910 508L911.6 508.7L913.5 508.6L914.4 510.1L916 510L917.5 510.4L919.5 510.2L920.5 510.9L922 512L923.1 513L925.3 513L925.9 514.7L928 514.4L929.1 515.5L931 515.9L933 515.9L934 517L934.9 518.6L936.3 518.3L938 519L939.8 520.5L942 520L943.3 518.7L944.2 518.3L946 518.4L948.3 517L950 518L950 519.7L952.1 519.6L953 521L953.8 522.5L954 524L952.6 524.5L952.1 525.9L951 527.6L949.4 528.2L949 530L950.6 531.3L951 532.4L953 532.2L954.8 532.7L956 532L957.5 532.1L958.5 533.2L960 533.6L961.3 534.8L963.5 535.2L965 535L966.2 533.8L968 534.1L969.8 534.6L971.3 534.3L973 534M770 447L771.6 447.3L772.6 447.9L774.1 447.8L775.3 448L777.2 449L778.4 448.6L780 449L781.3 449L783.5 448.8L783.6 451.6L786 449.5L786.7 450.7L788.9 449.7L790 451L792.2 450.7L793 451.9L794.1 452.7L795.7 453.2L796.9 454.5L798.4 454.4L800 455L801.4 455.2L803.3 456.3L804.1 457.3L805.6 458.2L807.1 457.9L808.9 457.9L810 459L810.9 459.4L813.2 460.4L813.5 461.7L814.5 462.3L815.9 463.5L817 464L818.4 464.8L818.9 466L820.3 466.5L821.4 467.5L822.3 468.6L824 469L825.1 470.5L827 469.8L828.1 471.2L830 471.6L831.6 473L832.6 472.5L834.3 472.6L836 473L837.7 472.2L838.5 474.6L840.5 474.1L841.6 473.3L843 474L844.5 474.4L845.9 473.8L847.5 474.6L848.6 473.9L850 475L851.5 475.4L852.7 476.6L853.7 478.3L856 477.6L857.6 478.7L858.8 479.3L860.6 479L862 480L863.4 481.1L865 481.9L866.5 481.7L868 483L869 484.4L871.8 483.9L872.5 484.7L874 486L874.8 487.2L877.2 487.8L878 489L880.2 490.1L881.2 491.5L882 492L883.2 492.9L884.5 493.3L885.7 494.2L886.3 495.4L888 496L889 496.1L889.9 498.3L891.6 498.4L892.6 499.7L894 500L895.1 501.2L896.7 501.5L898 502.4L900.1 502.6L900.9 503.3L902 505M770 484L771.6 483.7L773.3 483.9L774.4 484.1L776 484.6L777.8 484.6L779 484.2L780.4 484.7L782 485L783.4 484.4L784.6 484.8L786.2 484.7L788 484.4L790.6 484.8L792 485L793.6 485.6L795 487L796 488L797.1 488.5L799.2 489.3L800 491L801.4 492L802.8 492.3L804.4 492.9L805 494L806.5 494.6L808.7 495.6L810 496L811.4 496L812.9 496.6L814.6 497.8L816 498.4L817.6 498.7L818.8 499.8L820.1 498.8L822 500L823.3 500.5L825.1 500.7L826 501.3L828 501.6L829.6 501.4L831.3 502.3L832 502.3L834 503L835.4 503.4L837.3 501.8L839 502L841.2 501L842.5 501.4L844 501L846.1 500.6L846.8 501L848.1 501.3L850 500.4L851.5 501.5L852.4 503L853 504.3L854 506L853.8 508.3L855.6 509.3L855.6 511L856.4 512.5L856 514.5L857 516L857.6 518L858 520L859.2 522.2L859 524L861.2 524.8L862.4 526L864.2 526.7L866 528L867 529.4L868.7 529L870 530L871.6 531.2L872.4 531.6L874 532L875.6 531.8L877.4 532.8L879 533.2L881.1 533.2L882.2 533.2L884 534L885.8 534.3L887.6 533.8L889 534L891.1 533.2L892.9 535.2L894 534L896.5 534.7L898 535L899.8 535.6L901 536L902.1 537.5L903 539L903.2 540.2L904.4 542L903.2 544.1L902.4 545.2L902.4 547.7L900 548L898.3 548.6L897 550.1L896 551L895 551.5L893.7 553.4L892 554L890.9 554.7L889.3 555.9L888.4 556.4L887.8 558.7L886 558L884.5 559.4L884 561L883.5 562.5L883 564L884.7 564.1L886.5 563.3L888 563.6L889.4 563L890.7 563.1L892.5 563.5L894 563L895.5 562.2L897.5 561.8L899.4 562.6L900.6 561.9L902 562L903.3 561.3L905.3 561.5L906.8 561.9L908.7 561.8L910 561L911.5 560.4L913.6 560.1L915 560.2L916.4 560.9L918 560.2L919.7 559.8L920.8 559.6L922.9 559.3L924.9 559.8L926 559.6L927.5 558.5L929.1 558.8L930.3 559.7L931.5 560.1L933 559.2L934.1 558.9L935.8 558.8L937.6 559.4L938.4 558.9L940 559L941.7 558.5L943.6 558.4L946 558L947.3 558.4L948.9 558.9L950 560L951.4 560.4L953 560.7L954 562L955.6 562.5L956.7 562.1L958.3 561.9L960 562.8L961.6 562.5L963.6 562L965 563L966.2 561.8L968.3 561.8L969.9 562.8L971.3 561.3L973 561M944 558L945.6 556.4L947.2 558.4M898 546L899.2 545.1L900 544L901.6 546M818 426L818.9 427.5L818.8 429L820.4 429.6L821.6 431.1L822.6 431.3L823 433M894 426L894.1 427.2L895.6 428.4M938 426L939.4 426.6L941 428.4L942.8 428.6L943.3 430.3L944.6 431.3L946 431.6L947.6 431.9L949.4 433.2L950.7 433.2L952 434L953.6 434.9L955 435.3L956.3 434.9L957.9 434.9L959 436.4L957.7 434.9L955.9 435.7L954.9 435.5L953 435.2L951.6 435.4L950.4 434.8L949 434.8L947.5 435.3L946 434.4L944.3 435L942.8 434L941.7 434.9L940 435L937.6 434M962 445L960.4 445.5L958.9 446L957.6 446.9L956 447L954.3 448L953 449.3L951.6 449.2L950 450L949.1 451.3L948.2 452.7L947.8 453.6L946.4 455L945.3 456.5L943.9 458L944 460L945.2 461.8L944.6 463.1L943.1 464.9L944.4 466L945.5 467.5L946.3 469.2L946 471L946.4 472.6L947.5 474.7L948.4 476L948.6 477.3L949.9 478.1L951 479.5L951 481M862 620L863.2 618.4L863 617L864 615L866.2 615.3L867 613.6L868.7 614.1L870 613L871.4 612.2L872.7 611.4L874 611.4L875.3 610.7L876.5 610L878 610L879.4 610.8L881.1 610.2L882.4 611.2L884 611L885.2 610.6L887.4 610.8L888.6 611.7L890 612L891.5 612.8L892.8 612.7L894.8 611.9L896 613L897.7 613.2L899.1 612.9L900.1 614.8L902 614L903.8 614.1L905 614L906.7 613L908 614.2L910.4 614.4L912 615L913.3 615.7L914.5 616.8L916 617.4L917.8 618.3L918.4 619.6L920 620L922.1 621L924 621L925.9 621.8L928 622L929 623.6L930 625L930.8 626.8L932 628L932.9 629.2L933 630.5L934 632L932.3 632.8L931 633.4L929.6 633.6L928 634L926.1 633.8L924 633.6L922.2 632.8L920 633L918.3 632.9L917 631L915.5 630.3L914 630L912 631.4L910 633L908 632.6L906 633L905 635.4L904 638L902 639L900 638L899.1 637.4L898 636L897.1 635.2L896 634L894 634.5L892 634.2L889.9 634.5L888 634L886 633.9L884 633L881.6 632.5L880 632L879.5 630.1L877.7 630L877 628.6L876.2 626.9L874.3 626.8L874 625L872.1 624.5L871 623.4L869.8 622.4L868 622L866.9 620.4L865 621L864 619.3ZM902 636.6L903.6 635.5L904.4 635L905.5 635.7L906.4 637L904.8 637.4L904.4 639L903.6 637.8ZM560 705L561.7 706L563.4 706.1L565 706.4L566.6 706.4L568.4 706.3L570 707L571.7 707.6L573.4 707.7L575 707.6L576.5 707.2L578.4 707.4L580 707L581.5 707.2L583 706.5L584.3 706.6L586 706.6L587.4 706.3L588.9 706L590.9 706.4L592 706L593.4 706L594.8 705.4L596 704.6L597.3 704.2L598.4 703.6L600 703L601.5 702.9L602.7 701.9L604 701L605.2 700.5L606.7 699.5L608 699L609.3 699L611 698.6L612.2 699.4L614 700L615.7 700.6L617.3 700.9L619 701.6L620.7 702L622.5 702.8L624 703L626.3 702.9L628 702.6L630.2 702L632 702L633.4 701.2L634.7 700.6L636 700L637.5 699.2L639 699L640.9 700L643 699.8L644.5 700.4L646 701L647.4 702L649 702.6L650.5 703.3L652 704L653.6 704.7L655 704.6L656.5 704.5L658 705L659.6 705.2L661 705.4L662.4 706L664 706L664.9 707.6L666.6 708.7L668 709.4L669 711L670.4 711.8L672 713L673.6 713.5L674.7 715.3L676 716L677.5 717.1L678.7 718.3L680 719L681.4 719.2L682.7 720L684 721L685 722L686.7 722.1L688 723L689.4 723.7L691 724L692.5 724.7L694 725L695 726.1L696 728L697.1 729.2L698 731L698.6 732.3L700 733L702 734L700 735.4L698 737L697.9 739.1L697.2 741L697.1 742.9L697 745L697.2 747.2L698 749L698.4 750.9L699 753L699.2 754.7L698.8 757L698.3 759L698 761L697.6 762.5L695.9 763.1L696 765L695.4 766.9L694 768M669.6 717.4L670.4 716L673 716L674.3 716.5L675.6 717.5L677 718L678.2 719.1L679.5 719.9L681 720.4L683.2 720.8L684.4 722.2L686.4 723.4L685 725.4L683.9 726.9L682.4 727.4L681 725L679.7 723.9L678 722.6L676.4 721.7L675 721L673.8 721.9L672.4 722.2L670.4 723L669.2 720.6L669.2 719.1ZM651 703.4L652.7 703L654 703L655.4 704L657 704.6L656 707L654.2 706.8L652.4 706.6L651.8 704.9ZM608 698.4L609.6 697.7L611 698L613 699.4L611 701L608.6 700.4ZM693.6 738L695.6 737L696.5 737.6L697.6 739L697.3 740.3L697.4 741.9L697.2 743.4L695.6 745.4L694.6 744.2L694 743L693.8 741.4L693.5 739.7ZM695.6 756L697.6 755L698.8 757.4L697.2 759.4L696 758.2ZM350 617L351.9 616.4L353.4 615.7L355 615.4L356.5 615L358.4 614.2L360 614L361.6 614.2L363.3 613.9L365 613.4L366.7 613.3L368.4 612.8L370 613L371 612.6L372.6 612L374 611.6L375.2 611.3L377 611L378.5 610.8L379.8 610.3L381.2 609.8L382.3 609.2L384 609L385.6 608.6L387.2 608.2L388.4 607.4L390 607.4L391.6 606.8L393 607.2L394.5 606.6L396 606L397.6 605.4L399.5 605L401 605L402.9 604.8L404 604.5L406 604L407.7 603.8L409.2 602.4L411 602.6L413 602.3L414.3 601.2L416 601M368 613.4L368.4 615L369 616.6L370.4 614.2M384 609L385 611.4M406 609L407 607.9L408 607L410 606L411.8 605.7L413.1 605L415 604.6L417 604.4L418.3 603.4L420 603L421.5 602.9L423.7 602.4L425 602L426.6 602.1L428.3 602.6L430 602L430.9 603.5L432 605L431.1 606.5L430 608.6L429.4 609.9L428 611L426.6 611.4L425.4 611.9L424 613L421.8 613.7L420 614L418.2 613.8L416 613L414 612.7L412 612L410 611.5L408.4 611L407.3 609.6ZM540 601L539.3 603L539 605L538.4 606.2L537.6 607.6L537 609L535.7 609.9L534.7 610.9L533.6 612L532 612.7L530.9 613.8L530 615L528.6 615.7L527.6 616.6L528.8 616.4L530.6 616.6L532 617L533.6 617L535.3 616.5L536.2 616.2L538 616L539.2 617.2L539.6 619L539.1 621.1L539 623L538.6 624.8L538.1 626.2L537.6 628L537.1 629.8L536.3 631.1L536 633L535.6 634.8L534.1 635.9L534 638L533.7 639.9L532.6 641.2L532 643L531.7 644.7L531.8 646.4L531 648L530.5 649.8L530 651.3L530 653L531 654.7L530.8 656.3L531.6 658L531.8 659.9L532.5 661L533 663L533.1 664.6L533.1 666.3L532.8 668L532.8 669.8L531.7 671.1L532 673L531.1 674.1L530.5 675.6L530 677L529 678.1L528.5 679.5L528 681L526.9 682.3L525.9 683.3L525 685L524.2 686.7L522.8 687.8L522 689L520.6 690.3L519 691L517.2 692L516 693L515.1 694L513.9 694.8L513 696L512.1 697.2L511.5 698.3L510 699L509.6 701.4L510.5 702.5L512 703L514 702.4L516 702L518.2 701.8L520 701L521.7 701.4L523.2 702.6L525 703L526.9 703.5L528.5 704.8L530 705L531.6 705.7L533 707L534.7 707.9L536 709L537.6 707.8L539 707L540.2 705.3L542 705L543.2 704.3L544.8 704.1L546 703.4L547.4 702.6L548.7 702.6L550 702L551.3 702.7L553 703.4L554.6 703.9L556 705L558 704.6L560 704M551 601L550.8 602.4L550.4 604.4L549.4 605.4L549 607L548.1 608.5L548.1 610L547.2 611.4L547 613L546 614.4L546.2 616L545.7 617.6L545 619L544.4 620.6L543.9 621.8L543.6 623.4L543 625L542.3 626L541.9 627.5L541.2 628.8L540.4 630L539.2 631.4L539.2 633.5L538 635L537 636.2L536.3 637.7L535.5 638.6L535 640L534.1 641L533.8 642.6L533 644M536 601L535.2 602.9L534.7 604.6L534 606L533.1 607.7L532.5 608.9L531 610L529.8 611.5L529 613.4M533 649L534 647.3L535 646L535.3 647.5L535.9 648.5L536.4 650L535.1 651.8L534.4 653.4M528 655L529.2 653.5L529.6 652L530 653.4L530.6 654.8L531 656M493.6 717L494.8 716.4L496 715.4L498 714.8L500 715L501.6 714.4L502.5 712.9L504 713L505.6 712.2L506.8 711.6L508 710.6L509.6 709.4L511 708L512.4 706.6L512.2 708.3L511.6 710L510.3 711.4L509 713L508.5 714.3L506.8 715.4L506 716.6L504.9 717.9L503.6 719.4L501.8 719.7L500 720.6L498.4 721.4L497 721L495.2 720.4L494.4 719.4ZM350 704L351.1 705.2L352.9 705.6L353.6 707.8L355 708.4L356 709.4L357.5 710.6L358.6 711.9L360 713L360.8 713.9L362.3 715L363.4 715.8L363.6 717.5L365 718L366.4 718.8L367.4 719.7L368.2 721L368.8 722.3L370 723L370.7 724.5L372 724.8L372.5 726.5L373.9 727.1L375 728L375.9 728.7L377 730L377.7 731.1L379.2 731.6L380 733L381 734L381.8 735.1L382.9 736.1L383.6 737.3L385 738L386 739.1L386.7 740.2L388.1 740.9L389.6 741.7L390 743L390.8 744.2L391.4 745.8L392.7 746.6L393.7 747L395 748L395.7 749.4L397.3 749.8L397.9 751.3L398.9 752L400 753L401 754.2L402.6 755.3L404.1 756L405 757.4L406.5 757.8L407.7 758.9L408.6 760.3L410 761L411.1 761.9L412.6 762.4L413.8 763L415 763.8L416.5 764.8L418.1 765.5L420 766L421.3 766.4L423.3 766.9L424.6 767.7L426 768M472 665.4L473.2 664.4L475 664L477.1 663.8L479 663.4L480.7 664L483 664.2L481 666L479 666.2L477 666.6L475.2 666.6L473.6 666.6ZM459 666.2L460.4 665L461.6 666.2M465 662.6L467 661.4L467.6 663M447 638.6L445.7 639.1L444 639L443.3 640.4L442 641.4L441.8 642.9L442.4 644.6L444 645.4M374.4 691.4L375.3 690.5L376.5 689.4L378 689L378.9 687.6L379.8 686.1L381 685L381 686.8L380.5 688.5L380 690L381.8 690.4L383.3 691.4L385 692L386.8 692.1L388.4 691.1L390 691L389.8 692.5L389 694L390.4 694.9L391.2 696L393 696.6L394.5 697.4L395.7 698.2L397 699L398 700L399.8 700.4L401 701L401.9 701.7L403.2 702.8L404 704L403.8 702L403.6 700.6L401.9 700.9L400 702L398.5 701.2L397.2 700.6L395.6 700.6L394 699.9L392.7 698.4L391 698L389.8 696.8L388.4 696.9L387 696L386.9 697.9L388 700L386.5 699.4L385 698.6L383.8 697.6L382.8 695.9L382 695L380.9 696.5L379.6 698L379.3 695.9L379 694L377.3 693.7L375.6 693ZM350 658L351.7 657.8L353 658.6L354.5 659.3L356.1 659.3L357 660L358.4 660.9L360 661.4L361 663L359.5 662.9L358 662.6L356 662.1L354.4 661L352.8 660.7L351 660ZM431 743.4L433.6 742.6L436 743.4L435 746L434 744.6L432 745.8ZM539 736L540.4 735.4L540.9 736.8L541.6 738L541.2 739.3L540.4 740.6L539.2 739L538.9 737.3ZM459.7 179.7L461.1 179.1L462.2 177.2L463.1 176.3L464.9 175.4L466.2 175.3L467.4 174.6L469.4 174L470.4 175.6L471.7 175.9L472.9 177.4L474.3 178.4L476.3 179.4L477.7 180.6L478.8 181.5L480.3 182.7L479.2 183.9L477.7 184L476 185.7L475 186.3L473.4 187.8L471.5 189.1L469.2 188.2L468.3 188.3L466.5 188.8L464.7 188L463.1 187.4L461.7 185.5L460.1 185.3L459.1 183.6L459.3 182.3ZM453.9 179.7L454.7 177.6L456.7 176.7L458.4 177.8L459 180.1L457.6 182.1L455.4 182.1L454.1 181.2ZM478.6 187.4L478.1 190L479.4 192.1L482 193L484.6 193.8L486.7 192.6L487.7 191.4L488 189.6L490 189.2L490.6 187.4M493.1 177.1L492 177.7L491.4 179.7L489.7 181.4L488 182.3M461.9 200.3L462.3 199.4L464 197.6L464.9 196L467.4 195.6L469.1 197.6L467.8 198.6L467.9 200.6L465.7 201.1L464.4 201.8L463.1 202.4Z"/>
<path stroke-width="1.5" d="M714 228L714.9 229.5L715.1 231L714.6 232.5L716 234L717.4 234.3L717.5 236.3L718 238L717.4 239.5L715.8 240.3L716.4 242M889 336L890 338M880 319L880.8 320.4L881 322M872.4 360.6L874 360M941.6 393L944 393.8L946 393.4M909.6 409.4L911 410.6M536 599.6L537.9 599.9L539 601M766 477L766.3 479.1L767 481L767.6 482.3L768.4 484M686 487L688.3 486.9L690 488L690.8 487.8L693.2 488.8L695.1 488.5L696 489.2M750 500.4L751.5 498.8L752.9 501.6L755 500L756.4 498.1L758.2 499.1L760 499.2M746 491L747 492M806 495L807.4 495.3L808 497.3L810 496.1L811.4 496.8L813 497L813.9 497.7L815.5 499.2L817.8 497.1L818.3 498.2L820 499M845 502L845.6 503.5L847 505L847.5 506.2L849 507L849.9 505L849.6 503M772 499L772.4 500.4M821.6 506L822 507.2M870 459.6L870.6 460.2M948.6 485.6L950 486.4M965 426L966.6 427.7L965.9 429L967 429.9L967 432L967.2 433.4L968.2 435.4L969.2 435.9L970 438L970.6 440.2L971.7 440.7L972 443L971.8 445.2L973 447L970.9 446.5L970 445.6L968.8 444.4L967.9 443.6L967 442M807 705.2L807.8 705.6M811.6 705.8L812.4 706.2M814.6 703.8L815.4 704.2M851.6 703.8L852.4 704.2M796.6 751.8L797.4 752.2M794.6 754.8L795.4 755.2M793.6 758.8L794.4 759.2M535 659L536.6 661L537 662L537 664L538 666L537.7 666.8L537.4 668.8L536.4 670L534.5 670.5L534.9 672.5L535 674L535.7 676.2L536 678L535.7 680.6L533.6 681M557 648L557.6 650M546 673L548 672M492 661.4L492.9 661.1L495 661L495.6 662.2M453.4 644L454 644.6M501.7 181.1L503.4 180.5L505.1 180.8M507.7 181.1L510 180.8L511.1 181.2L512.8 180.8M515.4 181.1L516.9 181.7L518.8 180.4L520.4 181.9L521.4 180.8M524 181.1L526.3 180.2L527.7 180.6L529.1 180.8M530.8 181.1L533.1 181.8L533.3 179.8L535.1 180.8M536.8 181.1L538.6 181.7L539.8 180.8M762.6 350.3L764.3 348.1L764 350.3L766.4 350.7M776.3 373L777.5 371.5L779.7 371.3L781.2 372.6L783.9 371.5L784.8 370.8L785.5 368.9L788.3 368.7L790.2 368.7L791.7 367.4L793 366.6L795.1 365.7L797.6 364.4L797.7 364.4L795.5 364.6L796.4 368.3L795.6 369.7L795.4 370.2L794.3 372.6L793.3 373.8L792.8 375.4L791.3 375.6L792.7 378.9L788.4 377L787.4 377.7L786.3 377.8L783.8 376.9L783.1 377L781.7 375.4L779.7 376.4L777.1 376L775.8 373.9ZM787.4 380.3L786.8 381L784.8 382.4L783.4 383L782.3 383.9M780.6 385L779.1 384.9L777.1 386.7L774.6 387.6M772.4 388.4L770.3 389.3L769.4 388.8M759.6 153.7L758.8 156L758.7 157.1L758.8 159.2L757.4 160.6L758.1 161.1L758.7 163.1L755.8 164.5L758.5 165.7L758.7 167.4L759.5 168.6L759.6 170.8M755.7 173.8L753.1 173L752.7 175.1L751.4 176L750.6 177.7L749.8 179.1L750.5 181.8L749.7 182.8L750.1 184.6L750.3 187.4L750 188.5L751.4 189.7L752.1 190.5L754.9 191.4L754.9 192.6L754.5 194.1L755.7 195.7L755 196.4L754.2 197.9L754.9 200L752.7 201.7L753 203.7L753.1 205.1"/>
<path stroke-width="1.35" d="M732 304L734.3 304.2L736 304.6L737 304.8L738.4 306L740 306L738.8 307.6L739 310L738.1 311.7L738 313.4L739.7 312.1L741 314.6L743.2 314L744.7 313.6L746 315L744.3 316L743.7 317.3L743 319L742 320.4L740.6 321.7L740 323L738.6 322.4L737 321.4L735.6 319.8L735 318L733.6 317L733.9 314.9L733.6 313M831 349L830 351L829.5 353.8L830.4 355L831.8 356.8L831.6 358M918 401.4L919.3 403.4L919.7 403.9L920.5 406.2L922.4 406.6L922.7 408.3L924.5 408.8L925.5 409.2L926.5 410.6L927.8 411.6L928 413.4L929.3 415.4L929 416.8L930.5 417.7L931.8 418.8L933 420L934.3 420.9L935.9 421.7L935.9 423L937 424.6M760 581.6L761.3 582.6L762 584L764.2 584L766 582.8L767.4 582.1L770 581.6L767.7 581.3L766 581.2L764.3 582L762.4 582M695.6 697L696.4 697.6M697.2 700.6L698 701.2M696.4 704.2L697.2 704.8M707.6 708.2L708.4 708.8M709.6 709L710.4 709.6M704.6 713.8L705.4 714.4M708 723L708.8 723.6M708.6 725.4L709.4 726M716.6 725.6L717.4 726.2M719.2 727L720 727.6M721.6 728.6L722.4 729.2M719.6 730.2L720.4 730.8M723.2 730.6L724 731.2M717.6 739.6L718.4 740.2M727 703L727.8 703.6M704 748.6L704.8 749.2M706.6 749.6L707.4 750.2M705.2 752.6L706 753.2M708.6 754.6L709.4 755.2M710.6 750.6L711.4 751.2M712.6 753.6L713.4 754.2M714.6 748.6L715.4 749.2M717.6 747.6L718.4 748.2M719.6 749.6L720.4 750.2M715.6 755.6L716.4 756.2M713.6 757.6L714.4 758.2M709.6 758.6L710.4 759.2M706.6 756.6L707.4 757.2M720.6 756.6L721.4 757.2M721.6 759.6L722.4 760.2M717.6 746.6L718.4 747.2M711.6 748.6L712.4 749.2M714 752.2L714.8 752.8M707.6 747.6L708.4 748.2M712 761L712.6 762.1L715 762.6L717 764M538 680L536.2 681.8L537 684L536.3 685.4L535.3 686.3L535 688L534.2 689.4L533.8 690.9L533 692L532 693.6L531.6 695M553.6 658L554.8 659.4M520 700L520 701.3L521.3 703.3L521 705L519.4 706.5L520.3 707.7L519.6 709M488 210.6L489.3 211.1L491.4 211.4L493 212.7L494.8 213.1L496.4 214.2L498.3 214.8L498.8 215.9L501.1 216.3L501.7 218.3L503.8 220L506.1 219.4L507.7 220.4L505.5 221.8L506.4 223.4L505.4 224.7L505.1 226L504.6 227L502.6 227.7L502 226.5L500 225.1L497.4 226L496 227.1L494.8 228.6L493.5 229.5L493.1 231.1L493.9 230.2L493.7 228.1L495.7 227.7L496.8 226L496.6 224.7L496.4 223.1L493.6 223.1L493.1 221.7L491 220.1L491.4 219.7L489.7 218.3L487.2 217.5L486.3 216.6L484.6 215.7L482.4 216.6L481.1 214.8M508.6 202L506.8 203.7M505.6 205.8L503.8 207.1M502.1 208.7L500 210.1M493.1 177.1L495.2 177L495.7 175.4L497.5 175.3L498.6 175.4L500 175.9L501.6 176.9L503 174.2L505.1 174.6L507.3 173.6L509.2 172.1L510.3 173.3L511 175.1L512.9 174.5L514.6 175L516.5 175.8L518.3 176L519.7 175.4L520 177.7L522.3 177.1L523.8 177.2L525.2 176L526.5 175.4L528.1 175.2L529.3 174.4L530.8 175L531.9 174.8L533.7 175.2L535.1 176.3L535.2 175.5L535.6 173.8L536.4 172L536 170.3L538 169.2L537.3 167.7L537.2 166.1L539.1 165.3L538.5 162.6M778 374.3L781.1 374L781.4 372.6L782 372L783.6 373.2L785.7 373L789.3 373.5L786.4 366.7L790 370L793.6 371.2L791.2 368.1L793.8 367.8L797.2 367.5L796 365.7M778.8 375.6L779.1 375.6L781.3 371.7L783.1 374.7L784 373L787 376.1L787.4 375.1L786.2 370.7L790.8 373L794.2 373.4L793.4 370M803.7 340L803.3 341.8L803 343.4L802.8 345.1L802.3 347L801.8 348.4L801.1 350.3L800 351.4L799.3 353.1L798.6 354.6L797.5 355.9L796.8 357.3L796.4 358.9L796 361.4L796.9 362.6L797.7 364M338 112L339.4 112.7L339.1 115L340 116L339.7 117.6L339 119L340.5 120.3L340.9 120.7L342 122L342.3 123.9L341 126L342.1 127.5L344 128L342.5 129.9L343 132L344 133.2L344.9 134.4L346 135L346 137L345 139L346.2 139.8L346.9 140.7L348 142L350 143"/>
<path stroke-width="1.88" d="M734 315L734.9 315.4L737 317L738.1 318.3L739 320L738.2 320.7L738 323M860 315L861.2 314.8L863.6 315.3L864.4 313.9L866.8 314.7L868 313.4L869.7 312.3L871.4 314.1L872.7 312.9L874.7 311.8L876 312M867 302L868.5 303L869 304L868 306M878 303.4L879.9 304.2L881 305.2L882 305M885 329L886.6 330L888 331L889 333.4M825.6 518L827.1 518.4L828.6 519.7L830 520L832.1 521.2L831.6 522.7L834 523L834.8 524.5L836.2 524.7L836.9 526.3L839 526.4L840.1 527.1L841.1 529.5L843.2 528.3L844 530L845 530.9L846.3 531.1L847.3 532.2L849 533L851.2 534.5L852.9 534.3L854 535L854.9 535.9L856.3 536.1L857.9 537.4L859 538L860.3 539.7L862.4 540.4M864 531L865.3 531.7L865.4 533.4L867.9 533.1L868 535L869.1 536.6L870.9 536.8L871 538M872 535.6L872.7 537.5L874.3 538L875 540L876.7 541.4L877 543M879 544L880.4 546.4M839.6 519.6L840.4 520.4M842.6 521.6L843.4 522.4M845.6 518.6L846.4 519.4M848.6 523.6L849.4 524.4M846.6 525.6L847.4 526.4M850.6 520.6L851.4 521.4M851.6 516.6L852.4 517.4M849.6 528.6L850.4 529.4M852.6 530.6L853.4 531.4M883.6 539.6L884.4 540.4M886.6 537.6L887.4 538.4M877.6 537.6L878.4 538.4M879.6 534.6L880.4 535.4M940 432L941.5 431.2L943.2 433.6L944.4 432.9L946 433M943.6 461L944.1 463.1L944.2 464.3L944.8 466M589.6 700.4L591.2 699.4M405 609.4L406.2 609.9L408 610.6M543 650L543.5 648.2L544.4 646.6L545.6 645.2L547 643.4L548 646L547.5 647.7L546.8 649.8L546.4 651L546 652L546.4 654.4L545 655.4L544.6 656.6L543.6 658L542.1 656.4L542.4 654L542.6 652.2ZM531 679L532.5 680L533 682M488 759L490 757.4L491.6 758.6M445.1 224.3L448.4 224.2L446.9 220.1L449.4 221.7L451.9 221.9L452.9 223L452.1 220.1L455.6 221.5L456.3 219.1L457.4 218.9L459.7 220L458.7 221.3L462.3 221.3L462.3 223.4L459.4 225.4L458.9 225.1M829.2 352.9L829.5 354.1L829.8 355.9M808.6 78.6L810.1 79.4L809.8 81.1L811.1 82.9M753.7 142.8L755.7 142.4L757.1 141.1L758.8 140.8L758.9 144.3L760.6 143.7"/>
<path stroke-width="1.05" d="M785 251L783.9 252.2L786.3 253.8L785.8 256.3L786.1 257.2L787.7 258.6L788.5 259.5L789.4 260.4L790 262L791.6 263.6L791.1 263.8L791.5 266L792.4 267.8L792.8 268.4L793.8 269.6L794.2 271L792.6 273.4L795.8 274.1L795.6 275L795.6 276.9L796.2 278.3L796.8 279.9L797 281.4L798.4 282L799.1 283.7L799 285L798.2 286.3L797.9 289L797.4 289.2L797.9 291.5L797.6 293L796.5 294.4L797 296L798.9 296.1L799.7 297.3L801 298L801.7 298.8L802.8 300.3L802.9 300.9L802.1 303.2L804 304.7L804 306L805.2 308.4L803.8 309.7L803 311L803.8 312.3L803.8 313.7L805.3 314.1L804.9 316.8L805.6 317.7L805.6 319L805.4 320.6L804.7 321.3L805.1 323.3L805.4 324.5L805.6 326L805.6 328.6L803.7 329.1L804.2 330.3L806.6 331.6L804.4 334L804.4 335L804.1 336.3L803.7 338.1L803 340"/>
<path stroke-width="2.25" d="M841 315L842.7 315.3L844.1 315.5L844.5 316.7L845.9 318.1L847 319L848.7 319L851 320M854 311L854.7 310.5L856 309L857.4 310.4L859 311L857.3 312.8L858 314.6L856.5 314L855 314M867 367L868.1 367.5L869 369.8L869 371L868.1 371.8L868 374M912 359L914.2 358L916 358.6L918.2 359.4L919 360M898 502L898.8 503.5L901 504.6L901 506L902.4 504.4M911 511L912.3 512.1L914 512L912.4 510M949 530L950.7 530.5L952 529L952.9 530.6L955 531L956.7 532.1L958 532.4M858 524L859.8 524.3L860.1 527L862 527L862.8 527.5L865 528.9L866 530L868.1 530.8L868.7 531.5L870 533M881 426L882.5 426.5L884 427.6L885.3 427.2L887 426.4M963 426L963.4 427.3L964.4 429M803.6 570L806 568.8L808.4 568.4M811 568.8L811.9 567.1L814 567.6L816.4 567.2M770 581.6L771.6 582.4M675.6 649.6L676.8 649.8M418 603.4L419.9 603.4L422 602.6L423.5 602.1L426 602.2L427.8 603.3L429 602.6M747.6 340.4L748 341.8L749.6 342.4L750.9 343L751 345.1L752.2 346.5L754.7 345.8L755.7 346L757 347L758.4 347.2L760 347.3L761.8 347.9L762.9 349.3L763.8 349.9L765 351.2L766 352.9L766.4 354.2L767.2 355.1L767.7 356.7L768.2 358.6L769 360.1L768.6 362.1L770.3 363.1"/>
<path stroke-width="3.0" d="M890 309L891.8 310L892.2 311.8L892.6 313.2L893.8 313.5L895 315L895.8 316.3L896.3 317.9L895.2 319.9L898 321L897.9 322.8L899.6 324.6L900 326L899.5 327L898.4 328.5L898 330L900.4 329.2L902 331M892 317L893.6 317.3L894.6 319.3L896 320L898.4 320.3L899.1 320.9L901 321L902.7 320.7L904.4 320M609.2 683.4L611.2 682M573.6 695.8L575.8 694.7L576.8 694.6"/>
<path stroke-width="2.62" d="M862 388L864.2 388.3L866 387L865.2 388.9L865 391M874 403L875.5 402.7L876.9 401.2L879 401L880.6 401.5L882.5 401.8L883 403L884 404.1L884.1 406.3L885.3 407.1L886 409L886.9 409.9L886.1 412.7L886 414.3L887.4 415.7L888 417L887.2 418.4L887.3 420.9L888.6 421.5L887.8 423.7L887 425L884.9 424.7L883 426L883.3 424.6L882.8 423.4L882.4 421.8L882.8 419.5L882 419L880.2 417.8L880.7 415.7L880.8 414L879.6 413L879.3 411.7L876.5 410.7L877.7 409L876 408L876.1 405.8L873 405ZM741 478.4L742.4 479.2L744.5 479.1L746 480.4L747.3 481.1L748.6 482L751 482L752.4 483L753.7 484.5L756 484.4L757.3 484.1L759.3 486.3L761 485.2L762.6 484.6L764.9 484.9L766 485.6L767.3 485.8L770 485.2M918 512.4L919 513.9L920.8 514.2L923 514.4L924.4 513.2M515 692L516.6 690.9L517.2 691.1L519 690L520.5 688.2L521.6 688.6"/>
<path stroke-width="3.75" d="M878 405L879.6 406.2L879.8 406.9L881.2 408L880.5 410L882 411L883.9 412.9L881.8 414.8L883.7 415.3L885 417.3L884.4 419L883.6 420.2L884.7 421.9L885 423.7L885 425M881 407L880.4 408.9L882.2 410.6L883.4 411.4L884 413M790 448.4L791.3 449L792.7 449.8L794.4 451L796 451L798.3 450.9L800 451.6M832 468L834 468.6L835.3 468.9L836.9 468.1L837.8 468.2L840 468.4"/>
<path stroke-width="1.65" d="M480.2 465.8L481.8 466.4M481.6 471L483.2 471.6M483.6 473L485.2 473.6M425.8 482.2L427.4 482.8M395.8 523.4L397.4 524M398.2 525.8L399.8 526.4M406.8 550.8L408.4 551.4M720 500L722 499.9L723 501.6L725.6 503L727 502L728.7 502.5L730 501.2L731.8 501.7L734 502M736 500.4L737.4 500.7L738 499.8L740 499L742.3 497.4L744 498L745.6 498.6L747 499M941 649L942 650.2M562 603L562.6 603.4M562 608.4L562.8 608.8M538 629L539.1 627.7L540.1 626.5L541 625L541 623.5L542.3 622.6L543 621L544 619.2L542.8 618.1L544.4 617M438.4 656.2L439.6 657M433.4 664.6L434.6 665.4M435.4 674.6L436.6 675.4M430 684.6L431.2 685.4M453.4 751L454.6 751.8M468.8 753L470 753.8M543 715.6L544.2 716.4M513.4 766.6L514.6 767.4M440.9 220L440.8 222.2L442.6 223.4L444.4 225.5L446 225.1L447.2 224.9L449.7 223.3L450.3 223.8L451.1 222.6L451.3 221.5L453.7 220L454.5 218.2L455.1 217.4L457.5 216.2L458 214.8L460.1 215.3L461.4 216.6L463.5 217.4L463.9 218L464 220L464.2 221.5L464.9 223.4L463.5 226.1L462.3 223.1L461.4 226L460.7 225.9L459.3 225.8L457.1 226.4L455.6 225.2L454.2 223.4L452.9 225.1L451.1 226.2L450.2 226.5L448.6 226.4L447.9 227L446.3 225.7L443.4 226.4L440.9 226L440.6 224.2L441 223.9L440.1 221.1ZM767.7 356.7L770.3 355.9L772.2 355.5L772.8 357.1M773.3 376.4L773.9 376.8M797.7 364.9L797.3 367L796.5 367.4L796 369.1L795.3 370.5L794.7 373L794.6 374.8L794.6 377.8L791.7 376.8L789.6 376.1L789.1 379M795.1 414.1L797.7 413.5L799.4 413.5L801.1 412.8M810.5 411.6L811.8 412.8L812.7 413.7M822.3 75.1L820.4 76.4L818.8 76.7L817 77.3L815.4 78.6L814.6 80L812.5 80L812.8 81.6L811.1 82.9L810.1 83.6L808.6 85L807.5 86.9L807 86.4L804.3 87.9L803.4 87.6L802.5 88.3L800.9 90.5L799.1 90.6L797.5 91L796.2 92.2L794.8 92.7L792.6 92.8L793.1 94.4L791.4 95.7L789.5 97.1L789.1 97.2L788 99.1L786.3 100.2L785.9 101.4L784.6 101.7L782.1 102.6L783.8 104.4L781.1 105.1L779.5 106.6L779.1 108.2L777.7 109.4L776.3 111.3L775.1 112L775.5 114.7L773.9 115.3L771.7 116.3L772.2 118L770 118.9L767.9 119.2L768.3 121.4L767.3 122.7L766.5 124.5L766.2 125.3L765.7 126.6L765.2 128.1L764.3 130L763.8 131.1L763.1 132.6L762.1 134.1L761.5 135.7L760.8 136.9L759.7 137.7L757.4 138L758.4 139.7L756.6 140.9L755.8 141.8L755.4 143.7L753.7 145.2L753.5 145.6L752.9 147.1"/>
<path stroke-width="0.9" d="M574 503.6L575 504.8L576.3 505.7L577 507L577.5 509.3L579.5 509.4L579 512L580.2 513.8L578 515.7L580 517"/>
<path stroke-width="1.2" d="M660 478L661.7 478.1L662 476L661 474L661.7 472.5L663 471.6L664.7 470.4L665 469L665.9 467.5L667.2 467.1L669 466L670.2 465.5L672.1 465.2L673 464L674.2 462.7L675.5 462.3L677.4 461.1L678 460.8L680 460L681.7 458.6L683.6 459.9L685 457.6M481.1 214.8L479.9 217.1L478.7 217.1L476.8 218.3L476.2 220L475 221.4L472.6 220.8L470.3 220.6L470.1 222.8L468.3 223.8L466.6 224.2L464.9 225.1M511.1 187.4L512.7 188.8L512.8 190L512.7 191.4L513.3 193.4L511.7 194.8L512 196.8L510.6 198.4L509.8 200.3M768.1 367.4L769.6 368.7L768.6 370.8L769.7 372.9L770.7 373.4L772.4 374L773.7 373L776.3 372.1M780.6 373.8L782.3 372.3L781.3 370.9L784.8 372.1L787.9 371.6L788.1 373.7L789.1 371.3L791.6 372.3L792.6 369.1M779.7 378.1L781.4 380.3L783.6 379L785 378L785.7 381.1L784.8 382.8M802.8 348.6L802.4 349.9L801.9 351.5L802.2 353L801.6 354.6L801.2 356.3L800.6 357.5L800.7 359.4L800.1 360.6L799.4 362.3L798.6 364L797.7 364.9M340 116L338.1 117.2L337 117M344 128L346.1 128.4L347 126"/>
<path stroke-width="3.38" d="M748 480L749.9 481.1L751.5 481.7L753 482.4L754.8 482.7L756.1 483.3L758 483.6M774 443.6L775.4 444.7L777.8 445.6L778.9 447L781.4 445.6L782 446L783.7 445.4L784.9 447.6L786.7 446.8L786.9 448.4L790 447.6L791.7 449.5L793.5 448.6L795.6 448.3L795.1 452.3L798 450L798.7 451.9L800.6 450.9L801.5 451.6L804.7 451.8L804.9 453.4L806 454L807.5 455.1L809.1 453.9L810.4 457L811.9 455.7L813 457.6L815.3 457.7L815.8 459.6L818 459.7L819 461M862 473L863.7 472.9L864.7 473.4L866.4 474.2L868 475L869.4 475.8L871.4 476.9L872.6 477.5L874 478L874.9 477.1L877 479.9L877.7 480.5L879 482L881.2 482.4L881.5 483.7L881.4 486L883 486L882.4 488.5L884.6 488.9L886.5 488.6L887 489.2L888 491L888.5 491.9L888.6 493.9L891.4 493.6L892.4 494.7L893 496L893.9 496.1L896.2 495.8L895.1 500.2L896.7 499.9L898 501L899.2 502L900.7 501.7L902.1 503.8L902 505"/>
<path stroke-width="1.12" d="M700 492L700.3 494L701 495M764 500L765.1 499L767.5 498.9L769 499.6M552 702L551.4 703.6L552.4 705.2L554 706L555.9 706.4L557 706.6M507.7 196.8L508.6 195.6L509.6 194.3M744.1 396.1L744.6 397.2M749.3 396.1L750.1 396.7M752.7 395.7L753.1 396.6"/>
<path stroke-width="4.5" d="M830 466.4L831.2 466.4L832.1 465.3L834.6 465L836 466L837.3 467.1L839.2 465.9L840.8 466.5L842 465.6L843.6 467.3L845.4 465.7L847 464.5L848 467.2L849.8 467.8L851.5 467.9L851.7 469.7L854 469L855.8 469L856.9 470.5L857.7 471.1L860 471"/>
<path stroke-width="4.12" d="M870 478.4L872.3 478.8L873.8 480.7L873.7 481.1L874.3 483.4L876 483L876 484.3L877.8 486.4L878.9 485.8L881.1 486.6L881 488"/>
<path stroke-width="2.4" d="M585 689L586.1 687.4L588 687L590 687L590.4 686.1L592 685L594.1 685.2L594.9 685.8L597 683.8L598.6 683.6L600.1 684.1L602 683M768.3 114.6L766.7 117.3L769.6 118L767.8 118.9L770 121.4L767.1 122.7L768.3 124.8L767 126.6L765.9 128.5L766.6 129.1L765.4 129.1L767.1 133.8L764.9 133.4L763.6 135.6L763.7 136.1L762.3 137.7L761.7 139.3L760.6 139.5L759.7 141.1L758.1 142.2L759.4 143.5L757.1 144.6M764.3 140L762.3 141.9L761.7 142.6L761.4 144.7L759.1 145.1L757.4 145.6L757.8 147.7L757.4 150.3L760 151.5L759.6 153.7"/>
<path stroke-width="1.95" d="M780.3 93.1L781.1 95.7L782 98.3L783.1 100.1L784.6 100.8M787.1 91.9L787.5 90.4L789.7 90.6L792.3 91.4L792.9 92.9L791.4 94.9L790.2 96.4L788.8 97.4M754 142.6L752.2 144.4L756.6 144.3L756.1 145L755.7 147.7L756.3 147.6L758.3 149.4L754.3 148L756.6 152L758.7 152.9M760.8 141.7L761.4 142.6L762.6 144.3L762.6 146.4L760 146.9L760.1 149.9L760.4 150.3M751 208.6L751.7 209.9L751.1 212.5L752.3 212.8L754 214.6"/>
<path stroke-width="1.8" d="M763.1 120.6L765.8 119L765 122L766.6 123.1L766.5 124.7L764.6 125.7L764 126.6L763.9 129.1L765.7 130L763.9 129.4L762.6 131.8L762.3 133.4L764.2 134.1L763.6 136.8"/>
<path stroke-width="1.27" d="M759.6 170.8L759.5 172.5L760 174.3L760.4 175.7L761 177L761.1 178.4L761.5 179.7L761.7 181.1L762 182.7L762.8 183.9L763.2 185.1L763.4 186.6L763.8 188L764.8 189.1L764.8 190.8L765.4 192.2L766 193.3L766 194.8L766.3 196.3L766.8 197.8L767.5 199.1L767.4 200.6L768.6 201.7L768.6 203.4L769.2 204.6L769.3 206.1L769.3 207.8L770.6 208.9L770.4 210.6L771.4 211.8L771.8 213.4L772 214.6"/>
</g>
<text x="140" y="789" text-anchor="middle" font-size="23.2" textLength="71.3" lengthAdjust="spacingAndGlyphs">100°W</text>
<text x="306.8" y="789" text-anchor="middle" font-size="23.2" textLength="58.1" lengthAdjust="spacingAndGlyphs">95°W</text>
<text x="473.6" y="789" text-anchor="middle" font-size="23.2" textLength="58.1" lengthAdjust="spacingAndGlyphs">90°W</text>
<text x="640.4" y="789" text-anchor="middle" font-size="23.2" textLength="58.1" lengthAdjust="spacingAndGlyphs">85°W</text>
<text x="807.2" y="789" text-anchor="middle" font-size="23.2" textLength="58.1" lengthAdjust="spacingAndGlyphs">80°W</text>
<text x="133" y="707.7" text-anchor="end" font-size="23.2" textLength="52.9" lengthAdjust="spacingAndGlyphs">16°N</text>
<text x="133" y="566.7" text-anchor="end" font-size="23.2" textLength="52.9" lengthAdjust="spacingAndGlyphs">20°N</text>
<text x="133" y="422.7" text-anchor="end" font-size="23.2" textLength="52.9" lengthAdjust="spacingAndGlyphs">24°N</text>
<text x="133" y="273.7" text-anchor="end" font-size="23.2" textLength="52.9" lengthAdjust="spacingAndGlyphs">28°N</text>
<text x="133" y="119.7" text-anchor="end" font-size="23.2" textLength="52.9" lengthAdjust="spacingAndGlyphs">32°N</text>
<defs><linearGradient id="jet" x1="0" y1="1" x2="0" y2="0">
<stop offset="0" stop-color="#00007f"/><stop offset="0.125" stop-color="#0000ff"/>
<stop offset="0.375" stop-color="#00ffff"/><stop offset="0.625" stop-color="#ffff00"/>
<stop offset="0.875" stop-color="#ff0000"/><stop offset="1" stop-color="#7f0000"/>
</linearGradient></defs>
<rect x="989.3" y="75.5" width="34.3" height="692.4" fill="url(#jet)" stroke="#262626" stroke-width="1"/>
<text x="1031.8" y="85.4" font-size="27.5" fill="#262626" textLength="32" lengthAdjust="spacingAndGlyphs">50</text>
<text x="1031.8" y="154.2" font-size="27.5" fill="#262626" textLength="32" lengthAdjust="spacingAndGlyphs">20</text>
<text x="1031.8" y="206.2" font-size="27.5" fill="#262626" textLength="32" lengthAdjust="spacingAndGlyphs">10</text>
<text x="1031.8" y="257.8" font-size="27.5" fill="#262626" textLength="16" lengthAdjust="spacingAndGlyphs">5</text>
<text x="1031.8" y="323.1" font-size="27.5" fill="#262626" textLength="16" lengthAdjust="spacingAndGlyphs">2</text>
<text x="1031.8" y="365.3" font-size="27.5" fill="#262626" textLength="16" lengthAdjust="spacingAndGlyphs">1</text>
<text x="1031.8" y="431.6" font-size="27.5" fill="#262626" textLength="16" lengthAdjust="spacingAndGlyphs">0</text>
<text x="1031.8" y="497.9" font-size="27.5" fill="#262626" textLength="25.5" lengthAdjust="spacingAndGlyphs">-1</text>
<text x="1031.8" y="540.1" font-size="27.5" fill="#262626" textLength="25.5" lengthAdjust="spacingAndGlyphs">-2</text>
<text x="1031.8" y="605.4" font-size="27.5" fill="#262626" textLength="25.5" lengthAdjust="spacingAndGlyphs">-5</text>
<text x="1031.8" y="657" font-size="27.5" fill="#262626" textLength="41.5" lengthAdjust="spacingAndGlyphs">-10</text>
<text x="1031.8" y="709" font-size="27.5" fill="#262626" textLength="41.5" lengthAdjust="spacingAndGlyphs">-20</text>
<text x="1031.8" y="777.8" font-size="27.5" fill="#262626" textLength="41.5" lengthAdjust="spacingAndGlyphs">-50</text>
<path d="M1016.1 144.3H1023.6M1016.1 196.3H1023.6M1016.1 247.9H1023.6M1016.1 313.2H1023.6M1016.1 355.4H1023.6M1016.1 421.7H1023.6M1016.1 488H1023.6M1016.1 530.2H1023.6M1016.1 595.5H1023.6M1016.1 647.1H1023.6M1016.1 699.1H1023.6" stroke="#262626" stroke-width="1" fill="none"/>
</svg></body></html>
